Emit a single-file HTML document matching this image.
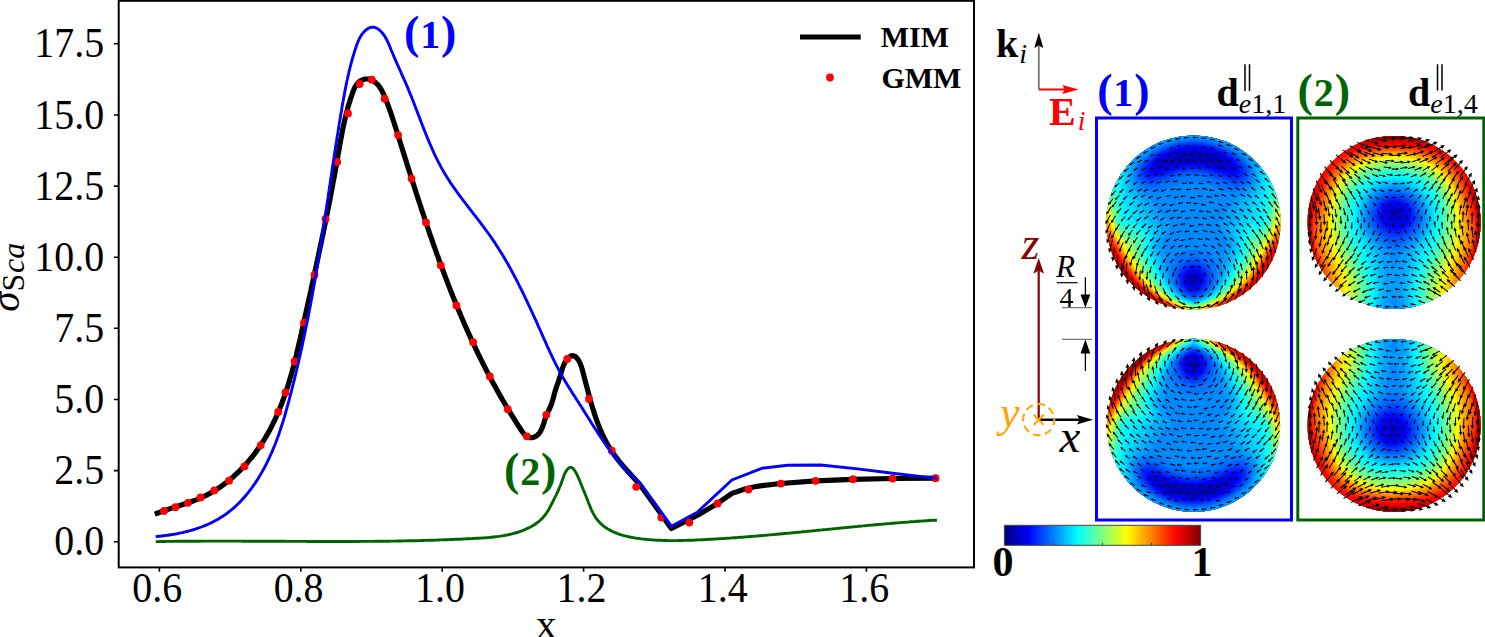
<!DOCTYPE html>
<html><head><meta charset="utf-8"><style>
html,body{margin:0;padding:0;background:#fff;overflow:hidden;width:1485px;height:637px}
svg{display:block}
text{font-family:"Liberation Serif", serif}
</style></head><body>
<svg width="1485" height="637" viewBox="0 0 1485 637" font-family='"Liberation Serif", serif'><path d="M157.2 541.6L158.9 541.6L160.6 541.5L162.3 541.5L164.1 541.5L165.8 541.5L167.5 541.4L169.2 541.4L170.9 541.4L172.6 541.4L174.3 541.4L176.1 541.3L177.8 541.3L179.5 541.3L181.2 541.3L182.9 541.3L184.6 541.3L186.3 541.2L188.0 541.2L189.8 541.2L191.5 541.2L193.2 541.2L194.9 541.2L196.6 541.2L198.3 541.2L200.0 541.2L201.7 541.1L203.4 541.1L205.1 541.1L206.9 541.1L208.6 541.1L210.3 541.1L212.0 541.1L213.7 541.1L215.4 541.1L217.1 541.1L218.8 541.1L220.5 541.1L222.2 541.1L223.9 541.1L225.7 541.1L227.4 541.1L229.1 541.1L230.8 541.1L232.5 541.1L234.2 541.1L235.9 541.1L237.6 541.1L239.3 541.1L241.0 541.1L242.7 541.2L244.4 541.2L246.1 541.2L247.8 541.2L249.5 541.2L251.3 541.2L253.0 541.2L254.7 541.2L256.4 541.2L258.1 541.2L259.8 541.2L261.5 541.2L263.2 541.2L264.9 541.2L266.6 541.3L268.3 541.3L270.0 541.3L271.7 541.3L273.4 541.3L275.1 541.3L276.8 541.3L278.5 541.3L280.2 541.3L281.9 541.3L283.6 541.3L285.3 541.3L287.1 541.4L288.8 541.4L290.5 541.4L292.2 541.4L293.9 541.4L295.6 541.4L297.3 541.4L299.0 541.4L300.7 541.4L302.4 541.4L304.1 541.4L305.8 541.4L307.5 541.5L309.2 541.5L310.9 541.5L312.6 541.5L314.3 541.5L316.0 541.5L317.7 541.5L319.4 541.5L321.1 541.5L322.8 541.5L324.5 541.5L326.2 541.5L327.9 541.5L329.6 541.5L331.4 541.5L333.1 541.5L334.8 541.5L336.5 541.5L338.2 541.5L339.9 541.5L341.6 541.5L343.3 541.5L345.0 541.5L346.7 541.5L348.4 541.5L350.1 541.5L351.8 541.5L353.5 541.5L355.2 541.5L356.9 541.5L358.6 541.5L360.3 541.4L362.0 541.4L363.7 541.4L365.4 541.4L367.1 541.4L368.8 541.4L370.6 541.4L372.3 541.4L374.0 541.4L375.7 541.3L377.4 541.3L379.1 541.3L380.8 541.3L382.5 541.3L384.2 541.2L385.9 541.2L387.6 541.2L389.3 541.2L391.0 541.1L392.7 541.1L394.4 541.1L396.1 541.1L397.9 541.0L399.6 541.0L401.3 541.0L403.0 540.9L404.7 540.9L406.4 540.9L408.1 540.8L409.8 540.8L411.5 540.8L413.2 540.7L414.9 540.7L416.6 540.7L418.4 540.6L420.1 540.6L421.8 540.5L423.5 540.5L425.2 540.4L426.9 540.4L428.6 540.3L430.3 540.3L432.0 540.2L433.7 540.2L435.5 540.1L437.2 540.1L438.9 540.0L440.6 539.9L442.3 539.9L444.0 539.8L445.7 539.7L447.4 539.7L449.2 539.6L450.9 539.5L452.6 539.5L454.3 539.4L456.0 539.3L457.7 539.3L459.4 539.2L461.2 539.1L462.9 539.0L464.6 538.9L466.3 538.8L468.0 538.8L469.7 538.7L471.4 538.6L473.2 538.5L474.9 538.4L476.6 538.3L478.3 538.2L480.0 538.1L481.7 538.0L483.5 537.9L485.2 537.8L486.9 537.6L488.6 537.5L490.3 537.3L492.0 537.2L493.7 537.0L495.4 536.8L497.1 536.6L498.8 536.4L500.5 536.1L502.1 535.9L503.8 535.6L505.5 535.3L507.1 535.0L508.8 534.6L510.4 534.3L512.1 533.9L513.7 533.4L515.3 533.0L516.9 532.5L518.5 532.0L520.1 531.5L521.7 530.9L523.3 530.3L524.9 529.6L526.4 528.9L528.0 528.2L529.5 527.5L531.0 526.7L532.5 525.8L534.0 525.0L535.4 524.0L536.8 523.0L538.2 522.0L539.5 520.9L540.7 519.8L542.0 518.6L543.1 517.4L544.2 516.0L545.3 514.7L546.3 513.3L547.3 511.8L548.2 510.4L549.1 508.9L549.9 507.3L550.7 505.8L551.5 504.3L552.3 502.7L553.1 501.2L553.8 499.6L554.6 498.1L555.3 496.6L556.1 495.1L556.8 493.6L557.5 492.1L558.2 490.6L558.8 489.1L559.5 487.5L560.2 486.0L560.8 484.4L561.4 482.8L562.0 481.1L562.6 479.4L563.2 477.7L563.8 476.0L564.5 474.3L565.2 472.7L566.1 471.1L567.1 469.7L568.2 468.5L569.8 467.4L571.4 467.4L573.0 468.5L574.1 469.8L575.1 471.3L576.1 472.9L576.9 474.5L577.7 476.1L578.4 477.8L579.1 479.4L579.8 481.0L580.4 482.6L581.1 484.2L581.7 485.8L582.4 487.3L583.0 488.9L583.6 490.4L584.3 491.9L584.9 493.5L585.5 495.0L586.1 496.6L586.8 498.2L587.4 499.8L588.0 501.4L588.6 503.0L589.3 504.6L589.9 506.2L590.6 507.8L591.3 509.5L592.0 511.0L592.8 512.6L593.6 514.1L594.4 515.6L595.3 517.1L596.3 518.5L597.3 519.8L598.4 521.1L599.6 522.4L600.7 523.6L602.0 524.7L603.3 525.8L604.6 526.8L606.0 527.8L607.4 528.7L608.9 529.6L610.4 530.4L611.9 531.2L613.4 531.9L615.0 532.6L616.5 533.2L618.1 533.8L619.7 534.4L621.4 534.9L623.0 535.4L624.7 535.8L626.3 536.2L628.0 536.6L629.7 537.0L631.4 537.3L633.1 537.6L634.8 537.9L636.5 538.2L638.2 538.4L639.9 538.6L641.6 538.9L643.3 539.1L645.0 539.2L646.8 539.4L648.5 539.6L650.2 539.7L651.9 539.9L653.6 540.0L655.3 540.1L657.0 540.2L658.7 540.3L660.4 540.3L662.1 540.4L663.8 540.5L665.5 540.5L667.2 540.5L668.9 540.6L670.6 540.6L672.3 540.6L674.0 540.6L675.7 540.6L677.4 540.6L679.2 540.5L680.9 540.5L682.6 540.5L684.3 540.4L686.0 540.4L687.7 540.3L689.4 540.3L691.1 540.2L692.8 540.2L694.5 540.1L696.2 540.0L697.9 539.9L699.6 539.9L701.3 539.8L703.0 539.7L704.7 539.6L706.4 539.5L708.1 539.4L709.8 539.3L711.5 539.2L713.2 539.1L714.9 539.0L716.6 538.9L718.3 538.8L720.0 538.7L721.7 538.6L723.4 538.5L725.1 538.4L726.8 538.3L728.5 538.2L730.2 538.1L731.9 537.9L733.6 537.8L735.3 537.7L737.0 537.6L738.7 537.4L740.4 537.3L742.1 537.2L743.8 537.1L745.5 536.9L747.2 536.8L748.9 536.7L750.6 536.5L752.3 536.4L754.0 536.2L755.7 536.1L757.4 536.0L759.1 535.8L760.8 535.7L762.5 535.5L764.2 535.4L765.9 535.2L767.6 535.1L769.3 534.9L771.0 534.8L772.7 534.6L774.4 534.5L776.1 534.3L777.8 534.2L779.5 534.0L781.2 533.8L783.0 533.7L784.7 533.5L786.4 533.4L788.1 533.2L789.8 533.1L791.5 532.9L793.2 532.7L794.9 532.6L796.6 532.4L798.3 532.2L800.0 532.1L801.7 531.9L803.4 531.7L805.1 531.6L806.8 531.4L808.5 531.2L810.2 531.1L811.9 530.9L813.6 530.7L815.3 530.6L817.0 530.4L818.7 530.2L820.4 530.1L822.1 529.9L823.8 529.7L825.5 529.6L827.2 529.4L828.9 529.2L830.6 529.1L832.3 528.9L834.0 528.7L835.7 528.6L837.4 528.4L839.1 528.2L840.8 528.1L842.5 527.9L844.2 527.7L845.9 527.6L847.6 527.4L849.3 527.2L851.0 527.1L852.7 526.9L854.4 526.7L856.1 526.6L857.8 526.4L859.5 526.2L861.2 526.1L862.9 525.9L864.6 525.8L866.3 525.6L868.0 525.4L869.7 525.3L871.4 525.1L873.1 525.0L874.8 524.8L876.5 524.7L878.2 524.5L879.9 524.4L881.6 524.2L883.3 524.1L885.0 523.9L886.7 523.8L888.4 523.6L890.1 523.5L891.8 523.3L893.5 523.2L895.2 523.0L896.9 522.9L898.6 522.8L900.3 522.6L902.0 522.5L903.7 522.4L905.4 522.2L907.1 522.1L908.8 522.0L910.5 521.8L912.2 521.7L914.0 521.6L915.7 521.5L917.4 521.3L919.1 521.2L920.8 521.1L922.5 521.0L924.2 520.9L925.9 520.8L927.6 520.7L929.3 520.5L931.0 520.4L932.7 520.3L934.4 520.2L935.5 520.2" fill="none" stroke="#006400" stroke-width="2.9" stroke-linejoin="round" stroke-linecap="square"/>
<path d="M157.3 513.3L158.7 512.8L160.1 512.2L161.5 511.6L163.0 511.1L164.4 510.6L165.9 510.1L167.3 509.6L168.8 509.1L170.3 508.6L171.7 508.1L173.2 507.6L174.7 507.1L176.2 506.7L177.7 506.2L179.1 505.7L180.6 505.2L182.1 504.8L183.6 504.3L185.1 503.8L186.5 503.3L188.0 502.8L189.5 502.3L191.0 501.8L192.4 501.2L193.9 500.7L195.3 500.1L196.8 499.6L198.2 499.0L199.6 498.4L201.0 497.7L202.5 497.1L203.9 496.4L205.2 495.8L206.6 495.1L208.0 494.4L209.4 493.6L210.7 492.9L212.1 492.1L213.4 491.3L214.7 490.5L216.0 489.7L217.3 488.9L218.6 488.0L219.9 487.2L221.2 486.3L222.4 485.4L223.7 484.5L224.9 483.5L226.2 482.6L227.4 481.7L228.6 480.7L229.8 479.7L231.0 478.7L232.2 477.7L233.4 476.7L234.5 475.6L235.7 474.6L236.8 473.5L237.9 472.5L239.1 471.4L240.2 470.3L241.3 469.2L242.3 468.0L243.4 466.9L244.5 465.8L245.5 464.6L246.6 463.5L247.6 462.3L248.6 461.1L249.6 459.9L250.6 458.7L251.6 457.5L252.6 456.3L253.5 455.1L254.5 453.9L255.4 452.6L256.3 451.4L257.2 450.1L258.1 448.8L259.0 447.6L259.9 446.3L260.7 445.0L261.6 443.7L262.4 442.4L263.3 441.1L264.1 439.8L264.9 438.5L265.7 437.2L266.4 435.9L267.2 434.5L268.0 433.2L268.7 431.9L269.5 430.5L270.2 429.2L270.9 427.8L271.6 426.4L272.3 425.1L273.0 423.7L273.6 422.3L274.3 420.9L275.0 419.6L275.6 418.2L276.2 416.8L276.9 415.4L277.5 414.0L278.1 412.6L278.7 411.1L279.3 409.7L279.9 408.3L280.4 406.9L281.0 405.4L281.6 404.0L282.1 402.6L282.6 401.1L283.2 399.7L283.7 398.2L284.2 396.8L284.7 395.3L285.2 393.9L285.7 392.4L286.2 391.0L286.7 389.5L287.2 388.0L287.7 386.5L288.1 385.1L288.6 383.6L289.0 382.1L289.5 380.6L289.9 379.1L290.4 377.6L290.8 376.2L291.2 374.7L291.6 373.2L292.1 371.7L292.5 370.2L292.9 368.7L293.3 367.2L293.7 365.7L294.1 364.1L294.5 362.6L294.8 361.1L295.2 359.6L295.6 358.1L296.0 356.6L296.4 355.1L296.7 353.6L297.1 352.0L297.4 350.5L297.8 349.0L298.2 347.5L298.5 346.0L298.9 344.4L299.2 342.9L299.6 341.4L299.9 339.9L300.3 338.3L300.6 336.8L300.9 335.3L301.3 333.8L301.6 332.2L302.0 330.7L302.3 329.2L302.6 327.7L303.0 326.2L303.3 324.6L303.6 323.1L304.0 321.6L304.3 320.1L304.7 318.5L305.0 317.0L305.3 315.5L305.7 314.0L306.0 312.5L306.3 311.0L306.7 309.4L307.0 307.9L307.3 306.4L307.7 304.9L308.0 303.4L308.3 301.9L308.7 300.3L309.0 298.8L309.3 297.3L309.7 295.8L310.0 294.3L310.3 292.8L310.7 291.3L311.0 289.8L311.3 288.2L311.7 286.7L312.0 285.2L312.3 283.7L312.7 282.2L313.0 280.7L313.3 279.2L313.6 277.7L314.0 276.2L314.3 274.7L314.6 273.1L315.0 271.6L315.3 270.1L315.6 268.6L315.9 267.1L316.3 265.6L316.6 264.1L316.9 262.6L317.2 261.1L317.6 259.6L317.9 258.1L318.2 256.6L318.5 255.0L318.8 253.5L319.2 252.0L319.5 250.5L319.8 249.0L320.1 247.5L320.4 246.0L320.8 244.5L321.1 243.0L321.4 241.5L321.7 240.0L322.0 238.5L322.3 237.0L322.7 235.5L323.0 233.9L323.3 232.4L323.6 230.9L323.9 229.4L324.2 227.9L324.5 226.4L324.8 224.9L325.1 223.4L325.5 221.9L325.8 220.4L326.1 218.9L326.4 217.4L326.7 215.8L327.0 214.3L327.3 212.8L327.6 211.3L327.9 209.8L328.2 208.3L328.5 206.8L328.8 205.3L329.1 203.7L329.4 202.2L329.7 200.7L330.0 199.2L330.3 197.7L330.5 196.2L330.8 194.7L331.1 193.1L331.4 191.6L331.7 190.1L332.0 188.6L332.3 187.1L332.6 185.6L332.8 184.0L333.1 182.5L333.4 181.0L333.7 179.5L334.0 178.0L334.3 176.4L334.5 174.9L334.8 173.4L335.1 171.9L335.4 170.3L335.6 168.8L335.9 167.3L336.2 165.8L336.4 164.2L336.7 162.7L337.0 161.2L337.2 159.7L337.5 158.1L337.8 156.6L338.0 155.1L338.3 153.5L338.6 152.0L338.8 150.5L339.1 148.9L339.4 147.4L339.6 145.9L339.9 144.3L340.2 142.8L340.5 141.3L340.7 139.8L341.0 138.2L341.3 136.7L341.6 135.2L341.9 133.6L342.2 132.1L342.5 130.6L342.8 129.1L343.1 127.6L343.4 126.0L343.8 124.5L344.1 123.0L344.4 121.5L344.8 120.0L345.1 118.5L345.5 116.9L345.9 115.4L346.2 113.9L346.6 112.4L347.0 110.9L347.4 109.4L347.8 107.9L348.2 106.4L348.7 104.9L349.1 103.4L349.6 102.0L350.0 100.5L350.5 99.0L351.0 97.5L351.5 96.0L352.0 94.6L352.5 93.1L353.0 91.6L353.6 90.2L354.2 88.8L354.8 87.4L355.6 86.1L356.4 84.8L357.8 83.0L358.9 82.0L360.1 81.1L361.5 80.3L363.0 79.7L364.5 79.2L366.1 79.0L367.6 79.0L369.1 79.2L370.6 79.6L372.0 80.2L373.3 80.9L374.6 81.8L375.8 82.8L376.9 83.8L378.0 84.9L379.0 86.1L379.9 87.4L380.7 88.7L381.5 90.0L382.2 91.4L382.9 92.8L383.6 94.2L384.2 95.6L384.8 97.1L385.4 98.5L386.0 100.0L386.6 101.5L387.2 102.9L387.7 104.4L388.3 105.9L388.8 107.3L389.3 108.8L389.8 110.3L390.4 111.7L390.9 113.2L391.4 114.7L391.9 116.1L392.4 117.6L392.8 119.1L393.3 120.5L393.8 122.0L394.3 123.5L394.7 124.9L395.2 126.4L395.7 127.9L396.1 129.3L396.6 130.8L397.1 132.3L397.5 133.7L398.0 135.2L398.4 136.7L398.9 138.1L399.4 139.6L399.8 141.1L400.3 142.6L400.7 144.0L401.2 145.5L401.6 147.0L402.1 148.4L402.6 149.9L403.0 151.4L403.5 152.9L404.0 154.3L404.4 155.8L404.9 157.3L405.3 158.8L405.8 160.2L406.3 161.7L406.7 163.2L407.2 164.7L407.7 166.1L408.1 167.6L408.6 169.1L409.1 170.6L409.5 172.0L410.0 173.5L410.5 175.0L410.9 176.5L411.4 177.9L411.9 179.4L412.3 180.9L412.8 182.4L413.3 183.8L413.8 185.3L414.2 186.8L414.7 188.3L415.2 189.7L415.7 191.2L416.1 192.7L416.6 194.2L417.1 195.6L417.6 197.1L418.0 198.6L418.5 200.1L419.0 201.5L419.5 203.0L420.0 204.5L420.5 206.0L420.9 207.4L421.4 208.9L421.9 210.4L422.4 211.8L422.9 213.3L423.4 214.8L423.9 216.3L424.4 217.7L424.8 219.2L425.3 220.7L425.8 222.1L426.3 223.6L426.8 225.1L427.3 226.6L427.8 228.0L428.3 229.5L428.8 231.0L429.3 232.4L429.8 233.9L430.3 235.4L430.8 236.8L431.4 238.3L431.9 239.8L432.4 241.2L432.9 242.7L433.4 244.2L433.9 245.6L434.4 247.1L435.0 248.5L435.5 250.0L436.0 251.5L436.5 252.9L437.0 254.4L437.6 255.8L438.1 257.3L438.6 258.8L439.1 260.2L439.7 261.7L440.2 263.1L440.7 264.6L441.3 266.0L441.8 267.5L442.4 268.9L442.9 270.4L443.4 271.8L444.0 273.3L444.5 274.7L445.1 276.2L445.6 277.6L446.2 279.1L446.7 280.5L447.3 282.0L447.8 283.4L448.4 284.9L449.0 286.3L449.5 287.7L450.1 289.2L450.6 290.6L451.2 292.1L451.8 293.5L452.4 294.9L452.9 296.4L453.5 297.8L454.1 299.2L454.7 300.7L455.2 302.1L455.8 303.5L456.4 305.0L457.0 306.4L457.6 307.8L458.2 309.2L458.8 310.7L459.4 312.1L460.0 313.5L460.6 314.9L461.2 316.4L461.8 317.8L462.4 319.2L463.0 320.6L463.6 322.0L464.2 323.4L464.8 324.8L465.5 326.3L466.1 327.7L466.7 329.1L467.3 330.5L468.0 331.9L468.6 333.3L469.2 334.7L469.9 336.1L470.5 337.5L471.1 338.9L471.8 340.3L472.4 341.7L473.1 343.1L473.7 344.5L474.4 345.9L475.1 347.3L475.7 348.7L476.4 350.1L477.0 351.5L477.7 352.9L478.4 354.3L479.1 355.7L479.7 357.0L480.4 358.4L481.1 359.8L481.8 361.2L482.5 362.6L483.2 364.0L483.9 365.3L484.6 366.7L485.3 368.1L486.0 369.5L486.7 370.9L487.4 372.2L488.1 373.6L488.8 375.0L489.6 376.4L490.3 377.7L491.0 379.1L491.7 380.5L492.5 381.8L493.2 383.2L494.0 384.6L494.7 385.9L495.5 387.3L496.2 388.6L497.0 390.0L497.7 391.4L498.5 392.7L499.2 394.1L500.0 395.4L500.8 396.8L501.6 398.1L502.3 399.5L503.1 400.9L503.9 402.2L504.7 403.5L505.5 404.9L506.3 406.2L507.1 407.6L507.9 408.9L508.7 410.3L509.5 411.6L510.3 413.0L511.2 414.3L512.0 415.6L512.8 417.0L513.7 418.3L514.5 419.7L515.3 421.0L516.2 422.3L517.0 423.7L517.9 425.0L518.7 426.3L519.6 427.6L520.5 429.0L521.3 430.3L522.2 431.6L523.1 432.8L524.6 434.6L526.1 436.0L527.8 437.1L529.6 437.7L531.7 437.7L533.9 437.2L535.3 436.6L537.1 435.4L538.7 433.8L539.7 432.6L540.5 431.3L541.2 429.9L541.9 428.4L542.5 426.9L543.1 425.3L543.7 423.6L544.2 422.0L544.7 420.3L545.2 418.7L545.8 417.1L546.3 415.6L547.0 414.1L547.6 412.7L548.3 411.3L548.9 409.9L549.6 408.6L550.5 406.5L551.1 405.1L551.6 403.7L552.1 402.2L552.5 400.7L553.0 399.2L553.4 397.7L553.8 396.2L554.1 394.6L554.5 393.1L555.0 391.7L555.4 390.2L556.1 388.1L556.8 386.0L557.6 383.9L558.4 381.8L558.8 380.3L559.3 378.8L559.8 377.3L560.2 375.8L560.7 374.2L561.1 372.6L561.6 371.1L562.1 369.5L562.6 367.9L563.2 366.4L563.8 364.9L564.5 363.4L565.2 362.0L566.1 360.7L567.0 359.4L568.0 358.2L569.6 356.8L571.3 355.8L573.0 355.6L574.7 356.2L576.3 357.4L577.3 358.6L578.3 359.9L579.1 361.4L579.9 362.9L580.5 364.4L581.1 365.9L581.6 367.4L582.0 368.9L582.5 370.4L582.9 371.9L583.3 373.4L583.7 374.9L584.1 376.4L584.4 377.9L584.8 379.4L585.2 380.9L585.6 382.4L586.0 383.9L586.4 385.4L586.8 386.9L587.2 388.4L587.6 389.9L588.0 391.4L588.4 392.9L588.8 394.5L589.2 396.0L589.6 397.5L590.0 399.0L590.4 400.5L590.9 402.0L591.3 403.5L591.7 405.0L592.2 406.5L592.6 408.0L593.1 409.4L593.6 410.9L594.0 412.4L594.5 413.9L595.0 415.4L595.5 416.8L596.0 418.3L596.5 419.8L597.0 421.2L597.6 422.7L598.1 424.1L598.7 425.6L599.3 427.0L599.8 428.4L600.4 429.8L601.1 431.3L601.7 432.7L602.3 434.1L603.0 435.5L603.6 436.9L604.3 438.2L605.0 439.6L605.7 441.0L606.4 442.3L607.2 443.7L607.9 445.0L608.7 446.3L609.5 447.7L610.3 449.0L611.2 450.3L612.0 451.6L612.9 452.9L613.8 454.1L614.7 455.4L615.6 456.6L616.5 457.9L617.5 459.1L618.4 460.4L619.4 461.6L620.4 462.8L621.4 464.0L622.4 465.2L623.4 466.4L624.4 467.6L625.5 468.7L626.5 469.9L627.5 471.1L628.6 472.2L629.6 473.4L630.7 474.5L631.7 475.7L632.7 476.8L633.8 478.0L634.8 479.1L635.9 480.2L636.9 481.3L637.9 482.4L639.0 483.6L640.0 484.7L671.4 528.5L700.5 513.6L717.6 503.4L731.9 493.4L745.0 489.0L757.0 486.3L780.9 483.5L815.6 480.9L852.9 479.3L892.6 478.5L935.5 478.2" fill="none" stroke="#000" stroke-width="5.2" stroke-linejoin="round" stroke-linecap="square"/>
<g fill="#ff0000"><circle cx="164.0" cy="510.9" r="3.9"/><circle cx="175.5" cy="507.2" r="3.9"/><circle cx="187.9" cy="502.8" r="3.9"/><circle cx="200.6" cy="497.4" r="3.9"/><circle cx="214.3" cy="490.4" r="3.9"/><circle cx="229.1" cy="480.7" r="3.9"/><circle cx="244.4" cy="466.4" r="3.9"/><circle cx="260.7" cy="445.3" r="3.9"/><circle cx="278.2" cy="412.0" r="3.9"/><circle cx="285.5" cy="392.5" r="3.9"/><circle cx="294.6" cy="361.5" r="3.9"/><circle cx="304.0" cy="322.6" r="3.9"/><circle cx="314.5" cy="274.9" r="3.9"/><circle cx="325.5" cy="219.0" r="3.9"/><circle cx="337.1" cy="162.0" r="3.9"/><circle cx="348.0" cy="113.4" r="3.9"/><circle cx="359.7" cy="84.0" r="3.9"/><circle cx="371.8" cy="79.7" r="3.9"/><circle cx="384.6" cy="98.7" r="3.9"/><circle cx="398.1" cy="135.1" r="3.9"/><circle cx="411.5" cy="178.6" r="3.9"/><circle cx="426.0" cy="222.5" r="3.9"/><circle cx="440.8" cy="265.3" r="3.9"/><circle cx="456.4" cy="305.4" r="3.9"/><circle cx="473.1" cy="342.2" r="3.9"/><circle cx="489.8" cy="376.4" r="3.9"/><circle cx="507.8" cy="409.2" r="3.9"/><circle cx="526.8" cy="436.3" r="3.9"/><circle cx="546.3" cy="414.8" r="3.9"/><circle cx="567.2" cy="359.0" r="3.9"/><circle cx="589.0" cy="399.0" r="3.9"/><circle cx="611.8" cy="450.7" r="3.9"/><circle cx="636.2" cy="486.8" r="3.9"/><circle cx="661.3" cy="517.6" r="3.9"/><circle cx="689.3" cy="522.6" r="3.9"/><circle cx="717.6" cy="503.5" r="3.9"/><circle cx="748.5" cy="489.5" r="3.9"/><circle cx="780.9" cy="483.6" r="3.9"/><circle cx="815.6" cy="480.8" r="3.9"/><circle cx="852.9" cy="479.2" r="3.9"/><circle cx="892.6" cy="478.5" r="3.9"/><circle cx="935.6" cy="478.2" r="3.9"/></g>
<path d="M157.2 536.4L159.4 536.2L161.6 536.0L163.1 535.8L164.6 535.6L166.1 535.4L167.6 535.3L169.1 535.0L170.6 534.8L172.1 534.6L173.6 534.3L175.1 534.1L176.6 533.8L178.0 533.5L179.5 533.2L181.0 532.9L182.5 532.6L184.0 532.2L185.4 531.9L186.9 531.5L188.4 531.1L189.8 530.7L191.3 530.3L192.8 529.9L194.2 529.5L195.6 529.0L197.1 528.5L198.5 528.0L199.9 527.5L201.3 527.0L202.7 526.5L204.1 525.9L205.5 525.3L207.6 524.5L209.6 523.5L211.6 522.6L213.6 521.6L215.6 520.5L217.6 519.4L219.5 518.3L221.4 517.1L223.3 515.9L225.1 514.7L226.9 513.4L228.7 512.0L230.4 510.6L232.2 509.2L233.8 507.8L235.5 506.3L237.1 504.7L238.7 503.2L240.3 501.6L241.9 499.9L242.9 498.8L243.9 497.7L244.9 496.6L245.8 495.4L246.8 494.3L247.8 493.1L248.7 491.9L249.6 490.7L250.6 489.5L251.5 488.3L252.4 487.1L253.2 485.9L254.1 484.6L255.0 483.4L255.8 482.1L256.6 480.8L257.5 479.5L258.3 478.2L259.1 476.9L259.9 475.6L260.7 474.3L261.4 473.0L262.2 471.7L262.9 470.3L263.7 469.0L264.4 467.7L265.1 466.3L265.8 465.0L266.5 463.6L267.2 462.2L267.8 460.9L268.5 459.5L269.2 458.1L269.8 456.7L270.4 455.4L271.0 454.0L271.7 452.6L272.3 451.2L272.8 449.8L273.4 448.4L274.0 447.0L274.6 445.6L275.1 444.2L275.7 442.8L276.2 441.4L276.7 440.0L277.5 437.9L278.3 435.8L279.0 433.7L279.7 431.6L280.4 429.5L281.1 427.3L281.8 425.2L282.5 423.1L283.2 420.9L283.8 418.8L284.5 416.6L285.1 414.5L285.7 412.3L286.3 410.2L286.9 408.0L287.5 405.8L288.1 403.7L288.7 401.5L289.3 399.4L289.8 397.2L290.4 395.0L291.0 392.8L291.5 390.7L292.1 388.5L292.6 386.3L293.2 384.1L293.7 382.0L294.3 379.8L294.8 377.6L295.3 375.4L295.7 373.9L296.0 372.5L296.4 371.0L296.7 369.6L297.1 368.1L297.4 366.6L297.8 365.2L298.1 363.7L298.5 362.3L298.8 360.8L299.1 359.3L299.5 357.9L299.8 356.4L300.1 354.9L300.5 353.5L300.8 352.0L301.1 350.5L301.4 349.1L301.8 347.6L302.1 346.1L302.4 344.6L302.7 343.2L303.0 341.7L303.3 340.2L303.7 338.8L304.0 337.3L304.3 335.8L304.6 334.3L304.9 332.9L305.2 331.4L305.5 329.9L305.8 328.4L306.1 327.0L306.4 325.5L306.7 324.0L307.0 322.5L307.3 321.1L307.6 319.6L307.9 318.1L308.2 316.6L308.5 315.1L308.8 313.7L309.1 312.2L309.3 310.7L309.6 309.2L309.9 307.7L310.2 306.3L310.5 304.8L310.8 303.3L311.0 301.8L311.3 300.3L311.6 298.8L311.9 297.4L312.1 295.9L312.4 294.4L312.7 292.9L312.9 291.4L313.2 289.9L313.5 288.5L313.7 287.0L314.0 285.5L314.3 284.0L314.5 282.5L314.8 281.0L315.1 279.5L315.3 278.1L315.6 276.6L315.8 275.1L316.1 273.6L316.3 272.1L316.6 270.6L316.8 269.1L317.1 267.6L317.3 266.2L317.6 264.7L317.8 263.2L318.1 261.7L318.3 260.2L318.6 258.7L318.8 257.2L319.0 255.7L319.3 254.2L319.5 252.8L319.8 251.3L320.0 249.8L320.2 248.3L320.5 246.8L320.7 245.3L320.9 243.8L321.2 242.3L321.4 240.8L321.6 239.4L321.9 237.9L322.1 236.4L322.3 234.9L322.6 233.4L322.8 231.9L323.0 230.4L323.3 228.9L323.5 227.4L323.7 226.0L323.9 224.5L324.2 223.0L324.4 221.5L324.6 220.0L324.8 218.5L325.1 217.0L325.3 215.5L325.5 214.0L325.7 212.6L326.0 211.1L326.2 209.6L326.4 208.1L326.6 206.6L326.9 205.1L327.1 203.6L327.3 202.1L327.5 200.6L327.7 199.2L328.0 197.7L328.2 196.2L328.4 194.7L328.6 193.2L328.8 191.7L329.1 190.2L329.3 188.7L329.5 187.3L329.7 185.8L330.0 184.3L330.2 182.8L330.4 181.3L330.6 179.8L330.8 178.3L331.1 176.8L331.3 175.4L331.5 173.9L331.7 172.4L331.9 170.9L332.2 169.4L332.4 167.9L332.6 166.4L332.8 165.0L333.1 163.5L333.3 162.0L333.5 160.5L333.7 159.0L334.0 157.5L334.2 156.0L334.4 154.6L334.6 153.1L334.9 151.6L335.1 150.1L335.3 148.6L335.6 147.1L335.9 144.9L336.2 142.7L336.6 140.5L336.9 138.3L337.3 136.0L337.7 133.8L338.0 131.6L338.4 129.4L338.7 127.2L339.1 124.9L339.4 122.7L339.8 120.5L340.2 118.3L340.5 116.1L340.9 113.9L341.3 111.7L341.7 109.4L342.0 107.2L342.4 105.0L342.8 102.8L343.2 100.6L343.6 98.4L344.0 96.2L344.4 94.0L344.8 91.8L345.2 89.6L345.7 87.4L346.1 85.2L346.5 83.0L346.8 81.5L347.2 80.0L347.5 78.5L347.8 77.1L348.1 75.6L348.5 74.1L348.8 72.7L349.1 71.2L349.5 69.7L349.9 68.3L350.2 66.8L350.6 65.3L351.0 63.8L351.4 62.4L351.8 60.9L352.2 59.4L352.6 58.0L353.0 56.5L353.5 55.0L353.9 53.5L354.4 52.1L354.8 50.6L355.3 49.1L355.8 47.7L356.3 46.2L356.8 44.7L357.4 43.3L357.9 41.8L358.6 40.4L359.2 39.1L359.9 37.7L360.6 36.4L361.8 34.5L363.2 32.8L364.7 31.1L366.3 29.7L368.1 28.5L369.9 27.6L371.8 27.2L373.8 27.2L375.8 27.8L377.7 28.8L378.9 29.7L380.1 30.7L381.2 31.7L382.3 32.9L383.2 34.1L384.2 35.4L385.0 36.6L385.8 38.0L386.5 39.3L387.2 40.7L387.9 42.1L388.5 43.5L389.1 44.9L389.7 46.3L390.3 47.7L390.8 49.2L391.4 50.6L392.0 52.0L392.6 53.4L393.2 54.8L393.8 56.2L394.4 57.6L395.0 59.0L395.6 60.4L396.2 61.8L396.8 63.1L397.4 64.5L398.0 65.9L398.9 67.9L399.9 70.0L400.8 72.0L401.7 74.1L402.6 76.1L403.5 78.1L404.4 80.2L405.3 82.2L406.2 84.3L407.1 86.3L408.0 88.4L408.8 90.5L409.7 92.6L410.5 94.6L411.1 96.0L411.7 97.4L412.2 98.8L412.8 100.2L413.3 101.6L413.9 103.0L414.4 104.4L414.9 105.8L415.5 107.3L416.0 108.7L416.6 110.1L417.1 111.5L417.6 112.9L418.2 114.3L418.7 115.7L419.3 117.1L419.8 118.5L420.3 119.9L420.9 121.4L421.4 122.8L422.0 124.2L422.5 125.6L423.1 127.0L423.6 128.4L424.2 129.8L424.7 131.2L425.3 132.6L425.8 134.0L426.4 135.4L427.0 136.8L427.5 138.2L428.1 139.6L428.7 141.0L429.3 142.4L429.9 143.8L430.5 145.2L431.1 146.5L431.7 147.9L432.3 149.3L432.9 150.7L433.5 152.0L434.1 153.4L434.8 154.8L435.4 156.1L436.4 158.1L437.4 160.1L438.4 162.2L439.5 164.1L440.5 166.1L441.6 168.1L442.7 170.1L443.8 172.0L444.9 173.9L446.1 175.8L447.3 177.8L448.5 179.6L449.7 181.5L450.9 183.4L452.2 185.3L453.5 187.1L454.8 188.9L456.1 190.8L457.0 192.0L457.8 193.2L458.7 194.4L459.6 195.6L460.5 196.8L461.4 198.0L462.3 199.2L463.2 200.4L464.1 201.6L465.1 202.8L466.0 204.0L466.9 205.2L467.8 206.4L468.7 207.6L469.7 208.8L470.6 210.0L471.5 211.2L472.4 212.4L473.4 213.6L474.3 214.8L475.2 215.9L476.1 217.1L477.1 218.3L478.0 219.5L478.9 220.7L479.8 221.9L480.7 223.1L481.6 224.3L482.5 225.5L483.4 226.7L484.3 227.9L485.2 229.1L486.1 230.3L487.0 231.6L487.9 232.8L488.8 234.0L489.7 235.2L490.5 236.5L491.4 237.7L492.2 238.9L493.1 240.2L493.9 241.4L494.8 242.7L495.6 243.9L496.4 245.2L497.2 246.4L498.0 247.7L498.8 249.0L499.6 250.2L500.4 251.5L501.2 252.8L502.0 254.1L502.8 255.3L503.5 256.6L504.3 257.9L505.1 259.2L505.8 260.5L506.6 261.8L507.3 263.1L508.1 264.4L508.8 265.7L509.5 267.0L510.3 268.3L511.0 269.7L511.7 271.0L512.4 272.3L513.1 273.6L513.8 274.9L514.5 276.3L515.2 277.6L515.9 278.9L516.6 280.3L517.3 281.6L518.0 282.9L518.7 284.3L519.3 285.6L520.0 287.0L520.7 288.3L521.4 289.7L522.0 291.0L522.7 292.4L523.3 293.7L524.0 295.1L524.7 296.4L525.3 297.8L525.9 299.2L526.6 300.5L527.2 301.9L527.9 303.2L528.5 304.6L529.2 306.0L529.8 307.3L530.4 308.7L531.1 310.1L531.7 311.4L532.3 312.8L532.9 314.2L533.6 315.6L534.2 316.9L534.8 318.3L535.4 319.7L536.1 321.0L536.7 322.4L537.3 323.8L537.9 325.2L538.5 326.5L539.1 327.9L539.8 329.3L540.4 330.7L541.0 332.0L541.6 333.4L542.2 334.8L542.8 336.2L543.4 337.5L544.0 338.9L544.7 340.3L545.3 341.7L545.9 343.0L546.5 344.4L547.1 345.8L547.7 347.1L548.4 348.5L549.0 349.9L549.6 351.2L550.2 352.6L550.9 354.0L551.5 355.3L552.5 357.4L553.4 359.4L554.4 361.4L555.4 363.4L556.4 365.4L557.5 367.4L558.5 369.4L559.6 371.4L560.6 373.4L561.7 375.3L562.8 377.3L564.0 379.2L565.1 381.2L565.9 382.4L566.7 383.7L567.4 385.0L568.2 386.3L569.0 387.6L569.8 388.8L570.6 390.1L571.4 391.4L572.2 392.7L573.0 393.9L573.8 395.2L574.7 396.5L575.5 397.7L576.3 399.0L577.1 400.3L577.9 401.5L578.7 402.8L579.5 404.1L580.4 405.3L581.2 406.6L582.0 407.9L582.8 409.1L583.6 410.4L584.4 411.7L585.2 413.0L586.0 414.2L586.8 415.5L587.6 416.8L588.4 418.1L589.2 419.3L590.0 420.6L590.8 421.9L591.6 423.2L592.4 424.4L593.2 425.7L594.0 427.0L594.9 428.3L595.7 429.5L596.5 430.8L597.3 432.1L598.1 433.3L598.9 434.6L599.8 435.8L600.6 437.1L601.4 438.3L602.3 439.6L603.1 440.8L603.9 442.1L604.8 443.3L605.7 444.5L606.9 446.4L608.3 448.2L609.6 450.0L610.9 451.8L612.3 453.6L613.6 455.4L615.0 457.2L616.4 459.0L617.8 460.7L619.2 462.4L620.7 464.1L622.2 465.8L623.7 467.5L624.7 468.6L625.7 469.7L626.7 470.8L627.8 471.9L628.8 473.0L629.9 474.0L631.0 475.1L632.1 476.1L633.2 477.2L634.3 478.2L635.4 479.2L636.6 480.2L637.7 481.2L638.9 482.2L640.0 483.2L671.4 526.3L697.3 512.2L731.9 480.0L761.7 468.3L787.5 465.2L820.8 465.0L857.6 468.9L892.6 473.3L935.5 478.2" fill="none" stroke="#0000ff" stroke-width="2.9" stroke-linejoin="round" stroke-linecap="square"/>
<rect x="118.7" y="0.8" width="855.3" height="566.6" fill="none" stroke="#000" stroke-width="2"/>
<text transform="translate(104.1 555.3) scale(0.95 1)" font-size="42" text-anchor="end">0.0</text>
<text transform="translate(104.1 484.2) scale(0.95 1)" font-size="42" text-anchor="end">2.5</text>
<text transform="translate(104.1 413.1) scale(0.95 1)" font-size="42" text-anchor="end">5.0</text>
<text transform="translate(104.1 341.9) scale(0.95 1)" font-size="42" text-anchor="end">7.5</text>
<text transform="translate(104.1 270.8) scale(0.95 1)" font-size="42" text-anchor="end">10.0</text>
<text transform="translate(104.1 199.7) scale(0.95 1)" font-size="42" text-anchor="end">12.5</text>
<text transform="translate(104.1 128.6) scale(0.95 1)" font-size="42" text-anchor="end">15.0</text>
<text transform="translate(104.1 57.4) scale(0.95 1)" font-size="42" text-anchor="end">17.5</text>
<text transform="translate(157.2 601.5) scale(0.95 1)" font-size="42" text-anchor="middle">0.6</text>
<text transform="translate(298.6 601.5) scale(0.95 1)" font-size="42" text-anchor="middle">0.8</text>
<text transform="translate(440.0 601.5) scale(0.95 1)" font-size="42" text-anchor="middle">1.0</text>
<text transform="translate(581.4 601.5) scale(0.95 1)" font-size="42" text-anchor="middle">1.2</text>
<text transform="translate(722.8 601.5) scale(0.95 1)" font-size="42" text-anchor="middle">1.4</text>
<text transform="translate(864.2 601.5) scale(0.95 1)" font-size="42" text-anchor="middle">1.6</text>
<path d="M113.9 541.7H118.7M113.9 470.6H118.7M113.9 399.5H118.7M113.9 328.3H118.7M113.9 257.2H118.7M113.9 186.1H118.7M113.9 115.0H118.7M113.9 43.8H118.7M159.4 567.4V571.8M300.8 567.4V571.8M442.2 567.4V571.8M583.6 567.4V571.8M725.0 567.4V571.8M866.4 567.4V571.8" stroke="#000" stroke-width="1.6"/>
<text x="546.3" y="637.5" font-size="41" font-weight="normal" font-style="normal" fill="#000" text-anchor="middle" >x</text>
<text transform="translate(18.8 311.8) rotate(-90)" font-size="41" fill="#000"><tspan font-style="italic">σ</tspan><tspan font-size="32" dy="5.5">S</tspan><tspan font-size="32" font-style="italic" dx="0.8">ca</tspan></text>
<path d="M800 37H860.7" stroke="#000" stroke-width="5.2"/>
<circle cx="830" cy="77.5" r="3.9" fill="#ff0000"/>
<text x="880.7" y="47.3" font-size="30" font-weight="bold" font-style="normal" fill="#000" text-anchor="start" >MIM</text>
<text x="881.4" y="87.7" font-size="30" font-weight="bold" font-style="normal" fill="#000" text-anchor="start" >GMM</text>
<text x="404" y="47.8" fill="#0000ff" font-weight="bold" font-size="40"><tspan font-size="46">(</tspan><tspan dx="0.8">1</tspan><tspan font-size="46" dx="0.9">)</tspan></text>
<text x="504" y="485.3" fill="#006400" font-weight="bold" font-size="40"><tspan font-size="46">(</tspan><tspan dx="0.8">2</tspan><tspan font-size="46" dx="0.9">)</tspan></text>
<path d="M1038.8 89.5V46" stroke="#777" stroke-width="1.8"/>
<path d="M1038.8 32.6L1034.3 48L1038.8 45.5L1043.3 48Z" fill="#000"/>
<path d="M1038.8 89.5H1066" stroke="#ff0000" stroke-width="2"/>
<path d="M1078.5 89.5L1062.3 85L1064.8 89.5L1062.3 94Z" fill="#ff0000"/>
<text x="996" y="57" font-size="40" font-weight="bold">k<tspan font-size="28" font-weight="normal" font-style="italic" dy="5.5" dx="1">i</tspan></text>
<text x="1049" y="124.8" font-size="40" font-weight="bold" fill="#ff0000">E<tspan font-size="28" font-weight="normal" font-style="italic" dy="5" dx="2">i</tspan></text>
<text x="1097.2" y="106" fill="#0000ff" font-weight="bold" font-size="40"><tspan font-size="46">(</tspan><tspan dx="0.8">1</tspan><tspan font-size="46" dx="0.9">)</tspan></text>
<text x="1297.6" y="105.8" fill="#006400" font-weight="bold" font-size="40"><tspan font-size="46">(</tspan><tspan dx="0.8">2</tspan><tspan font-size="46" dx="0.9">)</tspan></text>
<text x="1216.5" y="105.9" font-size="40" font-weight="bold">d<tspan font-size="28" font-weight="normal" font-style="italic" dy="7">e</tspan><tspan font-size="28" font-weight="normal">1,1</tspan></text>
<text x="1408" y="105.6" font-size="40" font-weight="bold">d<tspan font-size="28" font-weight="normal" font-style="italic" dy="7">e</tspan><tspan font-size="28" font-weight="normal">1,4</tspan></text>
<path d="M1245 64.2V91M1249.5 64.2V91M1437.5 64.2V90.5M1442 64.2V90.5" stroke="#000" stroke-width="1.5"/>
<rect x="1096.5" y="118" width="195" height="402" fill="none" stroke="#0000ff" stroke-width="3"/>
<rect x="1297.8" y="118" width="186" height="402" fill="none" stroke="#006400" stroke-width="3"/>
<path d="M1038.7 419.7V270" stroke="#8b0000" stroke-width="2.2"/>
<path d="M1038.7 257.9L1033.3 273.7L1038.7 270.5L1044.1 273.7Z" fill="#8b0000"/>
<text x="1021.5" y="258.8" font-size="46" font-weight="normal" font-style="italic" fill="#8b0000" text-anchor="start" >z</text>
<text x="1056" y="277.3" font-size="31" font-weight="normal" font-style="italic" fill="#000" text-anchor="start" >R</text>
<path d="M1056.9 282.7H1077.6" stroke="#000" stroke-width="1.2"/>
<text x="1059.6" y="306.5" font-size="28" font-weight="normal" font-style="normal" fill="#000" text-anchor="start" >4</text>
<path d="M1061.8 307.7H1092.2M1061.8 339.4H1092.2" stroke="#777" stroke-width="1.3"/>
<path d="M1085.4 277.3V296M1085.4 352V371" stroke="#000" stroke-width="1.3"/>
<path d="M1085.4 307.7L1080.5 294.4L1090.3 294.4ZM1085.4 339.4L1080.5 353.5L1090.3 353.5Z" fill="#000"/>
<path d="M1038.7 419.7H1080" stroke="#000" stroke-width="2.4"/>
<path d="M1093 419.7L1076.8 414.9L1079.8 419.7L1076.8 424.5Z" fill="#000"/>
<circle cx="1038.7" cy="419.7" r="15.6" fill="none" stroke="#ffa500" stroke-width="2" stroke-dasharray="7.8 4.45" stroke-dashoffset="2"/>
<path d="M1033.7 414.7L1043.7 424.7M1043.7 414.7L1033.7 424.7" stroke="#ffa500" stroke-width="2"/>
<text x="1000" y="426.5" font-size="44" font-weight="normal" font-style="italic" fill="#ffa500" text-anchor="start" >y</text>
<text x="1059.5" y="451.8" font-size="47" font-weight="normal" font-style="italic" fill="#000" text-anchor="start" >x</text>
<defs><linearGradient id="cbg" x1="0" x2="1" y1="0" y2="0"><stop offset="0.000" stop-color="#000080"/><stop offset="0.025" stop-color="#000099"/><stop offset="0.050" stop-color="#0000b2"/><stop offset="0.075" stop-color="#0000cc"/><stop offset="0.100" stop-color="#0000e6"/><stop offset="0.125" stop-color="#0000ff"/><stop offset="0.150" stop-color="#001aff"/><stop offset="0.175" stop-color="#0033ff"/><stop offset="0.200" stop-color="#004dff"/><stop offset="0.225" stop-color="#0066ff"/><stop offset="0.250" stop-color="#0080ff"/><stop offset="0.275" stop-color="#0099ff"/><stop offset="0.300" stop-color="#00b3ff"/><stop offset="0.325" stop-color="#00ccff"/><stop offset="0.350" stop-color="#00e6ff"/><stop offset="0.375" stop-color="#00ffff"/><stop offset="0.400" stop-color="#1affe5"/><stop offset="0.425" stop-color="#33ffcc"/><stop offset="0.450" stop-color="#4dffb2"/><stop offset="0.475" stop-color="#66ff99"/><stop offset="0.500" stop-color="#80ff80"/><stop offset="0.525" stop-color="#99ff66"/><stop offset="0.550" stop-color="#b3ff4c"/><stop offset="0.575" stop-color="#ccff33"/><stop offset="0.600" stop-color="#e6ff19"/><stop offset="0.625" stop-color="#ffff00"/><stop offset="0.650" stop-color="#ffe500"/><stop offset="0.675" stop-color="#ffcc00"/><stop offset="0.700" stop-color="#ffb200"/><stop offset="0.725" stop-color="#ff9900"/><stop offset="0.750" stop-color="#ff8000"/><stop offset="0.775" stop-color="#ff6600"/><stop offset="0.800" stop-color="#ff4c00"/><stop offset="0.825" stop-color="#ff3300"/><stop offset="0.850" stop-color="#ff1900"/><stop offset="0.875" stop-color="#ff0000"/><stop offset="0.900" stop-color="#e50000"/><stop offset="0.925" stop-color="#cc0000"/><stop offset="0.950" stop-color="#b20000"/><stop offset="0.975" stop-color="#990000"/><stop offset="1.000" stop-color="#800000"/></linearGradient></defs><rect x="1004.4" y="525.3" width="196.2" height="20" fill="url(#cbg)" stroke="#444" stroke-width="1"/><path d="M1053.5 545.3v-2.5M1102.5 545.3v-2.5M1151.5 545.3v-2.5" stroke="#444" stroke-width="1"/>
<text x="992.5" y="575.8" font-size="42" font-weight="bold" font-style="normal" fill="#000" text-anchor="start" >0</text>
<text x="1191.5" y="575.8" font-size="42" font-weight="bold" font-style="normal" fill="#000" text-anchor="start" >1</text>
<defs>
<clipPath id="cc0"><circle cx="1193.5" cy="222.5" r="87.0"/></clipPath>
<clipPath id="cc1"><circle cx="1193.6" cy="425.3" r="86.5"/></clipPath>
<clipPath id="cc2"><circle cx="1394.1" cy="222.4" r="86.5"/></clipPath>
<clipPath id="cc3"><circle cx="1394.1" cy="425.4" r="86.5"/></clipPath>
</defs>
<g clip-path="url(#cc0)">
<circle cx="1193.5" cy="222.5" r="87.0" fill="#0000b5"/>
<path d="M1280.5 309.7L1106.3 309.5L1106.5 135.4L1280.6 135.5L1280.5 309.7ZM1222.2 163.5L1222.6 163.0L1222.5 162.0L1221.0 160.0L1218.2 158.0L1214.0 156.0L1204.9 153.5L1194.5 152.5L1185.0 153.1L1175.5 155.1L1171.8 156.5L1168.0 158.5L1165.5 160.5L1164.4 162.5L1165.0 163.6L1168.0 163.9L1184.5 160.9L1194.5 160.2L1204.0 161.1L1218.5 163.9L1221.0 163.9L1222.2 163.5ZM1195.0 282.0L1196.3 280.0L1196.1 278.0L1194.5 276.6L1192.5 276.6L1191.5 277.2L1190.7 278.5L1191.0 280.9L1192.0 282.0L1193.0 282.4L1195.0 282.0Z" fill="#0000ca" fill-rule="evenodd"/>
<path d="M1280.5 309.7L1106.3 309.5L1106.5 135.4L1280.6 135.5L1280.5 309.7ZM1227.3 167.5L1228.3 167.0L1228.9 166.0L1228.8 164.5L1228.1 163.0L1224.9 159.5L1220.4 156.5L1214.7 154.0L1209.0 152.3L1202.5 151.1L1195.5 150.6L1189.0 150.7L1182.5 151.4L1176.5 152.7L1171.0 154.5L1165.8 157.0L1161.5 160.0L1158.9 163.0L1158.0 165.5L1158.5 166.8L1159.5 167.4L1163.0 167.7L1182.5 163.2L1189.0 162.4L1195.0 162.3L1205.5 163.4L1222.8 167.5L1227.3 167.5ZM1195.7 285.0L1197.8 283.5L1198.9 281.5L1199.3 279.0L1198.8 277.0L1197.5 275.0L1196.0 273.9L1194.0 273.4L1191.5 273.7L1189.5 275.0L1188.2 277.0L1187.7 279.0L1188.1 281.5L1189.2 283.5L1191.3 285.0L1193.5 285.5L1195.7 285.0Z" fill="#0000df" fill-rule="evenodd"/>
<path d="M1280.5 309.7L1106.3 309.5L1106.5 135.4L1280.6 135.5L1280.5 309.7ZM1230.8 170.5L1232.5 169.6L1233.1 168.5L1233.2 167.0L1232.6 165.0L1231.5 163.0L1229.3 160.5L1224.0 156.5L1218.1 153.5L1211.5 151.2L1204.0 149.7L1196.5 148.9L1189.0 149.0L1181.5 149.9L1174.6 151.5L1168.5 153.7L1163.0 156.5L1158.0 160.3L1154.9 164.0L1153.7 167.5L1154.1 169.0L1155.0 170.0L1157.0 170.7L1159.5 170.7L1163.5 169.9L1176.0 166.4L1182.5 164.9L1189.5 164.0L1196.0 163.9L1207.0 165.4L1225.5 170.4L1228.5 170.7L1230.8 170.5ZM1195.0 287.5L1198.0 286.2L1200.0 284.0L1201.2 281.0L1201.2 278.0L1200.1 275.0L1198.0 272.6L1195.5 271.4L1192.5 271.2L1189.5 272.3L1187.2 274.5L1185.9 277.5L1185.7 280.5L1186.7 283.5L1189.0 286.1L1192.0 287.5L1195.0 287.5Z" fill="#0000f4" fill-rule="evenodd"/>
<path d="M1280.5 309.7L1106.3 309.5L1106.5 135.4L1280.6 135.5L1280.5 309.7ZM1234.2 173.0L1235.8 172.0L1236.6 170.5L1236.7 168.5L1236.2 166.5L1234.9 164.0L1232.9 161.5L1227.5 156.8L1221.0 153.1L1213.5 150.3L1205.5 148.4L1197.0 147.5L1189.0 147.5L1181.0 148.5L1173.5 150.3L1166.3 153.0L1160.0 156.5L1155.0 160.5L1151.5 165.0L1150.2 169.0L1150.6 171.0L1151.8 172.5L1154.0 173.3L1156.5 173.4L1161.5 172.5L1174.5 168.4L1181.5 166.7L1189.0 165.6L1196.0 165.5L1202.0 166.0L1208.0 167.2L1228.0 173.1L1231.5 173.4L1234.2 173.0ZM1194.7 289.5L1198.5 288.1L1201.3 285.5L1202.9 282.0L1203.1 278.0L1202.0 274.5L1199.5 271.4L1196.0 269.5L1192.5 269.3L1189.0 270.4L1185.9 273.0L1184.2 276.5L1183.9 280.5L1185.0 284.3L1187.5 287.4L1191.0 289.2L1194.7 289.5Z" fill="#000bff" fill-rule="evenodd"/>
<path d="M1280.5 309.7L1106.3 309.5L1106.5 135.4L1280.6 135.5L1280.5 309.7ZM1234.6 176.0L1237.0 175.4L1238.9 174.0L1239.8 172.0L1239.8 169.5L1239.0 167.0L1237.3 164.0L1234.9 161.0L1231.7 158.0L1224.9 153.5L1216.5 149.8L1207.5 147.3L1198.0 146.0L1189.5 146.0L1180.5 147.1L1172.0 149.2L1164.5 152.3L1157.5 156.4L1152.1 161.0L1148.5 166.0L1147.1 170.5L1147.5 173.0L1149.0 174.9L1151.5 175.9L1154.5 176.0L1160.0 174.9L1174.0 170.2L1181.5 168.2L1189.5 167.1L1197.0 167.0L1207.5 168.7L1227.5 175.0L1231.5 175.9L1234.6 176.0ZM1196.5 291.0L1200.5 288.9L1203.4 285.5L1204.9 281.0L1204.7 276.5L1202.9 272.5L1201.5 270.7L1199.5 269.1L1195.5 267.5L1191.0 267.6L1186.9 269.5L1183.7 273.0L1182.1 277.5L1182.3 282.0L1184.0 286.0L1185.6 288.0L1187.5 289.6L1189.5 290.6L1192.0 291.3L1194.0 291.4L1196.5 291.0Z" fill="#0020ff" fill-rule="evenodd"/>
<path d="M1280.5 309.7L1106.3 309.5L1106.5 135.4L1280.6 135.5L1280.5 309.7ZM1237.7 178.5L1240.0 177.4L1241.9 175.5L1242.9 173.0L1242.8 171.0L1241.9 168.0L1240.0 164.5L1237.2 161.0L1234.1 158.0L1226.9 153.0L1218.0 148.8L1208.5 146.1L1198.0 144.6L1189.0 144.6L1179.5 145.9L1170.5 148.3L1162.5 151.7L1155.0 156.4L1149.3 161.5L1145.5 167.0L1144.5 169.5L1144.1 172.0L1144.6 174.5L1146.5 177.0L1149.5 178.5L1152.5 178.6L1158.5 177.4L1173.7 172.0L1181.0 169.9L1189.0 168.7L1197.0 168.6L1203.0 169.4L1209.5 170.8L1230.5 178.0L1234.5 178.6L1237.7 178.5ZM1196.0 293.0L1198.5 292.1L1201.0 290.6L1204.5 287.0L1205.8 284.5L1206.6 282.0L1206.7 277.0L1204.9 272.0L1203.4 270.0L1201.3 268.0L1199.0 266.6L1196.5 265.7L1191.5 265.5L1189.0 266.2L1186.5 267.4L1182.8 271.0L1181.4 273.5L1180.5 276.0L1180.2 278.5L1180.4 281.5L1181.0 284.0L1182.3 286.5L1184.0 288.7L1186.0 290.5L1188.5 292.1L1191.0 293.0L1193.5 293.3L1196.0 293.0Z" fill="#0035ff" fill-rule="evenodd"/>
<path d="M1280.5 309.7L1106.3 309.5L1106.5 135.5L1280.5 135.5L1280.5 309.7ZM1238.2 181.0L1241.0 179.9L1243.5 177.7L1244.9 175.0L1245.4 171.5L1245.0 169.5L1243.2 166.0L1240.7 162.5L1238.0 159.5L1230.5 153.6L1221.5 148.8L1211.5 145.4L1200.5 143.4L1192.5 143.0L1182.0 144.0L1172.5 146.2L1163.5 149.7L1155.5 154.2L1149.0 159.5L1144.1 165.5L1142.4 168.5L1141.6 171.0L1142.1 175.0L1143.7 178.0L1146.5 180.2L1150.0 181.2L1152.5 181.3L1157.0 180.2L1173.0 174.1L1180.0 172.0L1187.0 170.7L1193.5 170.3L1200.0 170.7L1206.5 171.9L1213.6 174.0L1231.0 180.5L1235.0 181.3L1238.2 181.0ZM1195.0 295.0L1198.0 294.1L1201.0 292.6L1203.5 290.7L1205.5 288.5L1207.2 286.0L1208.2 283.5L1208.8 280.5L1208.8 277.5L1208.2 274.5L1207.0 271.5L1205.3 269.0L1203.0 266.7L1200.5 265.0L1198.0 263.9L1195.0 263.3L1192.0 263.3L1189.0 263.9L1186.5 265.0L1184.0 266.7L1181.7 269.0L1180.0 271.5L1178.8 274.5L1178.3 277.0L1178.2 280.0L1178.8 283.0L1180.1 286.0L1181.7 288.5L1184.0 290.9L1186.5 292.7L1189.5 294.2L1193.0 295.2L1195.0 295.0Z" fill="#004aff" fill-rule="evenodd"/>
<path d="M1280.5 309.7L1106.3 309.5L1106.5 135.5L1280.5 135.5L1280.5 309.7ZM1239.4 183.5L1242.5 182.2L1245.0 180.1L1246.6 177.5L1247.5 174.0L1247.5 171.0L1247.0 168.5L1244.9 165.0L1242.0 161.3L1238.5 157.8L1234.4 154.5L1225.0 148.9L1214.0 144.7L1202.5 142.3L1193.5 141.6L1183.0 142.5L1173.0 144.7L1163.5 148.2L1155.0 152.8L1147.8 158.5L1142.1 165.0L1140.0 168.5L1139.5 170.5L1139.7 175.5L1141.6 179.5L1145.0 182.5L1149.5 183.9L1152.5 183.9L1155.5 183.4L1172.7 176.5L1180.0 174.2L1186.5 172.9L1193.5 172.4L1201.0 172.9L1208.5 174.6L1232.5 183.7L1236.0 184.0L1239.4 183.5ZM1195.7 296.5L1199.0 295.3L1202.3 293.5L1205.4 291.0L1207.6 288.5L1209.5 285.5L1210.6 282.5L1211.1 279.5L1211.1 276.5L1210.3 273.0L1208.9 270.0L1206.9 267.0L1204.3 264.5L1201.5 262.7L1198.0 261.3L1195.0 260.7L1191.5 260.8L1188.0 261.6L1185.0 262.9L1182.5 264.6L1180.0 267.1L1178.1 270.0L1176.8 273.0L1176.0 276.5L1176.1 279.5L1176.8 283.0L1178.2 286.0L1180.2 289.0L1183.0 291.9L1186.5 294.4L1190.0 296.0L1193.5 297.0L1195.7 296.5Z" fill="#0060ff" fill-rule="evenodd"/>
<path d="M1280.5 309.7L1106.3 309.5L1106.5 135.5L1280.5 135.5L1280.5 309.7ZM1237.4 187.0L1241.0 186.1L1244.5 184.2L1247.0 181.9L1248.8 179.0L1249.7 175.5L1249.7 172.0L1248.8 167.5L1247.2 165.0L1243.6 160.5L1239.5 156.6L1234.9 153.0L1229.5 149.6L1223.5 146.7L1217.5 144.4L1211.5 142.6L1205.0 141.3L1193.5 140.2L1184.5 140.9L1173.5 143.1L1163.5 146.7L1154.0 151.7L1145.9 158.0L1142.1 162.0L1139.1 166.0L1138.2 167.5L1137.4 171.0L1137.4 176.5L1138.2 179.0L1139.5 181.3L1141.5 183.5L1143.5 184.9L1146.0 186.1L1149.0 186.9L1152.5 187.2L1156.5 186.6L1171.9 180.0L1178.9 177.5L1186.0 175.9L1193.5 175.3L1200.0 175.7L1206.4 177.0L1215.1 180.0L1229.5 186.3L1233.5 187.1L1237.4 187.0ZM1195.3 298.0L1199.5 296.5L1203.2 294.5L1206.4 292.0L1209.3 289.0L1211.4 286.0L1213.0 282.5L1213.8 278.5L1213.8 275.0L1213.1 271.5L1211.6 268.0L1209.2 264.5L1206.5 261.9L1203.0 259.5L1199.5 258.1L1195.5 257.3L1191.5 257.3L1187.5 258.1L1184.0 259.5L1180.5 261.9L1177.8 264.5L1175.7 267.5L1174.2 271.0L1173.5 274.5L1173.5 278.0L1174.4 282.0L1176.0 285.5L1178.3 289.0L1181.2 292.0L1185.0 294.9L1189.0 297.0L1193.5 298.4L1195.3 298.0Z" fill="#0075ff" fill-rule="evenodd"/>
<path d="M1280.5 309.7L1106.3 309.5L1106.5 135.5L1280.5 135.5L1280.5 309.7ZM1230.6 192.5L1236.5 191.4L1242.0 189.4L1246.5 186.5L1249.4 183.5L1251.3 180.0L1252.1 176.0L1251.8 171.5L1250.4 166.0L1247.4 162.0L1243.6 158.0L1239.5 154.4L1234.5 150.8L1229.5 147.9L1224.0 145.2L1218.5 143.1L1212.0 141.2L1201.0 139.3L1190.5 139.0L1178.0 140.6L1166.5 143.9L1156.0 148.7L1151.0 151.8L1146.5 155.2L1141.9 159.5L1138.0 164.0L1136.6 166.0L1135.6 169.5L1134.9 174.0L1135.1 177.5L1135.9 180.5L1137.6 183.5L1140.0 186.1L1143.5 188.6L1147.5 190.4L1152.0 191.8L1157.0 192.5L1161.0 192.2L1173.1 186.5L1179.5 184.0L1187.0 182.1L1194.0 181.6L1199.5 182.1L1206.0 183.5L1213.9 186.5L1224.5 191.7L1227.5 192.4L1230.6 192.5ZM1194.1 299.5L1199.0 297.9L1203.8 295.5L1207.9 292.5L1211.7 288.5L1214.0 285.2L1215.9 280.5L1217.1 275.5L1217.4 270.5L1216.8 266.0L1215.5 261.8L1213.5 258.5L1211.0 255.9L1207.0 253.2L1202.5 251.1L1197.5 249.9L1193.0 249.6L1188.5 250.0L1184.0 251.3L1179.0 253.7L1175.5 256.4L1173.1 259.5L1171.5 262.9L1170.5 267.0L1170.3 271.5L1170.8 276.5L1172.2 281.5L1173.8 285.0L1177.0 289.5L1180.5 293.0L1185.0 296.2L1190.0 298.6L1194.1 299.5Z" fill="#008aff" fill-rule="evenodd"/>
<path d="M1280.5 309.7L1106.3 309.5L1106.5 135.5L1280.5 135.5L1280.5 309.7ZM1193.9 300.5L1201.4 298.0L1207.5 294.3L1213.7 288.5L1217.1 283.0L1219.0 278.5L1220.6 273.5L1223.0 263.4L1224.0 255.0L1226.1 249.5L1227.3 244.0L1225.7 237.5L1220.2 226.0L1219.6 224.0L1219.6 222.5L1224.2 217.5L1226.4 214.0L1228.2 210.0L1236.0 199.5L1239.6 196.0L1248.0 189.6L1251.4 186.0L1253.8 181.5L1254.5 176.5L1253.9 171.0L1251.9 164.0L1244.6 156.0L1236.0 149.4L1226.5 144.3L1215.5 140.3L1205.0 138.1L1193.5 137.2L1182.0 138.1L1171.5 140.3L1160.5 144.3L1151.0 149.4L1142.4 156.0L1135.1 164.0L1133.1 171.0L1132.5 176.5L1133.4 182.0L1134.6 184.5L1136.4 187.0L1139.5 190.0L1149.6 198.0L1152.6 201.5L1162.9 216.0L1166.5 219.5L1170.9 222.5L1171.3 224.0L1170.7 226.0L1165.0 235.5L1162.3 242.0L1163.2 247.0L1165.1 253.0L1165.5 263.5L1168.0 275.5L1170.0 281.0L1172.3 285.5L1174.4 288.5L1177.7 292.0L1181.2 295.0L1185.2 297.5L1189.8 299.5L1193.9 300.5Z" fill="#009fff" fill-rule="evenodd"/>
<path d="M1280.5 309.7L1106.3 309.5L1106.5 135.5L1172.3 135.5L1162.0 138.8L1152.5 143.3L1144.0 149.0L1136.9 155.5L1132.3 161.5L1132.2 164.5L1130.2 175.0L1130.2 181.0L1131.2 185.0L1133.0 188.3L1145.5 202.0L1148.4 206.0L1150.8 211.5L1153.4 216.0L1156.1 219.5L1160.0 223.5L1161.2 225.5L1161.5 228.5L1160.9 233.0L1158.5 239.0L1157.2 245.5L1158.7 251.0L1161.2 257.0L1162.0 263.0L1163.6 269.5L1166.1 276.5L1168.6 282.0L1172.5 288.2L1178.9 294.5L1185.5 298.6L1193.5 301.4L1201.5 298.9L1205.3 297.0L1209.1 294.5L1215.1 289.0L1219.6 282.0L1225.0 269.2L1227.7 259.0L1230.4 253.0L1232.2 247.0L1231.7 241.0L1229.4 230.0L1229.3 227.0L1229.7 224.5L1235.2 215.5L1238.6 206.0L1243.9 199.0L1253.8 188.5L1255.8 185.0L1256.8 181.0L1256.8 175.0L1254.8 164.5L1254.7 161.5L1250.1 155.5L1243.0 149.0L1234.5 143.3L1225.0 138.8L1214.7 135.5L1280.5 135.5L1280.5 309.7Z" fill="#00b5ff" fill-rule="evenodd"/>
<path d="M1280.5 309.7L1106.5 309.7L1106.5 143.1L1122.5 157.9L1125.5 161.2L1127.5 164.1L1128.4 166.0L1128.6 168.0L1127.5 182.0L1127.9 185.5L1128.9 188.5L1131.5 192.7L1140.2 203.0L1143.9 212.0L1147.5 218.5L1150.6 222.5L1153.6 225.0L1155.2 227.5L1156.0 230.5L1156.3 234.5L1154.6 241.0L1153.9 247.5L1155.8 253.5L1158.7 259.5L1160.0 265.5L1161.5 270.5L1166.3 281.0L1171.6 289.0L1177.9 295.0L1181.6 297.5L1185.5 299.5L1193.5 302.1L1202.2 299.5L1206.3 297.5L1210.2 295.0L1215.9 290.0L1219.3 285.5L1222.0 281.0L1227.2 270.5L1230.1 261.5L1233.2 255.5L1235.4 249.0L1235.5 243.0L1234.5 234.5L1234.8 230.0L1235.6 227.0L1237.0 224.5L1239.4 221.5L1242.1 216.5L1244.1 211.5L1246.8 203.0L1256.0 192.1L1258.7 187.0L1259.4 184.0L1259.6 180.5L1258.5 168.5L1258.8 165.5L1261.0 161.8L1264.0 158.4L1280.5 143.1L1280.5 309.7Z" fill="#00caff" fill-rule="evenodd"/>
<path d="M1280.5 309.6L1106.5 309.7L1106.5 154.4L1119.5 164.8L1122.5 167.7L1124.6 170.5L1125.1 173.5L1124.9 185.5L1126.0 191.5L1128.0 195.4L1131.7 200.0L1136.8 212.0L1140.9 219.5L1143.0 222.5L1146.3 224.5L1148.6 226.5L1151.3 230.5L1152.6 235.5L1151.5 242.5L1151.3 249.0L1153.5 255.3L1156.9 262.0L1159.8 271.5L1164.5 281.0L1170.5 289.5L1177.0 295.5L1180.8 298.0L1184.9 300.0L1193.5 302.7L1198.5 301.5L1203.0 299.9L1208.0 297.5L1211.8 295.0L1215.6 292.0L1217.9 289.5L1223.9 281.0L1229.0 271.5L1232.0 263.6L1235.3 257.5L1237.6 251.5L1238.3 245.0L1238.0 237.0L1239.6 230.0L1242.0 226.0L1246.0 222.5L1246.9 221.0L1250.4 213.5L1255.3 200.0L1259.0 195.4L1261.0 191.5L1262.1 185.5L1261.9 173.5L1262.4 170.5L1264.5 167.7L1267.5 164.8L1280.5 154.4L1280.5 309.6Z" fill="#00dfff" fill-rule="evenodd"/>
<path d="M1280.5 309.6L1106.5 309.7L1106.5 164.4L1117.5 172.1L1120.5 174.6L1121.5 176.0L1122.0 179.0L1122.2 188.0L1122.6 192.5L1127.5 209.5L1130.7 216.0L1134.9 222.5L1139.5 224.5L1143.4 227.0L1146.0 229.5L1148.0 232.6L1149.5 237.0L1148.9 244.5L1149.3 251.0L1151.9 257.5L1155.1 263.5L1158.2 272.5L1163.1 281.5L1169.5 290.0L1176.2 296.0L1180.2 298.5L1184.4 300.5L1193.5 303.2L1198.9 302.0L1204.6 300.0L1209.6 297.5L1214.1 294.5L1217.1 292.0L1221.1 287.5L1227.9 277.5L1231.1 271.5L1233.5 265.5L1237.0 259.3L1239.6 253.0L1240.8 246.0L1241.0 238.0L1242.8 232.5L1244.6 229.5L1247.0 226.8L1250.0 224.5L1253.7 222.5L1257.0 216.5L1259.5 210.6L1264.4 192.5L1264.8 188.0L1265.0 179.0L1265.5 176.0L1266.5 174.6L1269.5 172.1L1280.5 164.4L1280.5 309.6Z" fill="#00f4ff" fill-rule="evenodd"/>
<path d="M1280.5 309.6L1106.5 309.6L1106.5 173.5L1116.5 179.5L1117.9 180.5L1118.5 181.5L1119.2 184.5L1120.0 195.5L1121.0 200.0L1122.5 212.0L1123.5 216.7L1125.0 221.0L1125.7 222.5L1134.0 225.4L1139.0 228.1L1142.5 230.9L1145.0 234.2L1146.6 237.5L1146.7 247.0L1147.2 251.5L1147.9 253.5L1150.4 259.5L1153.7 265.5L1157.1 274.0L1162.1 282.5L1168.5 290.5L1171.6 293.5L1175.5 296.5L1179.6 299.0L1184.0 301.0L1193.5 303.7L1199.0 302.5L1205.0 300.5L1210.2 298.0L1215.0 295.0L1218.0 292.5L1222.2 288.0L1229.1 278.5L1232.4 273.0L1235.0 267.0L1238.3 261.5L1241.0 255.5L1242.9 248.0L1243.7 239.0L1245.9 234.0L1248.5 230.5L1251.3 228.0L1255.0 225.7L1262.0 222.5L1262.4 221.5L1264.0 216.4L1265.0 211.1L1267.2 194.0L1267.8 184.5L1268.5 181.5L1269.1 180.5L1270.5 179.5L1280.5 173.5L1280.5 309.6Z" fill="#0bfff4" fill-rule="evenodd"/>
<path d="M1280.5 309.6L1106.5 309.6L1106.5 181.9L1114.5 185.8L1116.0 187.7L1117.1 194.5L1118.7 200.0L1120.1 214.5L1121.4 222.5L1125.0 225.0L1133.0 228.3L1137.5 230.9L1141.0 234.0L1144.0 238.5L1144.7 248.5L1145.4 252.5L1146.4 255.5L1148.9 261.0L1152.3 267.0L1155.8 275.0L1161.2 283.5L1168.0 291.5L1174.8 297.0L1179.2 299.5L1183.8 301.5L1193.5 304.2L1199.1 303.0L1205.2 301.0L1210.7 298.5L1215.7 295.5L1218.8 293.0L1222.8 289.0L1230.3 279.5L1233.7 274.0L1242.3 257.5L1244.8 249.5L1246.4 239.5L1248.0 236.6L1250.4 233.5L1253.0 231.0L1263.0 225.1L1266.0 222.5L1267.3 214.5L1268.6 199.5L1269.9 194.5L1270.6 189.0L1271.3 187.0L1272.5 185.8L1280.5 181.9L1280.5 309.6Z" fill="#20ffdf" fill-rule="evenodd"/>
<path d="M1280.5 309.6L1106.5 309.6L1106.5 189.6L1112.5 192.0L1115.0 195.0L1116.0 197.0L1117.3 202.5L1119.5 222.6L1121.5 225.0L1124.0 227.1L1132.5 231.3L1136.0 233.5L1138.8 236.0L1141.2 239.0L1142.8 250.0L1145.2 257.5L1147.8 263.0L1150.8 268.0L1154.3 275.5L1160.0 284.0L1167.2 292.0L1174.3 297.5L1179.0 300.0L1183.5 301.9L1193.5 304.7L1199.5 303.4L1205.3 301.5L1211.1 299.0L1216.3 296.0L1223.8 289.5L1231.3 280.5L1235.3 274.5L1243.4 259.5L1246.7 250.5L1249.0 240.2L1253.2 235.0L1263.5 227.6L1266.0 225.2L1267.9 222.5L1270.2 201.5L1270.9 198.0L1271.8 195.5L1274.5 192.0L1280.5 189.6L1280.5 309.6Z" fill="#35ffca" fill-rule="evenodd"/>
<path d="M1280.5 309.6L1106.5 309.6L1106.5 192.8L1112.3 195.0L1113.8 196.5L1114.8 198.5L1116.1 204.0L1118.1 222.5L1119.5 224.8L1123.5 229.2L1134.0 235.6L1138.8 240.0L1140.9 250.5L1143.8 259.0L1152.6 275.5L1156.9 282.0L1164.3 290.5L1168.8 294.5L1172.3 297.0L1176.7 299.5L1182.4 302.0L1193.5 305.1L1199.5 303.8L1205.5 301.9L1211.3 299.5L1216.8 296.5L1224.6 290.0L1232.9 280.5L1236.7 275.0L1244.3 261.5L1248.6 251.0L1251.5 241.0L1255.2 237.0L1264.5 229.4L1267.0 226.4L1269.3 222.5L1271.4 203.5L1273.0 197.5L1275.0 195.1L1280.5 193.1L1280.5 309.6Z" fill="#4affb5" fill-rule="evenodd"/>
<path d="M1280.5 309.6L1106.5 309.6L1106.5 195.2L1111.5 196.9L1112.6 198.0L1113.8 200.0L1115.1 205.5L1117.1 222.5L1118.5 225.3L1121.0 228.9L1123.5 231.5L1132.9 238.0L1136.4 241.0L1139.0 251.0L1142.9 261.0L1150.9 275.5L1155.0 281.5L1163.0 290.5L1171.1 297.0L1175.5 299.5L1181.1 302.0L1187.1 304.0L1193.5 305.6L1200.4 304.0L1206.7 302.0L1212.5 299.5L1217.5 296.8L1225.8 290.0L1234.4 280.5L1237.9 275.5L1245.1 263.5L1250.6 251.0L1253.7 242.0L1264.5 231.8L1269.0 225.4L1270.4 222.5L1272.4 205.5L1273.6 200.5L1274.5 198.8L1275.7 197.5L1280.5 195.8L1280.5 309.6Z" fill="#60ff9f" fill-rule="evenodd"/>
<path d="M1280.5 309.6L1106.5 309.6L1106.5 197.5L1111.0 199.0L1113.0 202.0L1114.2 207.0L1116.2 222.5L1118.0 226.3L1120.5 230.3L1123.5 233.6L1134.0 242.0L1137.0 251.0L1142.1 263.0L1149.7 276.0L1153.6 281.5L1161.8 290.5L1170.0 297.0L1175.4 300.0L1181.0 302.4L1193.5 306.0L1200.2 304.5L1206.5 302.5L1212.6 300.0L1217.5 297.4L1222.3 294.0L1226.4 290.5L1235.8 280.5L1242.7 270.5L1245.9 265.0L1252.7 250.5L1255.7 243.0L1264.5 234.0L1269.0 227.5L1271.3 222.5L1273.3 207.5L1274.5 202.7L1275.5 200.7L1276.5 199.7L1280.5 198.5L1280.5 309.6Z" fill="#75ff8a" fill-rule="evenodd"/>
<path d="M1280.5 309.6L1106.5 309.6L1106.5 199.7L1110.0 200.7L1111.0 201.6L1112.1 203.5L1113.4 208.5L1115.4 222.5L1118.0 228.2L1120.5 232.1L1123.0 235.1L1131.6 242.5L1135.0 251.0L1141.5 265.1L1148.5 276.5L1152.2 281.5L1161.3 291.0L1169.8 297.5L1180.1 302.5L1193.5 306.5L1206.4 303.0L1212.6 300.5L1218.0 297.7L1226.9 291.0L1237.1 280.5L1243.5 271.5L1246.5 266.6L1257.6 243.5L1264.5 236.1L1269.0 229.5L1272.1 222.5L1274.1 209.5L1275.4 204.5L1277.0 202.2L1280.5 201.1L1280.5 309.6Z" fill="#8aff75" fill-rule="evenodd"/>
<path d="M1280.5 309.6L1106.5 309.6L1106.5 202.0L1109.5 202.8L1110.5 203.7L1111.5 205.5L1112.8 210.5L1114.7 222.5L1118.0 230.0L1122.5 236.4L1129.8 243.5L1140.5 266.0L1143.5 271.0L1150.5 281.0L1160.3 291.0L1169.0 297.6L1174.4 300.5L1180.3 303.0L1193.5 307.0L1207.0 303.2L1218.0 298.3L1222.9 295.0L1227.3 291.5L1237.8 281.0L1247.0 268.0L1259.2 244.0L1265.0 237.4L1269.0 231.4L1272.9 222.5L1274.7 211.5L1276.0 206.9L1277.5 204.6L1280.5 203.6L1280.5 309.6Z" fill="#9fff60" fill-rule="evenodd"/>
<path d="M1280.5 309.6L1106.5 309.6L1106.5 204.2L1109.5 205.2L1111.0 207.6L1112.2 212.0L1114.0 222.5L1115.9 227.5L1118.0 231.7L1122.0 237.5L1128.1 244.0L1140.0 267.5L1149.4 281.0L1153.0 285.0L1159.9 291.5L1168.7 298.0L1179.2 303.0L1193.5 307.6L1207.5 303.4L1218.5 298.5L1227.6 292.0L1234.7 285.5L1238.9 281.0L1244.6 273.5L1247.9 268.5L1260.6 244.5L1266.0 237.8L1269.5 232.2L1273.6 222.5L1275.3 213.5L1276.5 209.3L1278.0 206.9L1280.5 206.2L1280.5 309.6Z" fill="#b5ff4a" fill-rule="evenodd"/>
<path d="M1280.5 309.6L1106.5 309.6L1106.5 206.4L1109.0 207.2L1110.5 209.5L1111.7 213.5L1113.6 223.0L1115.5 228.3L1117.9 233.0L1121.5 238.5L1126.8 244.5L1139.1 268.0L1142.3 273.0L1148.3 281.0L1152.5 285.5L1159.0 291.5L1167.9 298.0L1178.0 302.9L1193.5 308.4L1208.5 303.5L1218.5 299.0L1223.9 295.5L1228.5 292.0L1235.2 286.0L1239.5 281.5L1248.0 270.2L1253.3 260.0L1258.5 251.4L1261.7 245.0L1266.0 239.4L1269.5 233.9L1273.8 224.0L1277.0 211.6L1278.5 209.3L1280.5 208.7L1280.5 309.6Z" fill="#caff35" fill-rule="evenodd"/>
<path d="M1192.5 309.5L1106.4 309.5L1106.5 208.5L1108.5 209.1L1110.0 211.3L1113.4 224.5L1117.5 233.9L1121.0 239.3L1125.4 244.5L1138.5 268.9L1147.3 281.0L1151.5 285.5L1157.6 291.0L1166.3 297.5L1176.0 302.5L1190.9 308.0L1192.5 309.0L1192.8 309.5L1192.5 309.5ZM1280.5 309.6L1194.3 309.5L1196.4 308.0L1213.0 302.1L1220.9 298.0L1229.3 292.0L1236.2 286.0L1240.5 281.5L1249.0 270.2L1254.1 260.5L1259.5 251.8L1262.9 245.0L1266.5 240.3L1269.5 235.5L1273.9 226.0L1277.5 213.7L1279.0 211.6L1280.5 211.1L1280.5 309.6Z" fill="#dfff20" fill-rule="evenodd"/>
<path d="M1190.5 309.5L1106.4 309.5L1106.5 210.7L1108.0 211.1L1109.5 213.0L1113.4 226.5L1117.5 235.4L1120.5 240.1L1124.4 245.0L1127.9 252.0L1133.0 260.3L1138.1 270.0L1145.9 280.5L1153.3 288.0L1159.1 293.0L1164.7 297.0L1174.0 302.0L1189.2 308.0L1190.7 309.0L1190.9 309.5L1190.5 309.5ZM1280.5 309.6L1196.5 309.5L1198.3 308.0L1213.0 302.5L1222.5 297.5L1228.3 293.5L1234.3 288.5L1241.9 281.0L1250.0 270.2L1254.9 261.0L1260.5 252.0L1263.7 245.5L1269.5 237.0L1273.8 228.0L1278.0 215.6L1279.0 214.2L1280.5 213.6L1280.5 309.6Z" fill="#f4ff0b" fill-rule="evenodd"/>
<path d="M1189.0 309.5L1106.4 309.5L1106.5 212.8L1108.0 213.4L1109.5 215.7L1113.3 228.0L1117.3 236.5L1123.6 245.5L1127.0 252.4L1132.3 261.0L1137.0 269.8L1145.0 280.5L1151.9 287.5L1158.3 293.0L1163.2 296.5L1172.5 301.7L1187.6 308.0L1189.0 309.5ZM1280.5 309.6L1198.7 309.5L1198.8 309.0L1200.2 308.0L1215.0 302.0L1224.1 297.0L1229.1 293.5L1235.7 288.0L1242.8 281.0L1247.6 275.0L1251.0 270.0L1255.6 261.5L1261.0 252.9L1264.7 245.5L1270.0 237.6L1273.8 230.0L1278.0 218.5L1279.0 216.8L1280.5 216.1L1280.5 309.6Z" fill="#fff400" fill-rule="evenodd"/>
<path d="M1187.0 309.5L1106.4 309.5L1106.5 215.0L1108.0 215.6L1109.0 217.2L1113.2 229.5L1117.0 237.3L1122.6 245.5L1126.3 253.0L1131.5 261.2L1136.0 269.6L1139.3 274.5L1144.1 280.5L1151.0 287.5L1161.7 296.0L1171.3 301.5L1185.1 307.5L1186.7 308.5L1187.0 309.5ZM1280.5 309.6L1200.8 309.5L1201.2 308.5L1202.9 307.5L1216.5 301.7L1225.7 296.5L1236.6 288.0L1243.6 281.0L1248.8 274.5L1252.8 268.5L1256.2 262.0L1261.9 253.0L1265.4 246.0L1271.5 236.4L1274.3 230.5L1278.5 220.2L1279.5 218.9L1280.5 218.5L1280.5 309.6Z" fill="#ffdf00" fill-rule="evenodd"/>
<path d="M1185.0 309.5L1106.4 309.5L1106.5 217.1L1108.0 217.9L1109.0 219.6L1113.2 231.0L1117.0 238.7L1122.0 246.0L1125.7 253.5L1130.7 261.5L1135.4 270.0L1143.3 280.5L1150.2 287.5L1160.2 295.5L1169.5 301.0L1183.6 307.5L1185.0 308.5L1185.3 309.5L1185.0 309.5ZM1280.5 309.6L1203.0 309.5L1203.0 309.0L1204.5 307.5L1218.5 301.1L1227.2 296.0L1237.4 288.0L1244.4 281.0L1249.3 275.0L1253.4 269.0L1257.0 262.2L1262.5 253.6L1266.3 246.0L1271.7 237.5L1278.5 222.7L1279.5 221.4L1280.5 220.9L1280.5 309.6Z" fill="#ffca00" fill-rule="evenodd"/>
<path d="M1183.0 309.5L1106.4 309.5L1106.5 219.2L1107.5 219.6L1108.5 220.9L1114.5 235.5L1117.5 240.8L1121.1 246.0L1125.9 255.5L1130.1 262.0L1135.2 271.0L1142.0 280.0L1148.8 287.0L1158.7 295.0L1166.8 300.0L1182.2 307.5L1183.3 308.5L1183.4 309.5L1183.0 309.5ZM1280.5 309.6L1205.1 309.5L1205.1 309.0L1205.5 308.0L1206.9 307.0L1221.0 300.2L1228.7 295.5L1238.2 288.0L1245.3 281.0L1250.0 275.2L1253.9 269.5L1257.7 262.5L1263.0 254.2L1266.9 246.5L1272.0 238.5L1278.5 225.4L1279.5 224.0L1280.5 223.5L1280.5 309.6Z" fill="#ffb500" fill-rule="evenodd"/>
<path d="M1181.5 309.5L1106.4 309.5L1106.5 221.3L1108.1 222.5L1114.3 236.5L1120.5 246.5L1125.5 256.3L1129.6 262.5L1134.7 271.5L1141.2 280.0L1148.0 287.0L1157.3 294.5L1165.1 299.5L1180.0 307.0L1181.3 308.0L1181.5 309.5ZM1280.5 309.6L1207.3 309.5L1207.2 308.5L1207.8 307.5L1209.3 306.5L1222.5 299.8L1229.5 295.5L1239.0 288.1L1245.6 281.5L1250.2 276.0L1254.1 270.5L1258.2 263.0L1263.5 254.9L1267.7 246.5L1272.2 239.5L1278.0 228.6L1279.5 226.7L1280.5 226.4L1280.5 309.6Z" fill="#ff9f00" fill-rule="evenodd"/>
<path d="M1179.5 309.5L1106.4 309.5L1106.5 223.8L1107.5 224.3L1108.5 225.8L1114.1 237.5L1119.7 246.5L1125.0 256.9L1129.0 263.0L1133.5 271.0L1139.2 278.5L1146.7 286.5L1155.2 293.5L1163.5 299.0L1178.6 307.0L1179.6 308.0L1179.5 309.5ZM1280.5 309.5L1209.5 309.5L1209.3 308.0L1210.0 307.0L1211.5 306.0L1223.5 299.7L1230.5 295.3L1239.5 288.3L1246.4 281.5L1250.6 276.5L1254.5 271.0L1258.8 263.5L1263.7 256.0L1268.3 247.0L1277.0 232.5L1278.5 230.3L1280.0 229.2L1280.5 229.2L1280.5 309.5Z" fill="#ff8a00" fill-rule="evenodd"/>
<path d="M1177.5 309.5L1106.5 309.5L1106.5 226.6L1107.5 227.0L1109.0 229.1L1114.4 239.5L1119.0 246.7L1123.3 255.5L1131.5 269.0L1138.5 278.7L1144.3 285.0L1150.6 290.5L1161.0 298.0L1176.6 306.5L1177.9 308.0L1177.5 309.5ZM1280.5 309.5L1211.7 309.5L1211.4 307.5L1213.6 305.5L1225.0 299.4L1231.5 295.2L1240.2 288.5L1246.8 282.0L1251.5 276.5L1255.3 271.0L1259.5 263.7L1264.8 255.5L1269.1 247.0L1277.0 234.6L1278.5 232.7L1280.0 232.0L1280.5 232.1L1280.5 309.5Z" fill="#ff7500" fill-rule="evenodd"/>
<path d="M1175.5 309.5L1106.5 309.5L1106.5 229.5L1107.5 229.6L1109.0 231.3L1114.8 241.5L1118.4 247.0L1124.0 258.0L1132.3 271.5L1138.0 279.0L1145.6 287.0L1155.0 294.5L1161.5 298.8L1175.3 306.5L1176.1 307.5L1175.8 309.5L1175.5 309.5ZM1280.5 309.5L1214.0 309.5L1213.5 307.0L1215.6 305.0L1226.0 299.3L1232.5 295.1L1240.5 289.0L1247.2 282.5L1251.9 277.0L1255.8 271.5L1260.2 264.0L1265.4 256.0L1270.0 247.0L1275.5 238.8L1278.0 235.6L1279.5 234.9L1280.5 235.0L1280.5 309.5Z" fill="#ff6000" fill-rule="evenodd"/>
<path d="M1173.5 309.5L1106.5 309.5L1106.5 232.3L1108.0 232.6L1110.0 235.0L1117.6 247.0L1122.0 256.0L1130.2 269.5L1133.6 274.5L1137.6 279.5L1145.4 287.5L1154.2 294.5L1160.5 298.7L1167.8 302.5L1173.4 306.0L1174.2 307.0L1173.8 309.5L1173.5 309.5ZM1280.5 309.5L1216.3 309.5L1215.6 306.5L1216.3 305.5L1218.3 304.0L1228.0 298.7L1236.5 292.9L1242.5 288.0L1247.6 283.0L1252.4 277.5L1256.7 271.5L1260.7 264.5L1266.3 256.0L1270.5 247.5L1276.5 239.4L1278.0 238.0L1279.0 237.7L1280.5 237.9L1280.5 309.5Z" fill="#ff4a00" fill-rule="evenodd"/>
<path d="M1171.5 309.5L1106.5 309.5L1106.5 235.2L1108.5 235.4L1111.0 238.4L1117.0 247.4L1121.4 256.5L1129.7 270.0L1136.8 279.5L1143.4 286.5L1150.0 292.0L1158.0 297.7L1167.5 302.8L1171.5 305.5L1172.4 307.0L1171.8 309.5L1171.5 309.5ZM1280.5 309.5L1218.6 309.5L1217.7 306.0L1219.4 304.0L1229.0 298.8L1237.5 292.9L1243.0 288.4L1248.5 283.0L1253.3 277.5L1257.2 272.0L1261.3 265.0L1266.6 257.0L1271.5 247.5L1276.0 241.9L1277.5 240.7L1278.5 240.5L1280.5 240.9L1280.5 309.5Z" fill="#ff3500" fill-rule="evenodd"/>
<path d="M1169.5 309.5L1106.5 309.5L1106.5 238.2L1108.0 237.9L1109.0 238.2L1112.5 242.3L1116.2 247.5L1120.9 257.0L1128.9 270.0L1136.4 280.0L1143.0 286.9L1149.5 292.3L1158.0 298.3L1167.5 303.4L1169.7 305.0L1170.6 306.5L1169.8 309.5L1169.5 309.5ZM1280.5 309.5L1221.0 309.5L1219.8 305.5L1220.2 304.5L1229.5 299.3L1239.0 292.6L1244.0 288.5L1249.1 283.5L1253.8 278.0L1258.1 272.0L1262.0 265.4L1267.6 257.0L1272.3 248.0L1275.5 244.4L1277.5 243.2L1280.5 243.9L1280.5 309.5Z" fill="#ff2000" fill-rule="evenodd"/>
<path d="M1167.5 309.5L1106.5 309.5L1106.5 241.1L1108.5 240.7L1110.0 241.3L1115.2 247.5L1121.7 260.0L1129.7 272.5L1135.9 280.5L1142.2 287.0L1149.0 292.7L1157.5 298.6L1168.0 304.5L1168.8 306.0L1167.8 309.5L1167.5 309.5ZM1280.5 309.5L1229.1 309.5L1226.5 303.0L1227.4 302.0L1242.5 290.9L1251.6 282.0L1258.8 272.5L1262.6 266.0L1268.7 257.0L1273.2 248.5L1275.5 246.5L1277.0 246.0L1280.5 246.9L1280.5 309.5Z" fill="#ff0b00" fill-rule="evenodd"/>
<path d="M1165.5 309.5L1106.5 309.5L1106.5 244.1L1110.0 243.6L1112.0 245.1L1114.5 248.0L1119.2 257.5L1128.4 272.0L1133.2 278.5L1139.6 285.5L1146.0 291.2L1153.5 296.8L1159.5 300.7L1166.6 304.5L1167.0 305.5L1165.5 309.5ZM1280.5 309.5L1240.7 309.5L1235.0 299.0L1236.5 297.0L1247.0 288.2L1254.6 280.0L1259.3 273.5L1263.5 266.5L1268.8 259.0L1274.9 249.0L1276.0 248.7L1280.5 250.0L1280.5 309.5Z" fill="#f40000" fill-rule="evenodd"/>
<path d="M1157.0 309.5L1106.5 309.5L1106.5 247.2L1110.5 246.2L1113.5 248.4L1119.9 260.5L1128.3 273.5L1133.4 280.0L1139.0 286.0L1143.5 290.2L1159.7 302.5L1157.0 309.5ZM1280.5 309.5L1267.3 309.5L1249.9 289.0L1250.4 287.5L1259.2 276.0L1264.6 267.0L1271.0 259.0L1273.0 257.2L1280.5 260.4L1280.5 309.5Z" fill="#df0000" fill-rule="evenodd"/>
<path d="M1145.0 309.5L1106.5 309.5L1106.5 250.3L1111.0 248.9L1112.0 249.4L1118.2 260.0L1126.7 273.0L1130.8 278.5L1140.0 288.4L1151.1 298.0L1151.1 299.0L1145.0 309.5ZM1280.5 282.3L1265.5 272.0L1265.2 271.0L1266.5 267.8L1267.5 267.2L1268.5 267.3L1280.5 274.4L1280.5 282.3Z" fill="#ca0000" fill-rule="evenodd"/>
<path d="M1116.5 309.5L1106.5 309.5L1106.5 265.2L1115.5 260.9L1117.0 261.9L1121.5 267.3L1127.3 276.5L1136.0 287.5L1116.9 309.5L1116.5 309.5Z" fill="#b50000" fill-rule="evenodd"/>
</g>
<path d="M1173.5 147.2L1170.9 147.6M1181.2 145.5L1178.5 145.8M1189.8 145.9L1187.3 146.1M1197.2 147.0L1194.8 146.9M1205.9 147.3L1203.4 147.1M1213.9 148.0L1211.3 147.6M1222.7 146.2L1219.6 145.5M1154.3 154.4L1151.5 155.4M1160.4 154.6L1158.0 155.3M1170.2 154.4L1168.2 154.8M1177.4 153.1L1175.4 153.3M1186.3 154.8L1184.5 154.9M1193.2 153.9L1191.4 154.0M1201.8 155.0L1200.0 154.9M1209.1 154.6L1207.2 154.3M1218.8 153.0L1216.6 152.6M1227.4 153.1L1224.9 152.4M1235.9 154.5L1233.0 153.4M1141.7 160.3L1138.7 161.9M1148.5 160.2L1145.8 161.3M1157.8 160.9L1155.7 161.6M1166.2 160.4L1164.3 160.8M1173.4 161.0L1171.6 161.3M1182.3 160.0L1180.5 160.2M1189.5 161.9L1187.5 162.0M1196.9 161.8L1194.9 161.8M1205.9 161.9L1204.0 161.7M1213.1 160.9L1211.3 160.6M1221.5 161.6L1219.7 161.2M1230.2 161.9L1228.2 161.3M1240.3 160.7L1237.6 159.7M1137.7 168.0L1134.8 169.6M1145.2 168.6L1142.8 169.7M1153.9 168.3L1151.8 169.0M1161.9 167.2L1160.0 167.7M1168.4 168.2L1166.3 168.7M1178.1 167.1L1175.8 167.5M1185.7 169.0L1183.1 169.2M1194.3 168.3L1191.7 168.3M1201.6 168.3L1199.0 168.1M1210.4 167.3L1208.2 167.0M1219.7 168.6L1217.6 168.1M1225.5 169.1L1223.5 168.6M1236.0 168.8L1233.9 168.0M1242.8 168.0L1240.4 166.9M1252.0 168.3L1249.1 166.7M1131.8 173.9L1128.6 176.0M1141.7 174.4L1139.0 175.8M1149.9 175.3L1147.5 176.3M1158.1 173.9L1155.8 174.7M1164.3 173.8L1161.9 174.5M1174.6 175.3L1171.7 175.8M1182.0 174.2L1179.0 174.6M1190.7 174.8L1187.5 174.9M1199.0 175.2L1195.8 175.1M1206.7 176.2L1203.5 175.8M1213.8 175.8L1210.8 175.2M1222.1 176.4L1219.4 175.7M1230.9 176.9L1228.5 176.1M1238.3 177.0L1236.0 176.0M1248.1 176.0L1245.5 174.6M1256.5 176.6L1253.5 174.6M1129.6 180.2L1126.4 182.5M1137.3 182.1L1134.3 183.9M1145.6 181.2L1142.9 182.6M1153.8 181.1L1151.2 182.2M1161.1 181.6L1158.2 182.6M1169.8 181.0L1166.7 181.8M1177.8 180.9L1174.5 181.5M1186.9 183.1L1183.5 183.4M1193.6 182.9L1190.2 182.9M1203.4 183.7L1200.0 183.4M1211.7 182.5L1208.3 182.0M1220.1 184.0L1216.9 183.2M1227.1 183.6L1224.1 182.6M1236.1 183.0L1233.4 181.9M1244.2 183.7L1241.5 182.3M1251.1 184.0L1248.2 182.3M1260.1 182.6L1256.9 180.4M1123.7 189.0L1120.4 192.0M1133.3 189.1L1130.0 191.4M1141.9 188.7L1138.9 190.6M1148.1 189.2L1145.0 190.8M1157.6 189.6L1154.5 190.9M1165.8 189.7L1162.5 190.8M1175.1 188.8L1171.8 189.5M1181.4 189.0L1178.0 189.5M1191.0 189.3L1187.6 189.5M1198.8 188.7L1195.4 188.6M1207.3 189.3L1203.9 188.8M1214.2 190.8L1210.8 190.1M1223.2 190.1L1220.0 189.0M1232.2 189.2L1229.1 188.0M1239.8 189.9L1236.8 188.5M1246.8 190.9L1243.7 189.2M1255.5 190.3L1252.3 188.1M1265.1 190.3L1261.8 187.5M1119.9 195.0L1116.5 198.5M1127.6 195.7L1124.2 198.5M1137.5 195.8L1134.2 198.1M1145.4 194.6L1142.2 196.5M1152.7 196.0L1149.6 197.6M1161.3 197.1L1158.1 198.5M1170.8 195.3L1167.5 196.3M1178.3 196.8L1174.9 197.5M1185.4 196.0L1182.0 196.4M1195.0 197.6L1191.6 197.6M1202.3 196.2L1198.9 195.9M1211.6 197.2L1208.2 196.6M1219.0 196.6L1215.6 195.7M1226.2 196.2L1222.9 195.0M1235.5 196.8L1232.4 195.2M1244.7 196.7L1241.5 194.9M1251.6 197.6L1248.4 195.4M1259.3 198.6L1256.0 196.0M1268.5 198.9L1265.1 195.7M1116.5 201.5L1113.0 205.8M1123.5 201.4L1120.2 204.6M1133.9 201.6L1130.6 204.3M1141.9 203.3L1138.6 205.7M1149.0 202.7L1145.7 204.6M1158.2 203.4L1155.0 205.0M1166.5 203.7L1163.2 205.0M1174.4 204.3L1171.1 205.2M1182.9 202.7L1179.5 203.3M1191.0 202.7L1187.5 202.9M1198.4 203.6L1195.0 203.5M1206.1 205.1L1202.6 204.6M1214.0 203.1L1210.6 202.3M1222.7 205.6L1219.4 204.4M1230.7 205.4L1227.5 203.9M1238.7 205.0L1235.4 203.2M1248.7 205.6L1245.5 203.2M1257.0 205.4L1253.7 202.7M1265.2 206.2L1261.9 203.1M1272.9 206.8L1269.5 202.7M1121.1 208.3L1117.9 211.9M1128.9 209.4L1125.7 212.5M1137.3 210.1L1134.1 212.9M1144.2 210.0L1141.0 212.4M1153.1 210.1L1149.9 212.1M1162.0 210.3L1158.8 211.9M1170.4 210.3L1167.1 211.5M1178.0 210.0L1174.6 210.8M1185.6 211.1L1182.2 211.6M1195.0 210.2L1191.5 210.2M1203.8 211.6L1200.4 211.2M1210.9 212.2L1207.6 211.4M1219.0 211.5L1215.7 210.4M1226.6 210.9L1223.4 209.5M1235.8 212.8L1232.6 210.9M1243.9 211.8L1240.7 209.6M1251.9 212.5L1248.7 209.8M1260.9 212.3L1257.7 209.2M1267.2 213.6L1264.1 210.2M1115.6 215.8L1112.3 221.0M1125.2 216.5L1122.1 220.0M1132.0 215.5L1128.9 218.7M1141.0 217.3L1137.8 220.2M1148.5 215.8L1145.3 218.2M1157.6 216.3L1154.3 218.2M1164.6 217.8L1161.4 219.5M1174.7 217.2L1171.4 218.3M1181.7 217.1L1178.3 217.9M1190.1 218.1L1186.6 218.4M1198.7 217.8L1195.2 217.6M1207.1 218.9L1203.7 218.2M1215.1 218.4L1211.7 217.3M1223.4 219.1L1220.1 217.6M1230.8 218.6L1227.7 216.8M1239.5 219.6L1236.3 217.3M1247.8 219.2L1244.7 216.5M1255.9 220.9L1252.8 217.8M1263.7 220.7L1260.7 217.2M1271.1 221.1L1268.0 216.9M1119.6 223.9L1116.5 228.7M1129.5 224.4L1126.5 228.1M1137.1 223.5L1133.9 226.9M1145.9 224.0L1142.7 227.0M1152.7 224.9L1149.5 227.5M1161.4 224.8L1158.2 226.8M1169.8 223.6L1166.5 225.2M1177.5 224.8L1174.2 225.9M1185.4 223.7L1182.0 224.3M1194.3 225.8L1190.9 225.9M1203.0 225.0L1199.5 224.6M1211.4 225.7L1208.0 224.7M1220.2 226.7L1216.9 225.2M1227.9 225.7L1224.7 223.8M1234.5 225.7L1231.3 223.4M1243.3 226.7L1240.2 223.9M1250.9 227.6L1247.8 224.3M1260.6 226.6L1257.6 223.0M1267.9 227.5L1264.9 223.4M1115.8 229.5L1112.4 236.6M1124.6 230.9L1121.5 235.7M1132.6 230.0L1129.4 234.2M1140.5 229.8L1137.3 233.5M1149.5 230.2L1146.3 233.2M1158.2 230.5L1155.1 232.9M1166.0 231.5L1162.9 233.4M1174.1 232.5L1171.0 233.9M1181.3 231.0L1178.0 231.9M1189.5 231.1L1186.0 231.5M1198.7 231.7L1195.2 231.4M1207.5 231.7L1204.1 230.8M1214.6 233.0L1211.4 231.7M1222.3 233.0L1219.2 231.2M1230.5 233.0L1227.4 230.8M1240.3 233.7L1237.3 230.8M1247.2 234.4L1244.2 231.0M1256.0 234.8L1253.0 230.8M1262.8 234.7L1259.8 230.4M1272.6 236.1L1269.4 229.8M1121.4 236.3L1118.2 242.7M1129.5 236.9L1126.4 241.9M1137.4 237.2L1134.3 241.7M1145.5 237.1L1142.4 240.9M1154.1 237.3L1151.2 240.3M1160.1 238.7L1157.3 241.2M1170.0 238.8L1167.1 240.7M1178.4 238.9L1175.2 240.3M1185.3 239.4L1182.0 240.3M1193.3 238.6L1189.9 238.8M1202.5 239.5L1199.1 238.9M1209.9 239.9L1206.6 238.8M1219.1 240.2L1216.2 238.4M1227.4 240.1L1224.6 237.8M1234.2 241.5L1231.5 238.8M1243.7 241.1L1240.8 237.6M1250.6 242.0L1247.7 237.8M1260.3 241.1L1257.3 236.3M1268.3 242.1L1265.3 236.0M1123.2 242.4L1120.1 249.7M1131.9 244.4L1129.0 250.0M1140.8 244.2L1138.0 248.8M1148.2 245.3L1145.6 249.1M1156.2 244.4L1153.6 247.4M1166.1 245.2L1163.4 247.6M1174.6 245.8L1171.7 247.7M1182.8 245.2L1179.5 246.4M1189.9 246.0L1186.5 246.6M1198.6 246.7L1195.1 246.4M1207.5 246.5L1204.2 245.3M1215.5 248.6L1212.6 246.7M1221.8 246.6L1219.0 244.5M1230.4 247.8L1227.9 245.1M1240.2 247.4L1237.6 244.0M1247.9 248.7L1245.3 244.5M1254.6 248.7L1251.9 243.8M1263.4 249.0L1260.5 242.8M1271.3 250.4L1268.5 241.9M1128.7 249.8L1126.0 256.7M1136.6 251.7L1134.2 257.3M1144.2 250.8L1141.8 255.4M1153.3 251.8L1151.1 255.4M1160.2 251.1L1157.9 254.2M1169.9 253.2L1167.5 255.7M1178.7 252.8L1175.8 254.6M1185.3 252.4L1182.1 253.6M1194.3 254.5L1191.0 254.6M1202.9 253.7L1199.7 252.8M1211.2 254.6L1208.3 252.8M1219.7 254.9L1217.2 252.5M1227.5 254.1L1225.2 251.3M1235.3 255.3L1233.1 251.9M1242.9 255.1L1240.7 251.1M1252.2 255.6L1249.8 250.4M1259.5 257.1L1257.1 250.6M1268.3 257.9L1266.1 248.9M1124.6 257.4L1123.1 267.2M1132.9 256.6L1130.7 263.6M1139.4 258.3L1137.4 264.1M1147.9 258.2L1146.0 262.9M1155.9 259.4L1154.0 263.4M1165.9 258.4L1163.8 261.4M1173.4 259.2L1171.1 261.8M1182.5 259.8L1179.8 261.6M1190.7 260.6L1187.8 261.3M1199.5 261.1L1196.5 260.4M1207.6 261.7L1204.9 259.9M1213.6 262.9L1211.3 260.5M1221.8 262.6L1219.9 259.7M1230.8 262.0L1229.0 258.5M1237.5 264.2L1235.8 260.0M1247.6 262.6L1245.7 257.4M1255.9 263.6L1253.9 256.8M1262.4 265.7L1260.9 256.8M1126.9 262.6L1126.2 272.6M1136.9 265.5L1135.8 272.8M1143.5 265.8L1142.3 271.8M1151.2 266.5L1150.0 271.5M1161.2 265.3L1159.8 269.0M1168.3 266.5L1166.9 269.7M1176.8 267.1L1175.1 269.8M1185.9 266.4L1183.7 268.0M1194.4 266.8L1191.8 266.9M1201.2 267.9L1198.9 266.7M1209.8 268.2L1207.8 265.8M1219.1 269.1L1217.6 266.0M1225.6 269.6L1224.2 266.1M1235.3 270.0L1234.0 265.5M1242.3 270.1L1241.0 265.0M1251.8 271.0L1250.5 264.1M1257.6 272.6L1256.8 263.7M1140.2 270.6L1139.7 278.0M1147.5 271.8L1146.9 277.7M1156.1 273.0L1155.6 277.9M1163.4 272.9L1162.9 276.9M1173.7 272.2L1172.9 275.4M1180.5 273.2L1179.6 275.8M1189.0 275.0L1187.9 276.7M1197.5 276.9L1196.0 275.6M1205.6 276.4L1204.7 274.0M1212.8 277.7L1212.3 274.6M1222.0 276.4L1221.4 272.8M1228.9 276.5L1228.3 272.2M1239.0 277.7L1238.4 272.2M1246.7 279.6L1246.6 272.3M1253.4 278.2L1253.4 269.3M1142.8 279.1L1144.1 287.6M1150.1 279.5L1150.7 286.0M1160.3 279.4L1160.6 284.2M1168.7 279.1L1169.0 282.8M1176.3 280.1L1176.7 283.1M1184.4 280.3L1184.9 282.5M1190.8 282.0L1192.5 282.9M1200.4 282.8L1201.0 280.7M1209.5 284.9L1210.2 281.9M1217.0 284.7L1217.6 281.1M1225.0 285.3L1225.5 280.8M1234.1 285.8L1234.7 280.0M1240.9 284.5L1241.5 277.5M1146.3 284.4L1148.9 293.0M1154.6 285.8L1156.6 292.3M1163.0 287.8L1164.9 292.7M1170.4 287.4L1172.1 291.1M1179.4 288.7L1181.4 291.1M1188.2 289.0L1190.5 289.9M1196.4 289.6L1198.6 288.6M1204.4 291.3L1206.4 289.1M1212.4 290.4L1213.9 287.2M1220.2 291.1L1221.8 286.8M1229.6 292.8L1231.7 286.6M1237.4 292.8L1240.1 284.6M1156.9 292.6L1161.4 299.9M1166.5 294.7L1170.4 299.4M1174.8 295.6L1178.3 298.7M1181.8 294.6L1184.7 296.4M1191.8 296.2L1194.7 296.2M1199.3 297.3L1202.3 296.0M1207.8 297.0L1210.7 294.3M1216.3 297.8L1219.4 293.6M1223.8 299.3L1228.0 293.0M1178.5 301.5L1183.8 304.0M1193.9 302.9L1198.3 302.4M1280.1 225.9L1276.7 218.8M1279.5 235.0L1276.4 227.0M1278.0 244.1L1275.2 235.0M1275.5 253.0L1273.3 242.9M1272.0 261.3L1270.7 250.9M1267.7 269.3L1267.3 258.6M1262.5 276.7L1263.1 265.9M1256.6 283.4L1258.2 272.9M1250.0 289.5L1252.7 279.4M1242.8 294.9L1246.6 285.3M1235.0 299.5L1239.9 290.5M1226.7 303.1L1232.8 295.2M1218.2 305.8L1225.2 299.3M1209.6 307.3L1216.9 302.8M1201.0 307.9L1208.2 305.5M1192.5 307.7L1199.1 307.2M1183.5 306.6L1190.6 308.0M1174.7 304.4L1182.3 308.0M1166.2 301.4L1173.8 307.2M1158.3 297.7L1165.2 305.3M1150.9 293.5L1156.7 302.3M1143.9 288.6L1148.5 298.3M1137.5 283.0L1140.9 293.4M1131.6 276.9L1133.9 287.7M1126.3 270.2L1127.5 281.3M1121.7 263.0L1121.8 274.2M1117.9 255.5L1117.0 266.5M1114.8 247.6L1113.0 258.3M1112.5 239.5L1109.9 249.6M1111.0 231.4L1107.8 240.4M1110.3 223.1L1106.8 231.1M1110.4 214.9L1106.7 221.7M1111.3 206.6L1107.6 212.4M1113.1 198.5L1109.5 203.2M1115.7 190.6L1112.3 194.4M1119.2 182.8L1115.8 186.1M1123.5 175.4L1120.2 178.2M1128.6 168.5L1125.3 170.9M1134.4 162.1L1131.1 164.1M1140.8 156.3L1137.5 158.0M1147.9 151.2L1144.5 152.6M1155.4 146.8L1152.0 148.0M1163.4 143.2L1159.9 144.2M1171.7 140.5L1168.1 141.2M1180.2 138.6L1176.6 139.1M1188.9 137.6L1185.3 137.8M1197.6 137.6L1194.1 137.5M1206.4 138.4L1202.8 138.1M1215.0 140.1L1211.4 139.5M1223.3 142.7L1219.8 141.8M1231.4 146.1L1228.0 145.0M1239.1 150.4L1235.7 149.0M1246.3 155.4L1243.0 153.8M1253.0 161.1L1249.8 159.3M1259.1 167.6L1255.8 165.4M1264.5 174.6L1261.2 172.0M1269.2 182.2L1265.8 179.1M1273.1 190.3L1269.8 186.7M1276.2 198.8L1272.8 194.6M1278.4 207.6L1274.9 202.5M1279.8 216.7L1276.2 210.6" stroke="#000" stroke-width="1.05" fill="none"/><path d="M1169.1 148.0l2.0 -1.5l0.4 2.2zM1176.8 146.0l2.1 -1.3l0.2 2.2zM1185.5 146.1l2.1 -1.2l0.1 2.2zM1193.1 146.9l2.2 -1.0l-0.0 2.1zM1201.7 146.9l2.2 -0.9l-0.2 2.1zM1209.6 147.4l2.3 -0.7l-0.3 2.1zM1217.7 145.0l2.6 -0.6l-0.5 2.3zM1149.8 156.0l1.8 -1.9l0.8 2.2zM1156.3 155.8l1.8 -1.6l0.6 2.1zM1166.6 155.1l1.8 -1.4l0.4 2.0zM1173.8 153.5l1.8 -1.3l0.3 2.0zM1183.0 155.0l1.9 -1.1l0.1 1.9zM1189.9 154.0l1.9 -1.0l0.0 1.9zM1198.5 154.8l2.0 -0.8l-0.1 1.9zM1205.7 154.2l2.1 -0.7l-0.2 1.9zM1215.0 152.3l2.2 -0.6l-0.4 2.0zM1223.2 152.0l2.4 -0.5l-0.6 2.1zM1231.2 152.8l2.6 -0.3l-0.8 2.2zM1136.9 162.7l1.6 -2.2l1.1 2.1zM1144.1 162.0l1.7 -1.9l0.9 2.1zM1154.1 162.1l1.7 -1.6l0.6 2.0zM1162.8 161.2l1.7 -1.4l0.5 1.9zM1170.1 161.6l1.7 -1.3l0.3 1.9zM1179.0 160.4l1.8 -1.2l0.2 1.9zM1185.9 162.1l2.0 -1.1l0.1 2.0zM1193.3 161.7l2.0 -1.0l-0.0 2.0zM1202.4 161.6l2.1 -0.8l-0.2 2.0zM1209.8 160.3l2.1 -0.7l-0.3 1.9zM1218.1 160.9l2.1 -0.5l-0.4 1.9zM1226.6 160.8l2.3 -0.4l-0.6 1.9zM1235.9 159.0l2.5 -0.2l-0.8 2.1zM1133.1 170.6l1.5 -2.2l1.2 2.1zM1141.1 170.5l1.6 -1.9l0.9 2.0zM1150.2 169.6l1.6 -1.7l0.7 1.9zM1158.4 168.2l1.7 -1.5l0.6 1.9zM1164.7 169.1l1.8 -1.5l0.5 2.0zM1174.2 167.7l1.9 -1.3l0.3 2.1zM1181.3 169.4l2.1 -1.3l0.2 2.2zM1189.9 168.3l2.2 -1.1l0.0 2.2zM1197.2 168.0l2.3 -1.0l-0.1 2.2zM1206.5 166.8l2.2 -0.7l-0.3 2.1zM1215.9 167.8l2.2 -0.5l-0.4 2.0zM1221.9 168.1l2.2 -0.4l-0.5 1.9zM1232.4 167.5l2.3 -0.2l-0.7 1.9zM1238.7 166.2l2.5 -0.1l-0.9 2.0zM1247.4 165.7l2.7 0.1l-1.2 2.1zM1127.0 177.1l1.4 -2.5l1.4 2.1zM1137.4 176.6l1.5 -2.1l1.0 2.0zM1145.9 177.0l1.6 -1.9l0.9 2.0zM1154.2 175.3l1.7 -1.7l0.7 2.0zM1160.2 175.0l1.8 -1.6l0.6 2.1zM1169.9 176.2l2.1 -1.6l0.4 2.2zM1177.1 174.9l2.2 -1.4l0.3 2.3zM1185.6 175.0l2.3 -1.3l0.1 2.3zM1193.9 175.1l2.4 -1.1l-0.1 2.3zM1201.6 175.6l2.5 -0.9l-0.3 2.3zM1209.0 174.9l2.5 -0.7l-0.4 2.3zM1217.7 175.3l2.5 -0.5l-0.6 2.2zM1226.8 175.5l2.4 -0.3l-0.7 2.0zM1234.4 175.3l2.4 -0.1l-0.8 2.0zM1243.8 173.8l2.6 0.0l-1.0 2.0zM1251.8 173.6l2.8 0.3l-1.3 2.1zM1124.7 183.7l1.4 -2.6l1.5 2.1zM1132.6 184.9l1.5 -2.3l1.2 2.1zM1141.3 183.4l1.6 -2.1l1.0 2.1zM1149.5 182.9l1.7 -1.9l0.9 2.1zM1156.4 183.3l1.8 -1.9l0.8 2.2zM1164.9 182.3l2.0 -1.7l0.6 2.3zM1172.6 181.8l2.2 -1.6l0.4 2.3zM1181.5 183.6l2.3 -1.4l0.2 2.4zM1188.2 183.0l2.4 -1.2l0.0 2.4zM1198.1 183.3l2.5 -1.0l-0.2 2.4zM1206.4 181.6l2.6 -0.8l-0.4 2.4zM1215.1 182.7l2.6 -0.5l-0.6 2.3zM1222.3 182.0l2.6 -0.4l-0.7 2.2zM1231.7 181.1l2.6 -0.1l-0.9 2.1zM1239.8 181.4l2.6 0.0l-1.0 2.1zM1246.5 181.3l2.7 0.2l-1.2 2.1zM1255.2 179.2l2.8 0.5l-1.5 2.1zM1118.8 193.4l1.2 -2.8l1.8 2.0zM1128.3 192.5l1.4 -2.5l1.4 2.1zM1137.1 191.6l1.5 -2.3l1.2 2.1zM1143.3 191.7l1.6 -2.2l1.1 2.1zM1152.7 191.7l1.8 -2.0l0.9 2.2zM1160.7 191.4l1.9 -1.9l0.8 2.3zM1169.9 189.9l2.1 -1.7l0.5 2.3zM1176.0 189.8l2.2 -1.6l0.4 2.4zM1185.6 189.6l2.4 -1.3l0.1 2.4zM1193.4 188.5l2.5 -1.1l-0.1 2.4zM1202.0 188.5l2.6 -0.9l-0.3 2.4zM1208.9 189.7l2.7 -0.7l-0.5 2.4zM1218.1 188.5l2.7 -0.4l-0.7 2.3zM1227.3 187.3l2.7 -0.2l-0.9 2.2zM1235.1 187.6l2.7 0.0l-1.1 2.1zM1242.0 188.2l2.8 0.2l-1.2 2.1zM1250.6 187.0l2.8 0.4l-1.4 2.1zM1260.1 186.1l2.9 0.7l-1.7 2.0zM1114.9 200.1l1.0 -3.0l2.0 1.9zM1122.6 199.9l1.2 -2.7l1.7 2.0zM1132.5 199.3l1.4 -2.5l1.5 2.1zM1140.5 197.5l1.5 -2.4l1.3 2.1zM1147.8 198.5l1.7 -2.2l1.1 2.2zM1156.3 199.2l1.8 -2.1l0.9 2.2zM1165.6 196.8l2.0 -1.8l0.7 2.3zM1173.0 197.9l2.2 -1.7l0.5 2.4zM1180.0 196.6l2.3 -1.5l0.3 2.4zM1189.6 197.7l2.5 -1.2l0.0 2.4zM1196.9 195.8l2.6 -1.0l-0.2 2.4zM1206.3 196.2l2.6 -0.7l-0.5 2.4zM1213.8 195.1l2.7 -0.5l-0.7 2.3zM1221.1 194.3l2.7 -0.3l-0.8 2.3zM1230.6 194.4l2.8 -0.0l-1.1 2.2zM1239.8 193.8l2.8 0.2l-1.3 2.1zM1246.7 194.2l2.9 0.4l-1.4 2.1zM1254.3 194.7l2.9 0.6l-1.6 2.0zM1263.6 194.1l2.9 1.0l-1.9 1.9zM1111.5 207.6l0.8 -3.2l2.2 1.8zM1118.6 206.2l1.0 -2.9l1.9 1.9zM1128.9 205.6l1.3 -2.7l1.6 2.0zM1136.9 206.9l1.4 -2.6l1.5 2.1zM1144.0 205.7l1.5 -2.4l1.3 2.1zM1153.2 205.8l1.7 -2.2l1.1 2.2zM1161.4 205.7l1.9 -2.0l0.9 2.3zM1169.2 205.8l2.0 -1.8l0.7 2.3zM1177.6 203.6l2.2 -1.6l0.4 2.4zM1185.6 203.0l2.4 -1.3l0.1 2.4zM1193.0 203.4l2.5 -1.1l-0.1 2.4zM1200.7 204.4l2.6 -0.8l-0.3 2.4zM1208.7 201.8l2.7 -0.6l-0.6 2.3zM1217.6 203.8l2.7 -0.3l-0.8 2.3zM1225.7 203.1l2.8 -0.0l-1.0 2.2zM1233.7 202.2l2.8 0.2l-1.2 2.1zM1243.8 202.0l2.9 0.5l-1.5 2.1zM1252.0 201.4l2.9 0.7l-1.7 2.0zM1260.3 201.6l2.9 0.9l-1.8 1.9zM1268.0 200.9l3.0 1.3l-2.2 1.8zM1116.4 213.6l0.9 -3.0l2.1 1.8zM1124.1 214.0l1.0 -2.9l1.8 1.9zM1132.5 214.3l1.2 -2.7l1.7 2.0zM1139.3 213.6l1.3 -2.6l1.5 2.0zM1148.2 213.2l1.5 -2.4l1.3 2.1zM1157.0 212.7l1.7 -2.2l1.1 2.2zM1165.2 212.2l1.9 -2.0l0.8 2.3zM1172.7 211.3l2.1 -1.8l0.6 2.3zM1180.3 211.9l2.3 -1.5l0.3 2.4zM1189.5 210.2l2.5 -1.2l0.0 2.4zM1198.4 210.9l2.6 -0.9l-0.3 2.4zM1205.6 211.0l2.7 -0.6l-0.5 2.4zM1213.8 209.7l2.7 -0.3l-0.8 2.3zM1221.5 208.6l2.8 -0.1l-1.0 2.2zM1230.9 209.8l2.8 0.2l-1.3 2.1zM1239.0 208.4l2.9 0.5l-1.5 2.1zM1247.0 208.5l2.9 0.7l-1.7 2.0zM1256.2 207.7l2.9 0.9l-1.8 1.9zM1262.6 208.5l2.9 1.1l-2.0 1.8zM1110.9 223.2l0.4 -3.5l2.6 1.7zM1120.7 221.7l0.8 -3.0l2.0 1.8zM1127.3 220.2l1.0 -2.9l1.9 1.9zM1136.2 221.6l1.1 -2.8l1.7 1.9zM1143.7 219.4l1.3 -2.6l1.5 2.0zM1152.6 219.3l1.5 -2.4l1.3 2.1zM1159.6 220.4l1.7 -2.2l1.1 2.2zM1169.5 219.0l2.0 -1.9l0.8 2.3zM1176.4 218.3l2.1 -1.7l0.5 2.4zM1184.7 218.6l2.3 -1.4l0.2 2.4zM1193.2 217.5l2.5 -1.1l-0.1 2.4zM1201.8 217.8l2.6 -0.7l-0.5 2.4zM1209.9 216.7l2.7 -0.4l-0.7 2.3zM1218.3 216.8l2.8 -0.1l-1.0 2.2zM1225.9 215.7l2.8 0.2l-1.2 2.1zM1234.7 216.1l2.8 0.5l-1.5 2.0zM1243.1 215.1l2.9 0.7l-1.7 2.0zM1251.3 216.2l2.8 1.0l-1.9 1.9zM1259.2 215.6l2.8 1.2l-2.0 1.8zM1266.6 215.0l2.9 1.5l-2.3 1.7zM1115.1 230.8l0.4 -3.4l2.5 1.6zM1125.0 229.9l0.7 -3.1l2.1 1.7zM1132.4 228.5l0.9 -2.9l2.0 1.8zM1141.1 228.4l1.1 -2.8l1.8 1.9zM1147.8 228.8l1.3 -2.7l1.6 2.0zM1156.4 227.9l1.5 -2.4l1.3 2.1zM1164.7 226.0l1.8 -2.2l1.0 2.2zM1172.3 226.5l2.0 -1.9l0.8 2.3zM1180.0 224.7l2.2 -1.6l0.4 2.4zM1188.9 225.9l2.4 -1.3l0.0 2.4zM1197.6 224.3l2.6 -0.9l-0.3 2.4zM1206.1 224.2l2.7 -0.5l-0.7 2.3zM1215.1 224.3l2.8 -0.1l-1.0 2.2zM1223.0 222.7l2.8 0.2l-1.3 2.1zM1229.6 222.2l2.8 0.5l-1.5 2.0zM1238.6 222.5l2.8 0.8l-1.7 1.9zM1246.3 222.8l2.9 1.0l-1.9 1.8zM1256.2 221.3l2.8 1.3l-2.1 1.7zM1263.6 221.5l2.8 1.5l-2.3 1.6zM1111.2 239.1l-0.0 -3.9l3.1 1.4zM1120.2 237.8l0.4 -3.4l2.5 1.6zM1128.0 236.0l0.6 -3.2l2.3 1.7zM1135.8 235.2l0.8 -3.0l2.1 1.8zM1144.8 234.7l1.0 -2.8l1.8 1.9zM1153.4 234.2l1.3 -2.6l1.6 2.0zM1161.2 234.5l1.5 -2.4l1.3 2.1zM1169.2 234.8l1.7 -2.1l1.0 2.2zM1176.1 232.5l2.0 -1.8l0.7 2.3zM1184.1 231.8l2.3 -1.5l0.3 2.4zM1193.3 231.3l2.5 -1.0l-0.2 2.4zM1202.2 230.3l2.7 -0.6l-0.6 2.3zM1209.5 230.9l2.7 -0.2l-0.9 2.2zM1217.5 230.2l2.8 0.2l-1.2 2.1zM1225.8 229.6l2.8 0.5l-1.5 2.0zM1235.7 229.3l2.8 0.9l-1.8 1.9zM1242.7 229.3l2.8 1.2l-2.0 1.8zM1251.6 229.0l2.8 1.4l-2.2 1.7zM1258.5 228.4l2.8 1.6l-2.3 1.6zM1268.2 227.5l2.9 2.2l-2.9 1.5zM1117.0 245.2l0.0 -3.8l2.9 1.4zM1125.1 244.0l0.3 -3.4l2.6 1.6zM1132.9 243.6l0.5 -3.3l2.4 1.6zM1141.0 242.6l0.7 -3.1l2.1 1.7zM1149.7 241.8l0.9 -2.8l1.8 1.8zM1155.8 242.5l1.1 -2.6l1.7 1.9zM1165.4 241.8l1.4 -2.3l1.3 2.0zM1173.4 241.1l1.8 -2.1l0.9 2.2zM1180.1 240.7l2.1 -1.8l0.6 2.3zM1187.9 238.9l2.4 -1.3l0.1 2.4zM1197.1 238.6l2.6 -0.8l-0.4 2.4zM1204.8 238.1l2.7 -0.3l-0.8 2.3zM1214.5 237.4l2.7 0.2l-1.2 2.1zM1223.1 236.6l2.7 0.6l-1.5 1.9zM1230.0 237.4l2.7 0.9l-1.8 1.8zM1239.4 235.9l2.8 1.3l-2.1 1.7zM1246.4 236.0l2.8 1.5l-2.3 1.6zM1256.0 234.2l2.8 1.8l-2.5 1.5zM1264.1 233.7l2.9 2.2l-2.8 1.4zM1119.0 252.3l-0.2 -3.9l3.1 1.3zM1127.9 252.3l0.1 -3.5l2.7 1.4zM1136.8 250.8l0.3 -3.3l2.4 1.5zM1144.3 250.9l0.5 -3.0l2.2 1.5zM1152.2 249.0l0.7 -2.8l1.9 1.7zM1161.9 248.9l1.1 -2.6l1.6 1.8zM1170.0 248.7l1.4 -2.3l1.3 2.0zM1177.7 247.1l1.9 -2.0l0.8 2.3zM1184.6 246.9l2.2 -1.6l0.4 2.4zM1193.2 246.2l2.6 -1.0l-0.2 2.4zM1202.4 244.6l2.7 -0.3l-0.8 2.3zM1211.0 245.6l2.7 0.3l-1.3 2.0zM1217.5 243.2l2.7 0.6l-1.5 1.9zM1226.5 243.7l2.6 1.0l-1.8 1.7zM1236.3 242.3l2.6 1.4l-2.1 1.6zM1244.1 242.5l2.7 1.7l-2.4 1.5zM1250.7 241.7l2.7 1.9l-2.6 1.4zM1259.4 240.4l2.9 2.3l-2.9 1.4zM1267.6 239.0l2.9 3.0l-3.5 1.1zM1125.0 259.2l-0.3 -3.8l3.1 1.2zM1133.2 259.6l-0.2 -3.5l2.8 1.2zM1140.8 257.4l0.1 -3.2l2.5 1.3zM1149.9 257.2l0.3 -3.0l2.2 1.4zM1156.6 255.8l0.6 -2.8l2.0 1.5zM1166.1 257.1l0.9 -2.6l1.7 1.7zM1174.2 255.7l1.4 -2.3l1.3 2.0zM1180.3 254.3l1.9 -2.0l0.8 2.2zM1189.1 254.7l2.4 -1.3l0.1 2.4zM1197.8 252.2l2.7 -0.5l-0.7 2.3zM1206.6 251.7l2.7 0.3l-1.3 2.0zM1215.8 251.1l2.6 0.8l-1.7 1.7zM1223.9 249.7l2.5 1.2l-1.9 1.6zM1232.0 250.2l2.5 1.5l-2.2 1.4zM1239.7 249.1l2.5 1.8l-2.4 1.3zM1248.8 248.2l2.6 2.1l-2.7 1.2zM1256.1 248.2l2.7 2.5l-3.0 1.1zM1265.4 245.9l2.7 3.3l-3.6 0.9zM1122.7 270.3l-1.3 -4.2l3.8 0.6zM1129.9 266.2l-0.6 -3.8l3.2 1.0zM1136.6 266.5l-0.5 -3.5l2.9 1.0zM1145.2 265.0l-0.2 -3.2l2.6 1.0zM1153.1 265.3l-0.1 -3.0l2.4 1.1zM1162.7 263.0l0.4 -2.8l2.0 1.4zM1169.8 263.3l0.7 -2.6l1.8 1.6zM1178.2 262.7l1.3 -2.3l1.3 2.0zM1185.9 261.8l2.0 -1.7l0.5 2.2zM1194.7 260.0l2.6 -0.6l-0.5 2.2zM1203.3 258.8l2.7 0.4l-1.3 2.0zM1210.0 259.1l2.5 0.9l-1.7 1.6zM1218.8 258.1l2.4 1.4l-2.0 1.4zM1228.0 256.7l2.3 1.7l-2.2 1.2zM1235.0 258.0l2.3 2.0l-2.5 1.0zM1244.9 255.2l2.4 2.3l-2.7 1.0zM1253.1 254.2l2.5 2.7l-3.1 0.9zM1260.3 253.8l2.5 3.4l-3.6 0.6zM1126.0 275.8l-1.6 -4.1l3.8 0.3zM1135.3 275.5l-1.1 -3.7l3.3 0.5zM1141.8 274.2l-0.8 -3.4l3.0 0.6zM1149.5 273.7l-0.7 -3.2l2.7 0.7zM1159.1 271.0l-0.3 -2.9l2.4 0.9zM1166.1 271.5l-0.1 -2.8l2.2 1.0zM1174.1 271.4l0.2 -2.6l2.0 1.2zM1182.2 269.1l1.2 -2.2l1.3 1.8zM1190.1 267.0l2.1 -1.2l0.1 2.2zM1197.3 265.9l2.5 0.1l-1.0 1.9zM1206.6 264.3l2.4 1.1l-1.8 1.5zM1216.7 264.2l2.2 1.7l-2.2 1.1zM1223.5 264.2l2.1 2.0l-2.3 0.9zM1233.4 263.4l2.1 2.3l-2.6 0.7zM1240.4 262.7l2.1 2.5l-2.8 0.7zM1250.0 261.5l2.2 3.0l-3.2 0.6zM1256.5 260.7l2.1 3.6l-3.6 0.3zM1139.5 280.7l-1.4 -3.5l3.3 0.2zM1146.7 280.2l-1.2 -3.2l3.0 0.3zM1155.4 280.1l-1.1 -3.0l2.7 0.3zM1162.6 279.0l-0.9 -2.8l2.5 0.4zM1172.4 277.2l-0.5 -2.6l2.3 0.6zM1179.0 277.5l-0.3 -2.5l2.1 0.7zM1187.0 278.0l0.3 -2.2l1.7 1.1zM1194.9 274.5l2.1 0.6l-1.3 1.5zM1204.1 272.3l1.8 1.7l-2.0 0.8zM1211.9 272.7l1.6 2.1l-2.3 0.4zM1221.0 270.8l1.7 2.3l-2.4 0.4zM1228.0 270.1l1.7 2.5l-2.6 0.4zM1238.2 269.8l1.7 2.8l-2.9 0.3zM1246.5 269.5l1.7 3.4l-3.3 0.1zM1253.4 266.3l1.8 3.8l-3.6 -0.0zM1144.6 290.5l-2.3 -3.4l3.5 -0.6zM1151.0 288.6l-1.9 -3.1l3.1 -0.3zM1160.8 286.4l-1.6 -2.7l2.7 -0.2zM1169.1 284.8l-1.4 -2.4l2.5 -0.2zM1177.0 285.0l-1.5 -2.2l2.3 -0.3zM1185.4 284.2l-1.5 -1.8l2.0 -0.5zM1193.9 283.6l-2.2 -0.0l0.9 -1.7zM1201.5 279.2l0.4 2.3l-2.0 -0.6zM1210.6 280.1l0.6 2.5l-2.2 -0.5zM1217.8 279.2l0.9 2.7l-2.4 -0.3zM1225.8 278.7l1.0 2.9l-2.7 -0.3zM1234.9 277.5l1.2 3.2l-3.0 -0.3zM1241.7 274.9l1.3 3.5l-3.2 -0.3zM1149.8 295.9l-2.9 -3.1l3.5 -1.1zM1157.4 294.8l-2.5 -2.7l3.0 -0.9zM1165.8 294.9l-2.4 -2.2l2.7 -1.0zM1173.0 293.0l-2.3 -1.9l2.3 -1.1zM1182.5 292.6l-2.4 -1.1l1.8 -1.5zM1192.1 290.5l-2.4 0.2l0.8 -2.0zM1200.1 288.0l-1.5 1.8l-0.8 -1.9zM1207.6 287.7l-0.7 2.5l-1.7 -1.5zM1214.8 285.4l0.0 2.8l-2.2 -1.0zM1222.5 284.8l0.3 3.0l-2.5 -0.9zM1232.5 284.1l0.4 3.6l-3.0 -1.0zM1241.0 281.8l0.5 4.1l-3.4 -1.1zM1162.9 302.4l-3.4 -2.2l3.0 -1.9zM1172.0 301.4l-3.2 -1.5l2.4 -1.9zM1180.0 300.1l-3.0 -0.8l1.8 -2.0zM1186.4 297.4l-2.7 -0.2l1.3 -2.1zM1196.6 296.2l-2.3 1.1l0.0 -2.3zM1204.1 295.2l-1.8 2.0l-0.9 -2.2zM1212.2 292.8l-1.0 2.7l-1.7 -1.9zM1220.8 291.7l-0.6 3.2l-2.3 -1.7zM1229.5 290.7l-0.5 3.8l-2.8 -1.8zM1186.1 305.0l-3.4 0.1l1.2 -2.7zM1200.4 302.2l-2.6 1.6l-0.3 -2.6zM1275.5 216.3l3.1 2.4l-3.1 1.5zM1275.3 224.2l3.0 2.8l-3.3 1.3zM1274.3 232.1l2.9 3.2l-3.6 1.1zM1272.6 239.8l2.7 3.6l-3.8 0.8zM1270.3 247.6l2.5 3.8l-3.9 0.5zM1267.1 255.2l2.1 4.1l-4.0 0.1zM1263.3 262.6l1.7 4.3l-4.0 -0.2zM1258.8 269.7l1.3 4.4l-3.9 -0.6zM1253.6 276.2l0.8 4.5l-3.8 -1.0zM1247.8 282.2l0.3 4.5l-3.6 -1.4zM1241.5 287.7l-0.3 4.5l-3.4 -1.9zM1234.7 292.7l-0.9 4.3l-3.0 -2.3zM1227.5 297.2l-1.6 4.0l-2.5 -2.7zM1219.5 301.3l-2.2 3.5l-1.9 -3.0zM1210.8 304.7l-2.8 2.7l-1.1 -3.2zM1201.7 307.1l-3.1 1.8l-0.2 -3.1zM1193.3 308.5l-3.6 0.9l0.6 -3.2zM1184.9 309.2l-4.0 0.0l1.5 -3.2zM1176.3 309.1l-4.2 -0.9l2.3 -3.0zM1167.3 307.7l-4.1 -1.7l2.9 -2.6zM1158.5 305.1l-3.9 -2.4l3.3 -2.1zM1150.0 301.3l-3.6 -2.9l3.6 -1.7zM1142.0 296.6l-3.2 -3.4l3.8 -1.3zM1134.6 291.0l-2.8 -3.7l3.9 -0.8zM1127.8 284.6l-2.5 -4.0l4.0 -0.4zM1121.9 277.6l-2.1 -4.2l4.1 -0.0zM1116.7 269.8l-1.7 -4.4l4.0 0.3zM1112.4 261.6l-1.3 -4.5l3.9 0.7zM1109.1 252.7l-0.9 -4.4l3.8 1.0zM1106.8 243.3l-0.5 -4.3l3.5 1.2zM1105.6 233.8l-0.1 -4.1l3.3 1.4zM1105.4 224.2l0.2 -3.9l3.0 1.6zM1106.2 214.6l0.4 -3.6l2.7 1.7zM1108.0 205.2l0.7 -3.4l2.4 1.8zM1110.8 196.1l0.8 -3.1l2.1 1.8zM1114.2 187.7l1.0 -2.9l1.9 1.9zM1118.5 179.7l1.2 -2.8l1.7 2.0zM1123.6 172.1l1.4 -2.6l1.5 2.1zM1129.4 165.2l1.5 -2.4l1.3 2.1zM1135.8 159.0l1.7 -2.3l1.2 2.2zM1142.7 153.5l1.8 -2.1l1.0 2.3zM1150.1 148.7l2.0 -2.0l0.8 2.3zM1158.0 144.7l2.1 -1.8l0.7 2.4zM1166.2 141.6l2.2 -1.7l0.5 2.4zM1174.7 139.3l2.3 -1.5l0.3 2.4zM1183.3 137.9l2.4 -1.4l0.1 2.4zM1192.1 137.5l2.5 -1.2l-0.0 2.4zM1200.8 137.9l2.6 -1.0l-0.2 2.4zM1209.4 139.2l2.7 -0.8l-0.4 2.4zM1217.9 141.4l2.7 -0.6l-0.6 2.4zM1226.0 144.4l2.8 -0.4l-0.7 2.3zM1233.8 148.3l2.8 -0.2l-0.9 2.3zM1241.2 152.9l2.8 -0.0l-1.1 2.2zM1248.0 158.3l2.8 0.2l-1.2 2.2zM1254.1 164.2l2.9 0.4l-1.4 2.1zM1259.5 170.7l2.9 0.6l-1.6 2.1zM1264.2 177.7l2.9 0.9l-1.8 2.0zM1268.2 185.1l2.9 1.1l-2.0 1.9zM1271.3 192.7l3.0 1.4l-2.2 1.8zM1273.5 200.5l3.0 1.7l-2.5 1.7zM1274.9 208.3l3.1 2.1l-2.8 1.6z" fill="#000"/>
<g clip-path="url(#cc1)">
<circle cx="1193.6" cy="425.3" r="86.5" fill="#0000b5"/>
<path d="M1280.1 511.9L1107.0 511.8L1107.1 338.6L1280.3 338.8L1280.1 511.9ZM1193.7 369.3L1195.1 369.0L1196.6 368.0L1197.6 366.5L1197.9 364.8L1197.6 363.0L1196.6 361.5L1195.1 360.5L1193.6 360.2L1192.1 360.5L1190.6 361.5L1189.6 363.0L1189.3 364.8L1189.6 366.5L1190.6 368.0L1192.1 369.0L1193.7 369.3ZM1198.6 495.3L1207.1 494.1L1214.9 491.8L1221.4 488.3L1223.5 486.3L1224.1 484.8L1223.1 484.0L1220.6 484.0L1204.1 487.5L1193.6 488.3L1183.1 487.5L1166.6 484.0L1164.1 484.0L1163.1 484.8L1164.1 486.8L1167.2 489.3L1171.1 491.3L1176.6 493.2L1181.6 494.4L1187.6 495.2L1198.6 495.3Z" fill="#0000ca" fill-rule="evenodd"/>
<path d="M1280.1 511.9L1107.0 511.8L1107.1 338.6L1280.3 338.8L1280.1 511.9ZM1195.7 371.3L1198.1 369.8L1199.5 367.8L1200.2 365.3L1199.9 362.8L1198.6 360.3L1196.9 358.8L1194.6 357.9L1192.1 358.0L1189.6 359.3L1187.9 361.3L1187.1 363.8L1187.3 366.8L1188.6 369.3L1190.6 370.9L1193.1 371.7L1195.7 371.3ZM1196.0 497.3L1202.3 496.8L1208.6 495.7L1214.6 494.0L1219.9 491.8L1225.0 488.8L1228.5 485.8L1230.4 482.8L1230.3 480.8L1228.6 480.0L1225.6 480.1L1206.6 485.1L1200.1 486.1L1194.1 486.5L1187.6 486.2L1181.1 485.2L1161.1 480.0L1158.1 480.1L1157.1 480.6L1156.7 481.3L1157.2 483.8L1160.3 487.3L1164.5 490.3L1170.1 493.1L1175.6 494.9L1182.1 496.4L1189.1 497.2L1196.0 497.3Z" fill="#0000df" fill-rule="evenodd"/>
<path d="M1280.1 511.9L1107.0 511.8L1107.1 338.6L1280.3 338.8L1280.1 511.9ZM1195.9 373.3L1198.7 371.8L1200.9 369.3L1201.9 366.3L1201.8 362.8L1200.5 359.8L1198.1 357.4L1195.1 356.1L1192.1 356.1L1189.1 357.4L1186.6 359.9L1185.3 363.3L1185.4 366.8L1186.6 369.8L1189.1 372.3L1192.6 373.6L1195.9 373.3ZM1196.6 498.8L1203.6 498.2L1210.5 496.8L1216.9 494.8L1222.6 492.3L1228.1 488.8L1232.0 485.3L1234.6 481.3L1235.0 479.8L1234.8 478.3L1233.1 476.9L1229.6 476.9L1207.6 483.3L1200.6 484.5L1193.6 484.9L1186.6 484.5L1179.6 483.3L1157.6 476.9L1154.1 476.9L1152.4 478.3L1152.2 479.8L1152.8 481.8L1155.7 485.8L1160.5 489.8L1166.7 493.3L1173.6 495.9L1181.1 497.8L1188.6 498.7L1196.6 498.8Z" fill="#0000f4" fill-rule="evenodd"/>
<path d="M1280.1 511.9L1107.0 511.8L1107.1 338.6L1280.3 338.8L1280.1 511.9ZM1195.2 375.3L1198.6 374.1L1201.6 371.3L1203.4 367.8L1203.7 363.8L1202.6 360.1L1200.1 356.9L1196.6 354.8L1193.1 354.2L1189.1 355.5L1185.8 358.3L1183.9 361.8L1183.5 365.8L1184.6 369.8L1187.5 373.3L1191.1 375.1L1195.2 375.3ZM1201.7 499.8L1209.1 498.6L1216.1 496.6L1222.6 493.9L1228.1 490.7L1233.0 486.8L1236.8 482.3L1238.5 478.3L1238.5 476.8L1237.9 475.3L1237.1 474.5L1235.6 474.0L1231.6 474.2L1208.6 481.6L1201.1 483.0L1194.1 483.5L1186.6 483.1L1179.1 481.7L1155.1 474.1L1151.1 474.1L1149.7 474.8L1149.0 475.8L1148.7 477.8L1149.1 479.8L1150.4 482.3L1152.7 485.3L1158.5 490.3L1166.1 494.6L1174.1 497.5L1183.1 499.5L1192.6 500.3L1201.7 499.8Z" fill="#000bff" fill-rule="evenodd"/>
<path d="M1280.1 511.9L1107.0 511.8L1107.1 338.6L1280.3 338.8L1280.1 511.9ZM1196.7 376.8L1200.6 374.8L1203.4 371.8L1205.1 367.8L1205.3 363.3L1203.9 359.3L1201.1 355.9L1197.1 353.4L1193.1 352.7L1188.5 354.3L1186.4 355.8L1184.4 357.8L1183.1 359.8L1182.2 362.3L1181.9 366.8L1182.5 369.3L1183.6 371.5L1185.1 373.5L1187.1 375.2L1189.1 376.3L1191.6 377.1L1194.1 377.2L1196.7 376.8ZM1200.3 501.3L1208.6 500.0L1216.6 497.8L1223.7 494.8L1230.4 490.8L1235.8 486.3L1239.7 481.3L1241.0 478.8L1241.7 476.3L1241.6 474.3L1240.9 472.8L1239.8 471.8L1238.5 471.3L1234.1 471.4L1229.6 472.6L1216.6 477.7L1209.6 479.9L1201.6 481.5L1194.1 482.1L1186.1 481.6L1178.1 480.0L1171.0 477.8L1157.6 472.6L1153.1 471.4L1148.6 471.3L1147.1 472.0L1146.0 473.3L1145.5 475.3L1145.9 477.8L1147.2 480.8L1149.2 483.8L1154.8 489.3L1162.6 494.3L1171.1 498.0L1180.6 500.4L1190.6 501.6L1200.3 501.3Z" fill="#0020ff" fill-rule="evenodd"/>
<path d="M1280.1 511.9L1107.0 511.8L1107.1 338.6L1280.3 338.8L1280.1 511.9ZM1196.5 378.8L1201.1 376.8L1204.6 373.3L1206.7 368.8L1207.1 364.3L1205.9 359.8L1203.0 355.8L1198.6 352.7L1193.6 351.2L1191.1 351.8L1188.1 353.1L1185.6 354.8L1183.6 356.8L1181.8 359.3L1180.7 361.8L1180.2 364.3L1180.1 366.8L1180.8 369.8L1182.0 372.3L1183.6 374.6L1185.6 376.4L1188.1 377.9L1190.6 378.8L1193.6 379.1L1196.5 378.8ZM1198.2 502.8L1207.6 501.5L1216.1 499.3L1224.6 495.8L1231.6 491.6L1237.9 486.3L1242.5 480.3L1244.4 475.8L1244.1 473.3L1243.1 471.2L1241.8 469.8L1240.1 468.9L1238.1 468.5L1236.1 468.6L1231.1 470.1L1217.2 475.8L1209.8 478.3L1202.1 480.0L1194.1 480.6L1186.1 480.1L1177.6 478.4L1170.0 475.8L1156.1 470.1L1150.6 468.5L1146.6 469.1L1144.8 470.3L1143.7 471.8L1143.0 473.8L1142.9 476.3L1144.1 479.3L1145.9 482.3L1148.8 485.8L1152.0 488.8L1159.8 494.3L1168.6 498.4L1178.1 501.2L1188.6 502.8L1198.2 502.8Z" fill="#0035ff" fill-rule="evenodd"/>
<path d="M1280.1 511.8L1107.1 511.8L1107.1 338.6L1280.3 338.8L1280.1 511.8ZM1197.0 380.8L1199.6 379.9L1202.1 378.6L1206.0 374.8L1208.5 369.8L1209.0 366.8L1208.9 364.3L1208.4 361.8L1207.3 359.3L1204.1 355.2L1199.3 351.8L1193.6 349.9L1190.1 351.0L1187.1 352.4L1184.5 354.3L1182.0 356.8L1180.3 359.3L1178.9 362.3L1178.4 364.8L1178.4 367.8L1179.1 370.8L1180.5 373.8L1182.6 376.5L1185.1 378.6L1188.1 380.2L1191.1 381.0L1194.1 381.2L1197.0 380.8ZM1195.1 504.3L1205.6 503.2L1215.6 500.8L1224.6 497.2L1233.0 492.3L1236.8 489.3L1240.5 485.8L1243.4 482.3L1245.6 478.8L1246.3 476.8L1246.4 473.8L1246.0 471.3L1245.0 469.3L1243.1 467.5L1241.1 466.6L1238.1 466.1L1235.1 466.4L1217.7 473.8L1210.6 476.4L1202.1 478.3L1193.6 479.0L1185.1 478.3L1176.6 476.4L1169.5 473.8L1152.1 466.4L1149.1 466.1L1146.1 466.6L1143.7 467.8L1142.1 469.5L1141.1 471.8L1140.7 474.8L1141.1 477.8L1142.2 479.8L1144.6 483.3L1147.7 486.8L1151.6 490.3L1155.7 493.3L1164.6 498.1L1174.1 501.5L1184.6 503.7L1195.1 504.3Z" fill="#004aff" fill-rule="evenodd"/>
<path d="M1280.1 511.8L1107.1 511.8L1107.1 338.6L1280.3 338.8L1280.1 511.8ZM1197.2 383.3L1200.1 382.4L1203.1 380.8L1207.5 376.8L1209.2 374.3L1210.5 371.3L1211.0 368.8L1211.1 365.8L1210.5 362.8L1209.5 360.3L1207.6 357.3L1205.3 354.8L1200.1 351.1L1193.6 348.7L1190.1 349.9L1186.6 351.6L1183.5 353.8L1180.9 356.3L1178.7 359.3L1177.3 362.3L1176.4 365.8L1176.4 368.8L1177.2 372.3L1178.6 375.3L1181.0 378.3L1183.6 380.5L1186.6 382.2L1190.1 383.3L1193.6 383.7L1197.2 383.3ZM1199.8 505.3L1210.6 503.5L1220.6 500.3L1229.6 496.0L1237.8 490.3L1243.5 484.8L1247.6 479.0L1248.4 475.3L1248.4 471.8L1247.6 468.8L1246.3 466.8L1244.1 465.0L1241.6 463.9L1238.6 463.6L1235.1 463.9L1232.6 464.6L1218.4 471.3L1210.6 474.3L1202.4 476.3L1194.1 477.0L1185.1 476.4L1176.6 474.3L1168.8 471.3L1154.6 464.6L1151.6 463.8L1148.1 463.6L1144.6 464.3L1142.1 465.6L1140.1 467.8L1139.1 470.1L1138.7 472.8L1138.9 475.8L1139.7 479.3L1142.9 483.8L1146.6 487.8L1150.6 491.3L1155.6 494.8L1165.6 499.9L1176.6 503.5L1182.6 504.7L1189.1 505.4L1193.6 505.7L1199.8 505.3Z" fill="#0060ff" fill-rule="evenodd"/>
<path d="M1280.1 511.8L1107.1 511.8L1107.1 338.6L1280.3 338.8L1280.1 511.8ZM1197.1 386.8L1200.1 386.0L1203.6 384.5L1206.6 382.5L1209.3 379.8L1211.5 376.8L1212.8 373.8L1213.5 370.8L1213.5 367.3L1213.0 364.3L1211.5 360.8L1209.6 357.8L1206.9 354.8L1203.9 352.3L1200.7 350.3L1193.6 347.7L1189.1 349.3L1185.3 351.3L1181.9 353.8L1179.1 356.8L1176.6 360.3L1174.9 364.3L1174.1 367.8L1174.1 371.3L1174.9 374.8L1176.4 377.8L1178.8 380.8L1182.1 383.6L1185.6 385.5L1189.1 386.6L1193.1 387.1L1197.1 386.8ZM1197.3 506.8L1209.1 505.2L1220.1 501.9L1230.6 497.0L1239.1 491.1L1245.2 485.3L1248.4 481.3L1249.2 479.8L1250.3 475.3L1250.6 471.3L1249.9 467.8L1248.2 464.8L1245.6 462.6L1242.6 461.3L1238.6 460.6L1234.6 460.9L1230.6 462.1L1218.4 468.3L1209.6 471.8L1201.1 473.8L1193.6 474.4L1186.1 473.8L1177.6 471.8L1168.8 468.3L1156.6 462.1L1152.6 460.9L1148.6 460.6L1144.6 461.3L1141.1 462.9L1138.6 465.3L1137.1 468.3L1136.6 471.8L1137.0 475.8L1138.2 480.3L1140.7 483.8L1143.9 487.3L1151.6 493.8L1156.6 497.0L1161.6 499.6L1167.1 501.9L1173.1 503.9L1179.6 505.5L1185.6 506.4L1192.6 506.9L1197.3 506.8Z" fill="#0075ff" fill-rule="evenodd"/>
<path d="M1280.1 511.8L1107.1 511.8L1107.1 338.6L1280.3 338.8L1280.1 511.8ZM1197.6 394.3L1202.1 393.2L1206.1 391.6L1210.1 389.1L1213.1 386.3L1215.0 383.3L1216.1 380.2L1216.7 376.3L1216.7 372.3L1215.9 367.3L1214.4 362.8L1212.6 359.8L1209.9 356.3L1206.6 353.1L1202.6 350.4L1198.4 348.3L1193.6 346.7L1188.1 348.8L1183.7 351.3L1180.0 354.3L1176.5 358.3L1173.7 362.8L1172.2 366.8L1171.2 372.3L1171.2 377.3L1171.9 381.3L1173.4 384.8L1175.6 387.7L1178.6 390.1L1183.1 392.5L1187.6 393.9L1192.6 394.6L1197.6 394.3ZM1193.7 508.3L1200.1 507.9L1206.6 507.1L1218.6 504.0L1224.6 501.7L1230.1 499.0L1235.1 496.0L1240.2 492.3L1247.6 485.3L1250.1 482.2L1250.9 480.3L1252.3 474.8L1252.7 469.8L1251.9 465.8L1250.1 462.7L1246.6 459.7L1242.1 457.7L1236.1 456.4L1230.1 456.2L1225.8 457.3L1215.9 462.8L1207.4 466.3L1198.6 468.2L1190.6 468.4L1184.6 467.5L1178.3 465.8L1171.3 462.8L1161.1 457.2L1158.1 456.4L1155.1 456.1L1149.6 456.6L1144.1 458.0L1140.1 460.0L1137.1 462.7L1135.3 465.8L1134.5 469.8L1134.9 474.8L1136.3 480.3L1137.1 482.2L1139.6 485.3L1147.0 492.3L1152.1 496.0L1157.1 499.0L1162.6 501.7L1168.6 504.0L1180.6 507.1L1187.1 507.9L1193.7 508.3Z" fill="#008aff" fill-rule="evenodd"/>
<path d="M1280.1 511.8L1107.1 511.8L1107.1 338.6L1280.3 338.8L1280.1 511.8ZM1196.1 509.8L1207.6 508.6L1219.1 505.7L1229.1 501.6L1238.6 495.9L1245.6 490.3L1251.6 483.8L1254.2 475.3L1254.9 468.8L1254.2 464.3L1252.0 460.3L1248.6 457.1L1239.9 451.8L1236.4 448.8L1228.1 437.8L1226.3 433.8L1224.1 430.3L1219.5 425.3L1220.0 422.3L1225.6 410.4L1227.2 404.3L1226.1 398.8L1223.9 392.8L1222.9 385.3L1220.1 373.6L1218.4 368.3L1216.3 363.3L1214.7 360.3L1212.8 357.8L1207.1 352.3L1201.4 348.8L1193.6 345.7L1184.5 349.8L1180.9 352.3L1177.6 355.3L1172.6 361.8L1170.5 366.3L1168.6 371.8L1165.9 384.8L1165.4 395.3L1163.6 400.5L1162.6 405.8L1165.1 412.1L1170.9 421.8L1171.5 423.8L1171.2 425.3L1166.7 428.3L1163.2 431.8L1152.9 446.3L1150.3 449.3L1147.3 451.8L1139.1 456.8L1135.7 459.8L1133.1 464.1L1132.3 469.3L1133.1 475.8L1135.6 483.8L1142.6 491.2L1151.1 497.6L1161.1 503.0L1172.6 507.0L1184.1 509.2L1196.1 509.8Z" fill="#009fff" fill-rule="evenodd"/>
<path d="M1280.1 511.8L1211.6 511.8L1223.1 508.5L1233.1 504.0L1241.6 498.7L1249.6 491.8L1254.4 486.3L1254.6 482.3L1256.9 471.3L1257.0 465.3L1256.1 461.3L1254.1 457.8L1251.6 455.1L1243.8 448.3L1238.6 441.8L1235.0 432.3L1229.6 423.3L1229.1 420.8L1229.3 417.8L1231.6 407.1L1232.1 400.8L1230.3 394.8L1227.5 388.8L1225.0 379.3L1218.9 364.8L1215.1 358.6L1209.2 352.8L1203.1 348.8L1193.6 344.7L1184.7 348.8L1178.9 352.8L1173.2 358.8L1169.5 364.8L1166.7 370.8L1164.1 378.3L1162.4 384.8L1161.6 390.8L1159.1 396.6L1157.5 402.3L1158.6 408.2L1161.4 415.8L1161.8 419.8L1161.3 422.8L1153.7 431.8L1151.1 436.3L1148.6 441.8L1145.6 445.8L1142.4 449.3L1135.1 455.5L1132.7 458.3L1131.1 461.3L1130.2 465.3L1130.3 471.3L1132.6 482.3L1132.8 486.3L1137.6 491.8L1145.6 498.7L1154.1 504.0L1164.1 508.5L1175.6 511.8L1107.1 511.8L1107.1 338.6L1280.3 338.8L1280.1 511.8Z" fill="#00b5ff" fill-rule="evenodd"/>
<path d="M1280.1 505.3L1263.1 489.4L1260.1 486.0L1258.1 482.7L1257.8 479.3L1259.4 465.8L1259.2 462.3L1258.6 459.2L1257.3 456.3L1255.6 453.9L1247.0 444.8L1241.7 430.8L1239.1 426.0L1236.8 423.3L1235.4 420.8L1234.7 417.8L1234.3 413.3L1235.3 404.8L1235.2 398.8L1233.1 392.7L1229.9 386.3L1227.1 377.8L1222.1 367.3L1216.3 358.3L1211.2 353.3L1204.7 348.8L1193.6 343.6L1183.2 348.8L1177.5 352.8L1171.8 358.8L1166.7 366.8L1162.0 377.3L1160.2 382.8L1159.1 388.3L1156.2 394.3L1154.3 400.3L1154.9 406.8L1156.6 413.3L1156.4 417.3L1155.6 420.1L1154.3 422.3L1151.0 425.3L1146.9 430.8L1144.2 435.8L1140.2 444.8L1131.6 453.9L1129.9 456.3L1128.6 459.2L1128.0 462.3L1127.8 465.8L1129.4 479.3L1129.1 482.7L1127.1 486.0L1124.1 489.4L1107.1 505.3L1106.9 338.8L1280.1 338.6L1280.1 505.3Z" fill="#00caff" fill-rule="evenodd"/>
<path d="M1280.1 495.5L1266.1 483.9L1263.1 480.9L1261.2 478.3L1260.8 474.8L1261.7 461.8L1260.7 455.3L1259.0 451.8L1255.9 447.8L1249.4 432.3L1246.4 426.3L1245.8 425.3L1241.8 421.8L1239.4 417.8L1237.8 411.3L1238.2 403.3L1237.5 396.8L1235.1 390.5L1231.8 384.3L1229.0 376.8L1224.2 367.8L1218.2 358.8L1216.0 356.3L1212.7 353.3L1206.1 348.8L1193.6 342.4L1181.8 348.8L1176.2 352.8L1170.4 358.8L1164.7 367.3L1160.1 376.6L1157.1 386.3L1154.0 392.3L1151.7 398.8L1151.8 405.3L1153.0 412.3L1151.7 417.3L1149.0 421.3L1146.6 423.4L1143.3 425.3L1141.6 427.8L1138.1 433.8L1131.4 447.8L1128.2 451.8L1126.6 455.1L1125.8 458.3L1125.5 461.8L1126.4 474.8L1126.0 478.3L1124.1 480.9L1121.1 483.9L1107.1 495.5L1106.9 338.8L1280.1 338.6L1280.1 495.5Z" fill="#00dfff" fill-rule="evenodd"/>
<path d="M1280.1 486.6L1268.6 478.2L1264.1 473.8L1263.6 470.3L1264.0 460.3L1263.7 455.3L1261.3 443.8L1259.7 438.3L1257.0 431.8L1253.4 425.3L1249.6 423.2L1246.6 420.9L1244.3 418.3L1242.6 415.3L1240.9 410.3L1240.7 402.3L1239.6 395.5L1237.1 389.3L1233.5 382.8L1231.1 376.8L1228.5 371.8L1222.0 361.8L1215.9 354.8L1209.2 349.8L1196.5 343.3L1193.6 340.9L1191.1 343.2L1180.5 348.8L1174.3 353.3L1168.6 359.3L1163.0 367.3L1158.5 375.8L1155.5 384.3L1152.1 390.8L1149.6 397.3L1149.2 403.8L1149.8 411.3L1148.3 415.3L1146.4 418.3L1143.6 421.0L1139.9 423.3L1135.3 425.3L1130.5 432.8L1127.3 439.8L1125.6 445.3L1123.5 455.3L1123.2 460.3L1123.6 470.3L1123.1 473.8L1118.6 478.2L1107.1 486.6L1106.9 338.8L1280.1 338.7L1280.1 486.6Z" fill="#00f4ff" fill-rule="evenodd"/>
<path d="M1107.1 478.5L1106.9 338.8L1193.2 338.8L1192.4 340.8L1191.0 342.3L1178.5 349.3L1171.3 354.8L1165.5 361.3L1160.1 369.3L1156.8 375.3L1154.0 382.8L1150.6 388.8L1147.9 395.3L1147.0 401.8L1147.0 410.3L1145.3 413.8L1143.0 416.8L1139.6 419.6L1134.6 422.3L1126.1 425.3L1125.1 427.5L1123.6 432.3L1122.5 438.8L1121.1 454.0L1121.0 466.3L1120.3 469.3L1116.6 472.5L1107.1 478.5ZM1280.1 478.5L1270.6 472.5L1266.9 469.3L1266.2 465.8L1266.1 454.3L1264.8 438.3L1263.6 431.3L1262.1 426.3L1261.7 425.3L1255.1 422.3L1251.1 419.8L1248.1 417.1L1245.7 413.8L1243.6 409.3L1242.8 400.3L1241.1 393.3L1238.5 387.3L1234.8 380.8L1232.6 375.8L1230.1 371.3L1223.2 361.3L1216.7 354.3L1209.6 349.3L1196.4 342.3L1194.9 340.8L1194.0 338.8L1280.2 338.8L1280.1 478.5Z" fill="#0bfff4" fill-rule="evenodd"/>
<path d="M1107.1 471.1L1107.0 338.8L1192.1 338.8L1191.3 340.8L1189.7 342.3L1177.3 349.3L1170.6 354.3L1164.4 360.8L1159.0 368.3L1155.5 374.3L1152.6 381.3L1149.4 386.8L1146.7 392.8L1145.8 395.3L1145.0 399.8L1144.4 409.3L1141.8 413.3L1139.1 416.1L1136.1 418.1L1125.1 423.0L1121.8 425.3L1120.4 434.3L1118.6 460.8L1118.1 463.8L1117.1 465.4L1107.1 471.1ZM1280.1 471.1L1270.1 465.4L1269.1 463.8L1268.5 460.3L1267.0 434.8L1265.7 425.3L1262.6 422.7L1252.7 416.8L1250.1 414.3L1247.6 411.0L1246.1 408.3L1244.7 398.8L1242.2 390.8L1239.6 385.3L1231.6 370.8L1224.2 360.8L1217.4 353.8L1210.0 348.8L1197.8 342.3L1196.1 340.8L1195.3 338.8L1280.2 338.8L1280.1 471.1Z" fill="#20ffdf" fill-rule="evenodd"/>
<path d="M1107.6 463.9L1107.1 464.1L1107.0 338.8L1191.0 338.8L1190.1 340.8L1188.5 342.3L1176.1 349.3L1169.4 354.3L1163.0 360.8L1157.0 368.8L1153.7 374.3L1151.3 379.8L1147.6 386.1L1145.0 391.8L1143.1 398.8L1141.7 408.8L1139.3 411.8L1136.6 414.2L1133.1 416.4L1124.6 420.6L1122.1 422.6L1119.8 425.3L1118.8 433.3L1117.8 448.3L1116.1 458.3L1115.4 459.8L1114.6 460.5L1107.6 463.9ZM1280.1 464.1L1272.6 460.5L1271.8 459.8L1271.1 458.3L1269.5 448.3L1268.6 433.3L1267.6 425.3L1263.6 420.6L1253.1 413.0L1248.8 407.8L1246.5 397.8L1243.5 389.3L1240.6 383.3L1233.0 370.3L1225.6 360.8L1219.1 354.3L1212.0 349.3L1199.1 342.3L1197.4 340.8L1196.5 338.8L1280.2 338.8L1280.1 464.1Z" fill="#35ffca" fill-rule="evenodd"/>
<path d="M1107.6 457.3L1107.1 457.5L1107.0 338.8L1189.8 338.8L1189.0 340.8L1187.3 342.3L1175.0 349.3L1167.6 354.8L1161.6 360.8L1155.3 368.8L1146.6 384.1L1143.9 389.8L1141.1 398.3L1139.3 407.8L1134.5 412.3L1123.6 418.9L1121.1 421.4L1118.6 425.1L1117.6 432.3L1116.6 446.3L1115.6 451.2L1114.6 453.3L1113.1 455.1L1107.6 457.3ZM1280.1 457.5L1274.1 455.1L1272.6 453.2L1271.8 451.3L1270.8 446.8L1269.6 430.3L1268.6 424.6L1266.6 421.4L1264.1 418.4L1255.1 411.0L1251.2 406.8L1248.6 397.8L1244.5 387.3L1241.6 381.8L1234.6 370.2L1226.5 360.3L1220.3 354.3L1214.0 349.8L1200.4 342.3L1198.6 340.8L1197.7 338.8L1280.2 338.8L1280.1 457.5Z" fill="#4affb5" fill-rule="evenodd"/>
<path d="M1107.1 454.4L1107.0 338.8L1188.7 338.8L1188.3 340.3L1186.2 342.3L1173.2 349.8L1166.5 354.8L1160.8 360.3L1153.8 368.8L1145.7 382.3L1142.9 387.8L1139.2 397.8L1136.9 406.8L1133.5 409.8L1123.6 416.7L1120.6 419.9L1118.1 423.9L1117.3 426.3L1115.5 444.3L1114.5 449.3L1112.6 452.3L1107.1 454.4ZM1280.1 454.2L1275.1 452.4L1273.9 451.3L1272.9 449.3L1271.9 444.3L1270.0 425.3L1268.6 422.3L1264.1 416.0L1253.4 405.8L1250.6 397.8L1245.2 385.3L1242.5 380.3L1236.2 370.3L1227.7 360.3L1222.0 354.8L1215.0 349.8L1201.5 342.3L1199.4 340.3L1198.9 338.8L1280.2 338.8L1280.1 454.2Z" fill="#60ff9f" fill-rule="evenodd"/>
<path d="M1108.1 451.4L1107.1 451.7L1107.0 338.8L1187.6 338.8L1187.2 340.3L1185.1 342.3L1172.2 349.8L1164.8 355.3L1159.1 360.8L1151.6 369.8L1144.8 380.8L1142.1 385.9L1137.3 397.3L1134.5 405.8L1123.6 414.5L1120.6 418.0L1118.1 421.9L1116.5 425.3L1114.6 442.3L1113.6 447.1L1112.6 449.2L1111.6 450.2L1108.1 451.4ZM1280.1 451.3L1275.7 449.8L1274.0 447.3L1272.9 442.3L1271.0 425.3L1269.1 421.1L1266.6 417.0L1264.1 413.7L1255.7 405.3L1252.6 397.8L1246.0 383.8L1237.6 370.3L1232.6 364.3L1223.6 355.3L1216.8 350.3L1202.7 342.3L1200.5 340.3L1200.1 338.8L1280.2 338.8L1280.1 451.3Z" fill="#75ff8a" fill-rule="evenodd"/>
<path d="M1108.1 448.8L1107.1 449.1L1107.0 338.8L1186.5 338.8L1186.1 340.3L1184.1 342.3L1170.5 350.3L1163.8 355.3L1155.2 363.8L1150.3 369.8L1141.5 383.8L1135.1 397.8L1132.2 405.3L1123.6 412.6L1120.6 416.1L1118.1 420.1L1115.7 425.3L1113.8 440.3L1112.8 444.8L1111.1 447.8L1108.1 448.8ZM1280.1 448.5L1276.6 447.4L1275.6 446.5L1274.8 444.8L1273.6 439.8L1271.8 425.3L1269.1 419.1L1264.6 412.3L1257.3 404.3L1246.6 382.3L1239.1 370.7L1233.8 364.3L1224.5 355.3L1217.8 350.3L1203.7 342.3L1201.7 340.3L1201.3 338.8L1280.2 338.8L1280.1 448.5Z" fill="#8aff75" fill-rule="evenodd"/>
<path d="M1107.6 446.4L1107.1 446.5L1107.0 338.8L1185.4 338.8L1185.1 340.3L1183.1 342.3L1169.6 350.3L1162.2 355.8L1153.6 364.3L1148.6 370.3L1140.6 382.8L1130.1 404.7L1123.1 411.3L1118.1 418.3L1115.0 425.3L1113.1 438.3L1112.1 442.8L1110.6 445.3L1107.6 446.4ZM1280.1 445.7L1277.1 444.8L1275.6 442.7L1274.5 438.3L1272.5 425.3L1269.1 417.3L1265.1 411.0L1258.9 403.8L1255.2 396.3L1251.2 389.3L1247.3 381.3L1240.4 370.8L1235.0 364.3L1226.1 355.8L1218.6 350.3L1204.8 342.3L1202.8 340.3L1202.5 338.8L1280.2 338.8L1280.1 445.7Z" fill="#9fff60" fill-rule="evenodd"/>
<path d="M1107.6 443.9L1107.1 444.0L1107.0 338.8L1184.3 338.8L1184.1 340.3L1182.2 342.3L1168.0 350.8L1161.4 355.8L1152.5 364.3L1147.5 370.3L1140.1 381.4L1128.6 403.9L1122.1 410.8L1117.6 417.6L1114.3 425.3L1112.5 436.3L1111.4 440.8L1110.1 442.9L1107.6 443.9ZM1280.1 442.9L1277.6 442.2L1276.1 439.9L1275.0 435.8L1273.3 425.3L1271.4 420.3L1269.1 415.5L1265.6 410.0L1260.2 403.3L1256.6 396.1L1252.1 388.8L1248.1 380.6L1241.5 370.8L1235.5 363.8L1226.9 355.8L1219.4 350.3L1205.8 342.3L1203.9 340.3L1203.7 338.8L1280.2 338.8L1280.1 442.9Z" fill="#b5ff4a" fill-rule="evenodd"/>
<path d="M1107.6 441.4L1107.1 441.5L1107.0 338.8L1183.2 338.8L1183.0 340.3L1181.2 342.3L1167.2 350.8L1159.9 356.3L1151.5 364.3L1146.1 370.7L1139.2 380.8L1135.3 388.8L1131.1 395.8L1127.0 403.8L1121.6 409.8L1117.6 416.0L1113.6 425.3L1110.9 438.3L1109.6 440.6L1107.6 441.4ZM1280.1 440.2L1278.1 439.7L1276.6 437.3L1274.0 425.3L1272.1 420.1L1269.6 414.8L1266.1 409.1L1261.6 403.3L1257.6 395.6L1253.0 388.3L1249.3 380.8L1244.7 373.8L1237.9 365.3L1228.9 356.8L1221.0 350.8L1206.8 342.3L1205.0 340.3L1204.9 338.8L1280.2 338.8L1280.1 440.2Z" fill="#caff35" fill-rule="evenodd"/>
<path d="M1108.1 438.8L1107.1 439.0L1107.0 338.8L1182.1 338.8L1182.0 340.3L1180.3 342.3L1165.7 351.3L1158.0 357.3L1149.6 365.3L1142.6 374.0L1138.1 380.9L1134.4 388.3L1129.6 396.1L1126.0 403.3L1121.1 409.0L1117.1 415.4L1113.0 425.3L1110.6 435.7L1109.6 437.7L1108.1 438.8ZM1280.1 437.5L1278.6 437.2L1277.1 435.0L1274.0 423.3L1269.7 413.3L1266.6 408.3L1262.5 402.8L1258.6 395.3L1253.8 387.8L1250.1 380.5L1245.6 373.6L1238.4 364.8L1229.7 356.8L1222.5 351.3L1207.8 342.3L1206.3 340.8L1206.1 338.8L1280.2 338.8L1280.1 437.5Z" fill="#dfff20" fill-rule="evenodd"/>
<path d="M1108.1 436.3L1107.1 436.5L1107.0 338.8L1181.0 338.8L1180.8 340.8L1179.4 342.3L1163.5 352.3L1153.3 360.8L1147.7 366.3L1141.7 373.8L1137.1 380.8L1133.6 387.8L1129.1 394.9L1125.0 402.8L1120.6 408.3L1117.1 413.9L1113.0 423.3L1110.1 433.7L1109.1 435.5L1108.1 436.3ZM1280.1 434.9L1278.6 434.3L1277.6 432.8L1273.9 420.8L1270.0 412.3L1267.1 407.5L1263.6 402.8L1259.1 394.3L1254.5 387.3L1250.7 379.8L1246.3 373.3L1240.6 366.3L1235.1 360.8L1224.8 352.3L1209.4 342.8L1207.4 340.8L1207.3 338.8L1280.2 338.8L1280.1 434.9Z" fill="#f4ff0b" fill-rule="evenodd"/>
<path d="M1108.1 433.8L1107.1 434.0L1107.0 338.8L1179.9 338.8L1179.8 340.8L1177.9 342.8L1162.7 352.3L1152.4 360.8L1146.9 366.3L1141.1 373.4L1136.5 380.3L1132.9 387.3L1127.5 395.8L1123.9 402.8L1120.1 407.7L1116.6 413.3L1113.0 421.3L1109.6 431.8L1108.1 433.8ZM1280.1 432.2L1278.6 431.4L1277.7 429.8L1273.8 418.8L1270.1 411.0L1264.3 402.3L1260.7 395.3L1255.2 386.8L1251.1 379.1L1246.8 372.8L1239.1 363.8L1230.1 355.8L1224.1 351.3L1209.7 342.3L1208.5 340.8L1208.5 338.8L1280.2 338.8L1280.1 432.2Z" fill="#fff400" fill-rule="evenodd"/>
<path d="M1107.6 431.5L1107.1 431.6L1107.0 338.8L1178.8 338.8L1178.8 340.8L1177.6 342.3L1163.5 351.3L1157.5 355.8L1147.9 364.3L1140.6 372.9L1135.6 380.3L1132.2 386.8L1126.6 395.6L1123.2 402.3L1119.6 407.1L1116.7 411.8L1113.1 419.3L1109.6 429.0L1108.6 430.8L1107.6 431.5ZM1280.1 429.6L1279.1 429.2L1278.1 427.8L1273.7 416.8L1270.1 409.6L1265.1 402.0L1261.6 395.2L1255.8 386.3L1252.1 379.3L1247.6 372.8L1239.9 363.8L1230.8 355.8L1224.8 351.3L1214.0 344.8L1210.6 342.3L1209.6 340.8L1209.7 338.8L1280.2 338.8L1280.1 429.6Z" fill="#ffdf00" fill-rule="evenodd"/>
<path d="M1107.6 429.1L1107.1 429.2L1107.0 338.8L1177.6 338.8L1177.8 340.8L1176.2 342.8L1162.8 351.3L1156.7 355.8L1147.6 363.8L1139.8 372.8L1135.7 378.8L1131.6 386.3L1127.0 393.3L1122.3 402.3L1116.6 410.6L1113.5 416.8L1109.1 427.4L1107.6 429.1ZM1280.1 427.0L1279.1 426.5L1278.1 425.0L1272.1 411.8L1265.9 401.8L1262.0 394.3L1256.4 385.8L1252.3 378.3L1248.1 372.3L1241.7 364.8L1235.2 358.8L1226.3 351.8L1212.1 342.8L1210.7 340.8L1210.9 338.8L1280.2 338.8L1280.1 427.0Z" fill="#ffca00" fill-rule="evenodd"/>
<path d="M1107.6 426.6L1107.1 426.8L1107.0 338.8L1176.5 338.8L1176.7 340.8L1175.4 342.8L1171.1 345.8L1162.1 351.3L1156.7 355.3L1147.4 363.3L1139.4 372.3L1134.5 379.3L1130.7 386.3L1125.5 394.3L1121.7 401.8L1116.6 409.3L1113.4 415.3L1109.1 424.8L1107.6 426.6ZM1280.1 424.3L1279.1 423.8L1278.1 422.4L1272.4 410.8L1266.6 401.5L1262.6 393.9L1257.1 385.6L1252.8 377.8L1248.5 371.8L1242.0 364.3L1235.4 358.3L1227.0 351.8L1217.1 345.8L1213.0 342.8L1211.9 341.3L1212.2 338.8L1280.2 338.8L1280.1 424.3Z" fill="#ffb500" fill-rule="evenodd"/>
<path d="M1107.6 424.2L1107.1 424.3L1107.0 338.8L1175.3 338.8L1175.6 341.3L1174.5 342.8L1170.5 345.8L1160.1 352.2L1151.6 358.8L1145.1 364.8L1138.6 372.3L1134.4 378.3L1130.2 385.8L1125.6 392.6L1120.8 401.8L1115.0 410.8L1109.1 422.5L1107.6 424.2ZM1280.1 421.4L1279.1 421.1L1277.6 419.2L1272.4 409.3L1267.3 401.3L1262.8 392.8L1257.7 385.3L1253.2 377.3L1248.8 371.3L1242.6 364.2L1236.2 358.3L1227.8 351.8L1219.1 346.7L1214.4 343.3L1213.0 341.3L1213.5 338.8L1280.2 338.8L1280.1 421.4Z" fill="#ff9f00" fill-rule="evenodd"/>
<path d="M1108.1 421.3L1107.1 421.7L1107.0 338.8L1174.2 338.8L1174.6 341.3L1173.2 343.3L1168.3 346.8L1159.9 351.8L1150.9 358.8L1144.6 364.6L1138.3 371.8L1133.9 377.8L1129.7 385.3L1125.3 391.8L1120.3 401.3L1115.9 407.8L1110.1 418.6L1108.1 421.3ZM1280.1 418.6L1278.6 418.1L1277.1 416.1L1268.1 401.2L1263.0 391.8L1258.3 384.8L1253.6 376.8L1249.2 370.8L1243.0 363.8L1236.6 358.0L1228.1 351.5L1219.1 346.2L1215.2 343.3L1214.2 341.8L1214.7 338.8L1280.2 338.8L1280.1 418.6Z" fill="#ff8a00" fill-rule="evenodd"/>
<path d="M1108.1 418.9L1107.1 419.1L1107.0 338.8L1173.0 338.8L1173.5 341.8L1172.4 343.3L1168.1 346.5L1159.2 351.8L1150.2 358.8L1144.1 364.3L1137.9 371.3L1132.5 378.8L1129.1 384.9L1123.6 393.3L1119.5 401.3L1115.5 407.3L1110.1 416.6L1108.1 418.9ZM1279.6 415.8L1278.1 415.1L1276.6 413.2L1268.7 400.8L1263.2 390.8L1258.8 384.3L1254.4 376.8L1249.6 370.3L1243.3 363.3L1237.2 357.8L1228.6 351.3L1219.1 345.8L1216.6 343.8L1215.3 341.8L1216.0 338.8L1280.1 338.8L1280.1 415.8L1279.6 415.8Z" fill="#ff7500" fill-rule="evenodd"/>
<path d="M1108.1 416.5L1107.1 416.5L1107.0 338.8L1171.8 338.8L1172.4 341.8L1171.1 343.8L1168.1 346.1L1159.1 351.4L1150.0 358.3L1143.9 363.8L1137.2 371.3L1132.8 377.3L1128.3 384.8L1124.3 390.8L1118.7 401.3L1110.1 414.6L1108.1 416.5ZM1280.1 412.9L1278.1 412.7L1275.6 409.8L1269.5 400.8L1265.3 392.8L1259.6 384.3L1255.8 377.8L1249.9 369.8L1243.5 362.8L1237.4 357.3L1228.6 350.8L1219.6 345.6L1218.0 344.3L1216.5 342.3L1217.3 338.8L1280.1 338.8L1280.1 412.9Z" fill="#ff6000" fill-rule="evenodd"/>
<path d="M1108.6 413.9L1107.1 413.9L1107.1 338.8L1170.6 338.8L1171.4 341.8L1170.3 343.8L1167.8 345.8L1158.6 351.2L1149.3 358.3L1143.2 363.8L1136.8 370.8L1132.4 376.8L1123.8 390.3L1118.2 400.8L1111.1 411.3L1108.6 413.9ZM1280.1 410.0L1278.6 410.2L1277.6 409.9L1274.6 406.6L1270.1 400.3L1265.9 392.3L1260.1 383.8L1256.3 377.3L1249.9 368.8L1243.8 362.3L1237.6 356.8L1229.1 350.5L1218.8 344.3L1217.7 342.3L1218.6 338.8L1280.1 338.8L1280.1 410.0Z" fill="#ff4a00" fill-rule="evenodd"/>
<path d="M1109.1 411.3L1107.1 411.3L1107.1 338.8L1169.4 338.8L1170.3 342.3L1169.0 344.3L1167.6 345.5L1158.1 351.1L1148.6 358.2L1142.4 363.8L1136.1 370.8L1131.6 376.8L1122.9 390.3L1117.4 400.8L1111.6 408.8L1109.1 411.3ZM1278.6 407.3L1277.6 407.4L1276.1 406.5L1271.1 400.3L1266.4 391.8L1260.6 383.3L1256.1 375.8L1251.9 370.3L1246.6 364.3L1240.3 358.3L1232.1 352.0L1227.1 348.6L1219.6 344.3L1218.8 342.8L1220.0 338.8L1280.1 338.8L1280.1 407.0L1278.6 407.3Z" fill="#ff3500" fill-rule="evenodd"/>
<path d="M1109.1 408.9L1107.1 408.6L1107.1 338.8L1168.2 338.8L1169.2 342.8L1167.8 344.8L1158.6 350.2L1148.6 357.6L1142.2 363.3L1135.7 370.3L1130.8 376.8L1122.4 389.8L1116.8 400.3L1111.6 407.1L1109.1 408.9ZM1278.6 404.4L1277.1 404.7L1276.1 404.3L1272.1 400.2L1266.8 390.8L1261.1 382.8L1256.5 375.3L1252.4 369.8L1246.5 363.3L1240.6 357.8L1232.6 351.6L1220.2 343.8L1220.1 342.8L1221.3 338.8L1280.1 338.8L1280.1 404.1L1278.6 404.4Z" fill="#ff2000" fill-rule="evenodd"/>
<path d="M1110.1 406.3L1107.1 405.9L1107.1 338.8L1167.0 338.8L1168.2 342.8L1167.5 344.3L1158.1 349.9L1147.6 357.7L1141.4 363.3L1134.9 370.3L1130.4 376.3L1121.9 389.3L1115.9 400.3L1112.1 404.8L1110.1 406.3ZM1277.1 401.9L1275.6 401.7L1273.1 399.7L1267.8 390.8L1262.1 382.8L1257.4 375.3L1253.3 369.8L1248.4 364.3L1240.1 356.5L1224.6 344.8L1226.5 338.8L1280.1 338.8L1280.1 401.0L1277.1 401.9Z" fill="#ff0b00" fill-rule="evenodd"/>
<path d="M1110.6 403.9L1107.1 403.2L1107.1 338.8L1165.8 338.8L1167.1 343.2L1166.8 343.8L1157.6 349.6L1148.1 356.6L1142.6 361.3L1137.2 366.8L1132.9 371.8L1128.8 377.3L1120.0 390.8L1115.2 399.8L1112.6 402.6L1110.6 403.9ZM1277.1 398.9L1275.6 399.3L1274.1 398.4L1267.3 388.3L1262.7 382.3L1257.7 374.3L1251.7 366.8L1243.6 358.5L1230.6 347.8L1230.2 346.8L1233.9 338.8L1280.1 338.8L1280.1 397.9L1277.1 398.9Z" fill="#f40000" fill-rule="evenodd"/>
<path d="M1111.6 401.3L1110.6 401.5L1107.1 400.5L1107.1 338.8L1160.9 338.8L1162.8 344.8L1145.1 358.2L1135.3 367.8L1129.7 374.8L1120.9 387.8L1114.2 399.3L1111.6 401.3ZM1273.6 393.3L1271.1 391.2L1263.5 381.8L1258.8 374.3L1253.3 367.3L1245.6 359.1L1235.8 350.3L1235.8 349.8L1241.9 338.8L1280.1 338.8L1280.1 390.9L1273.6 393.3Z" fill="#df0000" fill-rule="evenodd"/>
<path d="M1112.1 399.0L1107.1 397.6L1107.1 338.8L1154.6 338.8L1157.9 346.3L1157.6 347.3L1143.1 359.0L1133.4 368.8L1128.3 375.3L1112.1 399.0ZM1271.6 386.3L1270.6 386.7L1269.6 386.2L1264.6 381.3L1257.7 370.8L1246.0 356.8L1246.1 356.2L1259.3 338.8L1280.1 338.8L1280.1 382.1L1271.6 386.3Z" fill="#ca0000" fill-rule="evenodd"/>
<path d="M1114.6 391.5L1113.6 391.5L1107.1 388.8L1107.1 338.8L1147.9 338.8L1153.1 349.3L1151.1 351.6L1141.6 359.2L1133.6 367.3L1127.8 374.3L1123.1 381.5L1116.6 389.5L1114.6 391.5ZM1267.6 380.1L1267.1 380.3L1266.0 379.8L1263.9 374.8L1280.1 363.0L1280.1 372.5L1267.6 380.1Z" fill="#b50000" fill-rule="evenodd"/>
<path d="M1118.6 383.6L1117.6 383.6L1107.1 377.9L1107.1 338.8L1132.1 338.8L1143.4 354.8L1142.4 356.3L1130.6 368.8L1125.8 374.8L1122.1 380.4L1118.6 383.6Z" fill="#9f0000" fill-rule="evenodd"/>
</g>
<path d="M1172.0 353.0L1175.0 348.9M1180.2 351.3L1183.2 348.8M1186.8 349.4L1190.0 348.4M1196.0 350.1L1198.9 350.9M1204.6 348.1L1207.8 350.7M1211.5 348.4L1214.5 352.3M1221.0 348.2L1224.4 354.3M1150.5 361.1L1153.0 352.3M1158.7 360.5L1160.2 354.3M1167.7 360.1L1168.8 355.5M1176.5 358.8L1177.7 355.6M1185.0 358.6L1186.5 356.7M1192.6 356.7L1194.7 356.8M1200.5 355.3L1202.2 357.2M1210.1 354.8L1211.4 358.0M1216.5 354.0L1217.9 358.1M1224.8 355.1L1226.0 360.5M1233.5 352.4L1236.0 360.7M1140.6 369.4L1141.5 359.8M1148.7 368.4L1148.9 361.2M1156.7 368.1L1156.4 362.6M1165.0 366.6L1164.9 362.2M1171.8 366.2L1171.6 362.7M1180.2 365.0L1180.2 362.3M1189.5 366.1L1188.9 364.3M1197.3 363.9L1196.5 365.5M1205.6 362.0L1205.6 364.5M1214.9 362.2L1214.8 365.6M1221.5 363.0L1221.3 367.0M1229.3 362.3L1229.1 367.4M1237.4 360.7L1237.7 367.6M1245.5 360.9L1246.3 370.0M1135.6 375.9L1135.4 366.3M1143.3 374.9L1142.4 367.6M1153.8 373.6L1152.8 368.3M1161.5 373.5L1160.5 369.3M1168.6 374.3L1167.4 370.8M1176.3 372.6L1175.1 369.7M1187.2 371.8L1185.6 370.2M1195.3 371.6L1193.3 371.7M1203.1 370.7L1201.5 372.4M1210.1 370.6L1208.7 373.2M1217.3 369.5L1216.2 372.8M1226.2 369.2L1225.2 373.3M1233.8 368.2L1232.9 373.2M1243.0 368.0L1242.1 374.5M1251.5 367.5L1251.1 376.5M1132.5 383.0L1131.0 374.1M1139.6 381.2L1137.9 374.2M1149.4 381.3L1147.7 376.2M1156.4 381.8L1154.6 377.6M1164.6 380.4L1162.9 377.0M1172.9 380.6L1171.0 377.9M1181.6 378.9L1179.4 376.8M1189.5 378.4L1187.0 377.4M1198.1 378.4L1195.5 378.9M1206.8 378.7L1204.3 380.4M1215.9 377.8L1213.9 380.5M1223.3 377.7L1221.5 380.9M1232.0 375.3L1230.4 379.4M1238.2 375.8L1236.6 380.6M1246.4 375.9L1244.6 381.8M1254.8 374.1L1253.4 382.4M1127.4 389.1L1125.3 379.6M1136.3 388.7L1133.9 382.1M1145.1 389.1L1142.8 384.2M1152.9 386.7L1150.7 382.5M1162.3 386.4L1160.2 383.1M1168.9 388.3L1166.6 385.6M1178.9 386.4L1176.2 384.4M1185.8 386.1L1182.8 384.9M1194.6 386.7L1191.4 386.6M1202.9 384.1L1199.9 385.2M1212.1 384.9L1209.4 386.9M1218.2 383.4L1215.8 385.9M1227.0 383.0L1225.0 386.2M1235.6 384.0L1233.5 387.8M1242.4 384.2L1240.2 388.6M1252.5 383.8L1250.1 389.7M1260.3 382.3L1258.0 390.5M1124.5 397.4L1121.6 388.9M1132.1 395.2L1129.1 388.6M1140.7 395.5L1138.0 390.5M1149.6 394.9L1147.0 390.9M1157.5 394.7L1154.9 391.5M1167.0 394.1L1164.4 391.6M1175.1 392.9L1172.2 390.9M1182.4 393.7L1179.2 392.4M1191.2 392.5L1187.9 392.0M1198.9 393.7L1195.5 394.1M1207.6 392.3L1204.4 393.6M1214.2 390.7L1211.4 392.6M1222.6 390.6L1220.1 393.1M1232.5 390.0L1230.2 393.1M1239.2 389.8L1236.8 393.5M1248.1 389.4L1245.6 394.1M1255.0 389.0L1252.3 394.8M1263.7 389.4L1260.9 397.1M1121.7 404.5L1118.3 396.5M1128.4 403.3L1125.1 397.1M1136.6 401.8L1133.5 396.8M1145.5 402.1L1142.6 398.1M1153.6 401.7L1150.8 398.6M1161.2 402.0L1158.4 399.5M1169.7 402.0L1166.8 400.1M1178.6 400.3L1175.4 398.8M1186.1 400.4L1182.7 399.6M1194.8 400.3L1191.4 400.2M1203.2 398.5L1199.9 399.2M1212.1 398.1L1209.0 399.6M1220.2 399.7L1217.3 401.6M1228.5 399.0L1225.8 401.5M1234.8 398.3L1232.2 401.2M1243.7 398.4L1240.9 402.0M1251.8 398.1L1248.9 402.6M1259.6 396.9L1256.5 402.4M1268.6 396.1L1265.4 404.0M1117.4 411.6L1113.9 403.7M1124.9 410.9L1121.4 405.3M1134.1 410.5L1130.8 406.0M1140.9 409.1L1137.5 405.0M1149.5 409.1L1146.3 405.8M1157.3 407.5L1154.3 404.9M1166.1 408.5L1163.1 406.5M1174.1 409.1L1171.0 407.6M1182.5 407.2L1179.2 406.2M1191.7 407.2L1188.3 406.9M1198.6 406.5L1195.2 406.7M1208.4 407.7L1205.1 408.6M1215.8 405.8L1212.6 407.2M1224.0 405.4L1221.1 407.3M1231.2 405.9L1228.4 408.3M1239.6 405.2L1236.7 408.2M1249.2 404.3L1246.1 408.2M1256.6 403.7L1253.4 408.3M1263.6 403.8L1260.2 409.1M1273.9 403.9L1270.5 411.9M1120.9 417.4L1117.4 412.0M1128.8 416.5L1125.5 412.1M1136.9 416.0L1133.6 412.1M1145.8 415.1L1142.5 411.8M1153.4 415.5L1150.1 412.8M1162.1 416.1L1158.8 414.0M1170.7 415.2L1167.5 413.7M1179.5 414.1L1176.2 413.0M1185.9 414.3L1182.5 413.7M1194.2 414.4L1190.8 414.3M1203.5 413.1L1200.0 413.6M1211.9 413.8L1208.6 414.9M1219.4 414.4L1216.2 415.9M1228.5 412.5L1225.4 414.5M1235.1 413.9L1231.9 416.4M1243.3 413.3L1240.1 416.3M1251.8 412.0L1248.6 415.7M1260.6 413.2L1257.3 417.3M1267.5 411.0L1264.1 416.0M1116.5 425.2L1113.0 419.6M1124.6 423.9L1121.4 420.0M1134.5 423.8L1131.2 420.4M1142.1 423.5L1138.8 420.5M1150.6 422.2L1147.3 419.6M1158.4 423.2L1155.1 421.1M1167.2 423.2L1163.9 421.6M1175.5 421.0L1172.2 419.9M1182.5 421.7L1179.1 420.9M1191.9 421.3L1188.5 421.1M1198.6 420.1L1195.2 420.3M1206.9 421.7L1203.5 422.3M1214.4 420.0L1211.0 421.1M1223.2 420.6L1220.0 422.2M1231.5 421.2L1228.3 423.2M1239.3 420.2L1236.1 422.7M1248.9 420.9L1245.6 423.8M1257.3 418.7L1254.0 422.2M1265.2 419.8L1262.0 423.7M1272.6 417.6L1269.2 422.9M1120.5 431.1L1117.2 427.1M1128.9 429.2L1125.7 425.9M1137.2 429.6L1133.9 426.7M1146.3 429.4L1143.0 426.9M1154.4 429.7L1151.1 427.6M1163.1 429.9L1159.8 428.3M1170.2 429.2L1166.9 427.9M1178.6 429.9L1175.2 429.0M1186.0 428.6L1182.6 428.1M1195.2 428.4L1191.7 428.3M1203.5 428.3L1200.1 428.7M1211.2 428.5L1207.9 429.3M1219.2 428.1L1215.9 429.3M1228.3 426.7L1225.0 428.4M1235.5 428.5L1232.3 430.5M1245.2 428.4L1242.0 430.8M1251.2 427.8L1248.0 430.6M1261.5 427.8L1258.3 431.0M1269.2 427.0L1265.9 430.8M1117.8 437.8L1114.2 433.5M1124.5 436.4L1121.3 433.1M1134.4 437.7L1131.1 434.9M1140.9 437.7L1137.6 435.2M1149.4 437.1L1146.1 435.0M1157.7 435.9L1154.5 434.2M1165.5 435.4L1162.2 434.0M1173.5 435.2L1170.2 434.1M1181.8 436.8L1178.4 436.2M1191.0 434.9L1187.6 434.7M1199.3 435.6L1195.8 435.8M1207.4 434.6L1204.0 435.2M1215.4 436.0L1212.0 436.9M1223.4 435.0L1220.1 436.2M1232.9 434.1L1229.6 435.8M1240.6 434.5L1237.3 436.6M1248.9 434.0L1245.6 436.5M1256.5 433.9L1253.2 436.7M1265.5 435.0L1262.2 438.2M1273.2 434.6L1269.7 438.9M1122.3 444.2L1118.9 440.9M1129.4 443.5L1126.0 440.7M1138.3 443.7L1135.0 441.2M1146.2 443.2L1142.9 441.1M1153.6 443.4L1150.3 441.7M1161.5 442.4L1158.3 441.0M1171.1 444.4L1167.8 443.4M1178.0 442.4L1174.6 441.6M1186.5 442.0L1183.1 441.6M1195.5 442.5L1192.0 442.5M1203.4 443.6L1200.0 443.9M1212.3 443.4L1208.9 444.1M1220.7 442.4L1217.4 443.5M1227.8 440.9L1224.5 442.3M1235.0 442.0L1231.8 443.6M1245.0 441.5L1241.7 443.6M1251.2 440.8L1247.8 443.2M1261.2 440.5L1257.8 443.3M1268.0 440.6L1264.6 443.9M1125.4 451.3L1121.9 448.4M1133.7 451.9L1130.3 449.6M1141.0 451.0L1137.7 448.9M1148.9 450.9L1145.7 449.2M1158.8 451.8L1155.5 450.5M1166.2 450.0L1163.0 448.9M1174.7 450.0L1171.4 449.2M1181.9 450.3L1178.4 449.7M1191.7 450.9L1188.3 450.8M1200.3 449.5L1196.9 449.7M1206.8 448.7L1203.4 449.2M1215.4 450.2L1212.0 451.0M1223.1 450.2L1219.8 451.2M1232.4 448.4L1229.2 449.8M1240.4 449.8L1237.2 451.4M1249.3 448.0L1246.0 450.1M1257.2 449.3L1253.9 451.7M1264.1 448.0L1260.7 450.8M1129.6 458.6L1126.3 456.3M1137.3 459.0L1134.2 457.1M1146.5 458.9L1143.5 457.4M1153.8 458.3L1150.7 457.0M1162.0 457.1L1158.8 456.0M1170.8 458.6L1167.5 457.7M1179.4 456.9L1176.0 456.3M1186.2 457.9L1182.8 457.5M1195.6 457.9L1192.1 457.9M1202.4 457.8L1199.0 458.0M1211.3 456.2L1207.9 456.8M1219.3 457.8L1215.9 458.6M1228.9 455.4L1225.7 456.6M1235.5 456.8L1232.4 458.2M1243.0 455.1L1239.9 456.6M1251.2 456.9L1248.1 458.8M1260.2 455.4L1256.8 457.7M1269.5 454.9L1266.0 458.2M1124.5 464.6L1121.0 461.8M1134.3 466.1L1131.2 464.2M1141.4 465.5L1138.6 464.0M1150.5 464.6L1147.8 463.4M1158.4 465.4L1155.5 464.3M1165.2 463.8L1162.1 462.9M1175.1 465.0L1171.8 464.4M1182.0 465.2L1178.6 464.8M1191.7 463.8L1188.3 463.7M1198.8 463.2L1195.4 463.3M1207.2 463.0L1203.8 463.4M1215.6 464.1L1212.3 464.8M1223.9 462.6L1220.7 463.6M1232.0 464.2L1229.1 465.2M1239.0 463.7L1236.3 464.9M1248.9 462.6L1246.0 464.1M1257.4 464.2L1254.3 466.2M1265.2 463.6L1261.8 466.4M1130.1 472.3L1126.8 470.0M1137.3 473.2L1134.4 471.6M1144.4 471.2L1141.9 470.0M1154.7 472.8L1152.4 472.0M1161.0 472.9L1158.5 472.1M1169.7 472.6L1166.8 472.0M1179.6 470.4L1176.3 470.0M1185.7 471.1L1182.3 470.8M1196.1 472.0L1192.8 472.0M1203.0 472.0L1199.7 472.3M1210.9 470.7L1207.7 471.2M1218.7 472.1L1215.8 472.7M1228.2 470.8L1225.6 471.6M1235.0 471.9L1232.7 472.8M1243.6 470.0L1241.2 471.1M1252.0 471.0L1249.2 472.5M1261.2 469.1L1257.9 471.5M1141.4 478.2L1138.8 476.9M1150.5 480.0L1148.3 479.2M1157.5 477.8L1155.5 477.1M1166.6 479.3L1164.5 478.8M1175.4 477.5L1172.7 477.1M1182.4 478.1L1179.6 477.8M1189.8 479.1L1187.0 479.0M1198.6 477.3L1195.6 477.4M1206.2 479.0L1203.5 479.3M1215.5 477.5L1212.9 477.9M1223.7 477.2L1221.5 477.8M1231.8 478.4L1229.8 479.1M1238.4 478.0L1236.3 478.8M1248.6 478.3L1245.9 479.6M1145.3 486.8L1142.4 485.5M1154.4 485.2L1152.2 484.5M1160.9 486.3L1159.0 485.7M1169.2 485.1L1167.4 484.7M1177.7 484.6L1175.8 484.3M1186.2 484.6L1184.0 484.4M1193.9 484.9L1191.8 484.9M1202.3 484.6L1200.2 484.7M1210.7 485.9L1208.9 486.1M1218.6 486.4L1216.8 486.7M1228.1 484.8L1226.2 485.3M1234.4 485.8L1232.2 486.5M1243.3 484.5L1240.6 485.7M1150.9 493.1L1147.9 491.9M1158.4 493.5L1155.8 492.7M1166.0 493.5L1163.8 492.9M1173.5 493.8L1171.5 493.5M1181.8 492.0L1180.1 491.8M1189.1 493.1L1187.3 493.0M1197.8 493.8L1196.0 493.8M1205.9 492.2L1204.1 492.3M1216.1 492.6L1214.2 492.9M1224.3 493.1L1222.0 493.6M1230.6 491.6L1228.2 492.3M1170.9 499.3L1168.2 498.8M1178.2 500.9L1175.6 500.5M1186.3 500.2L1183.9 500.0M1193.6 499.3L1191.4 499.3M1203.9 500.1L1201.5 500.3M1210.8 499.7L1208.3 500.0M1220.1 500.2L1217.2 500.8M1279.5 430.8L1275.7 436.8M1278.2 439.8L1274.5 444.9M1276.0 448.6L1272.4 452.9M1272.9 457.1L1269.4 460.7M1269.1 465.1L1265.6 468.2M1264.4 472.7L1261.0 475.3M1259.0 479.7L1255.7 481.9M1252.9 486.2L1249.7 488.0M1246.3 491.9L1243.0 493.5M1239.2 496.9L1235.8 498.2M1231.5 501.1L1228.1 502.2M1223.5 504.6L1220.0 505.4M1215.2 507.2L1211.6 507.7M1206.7 508.9L1203.1 509.2M1198.0 509.7L1194.4 509.8M1189.3 509.7L1185.7 509.5M1180.7 508.7L1177.1 508.3M1172.2 506.9L1168.6 506.2M1163.9 504.2L1160.4 503.2M1156.0 500.6L1152.5 499.5M1148.5 496.3L1145.1 494.9M1141.5 491.3L1138.2 489.6M1135.0 485.5L1131.8 483.6M1129.3 479.2L1125.9 476.8M1124.3 472.3L1120.8 469.5M1119.9 465.0L1116.4 461.7M1116.4 457.3L1112.9 453.5M1113.8 449.4L1110.1 444.7M1112.0 441.3L1108.2 435.7M1111.0 433.0L1107.2 426.5M1110.9 424.8L1107.3 417.2M1111.7 416.6L1108.2 407.9M1113.2 408.6L1110.2 398.7M1115.5 400.6L1113.2 389.9M1118.6 392.8L1117.1 381.7M1122.4 385.4L1121.9 373.9M1127.0 378.3L1127.4 366.8M1132.2 371.7L1133.7 360.3M1138.1 365.6L1140.7 354.6M1144.5 360.1L1148.3 349.6M1151.4 355.2L1156.4 345.6M1158.7 351.0L1164.8 342.6M1166.6 347.2L1173.4 340.8M1175.1 344.0L1181.6 340.3M1184.1 341.8L1189.6 340.4M1193.1 340.7L1197.8 341.0M1201.3 340.3L1207.2 342.6M1209.7 340.8L1216.1 345.5M1218.2 342.1L1224.5 349.2M1226.7 344.7L1232.1 353.2M1234.9 348.3L1239.2 357.9M1242.7 352.9L1245.8 363.1M1249.9 358.2L1251.9 368.9M1256.4 364.3L1257.5 375.3M1262.3 371.1L1262.3 382.1M1267.5 378.5L1266.5 389.4M1271.8 386.4L1269.9 396.9M1275.2 394.8L1272.6 404.7M1277.7 403.6L1274.6 412.6M1279.2 412.6L1275.8 420.6M1279.8 421.7L1276.2 428.7" stroke="#000" stroke-width="1.05" fill="none"/><path d="M1176.4 347.0l-0.5 3.2l-2.3 -1.6zM1184.8 347.5l-1.2 2.6l-1.6 -2.0zM1191.8 347.8l-2.0 1.9l-0.7 -2.3zM1200.6 351.5l-2.5 0.4l0.7 -2.2zM1209.4 352.1l-2.8 -0.7l1.6 -2.0zM1215.9 354.1l-2.8 -1.4l2.2 -1.7zM1225.7 356.6l-3.0 -2.1l2.8 -1.6zM1153.8 349.4l0.7 4.2l-3.5 -1.0zM1160.8 351.8l0.8 3.5l-3.0 -0.7zM1169.4 353.4l0.7 3.0l-2.6 -0.6zM1178.5 353.7l0.2 2.7l-2.2 -0.9zM1187.5 355.4l-0.5 2.3l-1.7 -1.3zM1196.4 356.9l-2.1 0.9l0.1 -2.0zM1203.3 358.5l-2.2 -0.9l1.6 -1.4zM1212.1 359.8l-2.1 -1.8l2.2 -0.9zM1218.6 360.2l-2.1 -2.2l2.5 -0.8zM1226.5 362.8l-2.1 -2.6l2.8 -0.6zM1236.9 363.5l-2.8 -3.0l3.4 -1.0zM1141.8 356.6l1.5 4.1l-3.8 -0.4zM1148.9 358.5l1.6 3.4l-3.3 -0.0zM1156.3 360.2l1.6 2.9l-2.9 0.1zM1164.8 360.0l1.4 2.7l-2.6 0.1zM1171.5 360.7l1.3 2.4l-2.4 0.1zM1180.2 360.5l1.1 2.2l-2.2 -0.0zM1188.4 362.9l1.6 1.5l-1.8 0.6zM1195.9 366.9l-0.1 -2.2l1.8 0.8zM1205.6 366.2l-1.1 -2.2l2.2 0.0zM1214.7 367.6l-1.1 -2.5l2.4 0.1zM1221.2 369.1l-1.1 -2.7l2.6 0.2zM1229.0 369.7l-1.3 -2.9l2.8 0.1zM1237.8 370.2l-1.7 -3.2l3.2 -0.1zM1246.5 373.0l-2.1 -3.6l3.6 -0.3zM1135.3 363.2l2.0 3.9l-3.8 0.1zM1142.0 364.9l2.1 3.2l-3.3 0.4zM1152.4 366.0l1.9 2.6l-2.8 0.5zM1160.0 367.2l1.9 2.3l-2.6 0.6zM1166.7 368.9l2.0 2.0l-2.3 0.8zM1174.4 368.0l2.0 1.7l-2.1 0.9zM1184.4 369.1l2.2 0.7l-1.5 1.5zM1191.7 371.8l2.0 -1.1l0.1 2.0zM1200.3 373.7l0.7 -2.3l1.5 1.5zM1207.8 374.8l0.1 -2.6l2.0 1.1zM1215.5 374.6l-0.3 -2.7l2.3 0.8zM1224.7 375.3l-0.6 -2.9l2.5 0.6zM1232.4 375.5l-0.9 -3.1l2.8 0.5zM1241.7 377.1l-1.1 -3.4l3.1 0.4zM1251.0 379.5l-1.7 -3.9l3.6 0.1zM1130.5 371.1l2.4 3.4l-3.6 0.6zM1137.3 371.6l2.4 2.9l-3.2 0.8zM1146.9 373.9l2.3 2.4l-2.7 0.9zM1153.8 375.6l2.3 2.0l-2.5 1.1zM1161.9 375.2l2.3 1.7l-2.2 1.1zM1169.8 376.3l2.4 1.3l-1.9 1.4zM1178.0 375.5l2.5 0.8l-1.6 1.7zM1185.3 376.7l2.5 -0.2l-0.8 2.0zM1193.7 379.2l2.0 -1.5l0.4 2.2zM1202.8 381.6l1.2 -2.3l1.4 1.9zM1212.7 382.1l0.5 -2.7l1.9 1.4zM1220.5 382.6l0.1 -2.8l2.2 1.2zM1229.7 381.4l-0.3 -3.0l2.5 0.9zM1235.9 382.8l-0.4 -3.2l2.7 0.9zM1243.9 384.2l-0.6 -3.4l2.9 0.9zM1252.9 385.3l-1.1 -3.9l3.5 0.6zM1124.7 376.5l2.7 3.4l-3.7 0.8zM1132.9 379.6l2.7 2.6l-3.0 1.1zM1141.8 382.0l2.6 2.1l-2.6 1.2zM1149.7 380.5l2.5 1.9l-2.4 1.2zM1159.1 381.4l2.5 1.5l-2.1 1.4zM1165.2 384.1l2.6 1.0l-1.8 1.6zM1174.6 383.3l2.7 0.5l-1.4 1.9zM1181.0 384.1l2.7 -0.1l-0.9 2.2zM1189.5 386.5l2.4 -1.1l-0.1 2.3zM1198.1 385.8l1.9 -1.9l0.8 2.2zM1207.9 388.1l1.2 -2.4l1.4 1.9zM1214.5 387.4l0.8 -2.6l1.8 1.6zM1223.8 387.9l0.4 -2.8l2.1 1.4zM1232.5 389.7l0.2 -3.0l2.3 1.3zM1239.2 390.7l-0.0 -3.2l2.5 1.2zM1249.1 392.1l-0.2 -3.6l2.9 1.2zM1257.2 393.4l-0.7 -4.0l3.4 1.0zM1120.6 386.1l2.9 3.0l-3.4 1.2zM1128.0 386.2l2.9 2.4l-3.0 1.3zM1136.8 388.3l2.7 2.0l-2.6 1.4zM1145.8 389.1l2.7 1.6l-2.3 1.5zM1153.6 389.9l2.6 1.3l-2.0 1.6zM1163.0 390.2l2.7 0.8l-1.7 1.8zM1170.6 389.7l2.7 0.4l-1.4 2.0zM1177.4 391.6l2.7 -0.1l-1.0 2.2zM1186.0 391.7l2.6 -0.8l-0.3 2.4zM1193.6 394.3l2.3 -1.5l0.3 2.4zM1202.6 394.4l1.8 -2.0l0.9 2.2zM1209.7 393.7l1.4 -2.4l1.3 2.0zM1218.6 394.5l0.9 -2.6l1.7 1.7zM1228.9 394.8l0.5 -2.8l2.0 1.5zM1235.7 395.4l0.3 -3.0l2.2 1.4zM1244.5 396.2l0.1 -3.3l2.5 1.3zM1251.2 397.1l-0.0 -3.5l2.8 1.3zM1259.9 399.8l-0.4 -4.0l3.3 1.2zM1117.2 393.8l3.1 2.7l-3.3 1.4zM1123.8 394.8l3.0 2.2l-2.8 1.5zM1132.2 394.7l2.9 1.8l-2.5 1.6zM1141.2 396.2l2.8 1.5l-2.2 1.6zM1149.4 397.0l2.7 1.1l-1.9 1.7zM1156.9 398.1l2.7 0.8l-1.7 1.8zM1165.1 398.9l2.7 0.4l-1.4 2.0zM1173.6 398.0l2.7 -0.1l-1.0 2.2zM1180.8 399.1l2.7 -0.6l-0.6 2.3zM1189.4 400.2l2.5 -1.2l-0.0 2.4zM1198.0 399.6l2.1 -1.7l0.5 2.4zM1207.2 400.4l1.7 -2.1l1.0 2.2zM1215.6 402.7l1.4 -2.4l1.3 2.0zM1224.3 402.8l1.0 -2.6l1.6 1.8zM1230.8 402.7l0.8 -2.8l1.9 1.7zM1239.6 403.8l0.6 -3.0l2.1 1.6zM1247.6 404.6l0.4 -3.3l2.4 1.6zM1255.3 404.7l0.2 -3.5l2.7 1.5zM1264.3 406.7l-0.3 -4.1l3.3 1.3zM1112.7 401.0l3.1 2.7l-3.3 1.4zM1120.0 403.1l3.0 1.9l-2.7 1.6zM1129.3 404.0l3.0 1.6l-2.4 1.7zM1136.1 403.2l3.0 1.4l-2.2 1.8zM1144.8 404.2l2.9 1.1l-1.9 1.9zM1152.8 403.5l2.8 0.8l-1.7 1.9zM1161.4 405.4l2.8 0.4l-1.3 2.0zM1169.2 406.8l2.7 -0.0l-1.0 2.2zM1177.3 405.6l2.7 -0.4l-0.7 2.3zM1186.3 406.7l2.6 -1.0l-0.2 2.4zM1193.2 406.9l2.4 -1.4l0.2 2.4zM1203.2 409.2l2.0 -1.8l0.7 2.3zM1210.9 408.1l1.7 -2.1l1.0 2.2zM1219.4 408.4l1.4 -2.4l1.4 2.0zM1226.8 409.6l1.2 -2.6l1.6 1.9zM1235.2 409.7l0.9 -2.8l1.9 1.8zM1244.7 410.0l0.7 -3.1l2.2 1.7zM1252.0 410.3l0.5 -3.3l2.4 1.7zM1258.9 411.3l0.4 -3.5l2.6 1.6zM1269.4 414.6l-0.2 -4.1l3.3 1.4zM1116.1 409.8l3.0 1.9l-2.6 1.7zM1124.0 410.2l3.0 1.5l-2.3 1.8zM1132.1 410.3l3.0 1.3l-2.1 1.8zM1140.9 410.2l2.9 1.0l-1.9 1.9zM1148.5 411.4l2.9 0.7l-1.7 2.0zM1157.1 412.9l2.8 0.3l-1.4 2.1zM1165.7 412.8l2.8 -0.0l-1.1 2.2zM1174.3 412.4l2.7 -0.4l-0.7 2.3zM1180.6 413.3l2.6 -0.7l-0.4 2.4zM1188.8 414.3l2.5 -1.1l-0.1 2.4zM1198.1 413.9l2.2 -1.6l0.4 2.4zM1206.8 415.5l2.0 -1.9l0.7 2.3zM1214.4 416.7l1.7 -2.1l1.0 2.2zM1223.8 415.6l1.4 -2.4l1.4 2.1zM1230.3 417.6l1.3 -2.6l1.5 2.0zM1238.5 417.8l1.1 -2.8l1.8 1.9zM1247.1 417.4l0.9 -3.0l2.1 1.8zM1255.9 419.1l0.7 -3.2l2.2 1.8zM1262.7 418.0l0.5 -3.4l2.5 1.7zM1111.6 417.4l3.1 1.9l-2.7 1.7zM1119.9 418.2l2.9 1.3l-2.2 1.8zM1129.7 418.8l2.9 1.1l-2.0 1.9zM1137.2 419.0l2.9 0.9l-1.8 2.0zM1145.6 418.3l2.9 0.6l-1.6 2.1zM1153.3 420.0l2.9 0.3l-1.4 2.1zM1162.1 420.7l2.8 -0.0l-1.1 2.2zM1170.3 419.2l2.8 -0.3l-0.8 2.3zM1177.1 420.5l2.7 -0.6l-0.5 2.4zM1186.5 421.0l2.5 -1.1l-0.1 2.4zM1193.2 420.4l2.4 -1.3l0.1 2.4zM1201.5 422.7l2.2 -1.7l0.5 2.4zM1209.2 421.7l2.0 -1.9l0.8 2.3zM1218.1 423.0l1.7 -2.2l1.1 2.2zM1226.5 424.3l1.5 -2.4l1.3 2.1zM1234.4 423.9l1.3 -2.6l1.5 2.0zM1244.0 425.3l1.1 -2.8l1.8 2.0zM1252.5 423.8l0.9 -3.0l2.0 1.8zM1260.6 425.4l0.8 -3.1l2.1 1.8zM1267.8 425.1l0.4 -3.5l2.6 1.7zM1115.7 425.4l2.9 1.3l-2.2 1.8zM1124.2 424.3l2.9 1.1l-1.9 1.9zM1132.3 425.3l2.9 0.8l-1.8 2.0zM1141.3 425.6l2.9 0.6l-1.6 2.1zM1149.4 426.5l2.9 0.3l-1.3 2.1zM1158.0 427.4l2.8 0.0l-1.1 2.2zM1165.0 427.2l2.8 -0.2l-0.9 2.3zM1173.3 428.5l2.7 -0.6l-0.6 2.3zM1180.6 427.8l2.6 -0.8l-0.3 2.4zM1189.8 428.3l2.5 -1.2l-0.0 2.4zM1198.1 428.9l2.3 -1.5l0.3 2.4zM1205.9 429.8l2.1 -1.8l0.6 2.4zM1214.0 430.0l1.9 -2.0l0.8 2.3zM1223.3 429.3l1.7 -2.3l1.1 2.2zM1230.5 431.6l1.5 -2.4l1.3 2.1zM1240.3 432.1l1.3 -2.6l1.5 2.0zM1246.3 432.0l1.2 -2.7l1.7 2.0zM1256.8 432.6l1.0 -2.9l1.9 1.9zM1264.5 432.5l0.8 -3.1l2.1 1.8zM1112.7 431.6l3.0 1.4l-2.3 1.8zM1119.7 431.5l2.9 1.0l-1.9 1.9zM1129.4 433.6l2.9 0.7l-1.7 2.0zM1135.9 434.0l2.9 0.5l-1.5 2.1zM1144.3 433.9l2.9 0.3l-1.4 2.1zM1152.7 433.2l2.8 0.1l-1.2 2.2zM1160.4 433.2l2.8 -0.2l-0.9 2.2zM1168.3 433.6l2.7 -0.4l-0.7 2.3zM1176.4 435.8l2.6 -0.7l-0.4 2.4zM1185.6 434.5l2.5 -1.0l-0.2 2.4zM1193.8 435.9l2.4 -1.3l0.1 2.4zM1202.0 435.5l2.2 -1.6l0.4 2.4zM1210.1 437.5l2.1 -1.8l0.6 2.3zM1218.3 436.9l1.9 -2.0l0.9 2.3zM1227.8 436.7l1.7 -2.3l1.1 2.2zM1235.6 437.6l1.5 -2.4l1.3 2.1zM1243.9 437.7l1.3 -2.6l1.5 2.1zM1251.6 438.1l1.2 -2.7l1.7 2.0zM1260.6 439.7l1.1 -2.9l1.9 1.9zM1268.2 440.8l0.8 -3.2l2.3 1.8zM1117.3 439.3l3.0 1.0l-1.9 1.9zM1124.3 439.3l2.9 0.7l-1.7 2.0zM1133.3 440.0l2.9 0.5l-1.5 2.1zM1141.2 440.0l2.9 0.3l-1.3 2.1zM1148.6 440.8l2.8 0.1l-1.2 2.2zM1156.5 440.2l2.8 -0.1l-1.0 2.2zM1165.9 442.8l2.7 -0.4l-0.7 2.3zM1172.7 441.2l2.7 -0.6l-0.5 2.4zM1181.1 441.4l2.6 -0.9l-0.3 2.4zM1190.0 442.5l2.5 -1.2l-0.0 2.4zM1198.0 444.1l2.3 -1.4l0.2 2.4zM1207.0 444.5l2.2 -1.7l0.5 2.4zM1215.5 444.1l2.0 -1.9l0.7 2.3zM1222.7 443.0l1.8 -2.1l0.9 2.2zM1230.0 444.5l1.7 -2.2l1.1 2.2zM1240.0 444.7l1.5 -2.4l1.3 2.1zM1246.1 444.4l1.4 -2.6l1.5 2.1zM1256.2 444.7l1.2 -2.8l1.7 2.0zM1263.0 445.4l1.1 -2.9l1.9 2.0zM1120.3 447.0l2.9 0.8l-1.7 2.0zM1128.6 448.3l2.9 0.5l-1.5 2.1zM1136.0 447.8l2.9 0.3l-1.3 2.1zM1143.9 448.2l2.8 0.1l-1.2 2.2zM1153.7 449.7l2.7 -0.2l-0.9 2.2zM1161.1 448.3l2.7 -0.4l-0.8 2.3zM1169.5 448.8l2.7 -0.6l-0.6 2.3zM1176.5 449.4l2.6 -0.8l-0.4 2.4zM1186.3 450.7l2.5 -1.1l-0.1 2.4zM1194.9 449.8l2.4 -1.3l0.1 2.4zM1201.4 449.4l2.3 -1.5l0.3 2.4zM1210.1 451.4l2.1 -1.7l0.5 2.4zM1217.9 451.8l2.0 -1.9l0.7 2.3zM1227.3 450.6l1.8 -2.1l1.0 2.2zM1235.4 452.4l1.7 -2.2l1.1 2.2zM1244.3 451.2l1.5 -2.4l1.3 2.1zM1252.2 452.9l1.4 -2.6l1.5 2.1zM1259.0 452.1l1.3 -2.7l1.7 2.0zM1124.6 455.0l2.9 0.5l-1.5 2.1zM1132.5 456.0l2.8 0.3l-1.3 2.1zM1141.7 456.5l2.7 0.1l-1.1 2.1zM1148.9 456.2l2.7 -0.1l-1.0 2.2zM1156.9 455.3l2.7 -0.3l-0.8 2.3zM1165.6 457.2l2.7 -0.5l-0.6 2.3zM1174.1 455.9l2.6 -0.8l-0.4 2.4zM1180.8 457.4l2.6 -1.0l-0.2 2.4zM1190.2 457.9l2.5 -1.2l0.0 2.4zM1197.0 458.2l2.4 -1.4l0.2 2.4zM1206.0 457.1l2.2 -1.6l0.4 2.4zM1214.0 459.1l2.1 -1.8l0.6 2.3zM1223.8 457.2l1.9 -2.0l0.8 2.3zM1230.6 458.9l1.8 -2.1l0.9 2.2zM1238.1 457.6l1.6 -2.2l1.1 2.1zM1246.4 459.8l1.5 -2.3l1.2 2.1zM1255.1 458.9l1.4 -2.6l1.5 2.1zM1264.4 459.7l1.1 -2.9l1.9 2.0zM1119.4 460.4l3.0 0.7l-1.7 2.1zM1129.5 463.1l2.8 0.3l-1.3 2.1zM1136.9 463.1l2.7 0.1l-1.1 2.1zM1146.1 462.6l2.6 -0.1l-0.9 2.1zM1153.8 463.7l2.6 -0.3l-0.8 2.2zM1160.2 462.3l2.7 -0.4l-0.7 2.3zM1169.9 464.0l2.6 -0.7l-0.5 2.3zM1176.7 464.5l2.6 -0.9l-0.3 2.4zM1186.3 463.6l2.5 -1.1l-0.1 2.4zM1193.4 463.4l2.4 -1.3l0.1 2.4zM1201.9 463.7l2.3 -1.5l0.3 2.4zM1210.4 465.2l2.2 -1.7l0.5 2.4zM1218.8 464.1l2.0 -1.8l0.7 2.3zM1227.4 465.9l1.8 -1.9l0.8 2.2zM1234.6 465.7l1.7 -2.0l0.9 2.1zM1244.3 465.0l1.6 -2.2l1.1 2.1zM1252.5 467.3l1.5 -2.4l1.3 2.1zM1260.1 467.7l1.3 -2.7l1.6 2.1zM1125.1 468.8l2.9 0.4l-1.4 2.1zM1132.7 470.7l2.7 0.1l-1.2 2.1zM1140.3 469.2l2.5 -0.0l-1.0 2.0zM1150.8 471.4l2.4 -0.3l-0.7 2.0zM1156.9 471.6l2.4 -0.4l-0.6 2.1zM1165.0 471.5l2.5 -0.6l-0.5 2.2zM1174.4 469.7l2.6 -0.8l-0.3 2.3zM1180.4 470.6l2.5 -1.0l-0.2 2.4zM1190.8 472.0l2.4 -1.2l0.0 2.4zM1197.7 472.4l2.3 -1.3l0.2 2.4zM1205.8 471.4l2.2 -1.5l0.3 2.3zM1214.0 473.1l2.0 -1.6l0.5 2.2zM1223.9 472.1l1.8 -1.7l0.7 2.1zM1231.1 473.4l1.7 -1.7l0.7 2.0zM1239.5 471.8l1.6 -1.9l0.9 2.0zM1247.5 473.4l1.5 -2.2l1.1 2.1zM1256.2 472.7l1.4 -2.6l1.5 2.1zM1137.1 476.0l2.6 0.0l-1.0 2.0zM1146.7 478.6l2.4 -0.2l-0.8 2.0zM1153.9 476.6l2.3 -0.3l-0.6 1.9zM1162.9 478.4l2.3 -0.5l-0.5 2.0zM1171.0 476.8l2.4 -0.7l-0.4 2.2zM1177.8 477.6l2.4 -0.9l-0.2 2.2zM1185.1 478.9l2.3 -1.0l-0.1 2.2zM1193.8 477.4l2.3 -1.2l0.1 2.3zM1201.7 479.5l2.1 -1.3l0.2 2.2zM1211.2 478.3l2.0 -1.5l0.4 2.1zM1219.9 478.2l1.8 -1.5l0.5 2.0zM1228.2 479.6l1.6 -1.6l0.6 1.9zM1234.7 479.4l1.6 -1.7l0.7 1.9zM1244.2 480.5l1.6 -2.1l1.0 2.1zM1140.7 484.7l2.6 -0.1l-1.0 2.1zM1150.6 483.9l2.3 -0.3l-0.7 2.0zM1157.4 485.3l2.2 -0.4l-0.5 1.9zM1165.9 484.4l2.1 -0.5l-0.4 1.9zM1174.2 484.1l2.1 -0.7l-0.3 2.0zM1182.4 484.3l2.1 -0.9l-0.1 2.0zM1190.1 484.9l2.1 -1.0l-0.0 2.1zM1198.5 484.8l2.0 -1.1l0.1 2.0zM1207.3 486.3l1.8 -1.2l0.3 1.9zM1215.3 487.0l1.7 -1.3l0.4 1.9zM1224.6 485.7l1.7 -1.5l0.5 1.9zM1230.6 487.0l1.7 -1.7l0.7 2.0zM1238.9 486.4l1.7 -1.9l0.9 2.1zM1146.1 491.2l2.7 -0.2l-0.9 2.2zM1154.1 492.2l2.5 -0.4l-0.6 2.1zM1162.2 492.6l2.3 -0.5l-0.5 2.0zM1170.0 493.2l2.1 -0.7l-0.3 2.0zM1178.5 491.7l2.0 -0.8l-0.2 1.9zM1185.8 493.0l2.0 -0.9l-0.1 1.9zM1194.5 493.9l1.9 -1.0l0.0 1.9zM1202.6 492.5l1.8 -1.1l0.2 1.9zM1212.6 493.1l1.8 -1.3l0.3 1.9zM1220.4 494.0l1.8 -1.5l0.5 2.0zM1226.5 492.8l1.8 -1.7l0.6 2.1zM1166.5 498.4l2.4 -0.7l-0.4 2.2zM1173.9 500.3l2.3 -0.8l-0.3 2.2zM1182.2 499.9l2.2 -0.9l-0.1 2.1zM1189.7 499.3l2.1 -1.0l-0.0 2.1zM1199.8 500.4l2.1 -1.2l0.1 2.1zM1206.5 500.2l2.0 -1.3l0.3 2.1zM1215.4 501.2l2.0 -1.6l0.4 2.2zM1274.3 439.1l0.4 -3.7l2.7 1.7zM1273.0 447.0l0.6 -3.5l2.5 1.8zM1270.8 454.7l0.8 -3.2l2.2 1.9zM1267.8 462.3l1.0 -3.0l2.0 2.0zM1263.9 469.7l1.2 -2.9l1.8 2.0zM1259.3 476.6l1.3 -2.7l1.6 2.1zM1253.9 483.1l1.5 -2.5l1.4 2.1zM1247.9 489.0l1.6 -2.3l1.2 2.2zM1241.2 494.3l1.8 -2.2l1.1 2.2zM1233.9 498.9l1.9 -2.1l0.9 2.3zM1226.1 502.8l2.0 -1.9l0.7 2.3zM1218.0 505.9l2.2 -1.8l0.6 2.4zM1209.6 508.1l2.3 -1.6l0.4 2.4zM1201.1 509.4l2.4 -1.4l0.2 2.4zM1192.4 509.8l2.5 -1.3l0.0 2.4zM1183.7 509.4l2.6 -1.1l-0.1 2.4zM1175.1 508.0l2.6 -0.9l-0.3 2.4zM1166.6 505.8l2.7 -0.7l-0.5 2.4zM1158.5 502.7l2.7 -0.5l-0.6 2.4zM1150.6 498.8l2.8 -0.3l-0.8 2.3zM1143.2 494.1l2.8 -0.2l-1.0 2.3zM1136.3 488.7l2.8 0.0l-1.1 2.2zM1130.0 482.5l2.8 0.2l-1.3 2.1zM1124.2 475.6l2.9 0.5l-1.5 2.1zM1119.1 468.1l3.0 0.7l-1.7 2.1zM1114.8 460.1l3.0 0.9l-1.9 2.0zM1111.3 451.7l3.0 1.2l-2.1 1.9zM1108.5 442.8l3.1 1.5l-2.3 1.9zM1106.7 433.5l3.2 1.8l-2.6 1.8zM1105.8 424.1l3.2 2.2l-2.9 1.7zM1106.0 414.5l3.2 2.5l-3.2 1.5zM1107.1 405.0l3.1 2.9l-3.4 1.4zM1109.3 395.6l3.0 3.3l-3.7 1.1zM1112.4 386.7l2.9 3.7l-3.9 0.9zM1116.6 378.3l2.6 3.9l-4.0 0.5zM1121.7 370.5l2.3 4.2l-4.1 0.2zM1127.6 363.4l1.9 4.4l-4.1 -0.2zM1134.2 357.0l1.4 4.5l-4.1 -0.6zM1141.5 351.3l1.0 4.6l-4.0 -1.0zM1149.5 346.5l0.4 4.7l-3.8 -1.4zM1158.0 342.6l-0.2 4.6l-3.5 -1.9zM1166.8 340.0l-0.8 4.4l-3.1 -2.3zM1175.7 338.7l-1.6 4.0l-2.5 -2.7zM1184.0 338.9l-2.2 3.2l-1.7 -2.9zM1191.9 339.8l-2.6 2.2l-0.7 -2.9zM1200.0 341.1l-2.9 1.2l0.2 -2.7zM1209.5 343.6l-3.5 0.3l1.1 -2.9zM1218.5 347.2l-3.9 -0.7l2.0 -2.8zM1226.6 351.5l-4.0 -1.6l2.8 -2.5zM1233.8 355.9l-3.8 -2.4l3.2 -2.0zM1240.5 360.9l-3.5 -2.9l3.6 -1.6zM1246.8 366.2l-3.1 -3.4l3.8 -1.2zM1252.6 372.2l-2.8 -3.7l3.9 -0.8zM1257.8 378.6l-2.4 -4.0l4.0 -0.4zM1262.3 385.5l-2.0 -4.2l4.0 -0.0zM1266.2 392.7l-1.6 -4.3l4.0 0.3zM1269.4 400.2l-1.2 -4.4l3.9 0.7zM1271.8 407.9l-0.9 -4.4l3.8 1.0zM1273.6 415.5l-0.5 -4.3l3.5 1.2zM1274.6 423.3l-0.2 -4.1l3.3 1.4zM1274.9 431.2l0.1 -3.9l3.0 1.6z" fill="#000"/>
<g clip-path="url(#cc2)">
<circle cx="1394.1" cy="222.4" r="86.5" fill="#0000b5"/>
<path d="M1480.6 309.1L1307.4 308.9L1307.6 135.7L1480.8 135.9L1480.6 309.1ZM1396.8 216.4L1397.8 214.9L1397.1 213.0L1395.1 212.3L1393.5 212.9L1392.8 214.4L1393.3 215.9L1395.1 216.8L1396.8 216.4Z" fill="#0000ca" fill-rule="evenodd"/>
<path d="M1480.6 309.1L1307.4 308.9L1307.6 135.7L1480.8 135.9L1480.6 309.1ZM1397.9 220.4L1400.1 219.1L1401.6 216.9L1401.9 214.4L1401.2 211.9L1399.4 209.9L1397.1 208.7L1394.1 208.5L1391.6 209.4L1389.9 210.9L1388.8 212.9L1388.6 215.4L1389.2 217.4L1390.6 219.0L1392.6 220.2L1395.6 220.7L1397.9 220.4Z" fill="#0000df" fill-rule="evenodd"/>
<path d="M1480.6 309.1L1307.4 308.9L1307.6 135.7L1480.8 135.9L1480.6 309.1ZM1397.5 224.9L1401.6 223.4L1404.6 220.5L1406.1 216.4L1405.7 212.4L1403.9 208.9L1400.6 206.0L1396.6 204.7L1392.1 205.0L1388.3 206.9L1385.6 209.9L1384.4 213.4L1384.6 217.4L1386.4 220.9L1389.1 223.2L1393.1 224.7L1397.5 224.9Z" fill="#0000f4" fill-rule="evenodd"/>
<path d="M1480.6 309.1L1307.4 308.9L1307.6 135.7L1480.8 135.9L1480.6 309.1ZM1398.3 227.9L1401.1 227.0L1403.6 225.7L1405.6 223.9L1407.1 221.9L1408.3 219.4L1408.8 216.9L1408.4 211.9L1407.4 209.4L1405.7 206.9L1401.6 203.7L1396.6 202.1L1393.6 202.1L1391.1 202.6L1386.6 204.9L1384.6 206.8L1383.1 208.9L1381.6 213.4L1381.5 215.9L1381.9 218.4L1382.9 220.9L1384.2 222.9L1388.1 226.2L1393.1 228.0L1398.3 227.9Z" fill="#000bff" fill-rule="evenodd"/>
<path d="M1480.6 309.1L1307.4 308.9L1307.6 135.7L1480.8 135.9L1480.6 309.1ZM1399.0 230.4L1402.1 229.3L1404.6 227.9L1407.0 225.9L1408.9 223.4L1410.3 220.4L1411.0 217.4L1411.1 214.4L1410.5 211.4L1409.2 208.4L1407.6 205.9L1405.1 203.5L1402.6 201.9L1399.6 200.7L1396.6 200.1L1393.6 200.1L1390.6 200.6L1387.6 201.8L1385.1 203.4L1382.9 205.4L1381.2 207.9L1380.0 210.4L1379.3 213.4L1379.2 216.4L1379.8 219.4L1381.0 222.4L1382.6 224.7L1384.6 226.7L1387.1 228.5L1390.1 229.9L1393.1 230.7L1396.1 230.9L1399.0 230.4Z" fill="#0020ff" fill-rule="evenodd"/>
<path d="M1480.6 309.1L1307.4 308.9L1307.6 135.7L1480.8 135.9L1480.6 309.1ZM1398.2 233.4L1401.6 232.4L1405.1 230.5L1407.9 228.4L1410.1 225.9L1411.8 222.9L1412.8 219.9L1413.3 216.4L1413.1 212.9L1412.1 209.4L1410.5 206.4L1408.1 203.4L1405.6 201.3L1402.6 199.6L1399.1 198.4L1395.6 198.0L1391.6 198.3L1388.1 199.3L1385.1 200.8L1382.4 202.9L1380.2 205.4L1378.4 208.4L1377.4 211.4L1376.9 214.9L1377.1 218.4L1378.1 221.9L1379.7 224.9L1381.7 227.4L1384.6 229.9L1388.1 232.0L1391.6 233.3L1395.1 233.8L1398.2 233.4Z" fill="#0035ff" fill-rule="evenodd"/>
<path d="M1480.6 309.1L1307.4 308.9L1307.6 135.7L1480.8 135.9L1480.6 309.1ZM1395.9 236.9L1399.1 236.3L1403.1 234.7L1407.1 232.2L1410.3 229.4L1412.6 226.4L1414.3 222.9L1415.3 219.4L1415.5 215.4L1415.0 211.4L1413.8 207.9L1411.7 204.4L1409.0 201.4L1405.6 198.8L1402.1 197.2L1398.1 196.2L1394.1 195.9L1390.1 196.5L1386.6 197.7L1383.1 199.6L1380.1 202.2L1377.6 205.4L1375.8 208.9L1374.9 212.4L1374.6 216.4L1375.2 220.4L1376.4 223.9L1378.5 227.4L1381.1 230.3L1384.6 233.1L1389.1 235.6L1392.6 236.7L1395.9 236.9Z" fill="#004aff" fill-rule="evenodd"/>
<path d="M1480.6 309.1L1307.4 308.9L1307.6 135.7L1480.8 135.9L1480.6 309.1ZM1397.8 240.4L1402.1 238.8L1406.6 236.1L1410.6 232.9L1413.6 229.5L1415.8 225.9L1417.2 221.9L1417.9 217.9L1417.8 213.4L1416.7 208.9L1414.8 204.9L1412.2 201.4L1409.1 198.5L1405.1 196.0L1401.1 194.5L1396.6 193.7L1392.1 193.9L1387.6 194.9L1383.6 196.6L1380.1 199.0L1377.1 202.1L1374.6 205.9L1373.0 209.9L1372.2 213.9L1372.3 218.4L1373.3 222.9L1375.1 226.9L1377.6 230.5L1381.1 234.0L1385.6 237.4L1390.1 239.8L1394.1 240.8L1397.8 240.4Z" fill="#0060ff" fill-rule="evenodd"/>
<path d="M1480.6 309.0L1307.5 308.9L1307.6 135.7L1480.8 135.9L1480.6 309.0ZM1397.7 244.9L1402.1 242.9L1407.6 239.1L1412.1 235.3L1415.5 231.4L1417.9 227.4L1419.6 222.9L1420.3 218.4L1420.3 213.9L1419.2 208.9L1417.2 204.4L1414.4 200.4L1410.8 196.9L1406.6 194.2L1402.1 192.5L1397.1 191.5L1392.1 191.6L1387.1 192.6L1382.6 194.5L1378.6 197.2L1375.1 200.8L1372.4 204.9L1370.6 209.4L1369.7 213.9L1369.8 218.9L1370.9 223.9L1372.8 228.4L1375.6 232.4L1379.6 236.6L1385.6 241.6L1390.1 244.3L1394.1 245.3L1397.7 244.9Z" fill="#0075ff" fill-rule="evenodd"/>
<path d="M1480.6 309.0L1307.5 308.9L1307.6 135.7L1480.8 135.9L1480.6 309.0ZM1396.3 250.4L1400.6 248.6L1406.1 244.7L1412.6 238.8L1416.9 233.9L1419.8 229.4L1421.6 224.9L1422.6 220.4L1422.8 215.4L1422.0 209.9L1420.1 204.9L1417.4 200.4L1413.7 196.4L1409.6 193.3L1404.6 190.9L1399.1 189.5L1393.6 189.2L1388.1 190.0L1383.1 191.7L1378.5 194.4L1374.5 197.9L1371.1 202.3L1368.8 206.9L1367.5 211.9L1367.1 217.4L1367.8 222.4L1369.4 227.4L1372.1 232.3L1375.6 236.8L1382.7 243.9L1388.1 248.2L1392.6 250.4L1396.3 250.4Z" fill="#008aff" fill-rule="evenodd"/>
<path d="M1480.6 309.0L1307.5 308.9L1307.6 135.7L1480.8 135.9L1480.6 309.0ZM1395.8 266.9L1397.5 265.4L1396.8 263.4L1396.9 261.4L1399.9 255.9L1415.6 239.7L1421.1 232.3L1422.8 228.9L1424.2 224.9L1425.1 220.4L1425.3 216.4L1424.6 210.7L1422.7 204.9L1420.1 200.2L1416.0 195.4L1410.8 191.4L1405.6 188.9L1400.1 187.4L1394.1 186.9L1388.1 187.7L1382.8 189.4L1377.6 192.2L1373.1 196.0L1369.5 200.4L1366.6 206.0L1365.1 211.4L1364.6 217.4L1365.0 221.9L1366.0 225.9L1367.6 229.8L1369.6 233.4L1374.1 239.4L1388.9 255.9L1391.7 261.4L1391.7 263.4L1391.0 265.4L1393.6 267.2L1395.8 266.9ZM1394.4 308.4L1395.8 307.9L1396.7 306.9L1397.1 305.4L1396.8 303.9L1397.5 301.4L1397.1 299.8L1396.2 298.4L1394.1 297.4L1392.6 297.9L1391.6 298.9L1390.9 300.4L1390.8 301.9L1391.4 303.9L1391.1 305.4L1391.5 306.9L1392.6 308.0L1394.4 308.4Z" fill="#009fff" fill-rule="evenodd"/>
<path d="M1480.6 309.0L1403.7 308.9L1404.1 305.9L1404.0 299.9L1401.7 288.9L1403.2 282.4L1403.5 277.9L1404.5 274.4L1404.4 269.9L1405.9 264.4L1405.9 260.9L1406.4 257.9L1407.6 254.4L1408.8 252.4L1419.7 238.9L1424.0 231.9L1425.7 227.9L1426.9 223.4L1427.4 219.4L1427.4 214.9L1426.4 208.9L1424.4 203.4L1421.1 198.0L1417.1 193.6L1412.1 189.8L1406.6 187.1L1400.6 185.4L1394.6 184.9L1388.6 185.5L1382.6 187.2L1377.3 189.9L1372.7 193.4L1368.6 197.9L1365.5 202.9L1363.5 208.4L1362.4 214.4L1362.4 218.9L1362.9 222.9L1363.9 226.9L1365.4 230.9L1369.2 237.4L1379.8 251.4L1381.2 253.9L1382.3 257.4L1382.8 260.9L1382.6 263.9L1384.0 269.4L1384.0 274.4L1384.9 277.9L1385.2 282.4L1386.5 288.9L1384.2 299.9L1384.1 305.9L1384.5 308.9L1307.5 308.9L1307.6 135.7L1480.8 135.9L1480.6 309.0Z" fill="#00b5ff" fill-rule="evenodd"/>
<path d="M1480.6 309.0L1408.1 308.9L1407.9 299.4L1406.4 288.4L1408.3 276.9L1409.3 273.4L1409.6 267.9L1411.1 262.9L1411.7 257.4L1414.3 250.9L1423.1 238.6L1426.9 231.4L1428.3 227.4L1429.3 222.9L1429.7 218.4L1429.6 213.9L1428.3 207.4L1425.8 201.4L1422.2 195.9L1418.1 191.6L1413.1 187.9L1407.1 185.0L1401.1 183.4L1394.6 182.8L1388.1 183.5L1382.1 185.1L1376.6 187.8L1371.6 191.4L1367.3 195.9L1363.8 201.4L1361.4 207.4L1360.2 213.4L1360.0 217.4L1360.3 221.9L1361.2 226.4L1362.6 230.4L1366.1 237.5L1374.8 250.4L1377.1 256.9L1377.5 262.4L1378.9 267.4L1379.2 272.9L1380.2 276.9L1380.6 281.4L1381.9 288.4L1380.3 299.4L1380.1 308.9L1307.5 308.9L1307.6 135.8L1480.7 135.9L1480.6 309.0Z" fill="#00caff" fill-rule="evenodd"/>
<path d="M1480.6 309.0L1411.6 308.9L1409.9 287.9L1412.0 276.4L1413.3 271.9L1413.9 266.9L1418.1 252.4L1420.4 247.9L1426.8 237.4L1430.0 229.9L1431.8 221.4L1431.9 216.9L1431.6 212.5L1430.1 205.9L1427.5 199.9L1423.9 194.4L1419.6 189.9L1414.1 186.0L1408.1 183.1L1401.6 181.4L1394.6 180.8L1388.1 181.3L1381.6 183.1L1375.6 185.8L1370.1 189.7L1365.6 194.4L1362.1 199.7L1359.7 205.4L1358.1 211.9L1357.8 220.4L1359.4 228.9L1362.5 236.4L1368.3 246.4L1370.8 251.4L1372.0 254.9L1372.9 260.4L1374.7 266.4L1375.2 271.9L1376.3 275.9L1378.4 287.9L1376.6 308.9L1307.5 308.9L1307.6 135.8L1480.7 135.9L1480.6 309.0Z" fill="#00dfff" fill-rule="evenodd"/>
<path d="M1480.6 309.0L1414.6 308.9L1414.1 306.4L1412.9 287.4L1413.3 284.9L1418.7 262.9L1420.8 257.9L1422.8 251.9L1429.7 237.9L1432.6 230.0L1434.1 220.9L1434.2 215.9L1433.7 211.4L1432.1 204.6L1429.4 198.4L1425.6 192.6L1420.9 187.9L1415.6 184.1L1409.1 181.1L1402.1 179.3L1394.6 178.7L1387.6 179.3L1380.6 181.0L1374.2 183.9L1368.6 187.8L1364.0 192.4L1360.3 197.9L1357.6 204.0L1355.9 210.9L1355.4 219.9L1356.8 228.9L1359.6 236.9L1366.2 250.9L1368.0 257.4L1370.0 262.4L1371.1 266.4L1371.6 270.4L1372.8 274.4L1375.1 284.9L1375.4 287.4L1374.1 306.4L1373.6 308.9L1307.5 308.9L1307.6 135.8L1480.7 135.9L1480.6 309.0Z" fill="#00f4ff" fill-rule="evenodd"/>
<path d="M1480.6 309.0L1417.5 308.9L1416.7 305.9L1416.2 300.9L1415.7 285.9L1418.7 274.4L1420.7 268.9L1422.3 262.4L1432.0 240.4L1434.9 231.9L1436.1 226.4L1436.7 220.9L1436.7 215.4L1436.1 209.9L1434.1 202.4L1431.1 195.9L1427.1 190.1L1422.2 185.4L1416.1 181.4L1409.6 178.7L1402.1 176.9L1394.6 176.3L1387.1 176.9L1379.6 178.7L1373.1 181.5L1367.1 185.4L1362.1 190.3L1358.2 195.9L1355.3 202.4L1353.5 209.4L1352.9 214.4L1352.8 219.9L1353.3 225.4L1354.4 230.9L1357.1 239.2L1366.4 261.9L1372.6 285.9L1372.0 300.9L1371.5 305.9L1370.7 308.9L1307.5 308.9L1307.6 135.8L1480.7 135.9L1480.6 309.0Z" fill="#0bfff4" fill-rule="evenodd"/>
<path d="M1480.6 309.0L1420.2 308.9L1419.2 305.4L1418.6 300.4L1418.3 285.4L1421.9 272.9L1424.4 266.9L1426.0 261.4L1433.2 246.4L1437.2 234.4L1438.7 227.4L1439.3 220.9L1439.2 214.4L1438.3 207.9L1436.2 200.4L1433.1 193.6L1429.1 188.0L1424.1 183.3L1418.1 179.4L1410.7 176.4L1402.6 174.6L1394.6 174.0L1386.6 174.6L1378.6 176.4L1371.6 179.2L1365.6 182.9L1360.6 187.5L1356.3 193.4L1353.3 199.9L1351.2 207.4L1350.3 213.9L1350.2 220.4L1350.8 226.9L1352.0 233.4L1356.0 245.9L1362.6 260.4L1364.3 266.4L1366.6 272.4L1370.0 284.9L1369.6 300.4L1369.0 305.4L1368.0 308.9L1307.5 308.9L1307.6 135.8L1480.7 135.9L1480.6 309.0Z" fill="#20ffdf" fill-rule="evenodd"/>
<path d="M1480.6 309.0L1422.9 308.9L1421.4 304.4L1420.9 299.9L1420.6 292.4L1420.8 284.4L1425.3 270.9L1436.8 243.9L1440.0 234.4L1441.1 228.9L1441.8 220.4L1441.6 212.9L1440.6 206.4L1438.4 198.9L1435.0 191.9L1430.5 185.9L1425.1 181.0L1418.5 176.9L1410.9 173.9L1404.3 172.4L1394.6 171.7L1384.8 172.4L1378.3 173.9L1370.7 176.9L1364.1 181.0L1358.7 185.9L1354.3 191.9L1350.9 198.9L1348.6 206.7L1347.8 212.9L1347.5 219.9L1348.1 227.7L1349.2 233.4L1352.1 242.7L1363.3 270.4L1367.5 284.4L1367.4 299.4L1366.8 304.4L1365.3 308.9L1307.5 308.9L1307.6 135.8L1480.7 135.9L1480.6 309.0Z" fill="#35ffca" fill-rule="evenodd"/>
<path d="M1480.6 309.0L1425.5 308.9L1423.7 303.9L1423.0 298.9L1422.8 291.9L1423.3 283.4L1428.4 269.4L1432.7 260.4L1438.1 246.9L1441.8 235.4L1443.2 227.9L1443.7 220.4L1443.5 212.9L1442.3 205.4L1439.9 197.4L1436.4 190.4L1431.9 184.4L1426.3 179.4L1419.7 175.4L1412.1 172.4L1403.6 170.6L1394.6 169.9L1385.6 170.5L1377.1 172.4L1369.4 175.4L1362.8 179.4L1357.3 184.4L1352.8 190.4L1349.4 197.4L1347.1 204.9L1345.9 211.9L1345.6 219.4L1346.1 226.9L1347.4 234.4L1350.6 245.2L1356.1 259.9L1360.1 268.9L1365.1 283.4L1365.5 291.4L1365.2 298.9L1364.5 303.9L1362.7 308.9L1307.5 308.9L1307.6 135.8L1480.7 135.9L1480.6 309.0Z" fill="#4affb5" fill-rule="evenodd"/>
<path d="M1480.6 309.0L1428.1 308.9L1425.8 302.9L1425.1 297.9L1425.0 290.9L1425.8 282.4L1427.3 277.9L1432.0 266.9L1437.6 255.4L1441.4 244.4L1443.6 236.4L1445.0 227.9L1445.5 219.4L1445.1 211.4L1443.7 203.4L1441.1 195.4L1437.6 188.5L1433.1 182.7L1427.6 177.8L1420.6 173.7L1412.6 170.7L1403.6 168.9L1394.6 168.3L1385.6 168.9L1376.6 170.7L1368.6 173.7L1362.1 177.4L1356.6 182.0L1351.9 187.9L1348.2 194.9L1345.6 202.9L1344.2 210.9L1343.7 218.9L1344.2 226.9L1345.5 235.4L1347.6 243.5L1351.6 255.4L1356.7 266.4L1362.6 281.9L1363.3 290.4L1363.1 297.9L1362.4 302.9L1360.1 308.9L1307.5 308.9L1307.6 135.8L1480.7 135.9L1480.6 309.0Z" fill="#60ff9f" fill-rule="evenodd"/>
<path d="M1480.6 309.0L1430.8 308.9L1427.9 301.9L1427.2 297.4L1427.2 289.9L1427.9 283.9L1428.3 280.9L1429.8 276.9L1442.2 249.4L1445.3 237.9L1446.8 228.4L1447.3 218.9L1446.8 209.9L1445.2 201.4L1442.5 193.4L1438.7 186.4L1434.1 180.7L1428.4 175.9L1421.2 171.9L1413.1 169.0L1404.1 167.2L1394.6 166.6L1385.1 167.2L1376.1 169.0L1368.1 171.8L1361.1 175.6L1355.2 180.4L1350.6 186.0L1346.8 192.9L1344.1 200.9L1342.5 209.4L1341.9 218.4L1342.3 227.4L1343.7 236.9L1346.6 248.4L1358.6 276.4L1360.0 280.4L1360.4 282.9L1361.1 289.9L1361.0 297.4L1360.3 301.9L1357.4 308.9L1307.5 308.9L1307.6 135.8L1480.7 135.9L1480.6 309.0Z" fill="#75ff8a" fill-rule="evenodd"/>
<path d="M1480.6 309.0L1433.5 308.9L1429.9 300.9L1429.2 296.4L1429.4 288.4L1431.1 278.9L1437.0 266.4L1442.8 252.9L1445.7 244.9L1447.6 237.9L1448.9 227.9L1449.2 217.9L1448.5 208.4L1446.8 199.9L1444.1 192.4L1439.8 184.9L1434.7 178.9L1428.6 174.0L1421.2 169.9L1414.1 167.4L1404.6 165.6L1394.6 165.0L1385.1 165.5L1375.6 167.2L1368.1 169.7L1361.1 173.5L1354.8 178.4L1349.6 184.3L1345.4 191.4L1342.6 198.8L1340.8 207.9L1340.0 217.4L1340.3 227.4L1341.7 237.9L1343.4 244.4L1346.2 252.4L1351.6 265.9L1357.5 278.9L1358.9 288.4L1359.0 295.9L1358.3 300.9L1354.7 308.9L1307.5 308.9L1307.6 135.8L1480.7 135.9L1480.6 309.0Z" fill="#8aff75" fill-rule="evenodd"/>
<path d="M1480.6 309.0L1436.3 308.9L1432.0 299.9L1431.3 295.4L1431.6 287.4L1433.7 277.4L1441.0 262.4L1444.2 254.4L1447.3 245.4L1449.5 236.4L1450.8 226.9L1451.0 217.9L1450.3 208.9L1448.4 199.9L1445.2 191.4L1441.3 184.4L1436.3 178.4L1430.1 173.2L1422.6 169.0L1414.1 166.0L1405.1 164.1L1394.6 163.4L1384.1 164.1L1375.1 165.9L1366.6 168.9L1359.3 172.9L1353.1 177.9L1348.1 183.8L1344.0 190.9L1341.0 198.9L1339.0 207.9L1338.2 216.9L1338.3 225.9L1339.5 235.4L1341.6 244.4L1344.7 253.9L1348.1 262.7L1354.9 277.4L1356.7 287.4L1356.9 294.9L1356.2 299.9L1351.9 308.9L1307.5 308.9L1307.6 135.8L1480.7 135.9L1480.6 309.0Z" fill="#9fff60" fill-rule="evenodd"/>
<path d="M1480.6 309.0L1439.2 308.9L1434.0 298.9L1433.4 293.9L1433.8 286.4L1436.5 275.4L1444.8 258.4L1446.9 252.9L1449.3 244.9L1451.1 236.9L1452.3 226.9L1452.4 216.9L1451.4 207.4L1449.4 198.4L1446.1 189.9L1442.0 182.9L1436.9 176.9L1430.6 171.8L1423.1 167.8L1414.6 164.8L1405.1 162.9L1394.6 162.2L1384.6 162.8L1375.1 164.6L1366.6 167.4L1358.9 171.4L1352.5 176.4L1347.2 182.4L1343.1 189.4L1339.9 197.4L1337.8 206.4L1336.8 215.9L1336.8 225.9L1337.9 235.9L1339.6 243.9L1341.9 251.9L1344.0 257.9L1352.1 275.4L1354.5 286.4L1354.9 293.9L1354.2 298.9L1349.0 308.9L1307.5 308.9L1307.6 135.8L1480.7 135.9L1480.6 309.0Z" fill="#b5ff4a" fill-rule="evenodd"/>
<path d="M1480.6 309.0L1442.2 308.9L1436.1 297.9L1435.4 292.9L1436.2 284.9L1438.7 275.4L1439.5 272.9L1446.1 259.3L1449.6 250.9L1451.5 243.9L1453.0 236.4L1454.0 226.4L1453.9 215.9L1452.6 205.9L1450.3 196.4L1447.0 188.4L1442.6 181.1L1437.5 175.4L1431.1 170.4L1423.4 166.4L1414.6 163.5L1405.1 161.7L1394.6 161.0L1384.6 161.6L1374.6 163.4L1365.6 166.3L1358.1 170.2L1351.9 174.9L1346.4 180.9L1342.1 187.9L1338.9 195.9L1336.6 204.9L1335.3 214.9L1335.2 225.4L1336.1 235.9L1337.5 243.4L1339.6 251.2L1349.7 274.9L1352.1 284.4L1352.8 292.9L1352.1 297.9L1346.0 308.9L1307.5 308.9L1307.6 135.8L1480.7 135.9L1480.6 309.0Z" fill="#caff35" fill-rule="evenodd"/>
<path d="M1480.6 308.9L1445.4 308.9L1438.3 296.9L1437.6 291.4L1438.8 282.4L1442.6 270.4L1448.7 257.4L1452.1 248.4L1454.1 240.9L1455.4 231.4L1455.6 218.9L1454.2 206.4L1451.3 194.9L1447.1 185.4L1443.1 179.5L1438.4 174.4L1432.8 169.9L1427.1 166.6L1420.1 163.7L1412.1 161.6L1403.6 160.3L1394.6 159.8L1385.6 160.2L1377.1 161.5L1369.1 163.6L1362.0 166.4L1356.1 169.8L1350.6 174.2L1346.1 179.0L1342.0 184.9L1339.8 189.4L1337.8 194.4L1335.0 205.4L1333.6 217.4L1333.7 230.4L1335.1 241.3L1336.8 247.9L1340.1 256.9L1346.0 270.4L1349.6 282.4L1350.6 291.4L1349.9 296.9L1342.8 308.9L1307.6 308.9L1307.6 135.8L1480.7 135.9L1480.6 308.9Z" fill="#dfff20" fill-rule="evenodd"/>
<path d="M1480.6 308.9L1448.8 308.9L1440.3 295.4L1439.8 290.4L1441.1 281.4L1446.2 266.9L1450.8 256.4L1453.7 248.4L1456.0 239.4L1457.2 229.9L1457.1 217.9L1455.4 204.9L1452.5 194.4L1448.2 184.9L1444.1 178.9L1439.1 173.4L1433.6 169.0L1427.1 165.3L1420.1 162.4L1412.6 160.4L1403.6 159.0L1394.6 158.6L1385.6 159.0L1376.6 160.3L1369.1 162.2L1362.1 165.1L1355.6 168.7L1350.1 173.0L1345.1 178.3L1340.9 184.4L1336.6 193.7L1333.8 203.9L1332.0 216.9L1331.9 229.9L1333.0 238.9L1335.2 247.9L1337.9 255.9L1342.4 266.4L1347.2 280.9L1348.5 290.4L1347.9 295.4L1339.4 308.9L1307.6 308.9L1307.6 135.8L1480.7 135.9L1480.6 308.9Z" fill="#f4ff0b" fill-rule="evenodd"/>
<path d="M1480.6 308.9L1452.4 308.9L1442.4 293.9L1442.0 288.9L1443.8 279.4L1455.4 248.4L1457.5 239.4L1458.6 230.4L1458.5 217.9L1456.8 205.4L1453.6 193.9L1449.2 184.4L1445.1 178.2L1440.2 172.9L1434.6 168.4L1428.1 164.5L1420.6 161.4L1412.6 159.2L1404.1 157.9L1394.6 157.4L1384.6 157.9L1376.6 159.2L1368.6 161.3L1361.1 164.3L1354.6 168.0L1349.0 172.4L1344.1 177.7L1339.8 183.9L1335.5 193.4L1332.4 204.4L1330.6 216.9L1330.4 229.4L1331.4 238.4L1333.4 247.4L1344.5 278.9L1346.2 288.4L1345.8 293.9L1335.8 308.9L1307.6 308.9L1307.6 135.8L1480.7 135.9L1480.6 308.9Z" fill="#fff400" fill-rule="evenodd"/>
<path d="M1480.6 308.9L1456.4 308.9L1444.6 292.4L1444.4 286.9L1446.4 277.9L1453.5 258.9L1457.2 247.9L1459.1 239.4L1460.1 230.9L1459.8 218.4L1458.0 205.4L1454.8 193.9L1450.3 183.9L1446.1 177.6L1441.1 172.1L1435.2 167.4L1428.6 163.6L1421.1 160.5L1413.1 158.3L1404.1 156.9L1394.6 156.4L1385.1 156.9L1376.1 158.2L1367.9 160.4L1360.4 163.4L1353.6 167.3L1347.8 171.9L1342.8 177.4L1338.8 183.4L1334.4 192.9L1331.1 204.4L1329.2 217.4L1328.9 230.4L1329.8 238.9L1331.6 247.4L1335.3 258.9L1341.9 277.4L1343.9 286.9L1343.6 292.4L1331.8 308.9L1307.6 308.9L1307.6 135.8L1480.7 135.9L1480.6 308.9Z" fill="#ffdf00" fill-rule="evenodd"/>
<path d="M1480.6 308.9L1460.7 308.9L1446.9 290.9L1446.9 284.9L1449.1 276.4L1456.4 256.9L1459.2 247.9L1460.8 239.4L1461.6 231.4L1461.1 218.4L1459.1 204.9L1455.8 193.4L1451.3 183.4L1447.1 177.0L1442.1 171.5L1436.1 166.6L1429.6 162.8L1422.1 159.7L1413.6 157.4L1404.1 155.9L1394.6 155.5L1385.1 155.9L1375.6 157.3L1367.1 159.6L1359.6 162.6L1352.9 166.4L1347.1 171.0L1342.1 176.4L1337.6 183.1L1333.1 192.9L1329.9 204.4L1327.8 217.9L1327.4 230.9L1328.0 238.4L1329.8 247.9L1332.4 256.9L1339.2 275.9L1341.4 284.9L1341.3 290.9L1327.5 308.9L1307.6 308.9L1307.6 135.8L1480.7 135.9L1480.6 308.9Z" fill="#ffca00" fill-rule="evenodd"/>
<path d="M1480.6 308.9L1465.5 308.9L1449.1 288.9L1449.4 282.9L1451.3 276.4L1453.8 268.9L1459.1 255.4L1461.3 248.4L1462.6 241.9L1463.3 234.9L1462.7 220.4L1460.5 205.9L1457.0 193.4L1452.4 182.9L1448.1 176.2L1443.1 170.7L1437.1 165.9L1430.1 161.9L1422.1 158.6L1413.6 156.4L1404.1 155.0L1394.1 154.5L1384.6 155.0L1375.1 156.4L1366.6 158.6L1358.6 161.9L1351.5 165.9L1345.6 170.6L1340.6 176.2L1336.3 182.9L1331.7 193.4L1328.3 205.9L1326.2 220.4L1325.7 234.9L1326.2 241.4L1327.6 248.4L1329.6 255.4L1334.6 268.4L1337.1 276.4L1338.9 282.9L1339.1 288.9L1322.7 308.9L1307.6 308.9L1307.6 135.9L1480.6 135.9L1480.6 308.9Z" fill="#ffb500" fill-rule="evenodd"/>
<path d="M1480.6 308.9L1470.8 308.9L1451.5 286.9L1452.3 279.9L1461.5 254.4L1463.5 247.9L1464.9 240.9L1465.4 234.4L1464.5 221.9L1461.3 203.9L1457.6 191.2L1453.2 181.4L1448.9 174.9L1443.8 169.4L1438.1 164.9L1431.1 160.9L1422.6 157.7L1413.6 155.4L1404.1 154.0L1394.1 153.5L1384.1 154.0L1374.6 155.5L1366.1 157.7L1357.1 161.1L1350.5 164.9L1344.6 169.6L1339.6 175.1L1335.5 181.4L1331.1 191.2L1327.5 203.9L1324.3 222.4L1323.4 234.4L1323.9 240.9L1325.2 247.9L1336.0 279.9L1336.7 286.9L1317.4 308.9L1307.6 308.9L1307.6 135.9L1480.6 135.9L1480.6 308.9Z" fill="#ff9f00" fill-rule="evenodd"/>
<path d="M1480.6 308.9L1476.8 308.9L1453.9 284.9L1454.0 281.9L1455.1 277.4L1462.6 257.4L1465.4 248.4L1466.9 240.9L1467.4 233.9L1466.4 221.9L1462.7 203.4L1459.0 190.9L1454.6 181.1L1450.2 174.4L1445.1 168.7L1439.1 163.9L1432.1 159.9L1424.1 156.8L1414.6 154.5L1404.6 153.1L1394.1 152.6L1383.6 153.1L1373.6 154.6L1364.6 156.8L1356.5 159.9L1349.6 163.8L1343.6 168.6L1338.3 174.4L1334.1 180.9L1329.8 190.4L1326.3 202.4L1322.4 221.9L1321.3 233.9L1321.7 240.4L1323.0 247.4L1325.8 256.9L1333.1 276.9L1334.2 281.9L1334.3 284.9L1311.4 308.9L1307.6 308.9L1307.6 135.9L1480.6 135.9L1480.6 308.9Z" fill="#ff8a00" fill-rule="evenodd"/>
<path d="M1480.6 306.0L1456.3 282.4L1456.6 279.4L1457.9 274.9L1463.8 259.9L1467.2 249.4L1468.9 241.4L1469.3 233.9L1469.1 228.4L1468.2 221.9L1464.4 203.9L1460.3 190.4L1455.8 180.4L1451.2 173.4L1446.1 167.8L1440.0 162.9L1432.6 158.7L1424.6 155.7L1415.6 153.5L1405.6 152.1L1394.1 151.6L1383.1 152.1L1373.1 153.4L1364.1 155.6L1356.1 158.7L1349.1 162.5L1342.9 167.4L1337.6 173.1L1333.0 179.9L1328.5 189.9L1324.6 202.9L1320.4 222.4L1319.6 228.4L1319.3 234.4L1319.7 241.4L1321.1 248.9L1324.1 258.4L1330.4 274.9L1331.6 279.4L1331.9 282.4L1307.6 306.0L1307.6 135.9L1480.6 135.9L1480.6 306.0Z" fill="#ff7500" fill-rule="evenodd"/>
<path d="M1480.6 299.3L1459.1 280.2L1458.7 279.4L1460.2 273.4L1466.6 257.9L1469.0 250.4L1470.8 241.9L1471.3 233.4L1470.9 227.9L1469.6 219.9L1465.4 201.9L1461.2 188.9L1456.5 178.9L1451.7 171.9L1446.6 166.4L1440.1 161.4L1432.8 157.4L1424.6 154.3L1415.6 152.2L1405.1 150.9L1394.1 150.4L1383.1 150.9L1372.6 152.3L1363.6 154.4L1355.6 157.4L1348.4 161.4L1342.1 166.2L1336.8 171.9L1332.1 178.7L1327.5 188.4L1323.5 200.9L1319.0 219.9L1317.6 228.4L1317.2 233.4L1317.6 241.4L1319.3 249.9L1322.1 258.8L1328.3 273.9L1329.5 279.4L1329.1 280.2L1307.6 299.3L1307.6 135.9L1480.6 135.9L1480.6 299.3Z" fill="#ff6000" fill-rule="evenodd"/>
<path d="M1480.6 292.6L1461.3 276.9L1461.4 274.9L1462.3 271.9L1469.1 254.5L1471.6 246.4L1473.0 238.4L1473.1 232.4L1471.6 220.9L1466.2 199.4L1461.7 186.4L1456.8 176.4L1452.1 169.9L1446.7 164.4L1440.5 159.9L1433.1 156.1L1424.6 153.0L1415.6 151.0L1405.1 149.7L1394.1 149.2L1383.1 149.7L1372.6 151.0L1363.6 153.1L1355.1 156.2L1348.0 159.9L1341.6 164.5L1336.3 169.9L1331.7 176.4L1327.0 185.9L1322.7 198.4L1316.9 220.9L1315.3 232.4L1315.6 240.9L1317.1 248.0L1319.6 255.7L1325.8 271.4L1326.8 274.9L1326.9 276.9L1307.6 292.6L1307.6 135.9L1480.6 135.9L1480.6 292.6Z" fill="#ff4a00" fill-rule="evenodd"/>
<path d="M1480.6 286.1L1464.0 273.9L1463.8 273.4L1464.6 269.4L1470.1 254.3L1472.7 245.4L1474.2 237.4L1474.6 228.9L1473.9 223.4L1472.4 216.4L1466.6 195.4L1462.4 183.9L1457.8 174.9L1453.1 168.5L1447.6 163.1L1441.1 158.4L1434.1 154.9L1425.6 152.0L1415.6 149.7L1405.1 148.5L1394.1 148.1L1383.1 148.5L1372.6 149.8L1362.6 152.1L1354.1 155.0L1347.1 158.6L1340.6 163.2L1335.1 168.7L1330.6 174.9L1326.1 183.7L1322.1 194.9L1315.9 216.9L1314.4 223.9L1313.7 229.4L1314.1 237.4L1315.5 245.4L1318.1 254.2L1323.7 269.4L1324.4 273.4L1307.6 286.1L1307.6 135.9L1480.6 135.9L1480.6 286.1Z" fill="#ff3500" fill-rule="evenodd"/>
<path d="M1480.6 279.7L1466.3 269.9L1466.9 266.4L1471.6 252.3L1474.1 242.4L1475.4 232.4L1475.3 223.4L1473.5 213.9L1467.2 191.9L1463.1 181.4L1458.6 173.2L1453.8 166.9L1448.1 161.4L1441.6 156.9L1434.5 153.4L1426.1 150.6L1416.6 148.6L1405.6 147.3L1394.1 146.9L1382.6 147.3L1372.1 148.6L1362.6 150.5L1354.1 153.3L1346.8 156.9L1340.2 161.4L1334.6 166.8L1329.9 172.9L1325.5 180.9L1321.6 190.9L1315.0 213.4L1313.6 219.0L1313.0 223.4L1312.9 232.9L1314.1 242.2L1316.6 252.2L1321.3 266.4L1321.9 269.9L1307.6 279.7L1307.6 135.9L1480.6 135.9L1480.6 279.7Z" fill="#ff2000" fill-rule="evenodd"/>
<path d="M1480.6 273.2L1469.0 266.4L1468.7 265.9L1469.2 262.9L1473.6 247.7L1475.4 238.9L1476.2 229.4L1475.7 218.9L1473.6 207.8L1468.1 189.6L1463.9 179.4L1458.1 168.9L1453.6 163.4L1448.6 159.2L1440.1 154.3L1433.1 151.2L1425.1 148.8L1416.1 147.1L1405.6 146.1L1394.1 145.7L1382.6 146.1L1372.1 147.1L1363.1 148.9L1355.1 151.3L1348.1 154.3L1339.6 159.2L1334.6 163.5L1330.2 168.9L1324.6 179.1L1320.6 188.7L1314.6 208.3L1312.6 218.9L1312.0 228.9L1312.9 238.9L1314.6 247.6L1319.0 262.9L1319.5 265.9L1319.2 266.4L1307.6 273.2L1307.6 135.9L1480.6 135.9L1480.6 273.2Z" fill="#ff0b00" fill-rule="evenodd"/>
<path d="M1450.6 156.9L1445.6 153.9L1440.6 151.7L1424.1 147.1L1410.6 145.0L1394.1 144.3L1377.6 145.0L1364.1 147.1L1347.6 151.7L1342.6 153.9L1337.4 156.9L1319.2 135.9L1469.0 135.9L1450.6 156.9ZM1308.1 266.5L1307.6 266.8L1307.6 147.5L1328.6 165.9L1325.9 170.4L1323.6 175.4L1318.0 191.9L1314.1 205.5L1311.9 217.9L1311.3 226.9L1311.9 236.4L1313.2 244.4L1316.6 258.4L1317.1 261.9L1308.1 266.5ZM1480.6 266.8L1471.1 261.9L1471.6 258.4L1475.0 244.4L1476.3 236.4L1476.9 226.9L1476.3 217.4L1474.1 205.1L1470.2 191.4L1464.6 175.2L1462.3 170.4L1459.6 165.9L1480.6 147.5L1480.6 266.8Z" fill="#f40000" fill-rule="evenodd"/>
<path d="M1438.1 147.7L1413.1 143.8L1404.1 143.1L1394.1 142.9L1384.1 143.1L1375.1 143.8L1350.1 147.7L1343.2 135.9L1445.0 135.9L1438.1 147.7ZM1308.1 260.0L1307.6 260.2L1307.6 171.5L1319.4 178.4L1319.4 178.9L1312.6 207.5L1310.8 220.9L1310.7 228.4L1311.3 236.4L1314.8 256.4L1314.6 257.1L1308.1 260.0ZM1480.6 260.2L1473.6 257.1L1473.4 256.4L1476.9 236.4L1477.5 228.4L1477.4 220.9L1475.6 207.3L1468.8 178.9L1468.8 178.4L1480.6 171.5L1480.6 260.2Z" fill="#df0000" fill-rule="evenodd"/>
<path d="M1429.1 143.2L1404.1 141.7L1394.1 141.4L1383.6 141.7L1359.6 143.2L1358.8 142.9L1355.7 135.9L1432.5 135.9L1429.1 143.2ZM1308.1 253.0L1307.6 253.2L1307.6 184.0L1314.6 187.1L1314.9 187.9L1311.1 210.4L1310.1 221.9L1310.4 233.9L1312.6 251.4L1308.1 253.0ZM1480.6 253.2L1475.6 251.4L1477.8 233.9L1478.1 221.9L1477.0 209.9L1473.3 187.9L1473.6 187.1L1480.6 184.0L1480.6 253.2Z" fill="#ca0000" fill-rule="evenodd"/>
<path d="M1420.1 140.0L1368.1 140.0L1367.8 139.9L1366.5 135.9L1421.7 135.9L1420.4 139.9L1420.1 140.0ZM1309.1 244.9L1307.6 245.3L1307.6 194.9L1311.7 196.4L1309.8 213.4L1309.3 221.9L1309.4 230.4L1310.4 243.9L1310.1 244.7L1309.1 244.9ZM1480.6 245.3L1478.1 244.7L1477.8 243.9L1478.8 230.4L1478.9 221.9L1478.4 213.4L1476.5 196.4L1480.6 194.9L1480.6 245.3Z" fill="#b50000" fill-rule="evenodd"/>
<path d="M1399.1 137.4L1380.6 137.3L1378.8 136.9L1378.6 135.9L1409.6 135.9L1409.4 136.9L1408.6 137.2L1399.1 137.4ZM1308.1 234.8L1307.6 234.8L1307.6 207.1L1308.6 207.3L1308.9 209.4L1308.4 221.9L1308.5 232.9L1308.1 234.8ZM1480.6 234.8L1480.1 234.8L1479.8 233.4L1479.8 221.4L1479.3 209.4L1479.6 207.3L1480.6 207.1L1480.6 234.8Z" fill="#9f0000" fill-rule="evenodd"/>
</g>
<path d="M1360.4 146.5L1369.8 150.3M1369.0 146.5L1378.6 149.2M1376.6 145.6L1386.5 147.3M1384.2 146.0L1394.2 146.7M1393.4 146.4L1403.4 145.9M1400.4 148.6L1410.0 147.2M1408.7 148.2L1418.5 145.7M1418.0 149.1L1427.6 145.5M1348.5 151.6L1357.0 156.7M1357.0 151.2L1365.6 155.3M1364.3 152.1L1372.8 155.3M1373.2 152.8L1381.6 154.9M1381.8 153.3L1390.2 154.3M1390.9 155.4L1398.8 155.3M1396.9 154.0L1405.3 153.1M1406.4 155.8L1414.5 153.9M1413.3 154.8L1421.7 152.0M1422.5 156.5L1430.8 152.6M1431.9 157.5L1440.1 152.4M1346.1 159.1L1353.4 164.4M1353.9 158.6L1361.1 162.9M1361.8 159.3L1368.8 162.6M1368.9 159.0L1375.9 161.5M1379.2 161.2L1385.7 162.5M1385.6 160.5L1392.3 161.1M1394.6 162.4L1401.0 162.0M1402.0 163.1L1408.3 161.9M1412.0 161.9L1418.8 159.6M1419.4 162.6L1426.3 159.4M1427.7 162.4L1434.9 158.1M1435.4 164.1L1442.6 158.8M1443.9 164.8L1451.2 158.4M1334.3 164.5L1340.9 171.3M1341.6 166.3L1347.8 172.0M1349.9 167.4L1355.7 171.9M1358.8 167.8L1364.3 171.2M1365.4 166.5L1371.0 169.2M1373.6 168.4L1379.0 170.2M1383.8 167.0L1389.4 167.8M1391.7 169.1L1397.1 169.1M1400.1 168.4L1405.6 167.5M1407.9 168.7L1413.4 167.1M1414.6 170.3L1420.0 167.9M1422.7 170.6L1428.2 167.4M1431.4 170.6L1437.2 166.2M1440.9 170.6L1447.2 164.9M1448.0 171.4L1454.5 164.5M1328.9 171.0L1334.7 178.5M1338.9 173.9L1344.1 179.9M1345.3 172.4L1350.5 177.4M1354.3 174.0L1359.0 177.8M1363.9 175.4L1368.4 178.2M1372.0 174.1L1376.7 176.0M1379.2 174.9L1383.9 176.1M1386.5 174.4L1391.3 174.9M1394.6 175.5L1399.3 175.2M1402.6 175.4L1407.3 174.3M1410.8 176.9L1415.3 175.0M1420.0 176.5L1424.7 173.7M1428.3 177.3L1433.0 173.6M1436.9 179.0L1441.6 174.3M1444.2 178.8L1449.4 172.9M1452.0 180.1L1457.4 172.9M1325.3 179.6L1330.1 187.7M1333.0 179.1L1337.7 185.9M1342.0 179.5L1346.3 184.8M1351.3 180.0L1355.3 184.1M1358.4 180.0L1362.4 183.4M1367.6 181.2L1371.7 183.7M1375.5 181.3L1379.6 182.9M1382.2 181.9L1386.3 182.8M1392.3 183.6L1396.2 183.6M1399.4 184.0L1403.4 183.3M1406.9 183.6L1410.9 182.1M1415.7 183.9L1419.6 181.5M1423.9 185.3L1427.7 182.2M1432.3 185.9L1436.1 181.9M1439.9 185.1L1444.1 180.1M1448.9 186.4L1453.3 179.9M1456.7 186.4L1461.5 178.6M1321.3 184.9L1325.4 193.8M1331.2 187.0L1334.9 194.1M1338.4 186.8L1341.9 192.7M1347.5 187.9L1350.8 192.5M1356.2 189.1L1359.3 192.7M1363.2 188.8L1366.5 191.8M1371.5 188.3L1374.9 190.5M1379.5 189.7L1382.8 191.1M1387.9 190.0L1391.2 190.5M1396.0 191.2L1399.2 190.9M1404.8 189.7L1408.2 188.5M1413.2 192.1L1416.4 190.0M1421.4 191.1L1424.8 188.2M1428.6 191.2L1431.9 187.6M1436.1 192.1L1439.4 187.7M1446.2 193.4L1449.6 187.7M1453.9 194.2L1457.5 187.0M1461.9 193.3L1466.0 184.7M1317.5 193.6L1320.6 203.0M1326.5 194.0L1329.5 202.0M1333.9 194.0L1336.7 200.6M1343.6 193.6L1346.3 198.8M1351.6 194.1L1354.3 198.3M1359.0 194.9L1361.7 198.4M1367.9 194.8L1370.7 197.4M1375.1 196.7L1377.7 198.6M1384.4 196.5L1387.2 197.3M1391.6 197.5L1394.3 197.6M1400.2 197.1L1403.0 196.3M1409.5 197.3L1412.2 195.6M1417.6 198.8L1420.2 196.2M1425.5 199.3L1428.1 195.9M1434.0 200.1L1436.5 196.0M1442.6 199.0L1445.2 193.9M1449.0 201.0L1451.6 194.9M1457.1 200.0L1460.2 192.4M1466.8 202.5L1469.9 193.2M1314.5 200.8L1316.7 210.7M1323.5 200.5L1325.7 209.0M1330.0 200.0L1332.2 207.3M1338.3 202.3L1340.2 208.2M1347.0 201.0L1348.9 205.8M1355.9 201.4L1358.0 205.4M1364.1 203.5L1366.0 206.8M1372.9 202.3L1375.0 204.6M1381.1 203.1L1383.3 204.5M1388.3 203.5L1390.5 204.0M1397.7 204.1L1399.8 203.5M1405.3 205.3L1407.4 203.9M1413.5 204.5L1415.6 202.3M1421.5 207.1L1423.3 204.0M1429.7 205.5L1431.7 201.6M1436.7 206.1L1438.7 201.6M1446.6 205.8L1448.6 200.2M1453.2 207.8L1455.1 201.2M1463.3 208.1L1465.5 199.5M1470.8 208.1L1473.2 198.4M1318.5 208.0L1319.7 217.3M1327.8 206.7L1329.2 214.5M1335.0 208.9L1336.2 215.5M1343.6 208.1L1344.8 213.4M1351.0 209.4L1352.1 214.0M1360.4 210.1L1361.6 213.9M1367.6 210.2L1368.9 213.3M1377.3 210.8L1378.7 213.0M1385.0 210.4L1386.8 211.7M1391.4 211.5L1393.3 211.8M1399.6 211.0L1401.4 210.0M1409.0 211.6L1410.5 209.6M1417.5 213.8L1418.7 210.9M1425.1 214.0L1426.2 210.5M1435.2 212.5L1436.5 208.1M1442.2 214.4L1443.3 209.3M1451.0 213.9L1452.3 207.6M1459.4 214.7L1460.7 207.0M1466.2 215.5L1467.5 206.7M1315.9 213.0L1316.5 222.6M1323.9 214.1L1324.5 222.6M1332.4 214.0L1333.0 221.0M1340.6 216.3L1341.0 222.1M1347.2 214.7L1347.8 219.8M1357.6 217.2L1357.9 221.4M1364.0 217.5L1364.4 221.1M1372.7 216.9L1373.2 219.8M1380.9 216.7L1381.6 219.0M1389.6 217.9L1391.1 219.3M1398.1 219.8L1399.3 218.2M1406.6 219.8L1407.3 217.7M1413.8 220.2L1414.4 217.5M1421.0 220.9L1421.4 217.7M1429.6 221.7L1429.9 217.7M1437.5 221.4L1437.9 216.7M1447.4 221.4L1447.9 215.7M1454.1 222.5L1454.4 215.8M1462.7 221.8L1463.2 213.7M1471.9 224.0L1472.2 214.5M1321.1 221.8L1320.7 230.5M1327.2 221.0L1326.9 228.9M1335.6 222.3L1335.3 228.9M1345.6 222.0L1345.4 227.3M1352.0 222.5L1351.7 227.2M1361.3 223.3L1360.9 227.3M1369.1 222.9L1368.8 226.3M1378.4 224.0L1377.8 226.7M1386.7 223.1L1386.1 225.4M1394.9 225.1L1392.8 225.4M1403.3 227.4L1402.4 225.2M1410.4 226.3L1410.0 223.7M1419.0 228.3L1418.5 225.1M1427.4 228.8L1426.9 224.9M1435.1 227.5L1434.8 223.0M1442.4 228.9L1442.0 223.8M1452.0 229.0L1451.7 222.7M1460.2 229.2L1459.8 221.6M1468.5 230.2L1468.1 221.4M1316.7 227.8L1315.6 236.9M1325.7 229.7L1324.4 237.7M1331.9 228.6L1330.8 235.8M1339.8 230.8L1338.6 236.9M1348.4 231.0L1347.2 236.0M1357.4 229.4L1356.3 233.8M1365.0 230.2L1363.7 233.9M1374.6 230.8L1373.2 233.7M1381.6 232.5L1379.7 234.8M1391.0 231.0L1388.7 232.2M1400.4 233.8L1397.9 232.7M1406.9 233.1L1405.1 231.0M1415.4 233.4L1414.1 230.5M1424.2 235.3L1422.8 231.7M1431.8 235.6L1430.5 231.4M1440.2 235.2L1439.1 230.3M1448.3 234.7L1447.2 228.9M1456.3 236.7L1455.1 229.8M1463.2 235.6L1462.1 227.6M1473.2 238.0L1471.9 228.8M1321.9 236.3L1319.8 244.7M1329.7 235.8L1327.7 243.3M1337.9 237.2L1335.9 243.5M1345.1 237.2L1343.2 242.6M1353.1 237.8L1351.2 242.3M1361.2 237.7L1359.2 241.7M1371.2 238.6L1368.9 241.7M1378.9 237.6L1376.5 240.0M1387.9 239.5L1385.0 240.7M1396.5 241.0L1393.5 240.9M1404.5 240.7L1401.7 239.3M1412.0 240.2L1409.7 237.9M1418.5 242.1L1416.1 239.2M1428.0 242.9L1425.9 239.1M1435.2 242.1L1433.3 237.7M1444.5 242.8L1442.6 237.5M1452.9 242.7L1451.0 236.4M1461.1 244.3L1459.0 236.8M1469.4 243.6L1467.4 235.1M1325.7 243.5L1322.9 251.4M1333.2 243.7L1330.4 250.7M1341.7 244.6L1339.0 250.4M1350.0 244.1L1347.4 249.0M1357.5 246.1L1354.7 250.2M1366.7 244.5L1364.0 247.8M1374.4 246.0L1371.4 248.6M1382.5 247.0L1379.3 248.7M1391.5 247.1L1388.2 247.7M1400.0 246.5L1396.8 246.0M1408.8 248.7L1405.6 247.1M1415.0 248.4L1412.0 246.1M1423.9 248.3L1421.2 245.0M1431.6 248.4L1429.0 244.5M1440.4 249.2L1437.8 244.5M1447.3 249.1L1444.8 243.6M1455.7 250.5L1452.9 243.9M1464.8 250.5L1462.1 242.6M1330.9 249.8L1327.4 257.1M1337.8 251.9L1334.2 258.3M1345.1 250.9L1341.8 256.3M1354.7 252.8L1351.3 257.0M1361.6 252.1L1358.3 255.7M1371.1 252.9L1367.7 255.5M1379.3 254.4L1375.7 256.2M1388.6 253.0L1385.1 253.8M1395.0 253.8L1391.5 254.0M1402.8 253.7L1399.4 252.9M1412.1 256.2L1408.6 254.5M1419.6 254.8L1416.2 252.2M1428.4 255.4L1425.2 252.0M1435.1 255.2L1432.0 251.2M1445.4 255.8L1442.2 250.6M1453.1 256.9L1449.7 250.7M1461.6 257.6L1458.1 250.3M1468.5 257.3L1465.0 249.1M1326.3 257.7L1321.9 265.5M1333.2 257.8L1328.9 264.8M1343.5 259.6L1339.2 265.2M1350.1 258.1L1346.2 262.8M1358.2 258.5L1354.5 262.2M1366.4 260.8L1362.6 263.7M1376.1 260.2L1372.4 262.1M1383.5 261.1L1379.8 262.3M1392.0 261.5L1388.4 261.9M1400.3 261.7L1396.7 261.3M1407.1 262.3L1403.4 261.3M1416.5 261.5L1412.9 259.5M1423.6 263.0L1419.9 260.3M1432.3 263.8L1428.5 260.3M1440.2 263.9L1436.3 259.5M1449.2 263.1L1445.2 257.5M1456.7 264.1L1452.5 257.5M1464.9 263.9L1460.7 256.2M1338.9 266.6L1333.9 272.7M1346.9 265.6L1342.2 270.7M1354.6 267.5L1350.1 271.5M1363.1 266.6L1358.9 269.7M1370.3 266.4L1366.3 268.7M1379.1 267.5L1375.3 269.0M1388.2 267.2L1384.5 267.8M1395.6 267.5L1391.9 267.5M1403.3 268.7L1399.6 268.1M1413.0 268.3L1409.2 266.9M1419.6 269.9L1415.6 268.0M1428.7 268.9L1424.6 266.0M1437.4 271.4L1432.9 267.5M1445.8 272.0L1441.0 267.0M1454.0 270.9L1449.1 264.8M1462.4 272.0L1457.3 264.8M1342.1 273.0L1336.6 278.6M1350.2 272.8L1345.0 277.3M1359.8 273.6L1355.0 276.9M1368.0 274.9L1363.6 277.2M1375.7 273.9L1371.6 275.5M1383.3 276.0L1379.5 276.9M1391.9 274.4L1388.3 274.6M1399.8 275.6L1396.1 275.4M1408.0 275.8L1404.2 274.9M1417.1 276.5L1413.0 274.9M1425.5 277.9L1421.1 275.5M1433.9 277.9L1429.1 274.5M1440.1 276.4L1435.1 272.2M1448.8 278.1L1443.4 272.8M1457.3 277.7L1451.8 271.3M1346.8 280.3L1341.0 285.1M1355.2 281.2L1349.8 284.9M1363.5 280.2L1358.6 283.0M1372.2 282.1L1367.8 283.9M1378.6 282.0L1374.5 283.2M1388.5 283.3L1384.7 283.8M1395.4 282.0L1391.8 282.1M1405.0 283.5L1401.2 283.0M1412.6 283.0L1408.6 281.9M1421.5 282.9L1417.0 281.0M1429.8 284.8L1424.8 282.0M1437.4 284.1L1432.0 280.5M1446.1 284.7L1440.4 280.0M1360.2 288.3L1354.9 291.2M1368.6 289.8L1363.8 291.8M1374.8 288.2L1370.4 289.6M1383.9 289.1L1380.0 289.8M1391.0 290.7L1387.3 291.0M1400.0 289.4L1396.3 289.2M1408.2 290.3L1404.3 289.6M1417.2 290.3L1412.8 289.0M1424.8 290.0L1420.0 288.0M1434.1 292.3L1428.7 289.3M1440.4 292.2L1434.6 288.5M1370.7 295.7L1366.0 297.4M1379.2 297.5L1375.1 298.4M1387.3 296.9L1383.6 297.4M1396.7 296.8L1393.1 296.8M1403.4 297.3L1399.7 296.9M1413.0 296.9L1408.9 296.0M1421.2 297.7L1416.6 296.2M1477.9 244.0L1475.8 233.5M1476.2 252.2L1473.0 242.2M1473.6 260.1L1469.5 250.7M1470.1 267.6L1465.3 258.9M1465.8 274.5L1460.4 266.8M1460.7 281.0L1454.8 274.2M1454.8 286.8L1448.6 281.0M1448.1 291.9L1442.0 287.2M1440.9 296.3L1435.0 292.7M1433.1 300.0L1427.6 297.4M1424.8 302.9L1419.9 301.2M1416.2 305.1L1412.0 304.0M1407.5 306.4L1403.7 305.9M1398.7 306.9L1395.1 306.8M1390.1 306.5L1386.4 306.8M1381.6 305.2L1377.6 305.9M1373.3 303.0L1368.8 304.3M1365.3 299.8L1360.2 301.9M1357.6 295.8L1352.0 298.7M1350.2 290.9L1344.2 294.9M1343.3 285.2L1337.1 290.3M1336.8 278.9L1330.7 285.0M1330.8 271.9L1325.1 279.1M1325.5 264.4L1320.3 272.5M1320.8 256.5L1316.3 265.5M1316.9 248.2L1313.2 257.9M1313.8 239.7L1311.0 250.0M1311.5 231.0L1309.7 241.7M1310.0 222.2L1309.4 233.2M1309.5 213.5L1310.0 224.6M1309.8 204.9L1311.4 215.9M1311.0 196.5L1313.7 207.2M1313.1 188.4L1316.9 198.6M1316.1 180.7L1320.8 190.2M1320.0 173.4L1325.5 182.2M1324.6 166.6L1330.9 174.7M1330.0 160.4L1337.0 167.7M1336.0 154.8L1343.8 161.4M1342.6 149.9L1351.1 155.7M1349.7 145.8L1359.0 150.8M1357.2 142.4L1367.2 146.6M1365.2 140.0L1375.7 143.1M1373.4 138.4L1384.5 140.5M1381.9 137.8L1393.2 138.7M1390.6 138.0L1402.0 137.8M1399.3 139.2L1410.6 137.8M1408.0 141.2L1418.9 138.7M1416.6 144.0L1427.0 140.5M1425.0 147.7L1434.7 143.2M1433.0 152.1L1442.0 146.8M1440.6 157.3L1448.9 151.2M1447.7 163.2L1455.2 156.3M1454.1 169.8L1460.9 162.1M1459.9 176.9L1465.9 168.5M1465.0 184.5L1470.2 175.4M1469.3 192.6L1473.7 182.8M1472.9 201.0L1476.3 190.6M1475.6 209.5L1478.0 198.8M1477.5 218.2L1478.8 207.2M1478.6 227.0L1478.6 215.9M1478.7 235.6L1477.6 224.7" stroke="#000" stroke-width="1.05" fill="none"/><path d="M1372.8 151.5l-4.5 0.3l1.4 -3.6zM1381.7 150.1l-4.4 0.8l1.0 -3.7zM1389.7 147.9l-4.3 1.2l0.6 -3.8zM1397.4 147.0l-4.1 1.6l0.3 -3.8zM1406.6 145.8l-3.9 2.1l-0.2 -3.8zM1413.1 146.7l-3.6 2.4l-0.5 -3.7zM1421.6 144.9l-3.4 2.8l-0.9 -3.7zM1430.6 144.3l-3.1 3.2l-1.4 -3.6zM1359.7 158.4l-4.4 -0.4l2.0 -3.2zM1368.4 156.6l-4.3 0.0l1.6 -3.4zM1375.6 156.3l-4.2 0.4l1.3 -3.4zM1384.5 155.6l-4.0 0.8l0.9 -3.5zM1393.1 154.6l-3.8 1.3l0.4 -3.5zM1401.6 155.3l-3.5 1.7l-0.0 -3.4zM1408.2 152.9l-3.5 2.1l-0.3 -3.5zM1417.3 153.2l-3.1 2.5l-0.8 -3.4zM1424.6 151.0l-3.0 2.9l-1.2 -3.4zM1433.6 151.3l-2.7 3.3l-1.6 -3.3zM1442.8 150.8l-2.4 3.7l-2.0 -3.2zM1355.8 166.1l-4.1 -0.8l2.1 -2.9zM1363.6 164.4l-4.0 -0.4l1.8 -3.0zM1371.3 163.8l-3.9 0.0l1.4 -3.1zM1378.5 162.4l-3.8 0.4l1.1 -3.1zM1388.3 163.0l-3.5 0.9l0.6 -3.1zM1394.9 161.3l-3.4 1.3l0.3 -3.2zM1403.6 161.8l-3.1 1.7l-0.2 -3.1zM1410.9 161.5l-2.9 2.1l-0.6 -3.1zM1421.3 158.7l-2.7 2.6l-1.1 -3.1zM1428.9 158.2l-2.4 3.0l-1.4 -3.0zM1437.4 156.6l-2.2 3.4l-1.8 -3.0zM1445.0 157.0l-2.0 3.7l-2.1 -2.9zM1453.6 156.3l-1.7 4.0l-2.5 -2.8zM1343.1 173.6l-4.0 -1.5l2.7 -2.6zM1350.0 174.0l-3.9 -1.2l2.4 -2.6zM1357.8 173.6l-3.7 -0.8l2.0 -2.6zM1366.5 172.5l-3.6 -0.4l1.6 -2.7zM1373.3 170.3l-3.5 0.0l1.3 -2.8zM1381.3 171.0l-3.3 0.4l0.9 -2.8zM1391.8 168.1l-3.2 1.0l0.4 -2.9zM1399.4 169.1l-3.0 1.5l-0.0 -2.9zM1408.0 167.2l-2.7 1.9l-0.5 -2.9zM1415.7 166.4l-2.5 2.3l-0.9 -2.8zM1422.3 167.0l-2.2 2.6l-1.2 -2.7zM1430.4 166.1l-2.0 3.0l-1.6 -2.7zM1439.4 164.6l-1.8 3.4l-2.0 -2.6zM1449.4 162.9l-1.5 3.8l-2.4 -2.6zM1456.6 162.3l-1.3 4.1l-2.7 -2.6zM1336.6 181.0l-3.8 -2.0l3.0 -2.3zM1345.9 182.1l-3.6 -1.6l2.6 -2.2zM1352.4 179.3l-3.6 -1.2l2.3 -2.3zM1361.0 179.4l-3.4 -0.8l1.9 -2.4zM1370.4 179.4l-3.3 -0.3l1.5 -2.4zM1378.8 176.9l-3.2 0.2l1.1 -2.6zM1386.1 176.7l-3.1 0.6l0.7 -2.7zM1393.5 175.1l-3.0 1.1l0.3 -2.7zM1401.5 175.1l-2.7 1.5l-0.2 -2.7zM1409.5 173.8l-2.5 2.0l-0.6 -2.7zM1417.5 174.2l-2.1 2.4l-1.1 -2.6zM1426.8 172.4l-1.8 2.8l-1.5 -2.5zM1435.0 172.1l-1.5 3.1l-1.8 -2.4zM1443.5 172.5l-1.2 3.4l-2.2 -2.2zM1451.3 170.8l-1.1 3.8l-2.6 -2.3zM1459.2 170.5l-0.8 4.1l-2.9 -2.2zM1331.7 190.4l-3.6 -2.4l3.2 -1.9zM1339.3 188.3l-3.5 -2.0l2.9 -2.0zM1348.0 186.8l-3.3 -1.6l2.5 -2.0zM1357.0 185.8l-3.2 -1.1l2.1 -2.1zM1364.2 184.9l-3.2 -0.8l1.8 -2.2zM1373.6 184.8l-3.1 -0.3l1.4 -2.3zM1381.6 183.7l-3.0 0.2l1.0 -2.5zM1388.3 183.4l-2.9 0.6l0.6 -2.5zM1398.3 183.6l-2.6 1.3l-0.0 -2.5zM1405.4 182.9l-2.3 1.7l-0.5 -2.5zM1412.9 181.4l-2.0 2.2l-0.9 -2.4zM1421.5 180.4l-1.7 2.6l-1.4 -2.3zM1429.4 180.8l-1.3 2.9l-1.8 -2.1zM1437.8 180.2l-1.0 3.2l-2.1 -2.0zM1445.7 178.1l-0.9 3.5l-2.4 -2.0zM1454.9 177.6l-0.6 3.9l-2.8 -1.9zM1463.1 176.0l-0.4 4.2l-3.1 -1.9zM1326.8 196.6l-3.4 -2.8l3.4 -1.6zM1336.3 196.7l-3.2 -2.4l3.1 -1.6zM1343.3 194.9l-3.1 -2.0l2.7 -1.7zM1352.2 194.4l-3.0 -1.6l2.4 -1.7zM1360.8 194.4l-2.9 -1.2l2.1 -1.8zM1368.2 193.2l-2.9 -0.9l1.8 -2.0zM1376.7 191.6l-2.9 -0.3l1.4 -2.2zM1384.6 191.8l-2.8 0.2l0.9 -2.3zM1393.1 190.7l-2.6 0.9l0.3 -2.4zM1401.1 190.6l-2.3 1.5l-0.3 -2.3zM1410.1 187.8l-1.9 2.0l-0.9 -2.3zM1418.2 188.8l-1.5 2.5l-1.4 -2.1zM1426.4 186.7l-1.2 2.8l-1.8 -2.0zM1433.4 185.9l-0.9 3.0l-2.0 -1.9zM1440.8 185.8l-0.6 3.2l-2.3 -1.7zM1450.9 185.4l-0.3 3.6l-2.7 -1.6zM1458.8 184.5l-0.1 4.0l-3.1 -1.6zM1467.3 181.9l0.0 4.3l-3.4 -1.6zM1321.6 206.1l-3.0 -3.2l3.6 -1.2zM1330.5 204.7l-2.9 -2.8l3.3 -1.2zM1337.8 203.1l-2.8 -2.5l3.0 -1.3zM1347.4 200.9l-2.7 -2.0l2.6 -1.4zM1355.5 200.2l-2.7 -1.7l2.3 -1.5zM1363.0 200.2l-2.7 -1.4l2.1 -1.6zM1372.2 198.8l-2.7 -0.8l1.7 -1.8zM1379.3 199.7l-2.7 -0.4l1.4 -1.9zM1389.0 197.9l-2.5 0.4l0.7 -2.2zM1396.1 197.6l-2.3 1.0l0.1 -2.2zM1404.8 195.7l-1.9 1.7l-0.6 -2.2zM1413.8 194.5l-1.4 2.3l-1.3 -2.0zM1421.7 194.7l-0.9 2.7l-1.7 -1.8zM1429.4 194.2l-0.6 2.9l-2.1 -1.6zM1437.7 194.0l-0.3 3.1l-2.4 -1.4zM1446.4 191.8l-0.1 3.4l-2.6 -1.4zM1452.7 192.5l0.1 3.6l-2.9 -1.2zM1461.3 189.7l0.3 4.0l-3.2 -1.3zM1470.8 190.2l0.6 4.3l-3.6 -1.2zM1317.3 213.8l-2.7 -3.5l3.8 -0.8zM1326.5 211.9l-2.7 -3.2l3.5 -0.9zM1333.0 210.0l-2.6 -2.9l3.2 -1.0zM1340.9 210.6l-2.4 -2.6l2.9 -0.9zM1349.8 208.0l-2.4 -2.2l2.6 -1.1zM1359.0 207.4l-2.4 -1.8l2.4 -1.2zM1367.0 208.5l-2.4 -1.6l2.1 -1.3zM1376.3 206.0l-2.5 -0.9l1.7 -1.6zM1384.8 205.5l-2.5 -0.3l1.2 -1.8zM1392.2 204.4l-2.3 0.5l0.5 -2.0zM1401.5 203.1l-1.8 1.5l-0.5 -2.0zM1408.8 202.9l-1.2 2.1l-1.2 -1.8zM1416.9 200.9l-0.8 2.5l-1.7 -1.6zM1424.3 202.3l-0.2 2.8l-2.1 -1.3zM1432.7 199.7l-0.1 3.0l-2.3 -1.2zM1439.5 199.5l0.2 3.2l-2.5 -1.1zM1449.5 197.9l0.4 3.4l-2.8 -1.0zM1455.9 198.6l0.6 3.6l-3.1 -0.9zM1466.3 196.6l0.8 4.1l-3.5 -0.9zM1473.9 195.3l0.9 4.3l-3.7 -0.9zM1320.1 220.4l-2.3 -3.6l3.7 -0.5zM1329.7 217.2l-2.3 -3.2l3.4 -0.6zM1336.6 218.1l-2.1 -2.9l3.1 -0.5zM1345.4 215.8l-2.1 -2.6l2.8 -0.7zM1352.7 216.2l-2.0 -2.4l2.6 -0.7zM1362.2 215.9l-2.0 -2.1l2.4 -0.8zM1369.6 215.1l-2.0 -1.8l2.2 -0.9zM1379.6 214.5l-2.1 -1.3l1.8 -1.2zM1388.1 212.6l-2.3 -0.4l1.2 -1.7zM1394.9 212.0l-2.1 0.7l0.3 -2.0zM1402.8 209.2l-1.3 1.9l-1.0 -1.8zM1411.5 208.2l-0.5 2.4l-1.7 -1.3zM1419.4 209.2l0.1 2.6l-2.1 -0.9zM1426.9 208.5l0.4 2.8l-2.3 -0.8zM1437.1 206.0l0.5 3.0l-2.6 -0.8zM1443.8 207.0l0.8 3.2l-2.8 -0.6zM1452.8 205.1l0.9 3.4l-3.0 -0.6zM1461.2 204.2l1.1 3.8l-3.3 -0.6zM1467.9 203.7l1.2 4.0l-3.6 -0.5zM1316.7 225.7l-2.1 -3.8l3.7 -0.2zM1324.6 225.5l-2.0 -3.5l3.5 -0.2zM1333.2 223.7l-1.9 -3.2l3.2 -0.3zM1341.1 224.6l-1.7 -3.0l3.0 -0.2zM1348.0 222.1l-1.7 -2.7l2.8 -0.3zM1358.1 223.5l-1.5 -2.6l2.6 -0.2zM1364.6 223.1l-1.5 -2.4l2.4 -0.2zM1373.5 221.6l-1.5 -2.1l2.2 -0.4zM1382.2 220.6l-1.7 -1.7l2.0 -0.7zM1392.2 220.4l-2.1 -0.7l1.4 -1.4zM1400.3 216.9l-0.4 2.2l-1.6 -1.2zM1407.8 216.1l0.4 2.3l-2.0 -0.6zM1414.7 215.7l0.7 2.4l-2.2 -0.4zM1421.6 215.7l0.9 2.5l-2.4 -0.3zM1430.1 215.6l1.1 2.7l-2.5 -0.2zM1438.1 214.5l1.1 2.9l-2.7 -0.2zM1448.0 213.2l1.3 3.2l-3.0 -0.2zM1454.5 213.2l1.4 3.3l-3.2 -0.2zM1463.4 210.8l1.5 3.7l-3.5 -0.2zM1472.4 211.4l1.7 3.9l-3.7 -0.1zM1320.6 233.4l-1.6 -3.8l3.6 0.2zM1326.8 231.8l-1.6 -3.6l3.4 0.1zM1335.1 231.5l-1.4 -3.3l3.1 0.2zM1345.3 229.7l-1.3 -3.0l2.9 0.1zM1351.6 229.4l-1.2 -2.9l2.7 0.2zM1360.7 229.4l-1.0 -2.7l2.5 0.2zM1368.6 228.2l-1.0 -2.5l2.4 0.2zM1377.5 228.5l-0.7 -2.4l2.2 0.4zM1385.7 227.0l-0.5 -2.3l2.0 0.5zM1391.1 225.7l1.9 -1.4l0.4 2.0zM1401.7 223.7l1.8 1.5l-1.9 0.8zM1409.7 222.0l1.4 2.0l-2.2 0.3zM1418.2 223.2l1.6 2.2l-2.3 0.4zM1426.7 222.9l1.6 2.4l-2.5 0.3zM1434.6 220.8l1.5 2.7l-2.7 0.2zM1441.8 221.5l1.6 2.8l-2.8 0.2zM1451.5 220.2l1.7 3.1l-3.1 0.2zM1459.7 218.8l1.8 3.4l-3.3 0.2zM1468.0 218.4l2.0 3.6l-3.6 0.2zM1315.2 240.0l-1.4 -4.0l3.7 0.5zM1323.9 240.6l-1.1 -3.8l3.4 0.5zM1330.4 238.5l-1.1 -3.6l3.2 0.5zM1338.1 239.3l-0.9 -3.4l3.0 0.6zM1346.7 238.3l-0.7 -3.2l2.8 0.7zM1355.8 235.9l-0.6 -3.0l2.6 0.6zM1363.1 235.9l-0.4 -2.9l2.4 0.8zM1372.3 235.5l0.0 -2.7l2.1 1.1zM1378.5 236.3l0.6 -2.5l1.8 1.5zM1387.1 232.9l1.5 -1.9l0.9 2.0zM1396.3 232.0l2.5 -0.1l-0.9 2.0zM1404.0 229.6l2.3 1.1l-1.7 1.4zM1413.3 228.8l2.1 1.7l-2.1 1.0zM1422.1 229.8l2.1 2.0l-2.3 0.9zM1429.9 229.3l2.0 2.2l-2.5 0.8zM1438.6 228.0l2.0 2.5l-2.7 0.6zM1446.8 226.5l2.0 2.8l-2.9 0.5zM1454.6 227.2l2.2 3.0l-3.2 0.6zM1461.7 224.8l2.2 3.3l-3.4 0.5zM1471.5 225.7l2.4 3.5l-3.6 0.5zM1319.1 247.6l-0.9 -4.0l3.5 0.8zM1327.0 246.0l-0.8 -3.8l3.3 0.8zM1335.2 246.0l-0.5 -3.6l3.0 0.9zM1342.4 244.9l-0.4 -3.4l2.8 1.0zM1350.3 244.5l-0.2 -3.2l2.6 1.1zM1358.2 243.6l0.1 -3.0l2.4 1.2zM1367.7 243.4l0.5 -2.8l2.0 1.5zM1375.1 241.4l0.9 -2.6l1.7 1.7zM1383.3 241.5l1.7 -2.0l0.9 2.1zM1391.6 240.8l2.4 -1.1l-0.1 2.3zM1400.0 238.5l2.6 0.0l-1.0 2.1zM1408.3 236.5l2.6 0.9l-1.7 1.7zM1414.9 237.6l2.5 1.2l-2.0 1.5zM1424.8 237.3l2.5 1.7l-2.3 1.3zM1432.4 235.7l2.4 2.0l-2.5 1.1zM1441.8 235.2l2.4 2.3l-2.8 1.0zM1450.2 233.9l2.4 2.7l-3.0 0.9zM1458.3 234.1l2.6 2.9l-3.3 0.9zM1466.7 232.2l2.6 3.2l-3.5 0.8zM1321.9 254.2l-0.4 -4.0l3.3 1.2zM1329.4 253.3l-0.3 -3.8l3.1 1.2zM1337.9 252.7l-0.0 -3.6l2.8 1.3zM1346.3 251.1l0.1 -3.3l2.6 1.4zM1353.4 252.1l0.5 -3.1l2.3 1.6zM1362.6 249.5l0.7 -2.9l2.0 1.7zM1369.8 249.9l1.2 -2.7l1.7 1.9zM1377.5 249.7l1.7 -2.3l1.1 2.2zM1386.3 248.0l2.2 -1.6l0.4 2.3zM1394.9 245.6l2.6 -0.8l-0.4 2.3zM1403.8 246.2l2.8 0.0l-1.1 2.2zM1410.3 244.8l2.8 0.6l-1.5 2.0zM1419.8 243.4l2.7 1.2l-2.0 1.7zM1427.8 242.7l2.7 1.6l-2.3 1.5zM1436.7 242.4l2.7 1.9l-2.5 1.4zM1443.7 241.3l2.7 2.2l-2.7 1.3zM1451.9 241.4l2.8 2.5l-3.0 1.2zM1461.1 239.9l2.9 2.9l-3.3 1.2zM1326.2 259.7l-0.0 -4.0l3.1 1.5zM1332.9 260.7l0.2 -3.8l2.9 1.6zM1340.5 258.4l0.4 -3.5l2.6 1.6zM1349.8 258.9l0.7 -3.2l2.3 1.8zM1356.8 257.3l0.9 -3.0l2.0 1.9zM1366.0 256.8l1.3 -2.7l1.6 2.1zM1373.9 257.1l1.7 -2.3l1.2 2.3zM1383.1 254.3l2.2 -1.8l0.6 2.4zM1389.5 254.0l2.4 -1.3l0.1 2.4zM1397.4 252.5l2.7 -0.7l-0.5 2.4zM1406.8 253.6l2.9 0.0l-1.1 2.3zM1414.5 250.9l2.9 0.6l-1.6 2.1zM1423.7 250.4l2.9 1.1l-2.0 1.9zM1430.6 249.4l2.9 1.4l-2.2 1.7zM1440.9 248.5l2.9 1.9l-2.6 1.6zM1448.4 248.4l3.0 2.2l-2.8 1.6zM1456.8 247.7l3.1 2.5l-3.1 1.5zM1463.8 246.3l3.1 2.8l-3.3 1.4zM1320.4 268.1l0.3 -4.2l3.2 1.8zM1327.4 267.2l0.4 -4.0l3.0 1.8zM1337.6 267.4l0.7 -3.6l2.6 1.9zM1344.6 264.8l0.8 -3.4l2.3 1.9zM1352.8 263.9l1.1 -3.1l2.0 2.0zM1360.8 265.0l1.4 -2.8l1.6 2.2zM1370.5 263.0l1.8 -2.4l1.2 2.3zM1377.9 262.9l2.1 -2.0l0.8 2.4zM1386.4 262.1l2.4 -1.5l0.2 2.4zM1394.7 261.1l2.6 -0.9l-0.3 2.4zM1401.5 260.7l2.8 -0.5l-0.7 2.4zM1411.0 258.5l2.9 0.1l-1.2 2.3zM1418.1 259.1l3.0 0.5l-1.5 2.2zM1426.7 258.7l3.1 0.9l-1.9 2.1zM1434.7 257.6l3.2 1.3l-2.2 2.0zM1443.7 255.3l3.2 1.8l-2.6 1.9zM1451.0 255.1l3.3 2.1l-2.9 1.8zM1459.2 253.6l3.4 2.4l-3.1 1.7zM1332.1 274.9l0.9 -3.8l2.6 2.2zM1340.4 272.6l1.1 -3.5l2.4 2.2zM1348.2 273.1l1.3 -3.2l2.0 2.3zM1357.0 271.0l1.5 -2.9l1.7 2.3zM1364.4 269.8l1.7 -2.5l1.3 2.3zM1373.3 269.7l2.0 -2.1l0.9 2.4zM1382.5 268.1l2.3 -1.7l0.4 2.4zM1389.9 267.6l2.5 -1.3l0.0 2.5zM1397.6 267.8l2.7 -0.8l-0.4 2.4zM1407.2 266.1l2.9 -0.3l-0.9 2.4zM1413.7 267.0l3.0 0.0l-1.2 2.4zM1422.7 264.6l3.2 0.6l-1.6 2.3zM1431.0 265.9l3.3 0.9l-2.0 2.3zM1439.2 265.1l3.5 1.3l-2.3 2.2zM1447.4 262.6l3.5 1.7l-2.7 2.1zM1455.6 262.3l3.6 2.0l-2.9 2.1zM1334.6 280.6l1.2 -3.7l2.4 2.4zM1343.0 279.1l1.4 -3.4l2.1 2.4zM1353.0 278.3l1.7 -3.0l1.7 2.4zM1361.6 278.3l1.9 -2.6l1.3 2.5zM1369.6 276.3l2.0 -2.2l1.0 2.5zM1377.5 277.4l2.2 -1.8l0.6 2.5zM1386.3 274.8l2.4 -1.4l0.2 2.5zM1394.1 275.2l2.6 -1.1l-0.2 2.5zM1402.2 274.5l2.8 -0.7l-0.6 2.5zM1411.0 274.1l3.0 -0.2l-1.0 2.5zM1419.0 274.4l3.2 0.1l-1.3 2.5zM1427.1 273.1l3.4 0.5l-1.7 2.4zM1433.1 270.6l3.5 0.9l-2.0 2.4zM1441.4 270.9l3.6 1.2l-2.3 2.4zM1449.9 269.1l3.7 1.6l-2.7 2.3zM1338.9 286.9l1.6 -3.5l2.1 2.6zM1347.6 286.3l1.8 -3.1l1.8 2.6zM1356.5 284.2l1.9 -2.8l1.4 2.6zM1365.7 284.7l2.1 -2.3l1.0 2.5zM1372.5 283.8l2.2 -2.0l0.7 2.5zM1382.7 284.1l2.4 -1.6l0.3 2.5zM1389.8 282.1l2.5 -1.3l0.0 2.5zM1399.2 282.7l2.7 -0.9l-0.4 2.5zM1406.5 281.4l2.9 -0.6l-0.7 2.5zM1414.9 280.1l3.1 -0.2l-1.1 2.5zM1422.7 280.9l3.4 0.2l-1.4 2.6zM1429.9 279.1l3.5 0.5l-1.7 2.6zM1438.3 278.2l3.7 0.9l-2.1 2.6zM1352.7 292.4l2.0 -2.8l1.4 2.7zM1361.6 292.7l2.2 -2.4l1.1 2.6zM1368.3 290.3l2.2 -2.1l0.8 2.6zM1377.9 290.2l2.3 -1.7l0.5 2.5zM1385.3 291.1l2.4 -1.4l0.2 2.5zM1394.3 289.0l2.6 -1.1l-0.1 2.5zM1402.3 289.2l2.8 -0.8l-0.4 2.5zM1410.7 288.3l3.0 -0.5l-0.8 2.6zM1417.9 287.1l3.2 -0.2l-1.1 2.6zM1426.5 288.1l3.5 0.2l-1.5 2.7zM1432.4 287.1l3.7 0.4l-1.7 2.7zM1363.9 298.1l2.2 -2.3l0.9 2.6zM1373.0 298.9l2.3 -1.9l0.6 2.5zM1381.5 297.6l2.4 -1.5l0.3 2.5zM1391.1 296.8l2.5 -1.2l-0.0 2.5zM1397.6 296.7l2.6 -1.0l-0.2 2.5zM1406.8 295.5l2.9 -0.7l-0.6 2.5zM1414.5 295.4l3.1 -0.4l-0.9 2.6zM1475.1 230.2l2.8 3.7l-3.9 0.8zM1472.1 239.0l3.1 3.3l-3.8 1.2zM1468.3 247.7l3.4 3.0l-3.6 1.5zM1463.7 256.2l3.6 2.5l-3.3 1.9zM1458.6 264.3l3.8 2.1l-3.0 2.1zM1452.8 271.9l3.8 1.7l-2.7 2.4zM1446.5 279.0l3.9 1.2l-2.4 2.6zM1439.8 285.6l3.8 0.8l-2.0 2.7zM1432.7 291.4l3.7 0.4l-1.7 2.7zM1425.4 296.3l3.5 -0.0l-1.3 2.7zM1417.7 300.4l3.2 -0.4l-0.9 2.7zM1409.8 303.5l3.0 -0.6l-0.6 2.6zM1401.6 305.6l2.7 -0.9l-0.3 2.5zM1393.1 306.7l2.5 -1.1l-0.1 2.4zM1384.4 306.9l2.4 -1.4l0.2 2.5zM1375.5 306.3l2.4 -1.7l0.4 2.5zM1366.6 304.9l2.3 -2.1l0.7 2.6zM1358.0 302.8l2.2 -2.5l1.1 2.7zM1349.7 299.9l2.1 -2.9l1.4 2.7zM1342.0 296.4l1.9 -3.2l1.8 2.7zM1334.9 292.1l1.7 -3.6l2.2 2.6zM1328.7 287.1l1.3 -3.9l2.5 2.5zM1323.2 281.4l1.0 -4.1l2.9 2.3zM1318.6 275.2l0.5 -4.3l3.2 2.0zM1314.8 268.3l0.1 -4.4l3.4 1.7zM1312.0 261.0l-0.4 -4.5l3.6 1.4zM1310.2 253.2l-0.8 -4.5l3.8 1.0zM1309.2 245.0l-1.3 -4.4l3.9 0.6zM1309.2 236.6l-1.8 -4.3l4.0 0.2zM1310.1 228.0l-2.2 -4.1l4.0 -0.2zM1311.9 219.2l-2.6 -3.9l4.0 -0.6zM1314.6 210.4l-3.0 -3.6l3.9 -1.0zM1318.0 201.7l-3.3 -3.2l3.7 -1.4zM1322.3 193.2l-3.6 -2.8l3.5 -1.7zM1327.3 185.0l-3.8 -2.4l3.3 -2.1zM1332.9 177.3l-4.0 -2.0l3.1 -2.4zM1339.3 170.1l-4.2 -1.6l2.8 -2.7zM1346.3 163.5l-4.3 -1.1l2.5 -3.0zM1353.8 157.6l-4.5 -0.7l2.2 -3.2zM1361.9 152.3l-4.5 -0.2l1.9 -3.5zM1370.3 147.8l-4.6 0.2l1.5 -3.7zM1379.0 144.1l-4.6 0.7l1.1 -3.9zM1387.8 141.1l-4.6 1.2l0.8 -4.0zM1396.6 139.0l-4.4 1.7l0.3 -4.1zM1405.4 137.7l-4.2 2.1l-0.1 -4.1zM1414.0 137.4l-4.0 2.5l-0.5 -4.0zM1422.2 137.9l-3.7 2.9l-0.9 -3.9zM1430.2 139.4l-3.3 3.2l-1.3 -3.8zM1437.7 141.8l-2.9 3.5l-1.7 -3.6zM1444.8 145.1l-2.5 3.8l-2.0 -3.4zM1451.5 149.3l-2.1 4.0l-2.3 -3.1zM1457.6 154.2l-1.7 4.1l-2.6 -2.9zM1463.0 159.7l-1.2 4.3l-2.9 -2.6zM1467.8 165.9l-0.8 4.4l-3.2 -2.3zM1471.8 172.6l-0.3 4.5l-3.4 -1.9zM1475.0 179.8l0.1 4.6l-3.6 -1.6zM1477.3 187.4l0.6 4.6l-3.8 -1.2zM1478.7 195.5l1.1 4.5l-3.9 -0.8zM1479.1 203.8l1.5 4.4l-4.0 -0.4zM1478.7 212.5l2.0 4.2l-4.0 -0.0zM1477.3 221.3l2.4 4.0l-4.0 0.4z" fill="#000"/>
<g clip-path="url(#cc3)">
<circle cx="1394.1" cy="425.4" r="86.5" fill="#0000b5"/>
<path d="M1480.6 512.1L1307.4 511.9L1307.6 338.7L1480.8 338.9L1480.6 512.1ZM1393.1 432.9L1394.6 431.9L1394.9 429.9L1393.6 428.5L1391.6 428.3L1390.3 429.4L1390.2 431.4L1391.6 432.8L1393.1 432.9Z" fill="#0000ca" fill-rule="evenodd"/>
<path d="M1480.6 512.1L1307.4 511.9L1307.6 338.7L1480.8 338.9L1480.6 512.1ZM1393.2 436.9L1395.6 436.3L1397.9 434.4L1399.1 431.9L1399.1 429.4L1398.1 427.0L1396.4 425.4L1393.6 424.2L1391.1 424.1L1388.9 424.9L1387.1 426.5L1386.0 428.9L1385.9 431.4L1387.0 433.9L1388.6 435.6L1390.6 436.6L1393.2 436.9Z" fill="#0000df" fill-rule="evenodd"/>
<path d="M1480.6 512.1L1307.4 511.9L1307.6 338.7L1480.8 338.9L1480.6 512.1ZM1395.9 440.4L1399.7 438.4L1402.5 434.9L1403.5 430.9L1402.9 426.9L1400.6 423.1L1397.1 420.6L1393.1 419.4L1389.1 420.0L1385.6 421.9L1382.8 425.4L1381.7 429.4L1382.3 433.4L1384.2 436.9L1387.6 439.6L1391.6 440.8L1395.9 440.4Z" fill="#0000f4" fill-rule="evenodd"/>
<path d="M1480.6 512.1L1307.4 511.9L1307.6 338.7L1480.8 338.9L1480.6 512.1ZM1394.5 443.4L1397.1 442.8L1399.6 441.7L1403.5 438.4L1405.8 433.9L1406.3 431.4L1406.2 428.4L1405.6 425.9L1404.5 423.4L1401.1 419.5L1398.6 417.9L1396.1 416.9L1393.6 416.4L1391.1 416.4L1386.1 418.1L1384.1 419.4L1382.0 421.4L1379.6 425.9L1379.0 428.4L1379.0 431.4L1379.6 433.9L1380.7 436.4L1382.1 438.5L1384.1 440.5L1386.6 442.1L1389.1 443.0L1391.6 443.5L1394.5 443.4Z" fill="#000bff" fill-rule="evenodd"/>
<path d="M1480.6 512.1L1307.4 511.9L1307.6 338.7L1480.8 338.9L1480.6 512.1ZM1395.5 445.4L1398.6 444.6L1401.1 443.3L1403.6 441.5L1405.6 439.3L1407.1 436.8L1408.2 433.9L1408.6 430.9L1408.5 427.9L1407.8 424.9L1406.6 422.3L1404.6 419.5L1402.4 417.4L1399.6 415.5L1396.6 414.2L1394.1 413.7L1391.1 413.7L1388.1 414.4L1385.1 415.8L1382.2 417.9L1380.1 420.1L1378.3 422.9L1377.2 425.9L1376.8 428.9L1376.9 431.9L1377.6 434.9L1379.1 437.9L1380.9 440.4L1383.1 442.4L1386.1 444.2L1389.1 445.2L1392.1 445.6L1395.5 445.4Z" fill="#0020ff" fill-rule="evenodd"/>
<path d="M1480.6 512.1L1307.4 511.9L1307.6 338.7L1480.8 338.9L1480.6 512.1ZM1396.4 447.4L1399.6 446.5L1402.6 444.9L1405.3 442.9L1407.6 440.3L1409.3 437.4L1410.5 433.9L1410.9 430.9L1410.8 427.4L1409.9 423.9L1408.5 420.9L1406.4 417.9L1403.6 415.2L1400.3 412.9L1397.1 411.4L1394.1 410.8L1391.1 410.8L1387.6 411.8L1384.1 413.5L1381.1 415.6L1378.5 418.4L1376.5 421.4L1375.2 424.9L1374.6 428.4L1374.7 431.9L1375.5 435.4L1377.1 438.9L1379.4 441.9L1382.1 444.3L1385.6 446.2L1389.1 447.3L1392.6 447.7L1396.4 447.4Z" fill="#0035ff" fill-rule="evenodd"/>
<path d="M1480.6 512.1L1307.4 511.9L1307.6 338.7L1480.8 338.9L1480.6 512.1ZM1397.2 449.4L1400.6 448.4L1404.1 446.6L1407.1 444.2L1409.6 441.3L1411.5 437.9L1412.7 434.4L1413.2 430.9L1413.0 426.9L1412.0 422.9L1410.4 419.4L1408.1 416.2L1405.1 413.1L1401.6 410.4L1398.1 408.4L1395.1 407.5L1391.6 407.5L1387.6 408.6L1383.6 410.7L1379.6 413.7L1376.7 416.9L1374.5 420.4L1373.1 423.9L1372.4 427.9L1372.5 431.9L1373.4 435.9L1375.2 439.9L1377.9 443.4L1381.1 446.1L1385.1 448.3L1389.1 449.5L1393.1 449.9L1397.2 449.4Z" fill="#004aff" fill-rule="evenodd"/>
<path d="M1480.6 512.1L1307.4 511.9L1307.6 338.7L1480.8 338.9L1480.6 512.1ZM1396.4 451.9L1400.5 450.9L1404.1 449.3L1407.6 446.9L1410.6 443.9L1413.0 440.4L1414.7 436.4L1415.6 432.4L1415.7 427.9L1414.9 423.4L1413.3 419.4L1411.1 415.7L1408.1 412.1L1403.6 407.9L1399.6 405.2L1396.1 403.7L1392.6 403.3L1389.1 404.1L1384.6 406.4L1379.6 410.0L1375.6 414.1L1373.0 417.9L1371.2 421.9L1370.1 426.4L1370.0 430.9L1370.8 435.4L1372.6 439.9L1375.2 443.9L1378.6 447.2L1382.6 449.7L1387.1 451.4L1391.6 452.1L1396.4 451.9Z" fill="#0060ff" fill-rule="evenodd"/>
<path d="M1480.6 512.1L1307.4 511.9L1307.6 338.8L1480.7 338.9L1480.6 512.1ZM1395.2 454.4L1400.1 453.5L1404.6 451.7L1408.6 449.2L1412.1 445.9L1414.9 441.9L1416.8 437.9L1418.0 433.4L1418.3 428.4L1417.7 423.9L1416.2 419.4L1414.1 415.3L1410.9 410.9L1405.6 405.4L1400.6 401.1L1396.6 398.9L1393.1 398.4L1389.1 399.3L1385.1 401.7L1378.6 407.0L1373.9 411.9L1371.1 416.0L1369.0 420.4L1367.8 424.9L1367.5 429.9L1368.2 434.9L1369.9 439.9L1372.6 444.4L1376.1 448.1L1380.1 451.0L1385.1 453.2L1390.1 454.3L1395.2 454.4Z" fill="#0075ff" fill-rule="evenodd"/>
<path d="M1480.6 512.1L1307.4 511.9L1307.6 338.8L1480.7 338.9L1480.6 512.1ZM1397.9 456.4L1402.6 455.1L1407.3 452.9L1411.5 449.9L1414.8 446.4L1417.6 442.1L1419.6 437.4L1420.6 432.4L1420.7 427.4L1419.9 422.4L1418.4 417.9L1416.1 413.4L1412.6 408.5L1407.1 402.1L1400.6 395.8L1396.6 393.2L1393.1 392.5L1389.6 393.6L1384.6 397.2L1377.6 403.7L1371.3 410.9L1368.5 415.4L1366.4 420.4L1365.3 425.4L1365.1 430.9L1366.1 436.4L1368.3 441.9L1371.6 446.9L1375.8 450.9L1380.6 453.9L1386.1 455.9L1392.1 456.8L1397.9 456.4Z" fill="#008aff" fill-rule="evenodd"/>
<path d="M1480.6 512.1L1307.4 511.9L1307.6 338.8L1480.7 338.9L1480.6 512.1ZM1395.1 353.9L1396.6 351.8L1397.9 347.9L1398.0 345.9L1397.1 343.4L1397.2 341.9L1396.9 340.9L1395.6 339.7L1393.6 339.4L1392.1 340.0L1391.1 341.4L1391.1 343.4L1390.3 345.4L1390.2 347.4L1392.1 352.9L1393.6 354.2L1395.1 353.9ZM1396.9 458.9L1402.6 457.6L1407.6 455.5L1412.2 452.4L1416.1 448.6L1419.1 444.4L1421.6 439.1L1422.9 433.9L1423.3 428.4L1422.2 420.9L1419.1 413.4L1416.0 408.4L1407.5 397.4L1403.0 390.9L1401.6 385.9L1401.7 381.4L1399.8 375.9L1400.0 371.4L1398.1 367.4L1397.6 363.9L1395.6 361.9L1394.1 361.3L1392.6 361.8L1390.4 363.9L1389.9 367.4L1387.9 371.4L1388.0 375.9L1386.1 380.9L1386.1 385.4L1384.6 390.4L1380.5 395.9L1371.1 406.9L1367.0 412.9L1365.0 416.9L1363.6 421.2L1362.8 425.4L1362.6 429.4L1363.5 435.9L1365.6 441.9L1369.0 447.4L1373.4 451.9L1378.6 455.5L1384.6 457.9L1390.6 459.0L1396.9 458.9Z" fill="#009fff" fill-rule="evenodd"/>
<path d="M1480.6 512.1L1307.4 511.9L1307.6 338.8L1384.5 338.9L1383.9 347.4L1385.2 357.9L1383.3 364.9L1382.8 368.9L1381.7 372.4L1381.5 376.9L1379.9 382.4L1379.3 388.9L1377.3 393.9L1367.6 407.4L1363.6 414.4L1361.0 422.4L1360.5 426.4L1360.5 430.9L1361.5 436.9L1363.6 442.7L1366.7 447.9L1370.7 452.4L1375.6 456.2L1381.1 459.0L1387.1 460.7L1393.1 461.3L1399.1 460.7L1405.1 459.0L1410.3 456.4L1415.1 452.8L1419.1 448.4L1422.2 443.4L1424.4 437.9L1425.5 431.9L1425.2 423.9L1423.0 415.9L1419.6 409.3L1410.2 394.9L1408.3 389.9L1407.7 386.4L1407.7 382.9L1406.3 376.9L1406.3 372.9L1402.9 357.9L1404.3 347.4L1403.7 338.9L1480.7 338.9L1480.6 512.1Z" fill="#00b5ff" fill-rule="evenodd"/>
<path d="M1480.6 512.0L1307.5 511.9L1307.6 338.8L1380.1 338.9L1380.1 348.4L1380.9 358.9L1377.4 373.4L1376.8 378.4L1375.2 383.9L1374.5 389.4L1372.0 395.9L1364.2 407.9L1360.6 415.4L1359.4 419.4L1358.5 423.9L1358.2 428.4L1358.4 432.4L1359.6 438.4L1362.0 444.4L1365.4 449.9L1369.6 454.4L1374.6 458.1L1380.6 461.1L1386.6 462.8L1393.1 463.4L1399.6 462.8L1405.6 461.1L1411.1 458.5L1416.1 454.9L1420.5 450.4L1424.0 444.9L1426.4 438.9L1427.7 432.9L1427.9 428.9L1427.7 424.4L1425.8 416.4L1422.6 409.3L1415.0 396.4L1413.0 390.4L1412.4 384.4L1410.9 378.4L1410.6 373.9L1407.2 358.9L1408.1 348.4L1408.1 338.9L1480.7 338.9L1480.6 512.0Z" fill="#00caff" fill-rule="evenodd"/>
<path d="M1480.6 512.0L1307.5 511.9L1307.6 338.8L1376.6 338.9L1377.5 358.9L1377.2 360.9L1374.8 370.9L1373.5 374.9L1372.6 380.4L1370.5 386.4L1369.0 392.9L1366.6 398.4L1360.3 409.9L1357.7 416.9L1356.1 424.9L1356.3 433.4L1357.8 439.9L1360.2 445.9L1363.7 451.4L1368.5 456.4L1373.6 460.1L1379.6 463.0L1386.1 464.8L1393.1 465.5L1399.6 465.0L1406.1 463.3L1412.1 460.6L1417.6 456.7L1422.1 452.1L1425.6 446.9L1428.2 440.9L1429.8 434.4L1430.2 426.4L1428.9 418.4L1426.5 411.4L1420.4 399.4L1418.2 393.9L1416.9 386.9L1415.0 380.9L1414.4 375.4L1410.8 360.9L1410.6 359.4L1411.6 338.9L1480.7 338.9L1480.6 512.0Z" fill="#00dfff" fill-rule="evenodd"/>
<path d="M1480.6 512.0L1307.5 511.9L1307.6 338.8L1373.6 338.9L1374.1 341.4L1374.4 345.9L1374.5 360.4L1371.5 371.9L1369.9 376.4L1368.3 383.4L1365.9 388.9L1363.7 395.9L1357.6 409.4L1355.4 415.9L1353.8 425.4L1353.8 430.4L1354.2 434.9L1356.0 441.9L1358.6 448.0L1362.6 453.9L1367.1 458.5L1372.7 462.4L1379.1 465.3L1386.1 467.1L1393.1 467.7L1400.1 467.1L1407.1 465.4L1413.6 462.5L1419.1 458.7L1423.9 453.9L1427.6 448.4L1430.3 442.4L1432.0 435.4L1432.6 426.4L1431.1 416.9L1428.9 409.9L1423.2 396.4L1421.5 389.9L1419.4 384.4L1417.9 376.9L1416.4 372.4L1413.5 360.4L1413.8 345.9L1414.6 338.9L1480.7 338.9L1480.6 512.0Z" fill="#00f4ff" fill-rule="evenodd"/>
<path d="M1480.6 512.0L1307.5 511.9L1307.6 338.8L1370.7 338.9L1371.5 341.9L1371.9 346.4L1371.9 360.9L1364.6 384.4L1360.5 393.4L1355.1 407.5L1353.1 413.9L1351.8 419.9L1351.3 425.4L1351.3 430.9L1351.9 436.4L1353.9 443.9L1356.8 450.4L1360.6 455.9L1365.6 460.9L1371.6 464.9L1378.1 467.7L1385.6 469.5L1393.1 470.1L1400.6 469.6L1408.1 467.8L1414.6 465.1L1420.6 461.2L1425.6 456.4L1429.5 450.9L1432.5 444.4L1434.4 437.4L1435.1 431.9L1435.2 426.4L1434.7 420.9L1433.7 415.4L1432.0 409.4L1426.7 394.4L1423.0 385.4L1421.5 378.9L1419.7 373.9L1416.3 361.4L1416.4 346.4L1416.7 341.9L1417.5 338.9L1480.7 338.9L1480.6 512.0Z" fill="#0bfff4" fill-rule="evenodd"/>
<path d="M1480.6 512.0L1307.5 511.9L1307.6 338.8L1368.0 338.9L1369.0 342.4L1369.5 347.4L1369.3 361.9L1365.2 374.4L1362.6 380.4L1360.5 386.9L1354.1 400.9L1350.8 411.4L1349.4 418.4L1348.7 425.4L1348.8 431.9L1349.7 438.4L1351.7 445.9L1354.9 452.9L1359.1 458.7L1364.1 463.4L1370.1 467.2L1377.1 470.1L1385.1 471.9L1393.1 472.5L1401.1 472.0L1409.1 470.2L1416.3 467.4L1422.6 463.4L1427.5 458.9L1431.4 453.4L1434.6 446.9L1436.7 439.4L1437.7 432.9L1437.8 426.4L1437.3 419.9L1436.0 412.9L1433.1 402.4L1427.0 387.9L1418.9 362.4L1418.7 347.4L1419.2 342.4L1420.2 338.9L1480.7 338.9L1480.6 512.0Z" fill="#20ffdf" fill-rule="evenodd"/>
<path d="M1480.6 512.0L1307.5 511.9L1307.6 338.8L1365.3 338.9L1366.8 343.4L1367.3 347.9L1367.3 354.9L1366.7 362.9L1361.9 376.4L1358.6 383.4L1351.1 402.4L1348.1 411.4L1346.7 418.9L1346.2 424.9L1346.3 431.9L1347.1 438.9L1349.3 446.9L1352.6 453.9L1357.1 460.2L1362.6 465.4L1369.1 469.5L1376.6 472.5L1384.6 474.3L1393.6 474.9L1402.6 474.3L1410.1 472.6L1417.1 469.8L1423.6 465.9L1429.1 460.9L1433.3 455.4L1436.8 448.4L1439.2 440.9L1440.1 435.0L1440.5 427.4L1440.1 419.9L1439.0 413.4L1436.3 404.4L1430.9 390.4L1428.6 383.4L1425.9 376.9L1421.3 362.9L1420.8 354.9L1420.9 347.9L1421.4 343.4L1422.9 338.9L1480.7 338.9L1480.6 512.0Z" fill="#35ffca" fill-rule="evenodd"/>
<path d="M1480.6 512.0L1307.5 511.9L1307.6 338.8L1362.7 338.9L1364.5 343.9L1365.1 348.9L1365.1 355.9L1364.3 363.9L1358.6 378.4L1354.3 387.4L1348.7 402.4L1346.2 410.9L1344.8 418.9L1344.3 426.4L1344.6 433.9L1345.8 441.4L1348.2 449.4L1351.7 456.4L1356.1 462.2L1361.6 467.2L1368.1 471.2L1376.1 474.3L1384.6 476.1L1393.6 476.7L1402.6 476.1L1411.1 474.2L1418.6 471.3L1425.1 467.3L1430.6 462.4L1435.1 456.4L1438.6 449.4L1440.9 441.9L1442.1 434.9L1442.4 427.4L1442.0 419.9L1440.7 411.9L1438.3 403.4L1433.0 387.9L1429.1 378.9L1423.7 363.9L1423.0 355.9L1423.0 348.9L1423.7 343.9L1425.5 338.9L1480.7 338.9L1480.6 512.0Z" fill="#4affb5" fill-rule="evenodd"/>
<path d="M1480.6 512.0L1307.5 511.9L1307.6 338.8L1360.1 338.9L1362.4 344.9L1363.0 349.4L1362.9 356.9L1361.9 364.4L1360.0 369.9L1349.7 392.4L1346.4 402.4L1344.5 409.9L1343.0 418.4L1342.5 426.9L1342.9 435.4L1344.4 443.4L1346.9 451.4L1350.6 458.4L1355.1 464.2L1360.6 469.0L1367.6 473.1L1375.6 476.0L1384.6 477.9L1393.6 478.4L1402.6 477.8L1411.6 476.0L1419.6 473.0L1426.1 469.2L1431.6 464.5L1436.1 458.8L1439.7 451.9L1442.4 443.9L1443.8 435.9L1444.3 427.9L1443.9 419.4L1442.5 410.9L1440.6 403.1L1437.1 391.9L1432.5 381.4L1426.2 365.4L1425.2 356.9L1425.2 349.4L1425.8 344.9L1428.1 338.9L1480.7 338.9L1480.6 512.0Z" fill="#60ff9f" fill-rule="evenodd"/>
<path d="M1480.6 512.0L1307.5 511.9L1307.6 338.8L1357.4 338.9L1360.3 345.9L1360.9 350.4L1360.6 358.4L1359.1 366.9L1346.0 396.4L1344.7 399.9L1342.7 408.4L1341.2 417.9L1340.7 427.4L1341.3 436.9L1342.9 445.4L1345.6 453.4L1349.4 460.4L1354.1 466.3L1359.6 470.9L1366.6 474.8L1374.6 477.7L1383.6 479.5L1393.6 480.1L1403.1 479.5L1412.1 477.8L1420.1 475.0L1427.1 471.1L1432.8 466.4L1437.6 460.5L1441.2 453.9L1443.9 445.9L1445.5 437.4L1446.1 428.4L1445.8 419.4L1444.4 409.9L1441.6 398.1L1428.7 366.9L1427.5 358.9L1427.2 350.4L1427.9 345.9L1430.8 338.9L1480.7 338.9L1480.6 512.0Z" fill="#75ff8a" fill-rule="evenodd"/>
<path d="M1480.6 512.0L1307.5 511.9L1307.6 338.8L1354.7 338.9L1358.3 346.9L1358.9 351.4L1358.5 358.9L1356.6 368.4L1350.5 380.9L1345.2 393.4L1342.2 401.9L1340.2 409.9L1339.0 419.9L1338.8 429.4L1339.7 438.9L1341.4 447.4L1344.4 455.4L1348.6 462.4L1353.6 468.2L1359.6 473.0L1366.7 476.9L1374.1 479.4L1383.6 481.2L1393.6 481.8L1403.6 481.2L1412.6 479.6L1420.1 477.0L1427.1 473.3L1433.1 468.6L1438.2 462.9L1442.4 455.9L1445.3 448.4L1447.2 439.4L1448.0 429.9L1447.8 419.9L1446.5 409.4L1444.7 401.9L1441.8 393.4L1437.1 381.4L1431.2 368.4L1429.6 358.9L1429.3 351.4L1429.9 346.9L1433.5 338.9L1480.7 338.9L1480.6 512.0Z" fill="#8aff75" fill-rule="evenodd"/>
<path d="M1480.6 512.0L1307.5 511.9L1307.6 338.8L1351.9 338.9L1356.2 347.9L1356.8 352.4L1356.3 359.9L1354.0 369.9L1346.6 384.9L1342.5 395.4L1340.2 402.9L1338.4 410.4L1337.2 419.9L1337.0 429.4L1337.9 438.9L1339.8 447.4L1343.0 455.9L1347.1 462.9L1352.1 468.9L1358.3 473.9L1365.6 477.9L1374.1 481.0L1384.0 482.9L1393.6 483.5L1403.1 482.9L1412.6 481.1L1421.1 478.2L1428.6 474.1L1435.0 468.9L1440.1 462.9L1444.1 455.9L1447.1 447.9L1448.9 439.9L1449.8 430.9L1449.8 421.4L1448.6 411.4L1446.5 401.9L1443.3 391.9L1440.7 384.9L1434.0 370.4L1431.8 359.9L1431.4 352.4L1432.0 347.9L1436.3 338.9L1480.7 338.9L1480.6 512.0Z" fill="#9fff60" fill-rule="evenodd"/>
<path d="M1480.6 512.0L1307.5 511.9L1307.6 338.8L1349.0 338.9L1354.2 348.9L1354.7 353.4L1354.1 360.9L1351.2 371.9L1343.4 387.9L1341.4 392.9L1338.7 401.4L1336.8 409.9L1335.7 419.9L1335.6 429.9L1336.7 439.9L1338.8 448.9L1341.9 456.9L1346.1 464.1L1351.5 470.4L1357.6 475.2L1365.1 479.3L1373.6 482.2L1383.1 484.1L1393.6 484.7L1403.6 484.1L1413.1 482.3L1421.6 479.5L1429.1 475.6L1435.2 470.9L1440.6 464.9L1444.8 457.9L1448.0 449.9L1450.2 440.9L1451.3 431.4L1451.3 421.4L1450.2 410.9L1448.5 402.4L1446.0 393.9L1444.3 388.9L1436.7 372.4L1434.0 360.9L1433.4 353.4L1434.0 348.9L1439.2 338.9L1480.7 338.9L1480.6 512.0Z" fill="#b5ff4a" fill-rule="evenodd"/>
<path d="M1480.6 512.0L1307.5 511.9L1307.6 338.8L1346.0 338.9L1352.1 349.9L1352.6 354.9L1351.7 362.9L1349.5 370.4L1348.2 374.4L1341.7 387.9L1338.4 395.9L1336.5 402.4L1335.1 409.9L1334.0 420.4L1334.2 430.9L1335.4 440.9L1337.8 450.4L1341.2 458.9L1345.5 465.9L1350.9 471.9L1357.1 476.7L1364.6 480.6L1373.6 483.6L1383.1 485.3L1393.6 486.0L1404.1 485.3L1413.6 483.6L1422.1 480.8L1429.8 476.9L1436.1 472.2L1441.4 466.4L1445.8 459.4L1449.1 451.4L1451.5 441.9L1452.7 431.9L1452.9 421.4L1452.0 410.9L1450.6 403.4L1448.7 395.9L1445.5 387.9L1439.7 374.9L1438.6 371.4L1436.3 362.9L1435.5 354.9L1436.1 349.9L1442.2 338.9L1480.7 338.9L1480.6 512.0Z" fill="#caff35" fill-rule="evenodd"/>
<path d="M1480.6 512.0L1307.5 511.9L1307.6 338.9L1342.8 338.9L1349.9 350.9L1350.5 355.9L1349.1 364.9L1344.9 377.4L1339.4 389.4L1336.1 397.9L1333.6 407.3L1332.7 414.9L1332.5 427.9L1333.9 440.9L1336.9 452.4L1341.1 461.9L1345.1 467.7L1349.9 472.9L1355.1 477.1L1361.1 480.6L1368.1 483.4L1376.1 485.5L1384.6 486.7L1393.6 487.2L1402.1 486.8L1410.6 485.6L1418.6 483.6L1425.6 480.9L1431.6 477.5L1436.9 473.4L1441.6 468.5L1445.6 462.9L1448.0 458.4L1450.0 453.4L1452.9 442.4L1454.4 429.9L1454.4 416.4L1453.1 405.9L1451.3 398.9L1448.1 389.9L1442.7 377.4L1438.8 364.9L1437.7 355.9L1438.3 350.9L1445.4 338.9L1480.6 338.9L1480.6 512.0Z" fill="#dfff20" fill-rule="evenodd"/>
<path d="M1480.6 512.0L1307.5 511.9L1307.6 338.9L1339.4 338.9L1347.9 352.4L1348.3 357.4L1346.7 366.4L1341.5 380.9L1337.1 390.8L1334.3 398.4L1332.1 407.4L1330.8 416.9L1330.9 428.9L1332.7 442.4L1335.6 452.9L1340.1 462.4L1344.1 468.4L1349.1 473.8L1354.6 478.1L1361.1 481.9L1368.6 484.9L1375.6 486.7L1384.6 488.0L1393.6 488.4L1402.6 488.0L1411.6 486.7L1418.6 485.0L1426.1 482.0L1432.6 478.3L1438.2 473.9L1443.1 468.6L1447.1 462.8L1451.5 453.4L1454.4 442.9L1456.0 430.4L1456.2 417.4L1455.1 407.9L1452.9 398.9L1450.2 390.9L1446.1 381.0L1441.2 366.4L1439.8 357.4L1440.3 352.4L1448.8 338.9L1480.6 338.9L1480.6 512.0Z" fill="#f4ff0b" fill-rule="evenodd"/>
<path d="M1480.6 512.0L1307.5 511.9L1307.6 338.9L1335.8 338.9L1345.7 353.9L1346.1 358.9L1344.1 368.4L1332.7 398.4L1330.5 407.4L1329.4 416.4L1329.5 428.9L1331.4 441.9L1334.6 453.4L1339.0 462.9L1343.1 469.0L1348.0 474.4L1353.7 478.9L1360.1 482.6L1367.6 485.7L1375.6 487.9L1385.1 489.3L1393.6 489.7L1402.1 489.3L1411.6 487.9L1419.6 485.8L1427.1 482.8L1433.6 479.0L1439.1 474.7L1444.0 469.4L1448.1 463.4L1452.6 453.9L1455.8 442.4L1457.5 429.9L1457.7 417.4L1456.7 408.4L1454.7 399.4L1443.9 368.4L1442.1 358.9L1442.4 353.9L1452.4 338.9L1480.6 338.9L1480.6 512.0Z" fill="#fff400" fill-rule="evenodd"/>
<path d="M1480.6 512.0L1307.5 511.9L1307.6 338.9L1331.8 338.9L1343.6 355.4L1343.7 360.9L1342.0 367.9L1340.9 371.9L1334.2 388.9L1330.8 399.4L1328.9 407.4L1328.0 415.9L1328.2 428.4L1330.2 441.9L1333.4 453.4L1337.9 463.4L1342.1 469.7L1346.8 474.9L1352.6 479.6L1359.1 483.4L1366.6 486.5L1375.1 488.8L1384.1 490.2L1393.6 490.7L1403.1 490.2L1412.0 488.9L1420.1 486.8L1427.6 483.8L1434.4 479.9L1440.1 475.4L1445.1 470.0L1449.2 463.9L1453.6 454.4L1456.9 442.9L1458.8 429.9L1459.2 416.9L1458.4 408.4L1456.6 399.9L1453.2 388.9L1447.0 371.9L1446.1 368.5L1444.4 360.9L1444.6 355.4L1456.4 338.9L1480.6 338.9L1480.6 512.0Z" fill="#ffdf00" fill-rule="evenodd"/>
<path d="M1480.6 512.0L1307.5 511.9L1307.6 338.9L1327.5 338.9L1341.3 356.9L1341.3 362.4L1339.1 370.4L1337.7 374.9L1331.6 390.4L1328.8 399.4L1327.3 406.9L1326.4 415.9L1326.9 428.4L1328.9 441.9L1332.3 453.9L1336.9 463.9L1341.1 470.3L1346.1 475.8L1351.8 480.4L1358.6 484.4L1366.1 487.5L1374.6 489.8L1384.1 491.2L1393.6 491.7L1403.1 491.2L1412.6 489.8L1421.1 487.6L1428.6 484.6L1435.1 480.9L1441.1 476.1L1446.1 470.7L1450.4 464.4L1454.9 454.4L1458.2 442.9L1460.3 429.4L1460.8 416.4L1460.1 408.9L1458.4 399.4L1455.9 390.4L1450.1 374.9L1448.8 370.4L1446.9 362.9L1446.9 356.9L1460.7 338.9L1480.6 338.9L1480.6 512.0Z" fill="#ffca00" fill-rule="evenodd"/>
<path d="M1480.6 511.9L1307.6 511.9L1307.6 338.9L1322.7 338.9L1339.1 358.9L1338.7 364.9L1334.5 377.9L1329.5 390.4L1326.8 398.9L1325.3 405.9L1324.7 412.4L1325.3 426.9L1327.5 440.9L1331.1 453.9L1335.8 464.4L1340.1 471.1L1345.1 476.7L1351.0 481.4L1358.1 485.4L1366.1 488.6L1374.6 490.8L1384.1 492.2L1393.6 492.7L1403.6 492.2L1413.1 490.8L1421.6 488.6L1429.5 485.4L1436.6 481.4L1442.3 476.9L1447.3 471.4L1451.5 464.9L1456.2 454.4L1459.8 441.4L1461.9 426.9L1462.5 412.4L1462.0 405.9L1460.6 398.9L1458.1 390.6L1453.6 378.9L1449.5 365.4L1449.1 358.9L1465.5 338.9L1480.6 338.9L1480.6 511.9Z" fill="#ffb500" fill-rule="evenodd"/>
<path d="M1480.6 511.9L1307.6 511.9L1307.6 338.9L1317.4 338.9L1336.7 360.9L1336.0 367.4L1326.8 392.4L1324.6 399.4L1323.2 406.4L1322.6 413.4L1323.6 425.9L1326.9 443.9L1330.6 456.4L1335.0 465.9L1339.1 472.2L1344.1 477.7L1350.0 482.4L1356.6 486.2L1364.6 489.3L1374.1 491.8L1383.6 493.2L1393.6 493.7L1403.6 493.2L1413.1 491.8L1422.1 489.6L1430.6 486.4L1437.1 482.8L1443.1 478.1L1448.1 472.8L1452.4 466.4L1456.9 456.4L1460.7 442.9L1463.9 424.9L1464.7 412.9L1464.3 406.4L1462.9 399.4L1452.1 367.4L1451.5 360.9L1470.8 338.9L1480.6 338.9L1480.6 511.9Z" fill="#ff9f00" fill-rule="evenodd"/>
<path d="M1480.6 511.9L1307.6 511.9L1307.6 338.9L1311.4 338.9L1334.3 362.9L1334.1 365.9L1333.1 370.4L1325.8 389.4L1322.8 398.9L1321.2 406.4L1320.7 413.9L1321.7 425.9L1325.4 443.9L1329.1 456.4L1333.6 466.4L1337.9 472.9L1343.1 478.7L1349.1 483.5L1356.0 487.4L1364.1 490.5L1373.6 492.8L1383.6 494.2L1393.6 494.7L1404.1 494.2L1414.1 492.7L1423.6 490.5L1431.6 487.4L1438.6 483.5L1444.4 478.9L1449.5 473.4L1453.8 466.9L1458.1 457.4L1461.8 444.9L1465.8 425.4L1466.9 413.4L1466.4 406.4L1464.9 398.9L1462.1 389.8L1455.1 370.4L1454.0 365.9L1453.9 362.9L1476.8 338.9L1480.6 338.9L1480.6 511.9Z" fill="#ff8a00" fill-rule="evenodd"/>
<path d="M1480.6 511.9L1307.6 511.9L1307.6 341.8L1331.9 365.4L1331.6 368.4L1330.3 372.9L1324.6 387.0L1320.8 398.4L1319.2 406.4L1318.8 413.9L1319.1 419.9L1319.9 425.9L1323.7 443.4L1327.6 456.4L1332.3 466.9L1336.9 473.9L1342.1 479.7L1348.1 484.5L1355.1 488.4L1363.1 491.6L1372.1 493.8L1382.1 495.1L1393.6 495.7L1405.1 495.2L1415.1 493.9L1424.1 491.7L1432.1 488.7L1439.1 484.8L1445.4 479.9L1450.6 474.3L1455.1 467.5L1459.7 457.4L1463.6 444.4L1467.7 425.4L1468.6 419.1L1468.9 413.4L1468.5 405.9L1467.0 398.4L1463.6 387.9L1457.8 372.9L1456.6 368.4L1456.3 365.4L1480.6 341.8L1480.6 511.9Z" fill="#ff7500" fill-rule="evenodd"/>
<path d="M1480.6 511.9L1307.6 511.9L1307.6 348.5L1329.1 367.6L1329.5 368.4L1328.0 374.4L1321.6 389.7L1319.1 397.4L1317.4 405.9L1316.9 414.4L1317.3 419.9L1318.6 427.9L1322.7 445.4L1326.8 458.4L1331.6 468.5L1336.3 475.4L1341.6 481.1L1347.8 485.9L1355.1 489.9L1363.1 492.9L1372.1 495.1L1382.6 496.4L1393.6 496.9L1404.6 496.5L1415.1 495.2L1424.6 492.9L1432.6 489.9L1440.0 485.9L1446.1 481.2L1451.5 475.4L1455.9 468.9L1460.5 459.4L1464.5 446.9L1469.1 427.9L1470.5 419.9L1470.9 414.4L1470.5 405.9L1468.8 397.4L1466.1 388.9L1460.0 373.9L1458.7 368.4L1459.1 367.6L1480.6 348.5L1480.6 511.9Z" fill="#ff6000" fill-rule="evenodd"/>
<path d="M1480.6 511.9L1307.6 511.9L1307.6 355.2L1326.9 370.9L1326.8 372.9L1325.9 375.9L1319.1 393.2L1316.6 401.2L1315.1 409.4L1315.1 415.4L1316.6 427.1L1321.9 447.9L1326.3 460.9L1331.2 470.9L1335.8 477.4L1341.2 482.9L1347.4 487.4L1354.6 491.2L1363.1 494.3L1372.1 496.4L1382.6 497.7L1394.1 498.1L1405.1 497.7L1415.6 496.4L1424.6 494.3L1433.1 491.2L1440.5 487.4L1446.6 482.9L1452.0 477.4L1456.3 471.4L1461.2 461.4L1465.5 448.9L1471.2 426.9L1472.8 415.4L1472.6 407.0L1471.1 399.8L1468.6 392.1L1462.4 376.4L1461.4 372.9L1461.3 370.9L1480.6 355.2L1480.6 511.9Z" fill="#ff4a00" fill-rule="evenodd"/>
<path d="M1480.6 511.9L1307.6 511.9L1307.6 361.7L1324.2 373.9L1324.4 374.4L1323.6 378.4L1318.1 393.4L1315.5 402.4L1313.9 410.9L1313.6 419.2L1315.8 431.4L1321.7 452.4L1325.8 463.9L1330.5 472.9L1335.1 479.1L1340.6 484.5L1347.1 489.1L1354.1 492.6L1363.1 495.6L1372.6 497.7L1383.1 498.9L1394.1 499.3L1405.1 498.9L1415.6 497.6L1426.1 495.3L1434.1 492.5L1441.2 488.9L1447.5 484.4L1453.0 478.9L1457.4 472.9L1462.0 463.9L1466.0 452.9L1472.2 430.9L1473.7 423.9L1474.4 418.4L1474.1 410.4L1472.7 402.4L1470.1 393.6L1464.6 378.4L1463.8 374.4L1480.6 361.7L1480.6 511.9Z" fill="#ff3500" fill-rule="evenodd"/>
<path d="M1480.6 511.9L1307.6 511.9L1307.6 368.1L1321.9 377.9L1321.3 381.4L1316.6 395.5L1314.1 405.4L1312.8 415.4L1312.9 424.4L1314.6 433.9L1320.9 455.4L1324.9 465.9L1329.6 474.5L1334.5 480.9L1340.1 486.2L1346.6 490.7L1353.6 494.1L1361.6 496.8L1371.1 498.8L1382.1 500.1L1394.1 500.6L1406.1 500.1L1417.1 498.7L1426.1 496.9L1434.1 494.2L1441.1 490.9L1447.7 486.4L1453.5 480.9L1458.1 474.9L1462.6 466.9L1466.5 456.9L1473.2 434.4L1474.6 428.6L1475.2 424.4L1475.3 414.9L1474.1 405.6L1471.6 395.6L1466.9 381.4L1466.3 377.9L1480.6 368.1L1480.6 511.9Z" fill="#ff2000" fill-rule="evenodd"/>
<path d="M1480.6 511.9L1307.6 511.9L1307.6 374.6L1319.2 381.4L1319.5 381.9L1318.9 385.4L1314.6 400.1L1312.8 408.9L1312.0 418.4L1312.5 428.9L1314.6 440.1L1320.1 458.1L1324.4 468.4L1330.2 478.9L1334.6 484.3L1339.6 488.5L1348.1 493.4L1355.1 496.4L1363.1 498.8L1372.1 500.4L1381.6 501.4L1394.1 501.8L1406.6 501.3L1416.1 500.4L1425.1 498.7L1432.9 496.4L1439.9 493.4L1448.6 488.4L1453.6 484.2L1457.9 478.9L1463.6 468.5L1467.6 458.9L1473.6 439.3L1475.6 428.9L1476.1 418.9L1475.3 408.9L1473.6 400.2L1469.2 384.9L1468.7 381.9L1469.0 381.4L1480.6 374.6L1480.6 511.9Z" fill="#ff0b00" fill-rule="evenodd"/>
<path d="M1307.6 500.3L1307.6 381.0L1317.1 385.9L1316.6 389.4L1313.2 403.4L1311.9 411.4L1311.3 420.9L1311.9 430.4L1314.1 442.7L1317.6 454.9L1323.5 472.4L1325.9 477.4L1328.6 481.9L1307.6 500.3ZM1480.6 500.3L1459.6 481.9L1463.5 474.9L1467.1 465.4L1473.6 444.2L1476.3 430.4L1476.9 420.9L1476.3 411.4L1475.0 403.4L1471.6 389.4L1471.1 385.9L1480.6 381.0L1480.6 500.3ZM1468.6 511.9L1319.2 511.9L1337.4 490.9L1342.6 493.9L1347.6 496.0L1364.1 500.6L1377.6 502.5L1394.1 503.2L1410.6 502.5L1424.1 500.5L1440.6 496.0L1445.6 493.9L1450.6 490.9L1469.0 511.9L1468.6 511.9Z" fill="#f40000" fill-rule="evenodd"/>
<path d="M1308.1 476.0L1307.6 476.3L1307.6 387.6L1314.6 390.7L1314.8 391.4L1311.3 411.4L1310.7 419.4L1310.8 426.9L1312.6 440.6L1319.4 468.9L1319.4 469.4L1308.1 476.0ZM1480.6 476.3L1468.8 469.4L1468.8 468.9L1475.6 440.3L1477.4 426.9L1477.5 419.4L1476.9 411.4L1473.4 391.4L1473.6 390.7L1480.6 387.6L1480.6 476.3ZM1444.6 511.9L1343.2 511.9L1350.1 500.1L1375.1 503.8L1394.1 504.7L1413.1 503.8L1438.1 500.1L1445.0 511.9L1444.6 511.9Z" fill="#df0000" fill-rule="evenodd"/>
<path d="M1308.1 463.5L1307.6 463.8L1307.6 394.6L1312.6 396.4L1310.4 413.9L1310.1 425.9L1311.2 437.9L1314.9 459.4L1314.6 460.7L1308.1 463.5ZM1480.6 463.8L1473.6 460.7L1473.3 459.9L1477.1 437.4L1478.1 425.9L1477.8 413.9L1475.6 396.4L1480.6 394.6L1480.6 463.8ZM1432.1 511.9L1355.7 511.9L1358.8 504.9L1359.6 504.6L1394.1 506.2L1428.1 504.6L1429.4 504.9L1432.5 511.9L1432.1 511.9Z" fill="#ca0000" fill-rule="evenodd"/>
<path d="M1307.6 452.9L1307.6 402.5L1310.1 403.1L1310.4 403.9L1309.4 417.4L1309.3 425.9L1309.8 434.4L1311.7 451.4L1307.6 452.9ZM1480.6 452.9L1476.5 451.4L1478.4 434.4L1478.9 425.9L1478.8 417.4L1477.8 403.9L1478.1 403.1L1480.6 402.5L1480.6 452.9ZM1421.6 511.9L1366.5 511.9L1367.8 507.9L1368.1 507.8L1385.6 507.6L1420.1 507.8L1420.4 507.9L1421.6 511.9Z" fill="#b50000" fill-rule="evenodd"/>
<path d="M1308.6 440.5L1307.6 440.7L1307.6 413.0L1308.3 413.4L1308.5 414.9L1308.4 426.4L1308.9 438.4L1308.6 440.5ZM1480.6 440.7L1479.6 440.5L1479.3 438.4L1479.8 425.9L1479.8 414.4L1480.1 413.0L1480.6 413.0L1480.6 440.7ZM1409.1 511.9L1378.6 511.9L1378.8 510.9L1380.1 510.6L1394.1 510.3L1408.1 510.6L1409.4 510.9L1409.6 511.9L1409.1 511.9Z" fill="#9f0000" fill-rule="evenodd"/>
</g>
<path d="M1368.4 350.5L1363.5 348.7M1375.6 350.5L1371.3 349.3M1383.7 349.7L1379.9 349.1M1390.8 350.9L1387.2 350.6M1400.4 350.2L1396.8 350.4M1409.1 349.1L1405.2 349.7M1417.3 348.7L1413.0 349.9M1426.0 349.4L1421.1 351.4M1355.9 359.0L1350.2 355.6M1363.6 357.8L1358.5 355.3M1371.4 357.2L1366.9 355.6M1379.4 357.9L1375.3 356.9M1388.2 357.2L1384.4 356.8M1394.5 357.4L1390.9 357.3M1403.2 357.6L1399.5 358.0M1412.0 356.5L1407.9 357.4M1421.6 356.1L1417.0 357.8M1428.7 355.7L1423.6 358.1M1437.4 354.7L1431.8 358.0M1351.2 366.2L1345.6 362.0M1359.9 364.9L1354.7 361.9M1366.6 365.6L1361.9 363.3M1375.2 365.6L1371.0 364.1M1383.1 364.1L1379.2 363.3M1392.6 363.9L1389.0 363.7M1398.9 363.8L1395.3 363.9M1407.7 363.4L1403.9 364.1M1416.5 364.7L1412.3 366.1M1423.9 363.1L1419.2 365.2M1433.5 363.8L1428.4 366.9M1442.7 361.5L1437.1 365.7M1449.9 362.9L1444.0 368.0M1339.4 373.9L1333.9 368.0M1346.7 374.5L1341.5 369.6M1355.1 374.1L1350.2 370.3M1363.3 372.1L1358.7 369.3M1371.1 373.5L1367.0 371.5M1379.5 373.3L1375.7 372.1M1386.3 371.5L1382.6 370.8M1396.3 372.0L1392.7 372.0M1404.0 371.6L1400.4 372.2M1413.1 371.3L1409.2 372.6M1420.6 370.7L1416.4 372.6M1429.2 369.7L1424.6 372.5M1437.6 369.9L1432.6 373.7M1446.1 369.1L1440.8 374.0M1452.6 368.9L1447.1 374.6M1333.7 380.9L1328.6 374.2M1343.7 381.0L1338.8 375.6M1350.3 380.6L1345.7 376.1M1359.3 379.5L1355.1 376.2M1367.0 380.3L1363.0 377.8M1375.8 378.4L1371.9 376.7M1384.1 379.0L1380.5 378.1M1391.4 379.0L1387.8 378.7M1399.2 379.5L1395.7 379.7M1407.3 378.3L1403.6 379.2M1415.4 378.1L1411.6 379.7M1425.4 378.3L1421.4 380.8M1431.9 377.3L1427.6 380.6M1442.0 375.8L1437.4 380.2M1449.1 376.5L1444.3 382.0M1458.2 375.4L1453.1 382.1M1329.4 388.4L1325.0 381.1M1337.1 389.7L1332.9 383.3M1347.6 387.5L1343.6 382.7M1354.1 387.1L1350.2 383.1M1363.0 387.4L1359.3 384.3M1371.8 386.3L1368.1 384.1M1380.1 386.5L1376.5 385.1M1388.2 386.9L1384.6 386.2M1396.6 385.8L1393.1 385.8M1404.1 385.6L1400.5 386.3M1411.3 385.1L1407.7 386.5M1421.2 385.5L1417.6 387.9M1427.3 384.7L1423.5 387.6M1436.3 383.0L1432.3 386.9M1444.0 384.1L1440.0 389.0M1454.3 382.8L1450.0 389.1M1461.1 382.4L1456.7 389.6M1326.1 397.3L1322.5 389.5M1334.2 396.7L1330.7 390.0M1342.2 395.0L1338.7 389.4M1349.4 396.5L1346.3 391.8M1357.3 395.4L1354.1 391.5M1367.7 393.8L1364.3 390.9M1373.9 393.9L1370.5 391.6M1382.8 393.6L1379.4 392.2M1391.3 394.3L1387.9 393.8M1398.7 393.8L1395.4 394.1M1406.8 393.4L1403.4 394.5M1415.6 392.4L1412.2 394.5M1423.0 391.3L1419.6 394.1M1432.7 391.3L1429.4 395.1M1441.2 389.8L1437.8 394.4M1448.4 390.5L1445.0 396.1M1455.8 390.6L1452.2 397.2M1465.0 388.7L1461.2 396.5M1321.8 404.2L1318.9 395.8M1330.4 404.0L1327.6 396.7M1337.2 402.7L1334.4 396.4M1344.9 402.1L1342.2 396.8M1354.3 402.8L1351.7 398.6M1361.8 401.6L1359.1 398.0M1371.3 402.7L1368.5 399.9M1378.0 400.2L1374.9 398.1M1387.9 400.6L1384.7 399.6M1395.3 400.4L1392.1 400.4M1404.3 398.5L1401.1 399.5M1412.8 400.0L1409.8 402.1M1419.7 398.5L1416.7 401.3M1427.4 398.4L1424.6 402.0M1435.4 398.0L1432.7 402.2M1445.2 397.5L1442.5 402.8M1453.3 396.2L1450.4 402.6M1461.6 395.6L1458.7 403.1M1468.1 396.7L1465.3 405.0M1323.9 410.0L1321.7 401.9M1334.2 411.1L1332.3 404.5M1341.1 409.3L1339.1 403.6M1350.4 410.3L1348.6 405.6M1358.2 409.4L1356.3 405.3M1366.1 410.2L1364.1 406.8M1374.6 407.6L1372.2 405.0M1381.8 408.5L1379.3 406.6M1391.8 407.9L1389.0 407.3M1400.0 406.3L1397.2 407.0M1407.2 405.7L1404.5 407.4M1415.2 405.2L1412.8 407.8M1424.4 404.5L1422.1 408.0M1430.9 405.6L1428.9 409.7M1439.6 404.4L1437.6 409.2M1449.1 405.2L1447.2 411.2M1455.6 403.1L1453.4 409.9M1464.4 403.6L1462.3 411.6M1472.2 403.3L1470.1 412.2M1319.5 417.4L1318.1 408.7M1327.7 417.1L1326.3 409.4M1337.6 417.1L1336.3 410.9M1345.1 416.9L1343.9 411.6M1352.7 415.6L1351.4 411.1M1360.8 417.3L1359.6 413.4M1369.5 415.9L1368.1 412.7M1377.6 416.4L1376.1 413.8M1387.2 414.9L1385.1 413.4M1395.2 414.1L1392.7 414.1M1403.3 413.6L1401.2 415.2M1411.2 413.9L1409.6 416.4M1420.2 411.5L1418.7 414.8M1427.0 411.2L1425.5 415.1M1435.0 412.7L1433.8 417.3M1443.9 411.8L1442.7 417.2M1450.7 412.0L1449.5 418.3M1460.2 410.2L1458.9 417.8M1468.9 409.2L1467.4 417.8M1315.0 425.0L1314.4 415.5M1324.2 425.9L1323.8 417.6M1332.7 423.7L1332.1 416.8M1340.0 424.9L1339.7 419.0M1348.5 423.2L1348.0 418.4M1355.9 423.2L1355.4 418.9M1366.4 422.3L1365.8 418.9M1373.6 424.1L1373.2 421.2M1382.4 422.3L1381.6 420.1M1391.0 421.4L1389.3 420.0M1398.8 420.1L1397.2 421.4M1407.2 420.9L1406.7 423.3M1415.2 419.5L1414.6 422.5M1423.3 420.7L1423.0 424.3M1430.5 419.3L1430.1 423.5M1438.3 418.0L1437.7 422.9M1447.8 417.5L1447.3 423.4M1455.7 417.2L1455.2 424.2M1464.0 418.2L1463.6 426.5M1472.9 416.8L1472.4 426.2M1318.8 432.4L1319.2 423.4M1326.9 431.7L1327.2 423.9M1336.6 432.7L1337.1 426.5M1345.5 430.2L1345.8 425.1M1352.2 431.8L1352.7 427.3M1360.7 430.3L1361.1 426.5M1369.5 431.2L1370.0 428.2M1376.2 430.1L1376.6 427.6M1384.3 429.1L1384.8 427.1M1392.6 428.2L1394.4 427.9M1402.2 427.0L1402.9 429.1M1409.0 427.4L1409.6 429.9M1417.6 425.8L1417.9 429.0M1427.5 425.7L1427.8 429.7M1433.6 426.2L1434.0 430.7M1441.5 426.7L1441.9 431.9M1450.0 424.4L1450.2 430.7M1460.2 424.9L1460.6 432.8M1468.3 425.3L1468.8 434.4M1315.6 439.2L1316.8 429.5M1322.2 440.6L1323.5 432.0M1331.1 439.7L1332.4 432.7M1339.9 439.3L1341.1 433.6M1348.3 439.3L1349.5 434.6M1356.1 438.7L1357.3 434.7M1365.1 437.7L1366.3 434.5M1372.5 437.0L1373.7 434.5M1380.9 436.1L1382.3 434.3M1388.3 436.6L1390.1 435.8M1396.1 434.7L1398.0 435.3M1404.0 435.5L1405.7 437.1M1414.3 435.0L1415.7 437.7M1422.2 434.1L1423.5 437.6M1428.9 434.5L1430.1 438.6M1438.1 433.7L1439.3 438.5M1445.5 433.5L1446.7 439.2M1453.7 433.5L1455.0 440.4M1463.3 431.8L1464.6 440.3M1471.4 430.6L1472.6 440.3M1318.1 447.0L1320.2 437.7M1326.1 445.5L1328.1 437.5M1334.9 447.2L1336.9 440.8M1344.1 445.3L1345.9 440.2M1351.1 444.2L1352.8 439.8M1359.7 445.1L1361.6 441.6M1368.8 444.3L1370.7 441.6M1376.9 444.7L1379.1 442.8M1385.0 443.1L1387.2 442.1M1392.3 442.1L1394.5 442.0M1400.8 441.1L1403.0 442.2M1408.8 440.9L1410.9 442.9M1417.2 440.6L1419.1 443.4M1424.3 440.8L1426.2 444.3M1433.6 440.7L1435.4 445.1M1441.1 440.3L1442.9 445.4M1449.7 438.8L1451.6 445.1M1458.1 439.6L1460.2 447.4M1466.0 439.2L1468.2 448.2M1322.8 454.0L1325.8 445.4M1331.1 452.4L1333.8 445.3M1338.7 452.0L1341.2 446.3M1347.9 452.8L1350.4 448.2M1355.0 452.9L1357.6 449.0M1362.8 450.5L1365.3 447.4M1371.4 451.7L1374.1 449.4M1380.9 450.8L1383.7 449.5M1387.1 450.6L1389.9 450.0M1395.0 450.6L1397.9 450.9M1404.0 448.3L1406.8 449.6M1411.8 449.6L1414.6 451.8M1422.0 447.6L1424.6 450.8M1430.4 448.8L1433.1 452.8M1437.1 446.6L1439.6 451.2M1444.9 447.1L1447.5 452.7M1453.2 445.9L1455.9 452.9M1461.4 447.0L1464.5 455.4M1469.0 446.6L1472.2 456.2M1326.3 460.9L1330.1 452.9M1334.2 459.8L1337.7 453.3M1341.9 459.7L1345.2 454.5M1351.8 460.1L1355.1 456.0M1359.0 460.0L1362.3 456.7M1368.5 458.0L1371.8 455.5M1374.5 458.9L1378.0 457.1M1384.7 457.9L1388.1 457.1M1392.9 457.0L1396.4 457.1M1400.1 455.7L1403.5 456.5M1407.9 457.3L1411.4 458.9M1415.6 454.9L1418.9 457.5M1423.7 455.4L1427.0 458.7M1433.3 455.1L1436.6 459.3M1442.1 455.0L1445.5 460.3M1449.7 454.3L1453.3 460.8M1457.6 452.4L1461.3 460.3M1464.7 453.3L1468.7 462.4M1321.2 467.8L1325.9 459.0M1329.1 468.2L1333.8 460.7M1338.9 466.2L1343.1 460.4M1346.1 465.8L1350.0 461.0M1355.1 465.7L1359.0 462.0M1363.9 465.2L1367.8 462.3M1371.5 465.7L1375.5 463.6M1380.3 465.5L1384.4 464.2M1388.5 464.7L1392.6 464.3M1394.5 463.7L1398.5 464.0M1404.4 463.2L1408.5 464.5M1412.5 462.2L1416.5 464.4M1420.7 462.5L1424.7 465.4M1429.7 461.3L1433.6 465.1M1436.4 462.6L1440.5 467.3M1444.7 461.4L1449.0 467.2M1452.7 459.9L1457.2 467.1M1460.7 461.2L1465.6 469.7M1334.0 475.5L1339.5 468.7M1341.0 475.2L1346.3 469.5M1351.3 472.8L1356.0 468.7M1359.2 471.9L1363.6 468.6M1367.6 472.4L1372.2 470.0M1375.5 473.0L1380.2 471.3M1381.9 472.8L1386.7 471.8M1390.3 470.7L1395.0 470.5M1399.4 470.4L1404.1 471.2M1408.1 469.8L1412.7 471.5M1416.2 470.8L1420.9 473.3M1425.3 469.5L1429.9 472.9M1431.8 469.5L1436.7 473.7M1440.7 469.8L1446.0 475.3M1448.8 468.1L1454.2 474.8M1456.2 468.3L1461.9 476.2M1338.3 480.5L1344.4 474.3M1344.6 481.6L1350.8 476.2M1354.2 481.1L1359.9 477.1M1363.3 480.0L1368.9 477.1M1371.2 479.9L1376.7 477.9M1378.7 479.2L1384.2 477.9M1388.0 478.3L1393.5 478.0M1394.9 478.3L1400.4 478.7M1403.6 476.9L1409.0 478.1M1411.9 476.4L1417.3 478.5M1419.4 477.0L1424.9 479.9M1428.0 476.8L1433.7 480.8M1436.2 475.0L1442.1 480.1M1443.6 476.2L1450.0 482.4M1340.6 488.0L1347.7 482.0M1349.2 487.5L1356.2 482.6M1357.6 487.3L1364.4 483.5M1364.8 488.0L1371.7 485.0M1375.2 486.7L1381.9 484.9M1381.2 487.2L1388.0 486.1M1390.2 485.4L1396.7 485.4M1398.0 486.3L1404.8 487.1M1407.4 484.3L1413.9 486.1M1414.8 484.2L1421.5 486.9M1422.9 484.3L1429.9 488.0M1432.5 482.3L1439.5 487.2M1440.3 483.7L1447.7 489.7M1346.0 494.5L1354.2 489.0M1352.6 494.5L1360.8 489.9M1361.1 494.1L1369.2 490.5M1370.3 493.2L1378.4 490.8M1378.8 493.2L1386.9 491.8M1386.9 492.6L1395.0 492.2M1392.9 493.5L1401.2 493.8M1401.3 492.8L1409.6 494.1M1411.3 490.9L1419.4 493.5M1418.1 491.4L1426.4 494.8M1427.6 491.5L1436.0 496.1M1357.6 500.8L1367.0 496.7M1364.9 501.4L1374.5 498.2M1373.5 499.8L1383.0 497.7M1381.4 500.7L1391.1 499.6M1389.0 499.1L1398.5 499.0M1397.9 498.4L1407.4 499.4M1405.3 497.9L1414.8 499.9M1413.4 497.9L1423.0 501.0M1473.4 445.6L1476.6 456.0M1469.9 454.0L1474.1 463.9M1465.7 462.1L1470.8 471.3M1460.7 469.8L1466.6 478.3M1455.0 477.0L1461.7 484.8M1448.6 483.7L1456.1 490.7M1441.7 489.7L1449.8 495.9M1434.2 494.9L1443.1 500.4M1426.2 499.5L1435.8 504.1M1417.9 503.3L1428.2 507.0M1409.3 506.3L1420.1 508.9M1400.6 508.4L1411.8 509.9M1391.9 509.7L1403.2 510.1M1383.2 510.1L1394.5 509.3M1374.6 509.5L1385.7 507.6M1366.3 508.1L1377.0 505.1M1358.4 505.8L1368.4 501.8M1350.8 502.6L1360.1 497.7M1343.6 498.6L1352.2 492.8M1336.9 493.8L1344.8 487.3M1330.8 488.3L1338.0 481.0M1325.4 482.1L1331.8 474.1M1320.6 475.4L1326.3 466.7M1316.7 468.2L1321.5 458.8M1313.5 460.5L1317.4 450.5M1311.3 452.5L1314.2 441.9M1309.9 444.1L1311.7 433.2M1309.4 435.6L1310.1 424.5M1309.9 426.8L1309.4 415.8M1311.2 418.1L1309.6 407.3M1313.4 409.4L1310.8 399.0M1316.4 400.8L1312.8 391.0M1320.2 392.5L1315.8 383.4M1324.8 384.5L1319.6 376.3M1330.0 377.0L1324.3 369.7M1335.9 369.9L1329.9 363.6M1342.3 363.5L1336.2 358.3M1349.2 357.7L1343.2 353.6M1356.5 352.7L1350.8 349.6M1364.2 348.5L1359.0 346.3M1372.1 345.2L1367.5 343.8M1380.3 342.8L1376.3 342.0M1388.8 341.4L1385.1 341.1M1397.5 340.9L1393.9 340.9M1406.2 341.3L1402.4 341.7M1415.0 342.5L1410.8 343.4M1423.6 344.5L1418.8 346.1M1431.9 347.3L1426.5 349.8M1439.8 350.9L1433.9 354.3M1447.1 355.2L1441.0 359.7M1453.8 360.2L1447.7 365.8M1459.8 365.9L1453.9 372.6M1465.1 372.3L1459.6 379.9M1469.5 379.2L1464.6 387.7M1473.1 386.6L1469.0 395.9M1475.9 394.4L1472.6 404.4M1477.7 402.6L1475.4 413.1M1478.6 411.0L1477.4 421.9M1478.6 419.6L1478.5 430.7M1477.8 428.3L1478.8 439.3M1476.0 437.0L1478.1 447.8" stroke="#000" stroke-width="1.05" fill="none"/><path d="M1361.3 347.9l3.2 -0.3l-1.0 2.7zM1369.2 348.7l3.0 -0.6l-0.7 2.6zM1377.8 348.8l2.8 -0.8l-0.4 2.5zM1385.2 350.5l2.6 -1.1l-0.2 2.5zM1394.7 350.5l2.4 -1.4l0.1 2.5zM1403.1 350.1l2.3 -1.7l0.4 2.5zM1410.8 350.5l2.3 -2.0l0.7 2.6zM1418.9 352.3l2.2 -2.4l1.0 2.7zM1348.0 354.3l3.6 0.3l-1.6 2.7zM1356.3 354.3l3.4 -0.0l-1.3 2.7zM1364.7 354.8l3.1 -0.3l-0.9 2.6zM1373.2 356.4l2.9 -0.6l-0.6 2.5zM1382.4 356.6l2.7 -0.9l-0.3 2.5zM1388.9 357.3l2.5 -1.2l-0.1 2.5zM1397.5 358.2l2.4 -1.5l0.3 2.5zM1405.9 357.9l2.3 -1.9l0.6 2.5zM1414.9 358.6l2.2 -2.3l1.0 2.6zM1421.4 359.1l2.1 -2.6l1.2 2.6zM1429.5 359.3l2.0 -3.0l1.6 2.7zM1343.4 360.4l3.6 0.7l-1.9 2.6zM1352.6 360.6l3.4 0.3l-1.5 2.6zM1359.8 362.3l3.3 0.0l-1.3 2.6zM1368.9 363.4l3.0 -0.4l-0.9 2.5zM1377.2 362.9l2.8 -0.7l-0.5 2.5zM1387.0 363.6l2.6 -1.1l-0.1 2.4zM1393.3 364.0l2.4 -1.3l0.1 2.4zM1401.8 364.4l2.3 -1.7l0.5 2.5zM1410.2 366.8l2.1 -2.1l0.8 2.5zM1417.1 366.2l2.1 -2.5l1.1 2.6zM1426.3 368.2l1.9 -2.9l1.6 2.6zM1434.9 367.3l1.7 -3.3l1.9 2.6zM1441.9 369.9l1.5 -3.6l2.2 2.5zM1331.9 365.9l3.7 1.4l-2.5 2.4zM1339.5 367.8l3.6 1.1l-2.2 2.4zM1348.2 368.7l3.4 0.7l-1.9 2.4zM1356.6 368.1l3.3 0.3l-1.5 2.5zM1365.0 370.5l3.1 -0.0l-1.2 2.4zM1373.7 371.5l2.9 -0.4l-0.8 2.4zM1380.6 370.5l2.7 -0.8l-0.4 2.4zM1390.8 372.0l2.5 -1.2l0.0 2.4zM1398.4 372.5l2.3 -1.6l0.4 2.4zM1407.2 373.2l2.1 -2.0l0.8 2.4zM1414.4 373.5l2.0 -2.4l1.1 2.4zM1422.6 373.7l1.8 -2.8l1.5 2.5zM1430.6 375.3l1.6 -3.1l1.9 2.4zM1438.8 375.9l1.4 -3.5l2.2 2.4zM1445.1 376.7l1.2 -3.7l2.5 2.4zM1326.8 371.8l3.6 1.9l-2.8 2.1zM1337.0 373.6l3.5 1.4l-2.4 2.2zM1343.9 374.3l3.4 1.1l-2.2 2.2zM1353.2 374.7l3.2 0.7l-1.8 2.3zM1361.1 376.7l3.1 0.3l-1.4 2.3zM1370.0 375.9l3.0 -0.2l-1.0 2.4zM1378.5 377.6l2.8 -0.6l-0.6 2.4zM1385.9 378.5l2.6 -1.0l-0.2 2.4zM1393.7 379.8l2.4 -1.4l0.2 2.4zM1401.7 379.7l2.2 -1.8l0.6 2.4zM1409.6 380.5l1.9 -2.2l1.0 2.4zM1419.5 382.0l1.6 -2.7l1.5 2.3zM1425.8 382.0l1.5 -2.9l1.7 2.3zM1435.5 382.0l1.2 -3.4l2.2 2.2zM1442.5 384.1l1.0 -3.6l2.5 2.2zM1451.3 384.4l0.8 -4.0l2.8 2.1zM1323.5 378.5l3.4 2.2l-3.0 1.8zM1331.4 381.0l3.3 2.0l-2.8 1.8zM1342.0 380.8l3.2 1.5l-2.4 2.0zM1348.5 381.3l3.1 1.2l-2.1 2.0zM1357.6 382.8l3.1 0.8l-1.8 2.1zM1366.3 383.0l3.0 0.3l-1.3 2.2zM1374.6 384.3l2.9 -0.2l-0.9 2.3zM1382.7 385.8l2.7 -0.7l-0.5 2.4zM1391.1 385.9l2.5 -1.2l0.0 2.4zM1398.6 386.7l2.2 -1.7l0.5 2.4zM1405.8 387.2l2.0 -2.1l0.9 2.3zM1415.8 389.1l1.5 -2.6l1.4 2.2zM1421.8 389.0l1.3 -2.8l1.7 2.1zM1430.6 388.6l1.1 -3.1l2.0 2.1zM1438.4 391.0l0.8 -3.4l2.4 1.9zM1448.4 391.4l0.6 -3.8l2.8 1.9zM1455.2 392.1l0.4 -4.0l3.0 1.8zM1321.3 386.8l3.1 2.6l-3.2 1.5zM1329.4 387.5l3.1 2.3l-3.0 1.5zM1337.4 387.2l3.0 1.9l-2.7 1.6zM1344.9 389.8l2.9 1.7l-2.4 1.6zM1352.6 389.7l2.9 1.3l-2.1 1.8zM1362.7 389.5l2.9 0.8l-1.7 2.0zM1368.8 390.5l2.9 0.4l-1.4 2.1zM1377.6 391.5l2.8 -0.2l-0.9 2.3zM1386.0 393.5l2.6 -0.8l-0.4 2.4zM1393.4 394.3l2.3 -1.4l0.2 2.4zM1401.5 395.2l2.0 -2.0l0.8 2.3zM1410.4 395.6l1.6 -2.5l1.3 2.2zM1417.9 395.5l1.2 -2.7l1.7 2.0zM1427.9 396.8l0.8 -3.1l2.1 1.8zM1436.4 396.4l0.6 -3.3l2.4 1.7zM1443.7 398.3l0.4 -3.6l2.7 1.6zM1450.9 399.7l0.1 -3.8l2.9 1.6zM1459.9 399.1l-0.0 -4.1l3.2 1.5zM1318.0 393.0l2.9 3.0l-3.4 1.2zM1326.6 394.1l2.8 2.7l-3.2 1.2zM1333.3 394.0l2.8 2.4l-2.9 1.3zM1341.1 394.6l2.7 2.1l-2.7 1.4zM1350.5 396.6l2.7 1.7l-2.4 1.4zM1357.8 396.2l2.7 1.4l-2.1 1.6zM1367.1 398.4l2.7 0.9l-1.8 1.8zM1373.2 397.0l2.8 0.4l-1.4 2.0zM1382.9 399.1l2.6 -0.4l-0.7 2.3zM1390.2 400.3l2.4 -1.1l-0.1 2.3zM1399.2 400.1l2.0 -1.9l0.7 2.3zM1408.2 403.3l1.3 -2.5l1.4 2.0zM1415.2 402.8l1.0 -2.7l1.8 1.9zM1423.3 403.7l0.6 -3.0l2.1 1.7zM1431.5 404.2l0.4 -3.2l2.4 1.5zM1441.4 405.0l0.1 -3.4l2.7 1.4zM1449.3 405.0l-0.1 -3.7l2.9 1.3zM1457.6 405.8l-0.3 -4.0l3.2 1.3zM1464.3 407.8l-0.5 -4.1l3.4 1.2zM1320.9 399.0l2.6 3.1l-3.4 0.9zM1331.5 401.9l2.5 2.8l-3.1 0.9zM1338.2 401.2l2.5 2.5l-2.9 1.0zM1347.7 403.5l2.3 2.2l-2.6 1.0zM1355.3 403.4l2.4 1.9l-2.4 1.2zM1363.1 405.0l2.4 1.6l-2.2 1.3zM1370.8 403.6l2.6 1.0l-1.8 1.6zM1377.8 405.5l2.6 0.5l-1.4 1.8zM1387.2 406.9l2.5 -0.6l-0.5 2.2zM1395.4 407.4l2.0 -1.6l0.5 2.2zM1402.9 408.4l1.4 -2.2l1.2 2.0zM1411.4 409.3l0.8 -2.6l1.8 1.7zM1421.0 409.8l0.4 -2.9l2.2 1.4zM1428.0 411.6l0.0 -3.1l2.4 1.2zM1436.7 411.3l-0.2 -3.2l2.6 1.1zM1446.4 413.6l-0.5 -3.5l2.9 0.9zM1452.6 412.4l-0.5 -3.7l3.1 1.0zM1461.6 414.4l-0.8 -3.9l3.4 0.9zM1469.4 415.2l-0.9 -4.1l3.6 0.8zM1317.6 405.7l2.4 3.4l-3.6 0.6zM1325.8 406.6l2.3 3.2l-3.3 0.6zM1335.9 408.4l2.1 2.8l-3.0 0.6zM1343.4 409.3l2.1 2.6l-2.8 0.6zM1350.7 408.9l2.1 2.3l-2.6 0.8zM1359.0 411.4l2.0 2.1l-2.5 0.7zM1367.3 410.9l2.1 1.8l-2.2 1.0zM1375.1 412.3l2.2 1.4l-1.9 1.2zM1383.7 412.4l2.4 0.4l-1.3 1.8zM1391.0 414.0l2.2 -1.0l-0.1 2.1zM1399.8 416.3l1.1 -2.2l1.3 1.8zM1408.6 418.0l0.3 -2.6l1.9 1.2zM1417.8 416.6l-0.0 -2.8l2.2 1.1zM1424.8 417.0l-0.3 -2.9l2.4 0.9zM1433.3 419.4l-0.6 -3.0l2.6 0.7zM1442.2 419.5l-0.8 -3.2l2.8 0.6zM1449.1 420.8l-0.9 -3.4l3.0 0.6zM1458.4 420.6l-1.1 -3.7l3.3 0.6zM1466.9 420.8l-1.2 -4.0l3.5 0.6zM1314.2 412.4l2.1 3.8l-3.7 0.2zM1323.7 414.8l1.9 3.5l-3.5 0.2zM1331.9 414.2l1.9 3.2l-3.2 0.3zM1339.5 416.6l1.7 3.0l-3.0 0.2zM1347.8 416.1l1.7 2.7l-2.8 0.3zM1355.1 416.7l1.6 2.5l-2.6 0.3zM1365.4 416.9l1.6 2.2l-2.4 0.4zM1372.9 419.4l1.4 2.1l-2.2 0.3zM1381.0 418.5l1.7 1.6l-2.0 0.7zM1388.1 419.0l2.2 0.6l-1.3 1.6zM1395.9 422.5l0.9 -2.1l1.3 1.6zM1406.3 425.0l-0.5 -2.4l2.1 0.5zM1414.2 424.3l-0.7 -2.5l2.3 0.5zM1422.8 426.3l-1.0 -2.6l2.4 0.2zM1429.8 425.7l-1.0 -2.8l2.6 0.3zM1437.5 425.2l-1.1 -3.0l2.7 0.3zM1447.0 425.9l-1.2 -3.2l3.0 0.3zM1454.9 426.8l-1.3 -3.5l3.2 0.3zM1463.5 429.4l-1.6 -3.7l3.5 0.2zM1472.2 429.3l-1.6 -4.0l3.7 0.2zM1319.3 420.3l1.7 3.9l-3.6 -0.1zM1327.3 421.1l1.6 3.6l-3.4 -0.1zM1337.3 424.0l1.3 3.3l-3.0 -0.2zM1345.9 422.7l1.3 3.0l-2.8 -0.1zM1352.9 425.2l1.1 2.9l-2.7 -0.3zM1361.2 424.5l1.0 2.6l-2.5 -0.2zM1370.3 426.3l0.7 2.5l-2.3 -0.4zM1377.0 425.9l0.7 2.3l-2.1 -0.4zM1385.3 425.5l0.5 2.2l-2.0 -0.5zM1396.0 427.7l-1.8 1.2l-0.2 -1.9zM1403.4 430.6l-1.6 -1.6l1.9 -0.7zM1410.0 431.6l-1.5 -1.9l2.1 -0.5zM1418.0 430.9l-1.4 -2.3l2.3 -0.2zM1428.0 431.8l-1.5 -2.5l2.5 -0.2zM1434.2 432.9l-1.6 -2.6l2.7 -0.2zM1442.1 434.2l-1.6 -2.8l2.8 -0.2zM1450.3 433.2l-1.6 -3.1l3.1 -0.1zM1460.8 435.6l-1.9 -3.4l3.4 -0.2zM1469.0 437.4l-2.0 -3.7l3.6 -0.2zM1317.1 426.4l1.4 4.1l-3.7 -0.4zM1324.0 429.0l1.2 4.0l-3.5 -0.6zM1332.8 430.0l1.0 3.6l-3.2 -0.6zM1341.6 431.2l0.8 3.3l-2.9 -0.6zM1350.1 432.4l0.6 3.1l-2.7 -0.7zM1357.9 432.6l0.5 2.9l-2.5 -0.7zM1367.0 432.7l0.3 2.7l-2.3 -0.8zM1374.5 432.8l0.0 2.6l-2.0 -1.0zM1383.3 433.0l-0.5 2.3l-1.6 -1.3zM1391.6 435.2l-1.5 1.7l-0.8 -1.8zM1399.6 435.8l-2.2 0.3l0.6 -1.9zM1406.9 438.3l-2.3 -0.8l1.5 -1.5zM1416.6 439.4l-2.1 -1.5l2.0 -1.1zM1424.2 439.4l-2.0 -1.9l2.3 -0.8zM1430.8 440.6l-2.0 -2.2l2.5 -0.8zM1439.8 440.8l-2.0 -2.5l2.7 -0.7zM1447.2 441.6l-2.1 -2.7l2.9 -0.6zM1455.5 443.0l-2.2 -3.0l3.2 -0.6zM1465.0 443.3l-2.3 -3.4l3.5 -0.5zM1473.0 443.4l-2.4 -3.7l3.7 -0.5zM1320.9 434.6l0.9 4.2l-3.6 -0.8zM1328.8 434.7l0.8 3.9l-3.4 -0.8zM1337.7 438.3l0.5 3.6l-3.0 -1.0zM1346.7 437.9l0.4 3.3l-2.7 -1.0zM1353.6 437.8l0.2 3.1l-2.5 -1.0zM1362.6 439.7l-0.1 2.9l-2.3 -1.2zM1371.9 440.0l-0.4 2.7l-1.9 -1.4zM1380.4 441.6l-1.0 2.4l-1.5 -1.7zM1388.8 441.4l-1.5 1.8l-0.9 -1.9zM1396.2 442.0l-2.1 1.1l-0.1 -2.1zM1404.5 443.0l-2.4 0.0l0.9 -1.9zM1412.3 444.2l-2.5 -0.8l1.6 -1.6zM1420.3 445.0l-2.4 -1.3l2.0 -1.4zM1427.2 446.2l-2.4 -1.7l2.2 -1.2zM1436.3 447.1l-2.4 -2.0l2.5 -1.1zM1443.7 447.6l-2.4 -2.3l2.7 -1.0zM1452.3 447.6l-2.4 -2.7l3.0 -0.9zM1461.0 450.1l-2.6 -3.0l3.3 -0.9zM1469.0 451.2l-2.7 -3.3l3.6 -0.9zM1326.8 442.6l0.5 4.2l-3.4 -1.2zM1334.8 442.7l0.3 3.8l-3.1 -1.2zM1342.2 444.0l0.1 3.5l-2.8 -1.2zM1351.6 446.2l-0.2 3.2l-2.5 -1.4zM1358.8 447.2l-0.4 3.1l-2.2 -1.5zM1366.6 445.7l-0.6 2.9l-2.0 -1.6zM1375.6 448.1l-1.1 2.5l-1.6 -1.9zM1385.4 448.7l-1.6 2.0l-1.0 -2.1zM1391.7 449.6l-2.0 1.6l-0.5 -2.2zM1399.7 451.1l-2.4 0.9l0.2 -2.3zM1408.5 450.5l-2.6 0.0l1.0 -2.1zM1416.2 453.0l-2.7 -0.5l1.5 -1.9zM1426.0 452.4l-2.7 -1.2l2.0 -1.6zM1434.4 454.7l-2.7 -1.6l2.3 -1.5zM1440.7 453.3l-2.6 -1.9l2.5 -1.3zM1448.6 455.0l-2.7 -2.2l2.8 -1.3zM1456.9 455.4l-2.8 -2.6l3.1 -1.2zM1465.6 458.3l-3.0 -2.9l3.4 -1.3zM1473.3 459.3l-3.1 -3.2l3.7 -1.2zM1331.4 450.2l-0.0 4.1l-3.2 -1.6zM1339.0 450.9l-0.2 3.8l-2.9 -1.6zM1346.5 452.3l-0.4 3.5l-2.6 -1.6zM1356.6 454.2l-0.7 3.2l-2.2 -1.8zM1363.9 455.1l-1.0 3.0l-1.9 -1.9zM1373.4 454.2l-1.3 2.6l-1.6 -2.1zM1379.8 456.1l-1.7 2.3l-1.2 -2.2zM1390.0 456.7l-2.1 1.8l-0.6 -2.4zM1398.3 457.2l-2.5 1.1l0.1 -2.4zM1405.4 457.0l-2.7 0.6l0.6 -2.3zM1413.3 459.8l-2.9 0.0l1.1 -2.3zM1420.6 458.7l-2.9 -0.6l1.6 -2.1zM1428.6 460.3l-2.9 -1.0l1.9 -1.9zM1438.0 461.2l-2.9 -1.4l2.3 -1.8zM1446.9 462.4l-3.0 -1.8l2.6 -1.7zM1454.6 463.2l-3.1 -2.2l2.9 -1.6zM1462.6 463.0l-3.2 -2.6l3.2 -1.5zM1470.0 465.3l-3.3 -2.9l3.5 -1.5zM1327.5 456.2l-0.2 4.4l-3.4 -1.8zM1335.4 458.2l-0.5 4.1l-3.0 -1.9zM1344.6 458.2l-0.6 3.7l-2.6 -1.9zM1351.6 459.1l-0.8 3.4l-2.3 -1.9zM1360.7 460.3l-1.1 3.1l-2.0 -2.1zM1369.6 461.0l-1.5 2.8l-1.6 -2.2zM1377.4 462.6l-1.8 2.5l-1.2 -2.4zM1386.5 463.6l-2.2 2.0l-0.7 -2.5zM1394.7 464.1l-2.5 1.5l-0.2 -2.6zM1400.6 464.1l-2.7 1.1l0.2 -2.6zM1410.6 465.2l-3.0 0.4l0.8 -2.5zM1418.4 465.4l-3.1 -0.1l1.3 -2.4zM1426.5 466.8l-3.1 -0.6l1.6 -2.2zM1435.3 466.8l-3.1 -1.1l2.0 -2.0zM1442.2 469.1l-3.2 -1.3l2.3 -2.0zM1450.6 469.4l-3.3 -1.8l2.6 -1.9zM1458.7 469.6l-3.4 -2.2l3.0 -1.9zM1467.2 472.5l-3.6 -2.5l3.3 -1.9zM1341.4 466.4l-1.0 4.0l-2.8 -2.3zM1348.2 467.4l-1.2 3.7l-2.5 -2.3zM1357.9 467.0l-1.3 3.3l-2.0 -2.3zM1365.6 467.2l-1.6 2.9l-1.7 -2.4zM1374.3 468.9l-1.9 2.6l-1.3 -2.5zM1382.4 470.6l-2.3 2.3l-0.9 -2.6zM1388.9 471.4l-2.5 1.9l-0.6 -2.7zM1397.2 470.4l-2.7 1.4l-0.1 -2.7zM1406.3 471.6l-3.0 0.9l0.5 -2.7zM1414.9 472.3l-3.1 0.3l0.9 -2.6zM1423.0 474.4l-3.3 -0.1l1.3 -2.5zM1431.9 474.3l-3.3 -0.6l1.7 -2.4zM1438.6 475.4l-3.4 -0.9l2.0 -2.3zM1447.9 477.3l-3.6 -1.4l2.4 -2.3zM1456.0 477.1l-3.7 -1.8l2.8 -2.2zM1463.7 478.7l-3.8 -2.1l3.1 -2.2zM1346.5 472.2l-1.3 3.9l-2.5 -2.5zM1352.9 474.4l-1.6 3.7l-2.3 -2.6zM1362.2 475.6l-1.8 3.2l-1.8 -2.7zM1371.1 475.9l-2.1 2.8l-1.4 -2.7zM1379.1 477.0l-2.4 2.5l-1.1 -2.8zM1386.5 477.3l-2.6 2.1l-0.7 -2.9zM1395.9 477.9l-2.9 1.6l-0.2 -2.9zM1402.8 478.8l-3.1 1.3l0.2 -2.9zM1411.4 478.7l-3.3 0.7l0.7 -2.8zM1419.5 479.4l-3.4 0.3l1.1 -2.8zM1427.2 481.1l-3.5 -0.1l1.4 -2.7zM1435.9 482.3l-3.7 -0.6l1.8 -2.7zM1444.3 481.9l-3.8 -1.0l2.2 -2.6zM1452.1 484.5l-4.0 -1.3l2.5 -2.6zM1350.1 480.0l-1.8 3.9l-2.4 -2.8zM1358.6 481.0l-2.0 3.6l-2.0 -2.9zM1366.9 482.1l-2.3 3.2l-1.6 -3.0zM1374.3 484.0l-2.5 2.9l-1.3 -3.1zM1384.4 484.3l-2.8 2.4l-0.8 -3.1zM1390.6 485.7l-3.0 2.1l-0.5 -3.2zM1399.3 485.3l-3.2 1.6l-0.0 -3.1zM1407.5 487.4l-3.5 1.2l0.4 -3.2zM1416.5 486.8l-3.6 0.7l0.8 -3.1zM1424.0 487.9l-3.7 0.3l1.2 -3.0zM1432.4 489.4l-3.9 -0.2l1.6 -3.0zM1441.9 488.9l-4.0 -0.7l2.0 -2.9zM1450.1 491.7l-4.2 -1.0l2.4 -2.9zM1356.8 487.3l-2.2 3.8l-2.1 -3.2zM1363.5 488.3l-2.5 3.5l-1.8 -3.2zM1372.0 489.3l-2.7 3.2l-1.4 -3.3zM1381.2 489.9l-3.0 2.7l-1.0 -3.4zM1389.7 491.3l-3.3 2.3l-0.6 -3.4zM1397.8 492.1l-3.5 1.9l-0.2 -3.4zM1404.1 493.9l-3.7 1.6l0.1 -3.5zM1412.5 494.6l-3.9 1.1l0.6 -3.5zM1422.2 494.4l-4.0 0.6l1.1 -3.4zM1429.2 495.9l-4.2 0.2l1.4 -3.4zM1438.8 497.7l-4.3 -0.2l1.8 -3.3zM1369.9 495.5l-2.9 3.4l-1.5 -3.5zM1377.6 497.2l-3.2 3.1l-1.2 -3.7zM1386.1 497.1l-3.4 2.7l-0.8 -3.7zM1394.3 499.3l-3.7 2.3l-0.4 -3.8zM1401.6 499.0l-3.9 1.9l-0.0 -3.7zM1410.5 499.8l-4.1 1.4l0.4 -3.7zM1417.9 500.5l-4.2 1.0l0.8 -3.7zM1426.0 502.0l-4.4 0.6l1.2 -3.6zM1477.6 459.2l-3.1 -3.4l3.8 -1.2zM1475.4 466.9l-3.4 -3.0l3.6 -1.6zM1472.4 474.2l-3.7 -2.6l3.4 -1.9zM1468.5 481.0l-3.9 -2.2l3.2 -2.2zM1463.8 487.2l-4.1 -1.8l2.9 -2.5zM1458.4 492.9l-4.3 -1.4l2.7 -2.8zM1452.4 497.9l-4.4 -0.9l2.4 -3.1zM1445.9 502.1l-4.5 -0.5l2.0 -3.3zM1438.8 505.5l-4.6 -0.0l1.7 -3.6zM1431.3 508.1l-4.6 0.5l1.3 -3.8zM1423.4 509.7l-4.6 1.0l1.0 -3.9zM1415.2 510.4l-4.5 1.4l0.6 -4.0zM1406.7 510.2l-4.4 1.9l0.1 -4.1zM1397.9 509.0l-4.1 2.3l-0.3 -4.1zM1389.1 507.0l-3.8 2.7l-0.7 -4.0zM1380.3 504.2l-3.5 3.1l-1.1 -3.9zM1371.5 500.6l-3.1 3.4l-1.5 -3.7zM1363.1 496.2l-2.7 3.6l-1.8 -3.5zM1355.0 491.0l-2.3 3.9l-2.1 -3.3zM1347.3 485.2l-1.9 4.1l-2.5 -3.0zM1340.3 478.7l-1.5 4.2l-2.7 -2.7zM1333.8 471.6l-1.0 4.4l-3.0 -2.4zM1328.0 464.0l-0.6 4.5l-3.3 -2.1zM1323.0 455.8l-0.1 4.6l-3.5 -1.8zM1318.6 447.4l0.4 4.6l-3.7 -1.4zM1315.0 438.7l0.8 4.6l-3.9 -1.1zM1312.3 429.9l1.3 4.5l-4.0 -0.7zM1310.3 421.1l1.8 4.3l-4.0 -0.2zM1309.3 412.5l2.2 4.1l-4.0 0.2zM1309.2 404.0l2.6 3.8l-4.0 0.6zM1310.0 395.8l2.9 3.5l-3.8 1.0zM1311.7 388.0l3.2 3.2l-3.7 1.3zM1314.4 380.5l3.5 2.8l-3.5 1.7zM1318.0 373.6l3.7 2.3l-3.2 2.0zM1322.5 367.2l3.8 1.9l-2.9 2.3zM1327.8 361.5l3.9 1.5l-2.6 2.5zM1334.0 356.4l3.8 1.0l-2.2 2.6zM1340.9 352.0l3.7 0.6l-1.9 2.7zM1348.5 348.4l3.6 0.2l-1.5 2.7zM1356.7 345.4l3.3 -0.2l-1.1 2.7zM1365.4 343.2l3.1 -0.5l-0.8 2.6zM1374.2 341.6l2.8 -0.8l-0.5 2.5zM1383.1 340.9l2.6 -1.0l-0.2 2.5zM1391.9 341.0l2.5 -1.3l0.0 2.4zM1400.4 342.0l2.4 -1.5l0.3 2.5zM1408.7 343.9l2.3 -1.9l0.6 2.6zM1416.6 346.9l2.3 -2.2l0.9 2.6zM1424.3 350.8l2.2 -2.6l1.2 2.7zM1431.7 355.7l2.0 -3.0l1.6 2.7zM1438.8 361.4l1.8 -3.4l2.0 2.7zM1445.6 367.8l1.5 -3.7l2.3 2.6zM1451.9 374.8l1.2 -4.0l2.7 2.4zM1457.8 382.4l0.8 -4.2l3.0 2.2zM1463.0 390.4l0.3 -4.4l3.3 1.9zM1467.7 398.8l-0.1 -4.5l3.5 1.6zM1471.6 407.5l-0.6 -4.5l3.7 1.2zM1474.7 416.3l-1.1 -4.5l3.9 0.8zM1477.0 425.2l-1.5 -4.4l4.0 0.4zM1478.5 434.0l-2.0 -4.2l4.0 0.0zM1479.1 442.7l-2.4 -4.0l4.0 -0.4zM1478.8 451.1l-2.8 -3.7l3.9 -0.8z" fill="#000"/></svg>
</body></html>
